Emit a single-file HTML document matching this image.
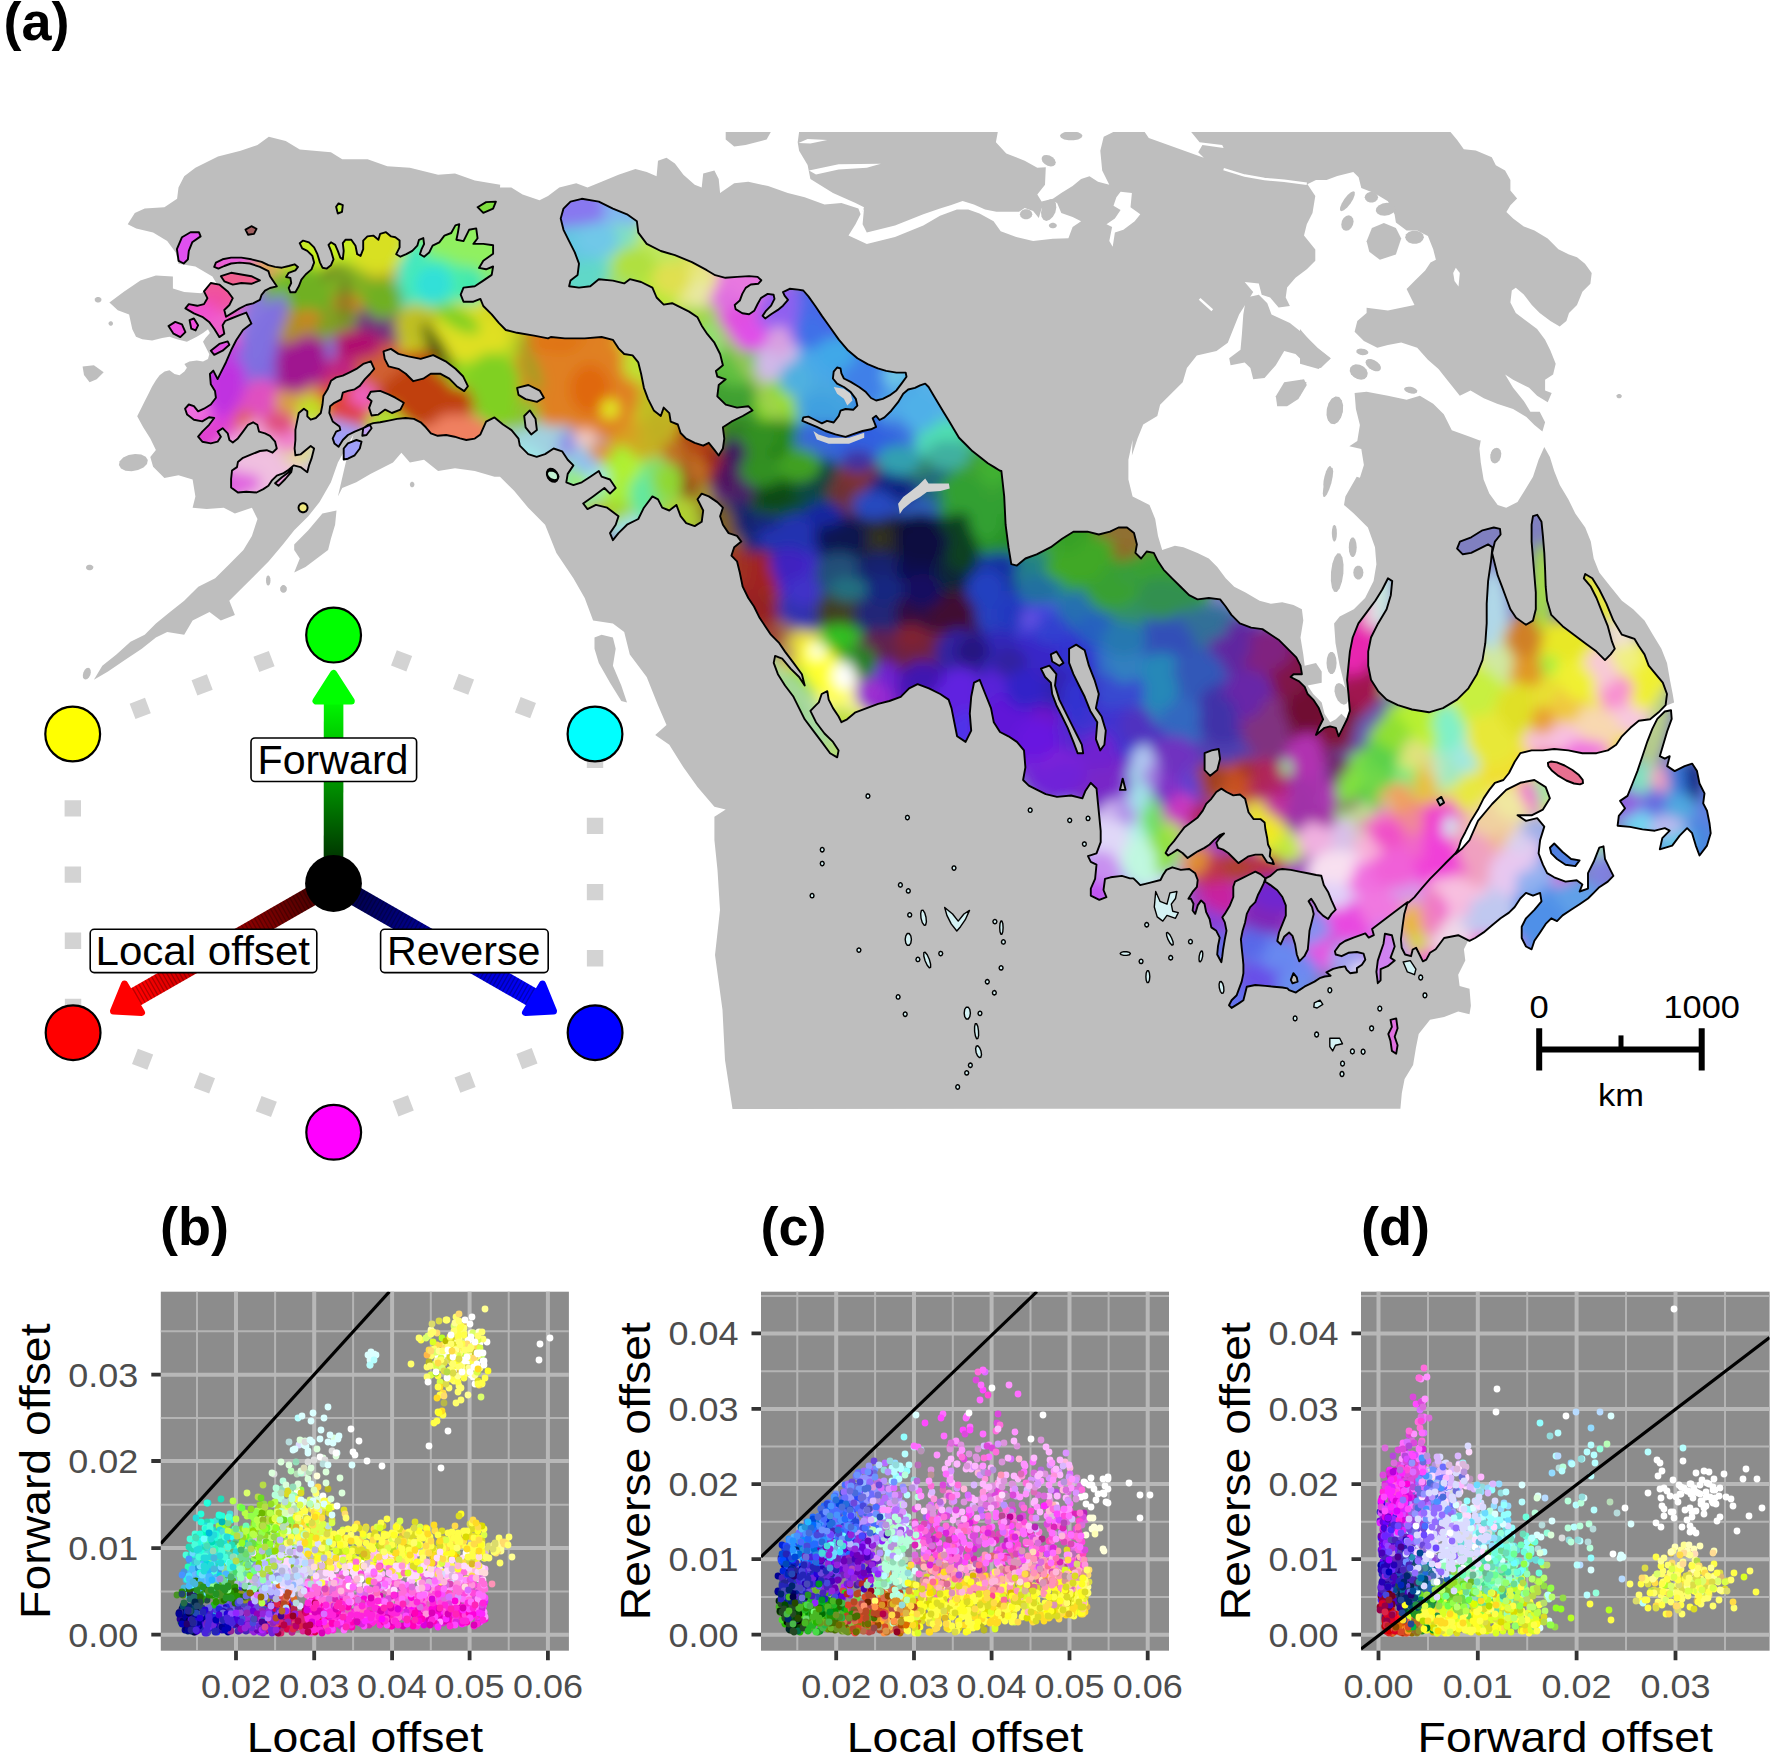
<!DOCTYPE html>
<html><head><meta charset="utf-8"><title>Figure</title>
<style>html,body{margin:0;padding:0;background:#fff}svg{display:block}text{font-family:"Liberation Sans",sans-serif}</style>
</head><body>
<svg width="1772" height="1760" viewBox="0 0 1772 1760">
<defs><clipPath id="mapclip"><rect x="0" y="132" width="1772" height="977"/></clipPath></defs>
<rect width="1772" height="1760" fill="#fff"/>
<g clip-path="url(#mapclip)">
<g id="land">
<polygon fill="#bebebe" points="500.2,184.7 474.8,180.4 455,173.4 438.1,174.8 409.9,167.7 387.3,166.3 367.6,159.3 342.2,159.3 330.9,152.2 299.8,149.4 285.7,140.9 268.8,136.7 257.5,145.1 240.6,150.8 218,156.4 195.4,167.7 184.2,176.2 178.5,187.5 177.1,198.8 164.4,207.2 144.7,208.6 134.8,212.9 127.7,224.2 136.2,228.4 153.1,232.6 167.2,241.1 175.7,252.4 178.5,263.7 195.4,266.5 212.4,276.4 216.6,283.4 201.1,293.3 184.2,291.9 172.9,288.5 172.9,276.4 155.9,275.5 140.4,280.6 123.5,291.9 109.4,302.6 117.8,310.2 129.1,314.4 132.3,329.3 136,336.8 142.2,339.3 152.1,340.5 162.1,338 169.5,336.8 177,339.3 186.9,341.7 196.8,336.8 203,333 208,329.3 209.9,333 205.5,338 203,341.7 205.5,346.7 209.3,354.2 208,359.1 203,361.6 196.8,360.4 189.4,361.6 184.4,364.1 186.9,367.8 184.4,371.5 179.5,375.3 174.5,374 169.5,370.3 164.6,371.5 159.6,375.3 155.9,380.2 152.1,386.4 148.4,393.9 144.7,401.3 141,408.8 137.2,416.2 143.2,427.3 150.3,438.6 155.9,449.9 150.3,456.9 153.1,466.8 164.4,478.1 178.5,475.3 192.6,479.5 195.4,496.4 192.6,507.7 206.7,509.1 223.7,507.7 234.9,513.4 251.9,507.7 257.5,519 251.9,535.9 243.4,550 229.3,564.2 215.2,578.3 198.3,586.7 184.2,600.8 170,612.1 155.9,623.4 144.7,634.7 130.5,641.7 116.4,654.4 102.3,665.7 93.9,679.8 108,671.4 124.9,660.1 141.8,648.8 155.9,637.5 167.2,631.9 184.2,634.7 192.6,620.6 209.5,612.1 220.8,620.6 234.9,614.9 229.3,600.8 240.6,589.5 254.7,575.4 268.8,561.3 282.9,544.4 294.2,530.3 308.3,516.2 319.6,502.1 330.9,482.3 337.9,462.6 353.5,434.4 346.4,459.8 337.9,496.4 342.2,488 356.3,482.3 370.4,473.9 393,462.6 401.4,452.7 409.9,462.6 424,459.8 438.1,471 455,468.2 474.8,471 494.5,476.7 500,476.7 514.1,490.8 528.2,507.7 545.1,524.7 556.4,552.9 573.4,578.3 584.7,598 593.1,620.6 612.9,623.4 624.2,631.9 629.8,654.4 646.7,677 658,705.2 666.5,725 655.2,734.9 669.3,744.7 683.4,767.3 697.5,787.1 714.4,806.8 725.7,809.6 714.4,816.7 714.4,840.1 717.5,870 720,910 715,955 722.5,1010 725,1060 732.5,1109 1400.4,1108.7 1401.8,1093.2 1404.6,1079.1 1413.1,1065 1415.9,1048.1 1418.7,1034 1430,1019.8 1444.1,1017 1458.2,1011.4 1469.5,1014.2 1470.9,1005.7 1469.5,988.8 1459.6,986 1458.2,974.7 1465.3,960.6 1463.9,949.3 1469.5,938 1441.3,892.9 1441.3,806.8 1497.7,736.3 1610.6,736.3 1652.9,710.9 1674.1,702.4 1672.7,694 1669.9,679.8 1667,662.9 1661.4,648.8 1652.9,634.7 1644.5,620.6 1633.2,609.3 1621.9,600.8 1610.6,586.7 1599.3,572.6 1593.7,558.5 1590.8,541.6 1585.2,527.5 1575.3,513.4 1568.3,499.3 1559.8,485.1 1554.2,471 1549.9,456.9 1544.3,447.1 1538.6,459.8 1533,476.7 1524.5,490.8 1517.5,502.1 1506.2,507.7 1497.7,504.9 1489.3,493.6 1483.6,479.5 1480.8,462.6 1479.4,448.5 1480.8,440 1481.1,441 1470.5,437 1451.8,430.3 1443.8,414.3 1433.2,403.7 1419.9,395.7 1406.6,399.7 1387.9,395.7 1366.6,391.7 1354.6,393 1355.9,409 1359.9,425 1357.3,441 1349.3,446.3 1361.3,449 1363.9,464.9 1359.9,477.7 1356.7,476.7 1345.4,496.4 1344,504.9 1353.8,513.4 1367.9,527.5 1375,547.2 1376.4,564.2 1373.6,581.1 1365.1,598 1353.8,609.3 1339.7,616.4 1334.1,623.4 1335.5,643.2 1339.7,665.7 1344,682.7 1348.2,699.6 1351,710.9 1352.7,710.9 1347.1,719.3 1341.4,713.7 1335.8,719.3 1330.1,722.2 1324.5,713.7 1321.7,702.4 1313.2,694 1307.6,685.5 1321.7,682.7 1321.7,671.4 1316,662.9 1304.7,665.7 1303.3,654.4 1300.5,637.5 1303.3,620.6 1301.9,609.3 1293.5,605.1 1282.2,602.2 1270.9,603.7 1259.6,600.8 1245.5,592.4 1234.2,586.7 1225.7,578.3 1217.3,567 1208.8,558.5 1197.5,552.9 1183.4,547.2 1174.9,545.8 1162.2,550 1158,535.9 1155.2,519 1149.5,504.9 1141.1,500.7 1132.6,496.4 1128.4,479.5 1128.4,459.8 1132.6,440 1131.9,455.5 1137.5,438.6 1143.2,424.5 1157.3,416 1160.1,404.7 1171.4,393.5 1182.7,382.2 1186.9,368.1 1196.8,355.4 1216.5,351.1 1227.8,342.7 1233.5,328.6 1239.1,314.4 1246.2,303.2 1253.2,291.9 1244.7,282 1258.8,283.4 1261.7,294.7 1270.1,297.5 1278.6,307.4 1289.9,306 1285.7,297.5 1287.1,287.6 1295.5,277.8 1306.8,269.3 1315.3,260.8 1315.3,249.5 1304,235.4 1306.8,224.2 1312.5,212.9 1315.3,195.9 1306.8,183.2 1305.3,185.2 1316,179.9 1326.6,179.9 1337.3,175.9 1353.3,171.9 1358.6,177.3 1361.3,187.9 1374.6,193.2 1387.9,201.2 1394.6,214.5 1395.9,222.5 1406.6,230.5 1417.2,230.5 1427.9,235.9 1433.2,249.2 1435.9,259.8 1430.5,262.5 1425.2,270.5 1414.5,281.1 1406.6,289.1 1414.5,305.1 1401.2,307.8 1387.9,310.4 1366.6,307.8 1366.6,313.1 1357.3,321.1 1354.6,331.8 1363.9,341.1 1377.3,347.7 1387.9,345.1 1401.2,342.4 1417.2,347.7 1427.9,359.7 1438.5,369 1449.2,382.4 1459.8,395.7 1470.5,390.4 1483.8,398.3 1497.1,403.7 1513.1,409 1526.4,417 1534.4,425 1542.4,431.6 1545.1,422.3 1539.7,411.7 1530.4,411.7 1523.8,401 1513.1,387.7 1505.1,374.4 1513.1,379.7 1529.1,387.7 1537.1,395.7 1547.7,402.3 1551.7,393 1545.1,390.4 1545.1,379.7 1553.1,374.4 1555.7,363.7 1550.4,350.4 1545.1,339.7 1537.1,329.1 1526.4,321.1 1515.8,313.1 1510.4,302.5 1511.8,290.5 1515.8,287.8 1523.8,294.5 1531.8,305.1 1539.7,313.1 1550.4,321.1 1559.7,326.4 1566.4,321.1 1569,313.1 1577,305.1 1582.4,291.8 1590.4,283.8 1591.7,273.1 1585,263.8 1577,257.2 1569,254.5 1558.4,249.2 1547.7,238.5 1534.4,230.5 1523.8,226.5 1513.1,218.5 1506.4,211.9 1510.4,205.2 1517.1,198.6 1510.4,190.6 1510.4,179.9 1505.1,170.6 1495.8,165.3 1491.8,157.3 1475.8,150.6 1463.8,149.3 1457.2,140 1450.5,132 1191.1,131.9 1199.6,142.3 1222.2,145.1 1223.6,148 1202.4,145.1 1198.2,152.2 1203.8,157.8 1148.8,138.1 1144.6,131.9 1113.5,131.9 1103.7,136.7 1100.3,150.8 1102.2,170.5 1109.3,184.7 1098,181.8 1089.5,176.2 1081.1,179 1072.6,186.1 1061.3,193.1 1052.9,198.8 1041.6,201.6 1037.3,194.5 1045,184.7 1045.8,167.2 1037.3,167.7 1024.7,160.7 1006.3,153.6 995.9,142.3 997.8,131.9 799.1,131.9 797.7,142.3 799.1,150.8 807.6,164.9 810.4,179 833,193.1 855.5,203 864,207.2 861.2,215.7 858.4,208.6 841.4,203 824.5,204.4 804.7,197.3 787.8,193.1 768.1,186.1 748.3,181.8 734.2,183.2 720.1,193.1 718.7,179 714.4,170.5 703.2,173.4 701.7,187.5 694.7,184.7 683.4,174.8 674.9,163.5 666.5,157.8 658,160.7 656.6,176.2 646.7,172 635.4,169.1 618.5,174.8 601.6,181.8 587.5,187.5 576.2,183.2 559.3,187.5 548,195.9 539.5,200.2 522.6,194.5 511.3,187.5 500,187.5"/>
<polygon fill="#fff" points="864,208.6 862.6,224.2 866.8,232.6 895,225.6 923.3,214.3 940,208.6 951.3,205 962.6,201 973.9,204.4 985.1,209.5 996.4,211.7 1019,211.7 1024.7,208.1 1033.1,210.9 1038.8,217.9 1041.6,208.6 1050,200.2 1057.1,203 1061.3,212.9 1072.6,217.1 1081.1,221.3 1072.6,227 1068.4,238.3 1052.9,238.8 1033.1,241.1 1016.2,236.9 1000.7,231.2 993.6,221.3 979.5,213.4 968.2,209.5 956.9,209.5 940,215.7 923.3,225.6 895,236.9 866.8,243.9 848.5,235.4 855.5,224.2 859.8,215.7"/>
<polygon fill="#fff" points="809,170.5 838.6,164.3 880.9,163.8 866.8,167.7 838.6,169.4 816,174.5"/>
<polygon fill="#fff" points="798.5,142.9 807.6,138.9 827.3,140.1 810.4,143.5"/>
<polygon fill="#fff" points="1120.6,191.7 1131.9,193.1 1130.5,207.2 1140.3,214.3 1134.7,221.3 1123.4,229.8 1114.9,232.6 1112.7,246.7 1109.3,241.1 1112.1,227 1106.5,224.2 1114.9,218.5 1120.6,210 1113.5,205.8 1116.4,197.3"/>
<polygon fill="#fff" points="1455.8,267.8 1459.8,273.1 1458.5,286.5 1454.5,281.1 1453.2,273.1"/>
<polyline fill="none" stroke="#fff" stroke-width="2.5" points="1223.6,169.1 1244.7,175.6 1264.5,179 1284.2,180.7 1306.8,183.8"/>
<polyline fill="none" stroke="#fff" stroke-width="2.5" points="1199.6,298.9 1212.3,310.2"/>
<polygon fill="#bebebe" points="725.7,131.9 770.9,131.9 766.6,139.5 745.5,145.1 734.2,146.6 725.7,139.5"/>
<polygon fill="#bebebe" points="1055.2,164.5 1053.5,166 1050.8,166.5 1047.6,165.8 1044.7,164.1 1042.5,161.7 1041.6,159.1 1042,156.9 1043.8,155.3 1046.5,154.9 1049.6,155.5 1052.6,157.2 1054.7,159.6 1055.7,162.2"/>
<polygon fill="#bebebe" points="1082.5,135.8 1081.4,137.8 1078.2,139.4 1073.7,140.2 1068.7,140.2 1064.2,139.4 1061,137.8 1059.9,135.8 1061,133.9 1064.2,132.3 1068.7,131.4 1073.7,131.4 1078.2,132.3 1081.4,133.9"/>
<polygon fill="#bebebe" points="1032.3,214.3 1031.7,216.5 1029.9,218.2 1027.4,219.2 1024.7,219.2 1022.2,218.2 1020.5,216.5 1019.9,214.3 1020.5,212.1 1022.2,210.3 1024.7,209.3 1027.4,209.3 1029.9,210.3 1031.7,212.1"/>
<polygon fill="#bebebe" points="1056.8,225.6 1056.4,226.8 1055.3,227.8 1053.7,228.3 1052,228.3 1050.4,227.8 1049.3,226.8 1048.9,225.6 1049.3,224.3 1050.4,223.4 1052,222.8 1053.7,222.8 1055.3,223.4 1056.4,224.3"/>
<polygon fill="#bebebe" points="1055.3,212.5 1052.9,216.8 1049.7,219.8 1046.3,220.9 1043.4,219.8 1041.5,216.8 1041,212.5 1042,207.6 1044.3,203.3 1047.5,200.2 1050.9,199.2 1053.9,200.2 1055.8,203.3 1056.3,207.6"/>
<polygon fill="#bebebe" points="1366.6,241.2 1371.9,227.9 1383.9,223.1 1395.9,227.9 1401.2,238.5 1395.9,254.5 1379.9,259.8 1369.3,251.8"/>
<polygon fill="#bebebe" points="1350.5,203.4 1347.2,207.4 1343.9,210.2 1341.4,211.3 1340,210.3 1340.1,207.6 1341.7,203.6 1344.4,199.1 1347.6,195 1350.9,192.2 1353.4,191.2 1354.8,192.1 1354.7,194.9 1353.2,198.9"/>
<polygon fill="#bebebe" points="1352.9,225.1 1351.2,228.1 1348.7,230.2 1346,230.8 1343.5,229.9 1341.8,227.7 1341.3,224.5 1341.9,221.1 1343.6,218 1346.1,215.9 1348.9,215.3 1351.3,216.2 1353,218.4 1353.6,221.6"/>
<polygon fill="#bebebe" points="1378.1,197.2 1377.4,199.5 1375.5,201.4 1372.9,202.4 1369.9,202.4 1367.2,201.4 1365.4,199.5 1364.7,197.2 1365.4,194.9 1367.2,193.1 1369.9,192 1372.9,192 1375.5,193.1 1377.4,194.9"/>
<polygon fill="#bebebe" points="1395.7,207.5 1395.2,210.4 1392.9,213 1389.1,215 1384.6,215.7 1380.4,215.2 1377.3,213.5 1375.8,211 1376.3,208.1 1378.7,205.4 1382.5,203.5 1386.9,202.7 1391.1,203.2 1394.3,204.9"/>
<polygon fill="#bebebe" points="1423.9,237.2 1422.9,240.1 1420.4,242.4 1416.6,243.7 1412.5,243.7 1408.7,242.4 1406.1,240.1 1405.2,237.2 1406.1,234.3 1408.7,232 1412.5,230.7 1416.6,230.7 1420.4,232 1422.9,234.3"/>
<polygon fill="#bebebe" points="1246.2,297.5 1258.8,294.7 1267.3,303.2 1271.5,314.4 1289.9,322.9 1304,334.2 1318.1,348.3 1330.8,358.2 1320.9,368.1 1306.8,365.2 1295.5,354 1284.2,351.1 1275.8,365.2 1264.5,377.9 1253.2,379.3 1250.4,368.1 1244.7,362.4 1230.6,365.2 1229.2,358.2 1240.5,349.7 1241.9,334.2 1243.3,314.4"/>
<polygon fill="#bebebe" points="1275.8,396.3 1284.2,382.2 1304,379.3 1306.8,385 1298.4,399.1 1287.1,406.2 1277.2,406.2"/>
<polygon fill="#bebebe" points="1342.8,411.8 1341,417.6 1338,422.1 1334.4,424.2 1330.9,423.6 1328.3,420.4 1327,415.2 1327.3,409 1329.1,403.1 1332.1,398.7 1335.7,396.5 1339.2,397.1 1341.8,400.4 1343.1,405.6"/>
<polygon fill="#bebebe" points="1366.8,376.8 1364.6,378.9 1361.2,379.7 1357.5,379 1354,377 1351.5,374.1 1350.5,370.8 1351.2,367.8 1353.4,365.7 1356.8,364.9 1360.6,365.6 1364.1,367.6 1366.5,370.5 1367.5,373.8"/>
<polygon fill="#bebebe" points="1380.1,370.1 1378.3,371.2 1375.4,371.2 1372.1,369.9 1369.1,367.8 1366.8,365.1 1365.8,362.5 1366.2,360.4 1368,359.3 1370.8,359.3 1374.1,360.6 1377.2,362.7 1379.5,365.4 1380.5,368"/>
<polygon fill="#bebebe" points="1367.4,353 1366.6,354.2 1364.9,355 1362.6,355.2 1360.1,354.7 1358,353.8 1356.6,352.4 1356.3,351 1357.1,349.8 1358.8,349 1361.1,348.8 1363.6,349.2 1365.7,350.2 1367.1,351.5"/>
<polygon fill="#bebebe" points="1417.2,391.7 1416.3,392.8 1414.3,393.4 1411.8,393.3 1409.1,392.6 1406.9,391.4 1405.5,389.9 1405.2,388.5 1406.2,387.3 1408.1,386.7 1410.7,386.8 1413.3,387.5 1415.6,388.7 1417,390.2"/>
<polygon fill="#bebebe" points="1331.3,483.2 1329.2,489.6 1326.9,494.6 1324.8,497.1 1323.3,496.8 1322.8,493.5 1323.3,488.1 1324.7,481.5 1326.8,475 1329.1,470.1 1331.2,467.5 1332.6,467.9 1333.2,471.2 1332.7,476.6"/>
<polygon fill="#bebebe" points="1300,329.1 1313.3,345.1 1330.6,358.4 1318.6,369 1300,363.7"/>
<polygon fill="#bebebe" points="1300,379.7 1306.7,382.4 1300,395.7"/>
<polygon fill="#bebebe" points="1368.4,352.7 1367.6,353.9 1365.8,354.6 1363.4,354.8 1360.8,354.3 1358.6,353.4 1357.2,352.1 1356.8,350.7 1357.6,349.6 1359.4,348.8 1361.8,348.7 1364.4,349.1 1366.6,350.1 1368,351.4"/>
<polygon fill="#bebebe" points="1380.6,369.3 1378.9,370.7 1376,371 1372.6,370 1369.3,368.2 1366.8,365.6 1365.6,363 1365.9,360.8 1367.6,359.4 1370.5,359.1 1373.9,360.1 1377.2,362 1379.7,364.5 1380.9,367.1"/>
<polygon fill="#bebebe" points="1367.1,375.7 1364.9,378 1361.6,379.1 1357.6,378.7 1353.9,377 1351,374.2 1349.7,370.9 1350.2,367.8 1352.3,365.4 1355.6,364.3 1359.6,364.7 1363.3,366.5 1366.2,369.3 1367.5,372.5"/>
<polygon fill="#bebebe" points="1417,392.1 1416,393.1 1414,393.6 1411.2,393.5 1408.4,392.7 1405.9,391.5 1404.4,390 1404.1,388.6 1405.1,387.6 1407.1,387.1 1409.9,387.2 1412.7,388 1415.2,389.2 1416.7,390.7"/>
<polygon fill="#bebebe" points="1342.5,411.7 1340.7,417.5 1337.7,421.9 1334,423.9 1330.5,423.3 1327.8,420.1 1326.5,415 1326.8,408.9 1328.6,403.2 1331.6,398.8 1335.2,396.7 1338.7,397.3 1341.4,400.5 1342.8,405.7"/>
<polygon fill="#bebebe" points="1500.9,457 1499.5,460.2 1497.4,462.5 1494.9,463.5 1492.6,462.8 1491,460.8 1490.3,457.7 1490.6,454.2 1492.1,451 1494.2,448.7 1496.7,447.8 1499,448.4 1500.6,450.4 1501.3,453.5"/>
<polygon fill="#bebebe" points="1621.8,396.2 1621.5,397.1 1620.8,397.9 1619.7,398.3 1618.5,398.3 1617.5,397.9 1616.7,397.1 1616.5,396.2 1616.7,395.3 1617.5,394.6 1618.5,394.1 1619.7,394.1 1620.8,394.6 1621.5,395.3"/>
<polygon fill="#bebebe" points="1330,477.4 1328.5,482.1 1326.7,485.7 1325.1,487.5 1323.9,487.1 1323.3,484.7 1323.6,480.8 1324.6,476 1326.1,471.3 1327.9,467.7 1329.6,465.9 1330.8,466.2 1331.3,468.6 1331,472.6"/>
<polygon fill="#bebebe" points="1343.4,573.2 1342,581.6 1339.7,588.3 1336.9,591.9 1334.1,591.7 1332,587.7 1330.9,580.7 1331,572.1 1332.4,563.6 1334.7,556.9 1337.5,553.3 1340.2,553.6 1342.4,557.6 1343.5,564.6"/>
<polygon fill="#bebebe" points="1356.7,547.2 1356.3,551.5 1355.2,554.9 1353.6,556.9 1351.8,556.9 1350.2,554.9 1349.1,551.5 1348.8,547.2 1349.1,542.9 1350.2,539.5 1351.8,537.6 1353.6,537.6 1355.2,539.5 1356.3,542.9"/>
<polygon fill="#bebebe" points="1363.4,572.6 1362.9,575.7 1361.5,578.1 1359.5,579.5 1357.2,579.5 1355.2,578.1 1353.8,575.7 1353.3,572.6 1353.8,569.6 1355.2,567.1 1357.2,565.7 1359.5,565.7 1361.5,567.1 1362.9,569.6"/>
<polygon fill="#bebebe" points="1336.9,533.1 1336.7,536.8 1336,539.7 1334.9,541.4 1333.8,541.4 1332.8,539.7 1332.1,536.8 1331.8,533.1 1332.1,529.4 1332.8,526.5 1333.8,524.9 1334.9,524.9 1336,526.5 1336.7,529.4"/>
<polygon fill="#bebebe" points="1336.6,662.9 1336.1,667.8 1334.7,671.7 1332.7,673.9 1330.4,673.9 1328.4,671.7 1327,667.8 1326.5,662.9 1327,658 1328.4,654.1 1330.4,651.9 1332.7,651.9 1334.7,654.1 1336.1,658"/>
<polygon fill="#bebebe" points="1347.3,691.8 1348.4,696.6 1348.1,700.9 1346.5,703.8 1343.9,704.8 1340.8,703.6 1337.8,700.5 1335.6,696.1 1334.5,691.3 1334.8,687 1336.4,684.1 1339,683.1 1342,684.3 1345,687.4"/>
<polygon fill="#bebebe" points="1499.7,455.5 1499.3,458.6 1498,461 1496.2,462.4 1494.2,462.4 1492.4,461 1491.1,458.6 1490.7,455.5 1491.1,452.5 1492.4,450 1494.2,448.6 1496.2,448.6 1498,450 1499.3,452.5"/>
<polygon fill="#bebebe" points="82.6,366.6 93.9,365.2 103.7,372.3 96.7,379.3 89.6,382.2 84,375.1"/>
<polygon fill="#bebebe" points="147.8,460 147,463.9 143.5,467.5 138,470.1 131.6,471.3 125.5,470.7 121,468.5 118.9,465.1 119.7,461.3 123.2,457.6 128.7,455 135.1,453.9 141.2,454.5 145.7,456.7"/>
<polygon fill="#bebebe" points="294.2,544.4 308.3,530.3 322.4,513.4 336.5,510.5 335.1,524.7 330.9,538.8 328.1,550 316.8,558.5 305.5,567 294.2,572.6 299.8,558.5 294.2,550"/>
<polygon fill="#bebebe" points="93.3,567.5 92.9,568.8 91.9,569.7 90.4,570.3 88.8,570.3 87.3,569.7 86.3,568.8 86,567.5 86.3,566.3 87.3,565.3 88.8,564.8 90.4,564.8 91.9,565.3 92.9,566.3"/>
<polygon fill="#bebebe" points="90.3,674.9 89,677.3 87.3,679 85.5,679.6 84,679 83,677.4 82.8,675 83.4,672.4 84.6,670 86.3,668.3 88.1,667.7 89.6,668.2 90.6,669.9 90.8,672.2"/>
<polygon fill="#bebebe" points="286.9,589 286.5,590.7 285.6,592.1 284.2,592.8 282.7,592.8 281.4,592.1 280.4,590.7 280.1,589 280.4,587.3 281.4,585.9 282.7,585.1 284.2,585.1 285.6,585.9 286.5,587.3"/>
<polygon fill="#bebebe" points="270.5,580.5 270.3,582.7 269.6,584.5 268.7,585.5 267.7,585.5 266.8,584.5 266.2,582.7 266,580.5 266.2,578.3 266.8,576.5 267.7,575.6 268.7,575.6 269.6,576.5 270.3,578.3"/>
<polygon fill="#bebebe" points="414.4,484.6 414.2,485.8 413.6,486.8 412.6,487.3 411.6,487.3 410.7,486.8 410.1,485.8 409.9,484.6 410.1,483.4 410.7,482.4 411.6,481.8 412.6,481.8 413.6,482.4 414.2,483.4"/>
<polygon fill="#bebebe" points="101.5,299.8 101.1,301 100.2,302 98.8,302.5 97.3,302.5 96,302 95,301 94.7,299.8 95,298.5 96,297.6 97.3,297 98.8,297 100.2,297.6 101.1,298.5"/>
<polygon fill="#bebebe" points="113,323.5 112.8,324.5 112.2,325.2 111.3,325.7 110.3,325.7 109.4,325.2 108.8,324.5 108.5,323.5 108.8,322.5 109.4,321.7 110.3,321.3 111.3,321.3 112.2,321.7 112.8,322.5"/>
<polygon fill="#bebebe" points="594.5,637.5 601.6,634.7 612.9,637.5 615.7,648.8 612.9,665.7 621.3,685.5 627,702.4 621.3,701 610,682.7 598.8,662.9 594.5,648.8"/>
<polygon fill="#bebebe" points="1588.4,831.9 1586.6,835.9 1584.5,838.8 1582.6,840.1 1581.2,839.6 1580.6,837.3 1580.9,833.8 1582,829.6 1583.8,825.7 1585.9,822.8 1587.8,821.5 1589.2,822 1589.8,824.3 1589.5,827.8"/>
<polygon fill="#bebebe" points="1614.5,932 1614.5,933.4 1613.5,934.8 1611.8,936 1609.6,936.8 1607.5,936.9 1605.9,936.5 1605,935.5 1605,934.2 1606,932.8 1607.8,931.6 1609.9,930.8 1612,930.6 1613.6,931.1"/>
</g>
<defs><clipPath id="bclip"><path d="M299.7,243.2 303.1,240.6 309,242.3 314.1,247.4 317.4,254.2 320,262.6 322.5,267.7 326.8,268.6 331,265.2 333.5,259.3 331,250.8 328.5,244.9 331,242.3 335.2,244.9 337.8,250.8 340.3,257.6 342.8,259.3 343.7,250.8 342.8,243.2 345.4,239.8 351.3,239.8 355.5,245.7 357.2,254.2 360.6,255.9 363.2,249.1 363.2,240.6 367.4,236.4 373.3,235.6 378.4,239.8 380.1,233.9 386,232.2 391.1,236.4 395.3,237.2 399.6,240.6 399.6,247.4 396.2,254.2 400.4,256.7 406.3,254.2 412.3,250.8 417.3,245.7 419,239.8 423.3,238.1 424.1,244 421.6,249.1 419.9,254.2 424.1,256.7 429.2,252.5 432.6,245.7 439.3,242.3 444.4,235.6 451.2,233 455.4,225.4 459.3,224.2 457.9,232.6 456.4,239.7 463.5,241.1 469.1,229.8 476.2,228.4 477.6,238.3 473.4,243.9 483.3,243.9 493.1,245.3 493.1,253.8 483.3,260.8 479,267.9 486.1,269.3 493.1,266.5 491.7,274.9 483.3,280.6 474.8,286.2 463.5,287.6 460.7,294.7 463.5,301.7 473.4,301.7 480.4,298.9 483.3,306 491.7,314.4 498.8,322.9 505.8,330 517.1,332.8 534,335.6 548.1,338.4 550.8,337 564.9,338.4 584.7,338.4 601.6,337 612.9,339.8 618.5,348.3 624.2,354 632.6,355.4 638.3,362.4 641.1,373.7 643.9,387.8 648.1,399.1 653.8,410.4 660.8,416 663.7,407.6 669.3,413.2 670.7,421.7 677.8,424.5 680.6,433 686.2,438.6 694.7,442.8 703.2,445.7 708.8,442.8 714.4,449.9 718.7,455.5 722.9,448.5 724.3,438.6 722.9,427.3 731.4,421.7 742.7,416 752.5,410.4 748.3,406.2 737,407.6 725.7,404.7 717.3,396.3 718.7,385 725.7,379.3 717.3,376.5 715.9,370.9 722.9,365.2 720.1,354 714.4,342.7 707.4,334.2 701.7,325.7 697.5,317.3 689.1,311.6 680.6,307.4 672.1,303.2 663.7,304.6 656.6,297.5 652.4,287.6 641.1,282 629.8,279.2 624.2,283.4 612.9,280.6 598.8,279.2 590.3,286.2 579,287.6 569.1,286.2 570.5,280.6 577.6,274.9 579,263.7 574.8,252.4 569.1,241.1 563.5,229.8 560.7,218.5 563.5,208.6 570.5,201.6 581.8,198.8 598.8,201.6 612.9,208.6 627,214.3 636.9,221.3 638.3,232.6 646.7,243.9 660.8,251 674.9,255.2 691.9,262.2 706.8,270.2 715.2,275.2 725.4,277.8 737.2,276.9 749.1,276.1 757.6,276.9 761.3,280.3 758.4,283.7 750.8,284.5 745.7,287.9 742.3,293.9 739.8,300.6 734.7,304.9 735.6,309.1 742.3,313.3 749.1,314.2 754.2,310.8 757.6,304 760.9,298.1 767.7,293.9 773.6,294.7 774.5,298.9 771.1,305.7 766,310.8 762.6,315.9 765.2,318.4 771.1,314.2 777.9,309.9 783,305.7 788,299.8 784.6,295.6 783,292.2 789.7,288.8 798.2,289.6 803.3,290.5 808.4,296.4 815.1,305.7 821.9,315.9 830.4,327.7 838.8,339.6 847.3,349.7 857.4,358.2 867.6,364.1 877.8,368.4 886.2,370.9 896.4,372.6 905.7,372.6 906.5,376.8 901.5,383.6 896.4,390.4 889.6,395.4 882.8,398.8 876.1,400.5 871,398 865.9,392.1 859.1,387 850.7,381.9 843.9,378.5 841.4,373.4 840.5,368.4 837.1,367.5 833.7,371.7 832.9,378.5 837.1,383.6 843.9,387 850.7,392.1 855.8,398.8 857.4,405.6 853.2,409.8 845.6,409 840.5,410.7 838.8,415.8 833.7,422.5 827,420.8 821.9,423.4 815.1,420 808.4,416.6 803.3,417.4 802.4,420.8 808.4,423.4 816.8,426.8 825.3,431 835.4,434.4 845.6,436.9 852.4,434.4 862.5,431 871,429.3 876.1,426.8 874.4,422.5 872.7,418.3 876.1,415.8 879.5,420 884.5,417.4 891.3,410.7 898.1,402.2 903.2,393.7 908.2,389.5 915,387.8 920.1,385.3 925.2,383.6 928.6,387 933.6,395.4 938.7,403.9 943.8,412.4 948.9,420.8 953.9,429.3 959,437.8 965.8,444.5 972.6,451.3 979.3,456.4 987.8,463.2 994.6,467.4 1000,470.8 1001.4,471 1004.2,496.4 1005.6,524.7 1008.5,547.2 1011.3,564.2 1016.9,565.6 1025.4,558.5 1036.7,554.3 1050.8,547.2 1062.1,538.8 1073.4,531.7 1087.5,531.7 1098.8,534.5 1110,531.7 1118.5,527.5 1127,527.5 1134,533.1 1136.9,544.4 1135.4,552.9 1141.1,558.5 1146.7,551.5 1153.8,552.9 1158,561.3 1163.7,569.8 1172.1,578.3 1180.6,586.7 1189.1,595.2 1197.5,599.4 1208.8,598 1220.1,599.4 1225.7,606.5 1231.4,614.9 1239.8,623.4 1251.1,627.6 1262.4,629.1 1270.9,634.7 1279.3,640.3 1287.8,648.8 1296.3,657.3 1300.5,665.7 1301.9,674.2 1293.5,674.2 1290.6,677 1299.1,681.3 1304.7,686.9 1307.6,694 1313.2,699.6 1318.8,708.1 1323.1,719.3 1318.8,727.8 1316,734.9 1324.5,727.8 1330.1,726.4 1335.8,727.8 1338.6,736.3 1342.8,727.8 1347.1,719.3 1349.9,710.9 1348.5,694 1347.1,679.8 1348.5,665.7 1349.9,651.6 1352.7,637.5 1358.4,623.4 1366.8,612.1 1375.3,600.8 1382.3,589.5 1388,578.3 1392.2,581.1 1390.8,595.2 1386.6,609.3 1378.1,623.4 1371,637.5 1368.2,651.6 1368.2,665.7 1371,679.8 1378.1,691.1 1386.6,699.6 1397.9,705.2 1412,709.5 1428.9,712.3 1443,708.1 1457.1,699.6 1468.4,688.3 1476.9,674.2 1482.5,660.1 1485.3,643.2 1486.7,623.4 1486.7,603.7 1488.1,581.1 1491,561.3 1492.4,547.2 1488.1,544.4 1479.7,548.6 1471.2,552.9 1462.8,554.3 1457.1,548.6 1459.9,541.6 1471.2,537.3 1482.5,530.3 1493.8,527.5 1500,528.9 1500.6,534.5 1494.9,541.6 1492.1,552.9 1494.9,564.2 1497.7,575.4 1502,586.7 1506.2,598 1510.4,609.3 1516.1,617.8 1526,624.8 1533,620.6 1535.8,609.3 1535.8,592.4 1534.4,575.4 1533,558.5 1531.6,541.6 1531.6,524.7 1533,516.2 1537.2,514.8 1541.5,521.8 1542.9,535.9 1544.3,552.9 1545.1,569.8 1545.7,586.7 1547.1,600.8 1551.3,614.9 1562.6,626.2 1573.9,634.7 1585.2,643.2 1596.5,651.6 1605,660.1 1610.6,654.4 1614.8,648.8 1612,641.7 1607.8,626.2 1602.1,612.1 1596.5,598 1590.8,586.7 1583.8,578.3 1585.2,574 1592.3,578.3 1599.3,589.5 1606.4,603.7 1613.4,620.6 1621.9,634.7 1630.4,637.5 1634.6,638.9 1638.8,646 1644.5,654.4 1648.7,665.7 1655.7,674.2 1662.8,682.7 1667,694 1665.6,705.2 1658.6,712.3 1650.1,719.3 1638.8,720.8 1630.4,727.8 1621.9,736.3 1616.2,744.7 1607.8,750.4 1596.5,753.2 1582.4,753.2 1568.3,750.4 1554.2,749 1542.9,750.4 1531.6,750.4 1520.3,753.2 1514.7,761.7 1509,773 1503.4,780 1494.9,782.8 1489.3,789.9 1483.6,798.4 1478,809.6 1470.9,820.9 1465.3,832.2 1461.1,840.1 1458.8,847.7 1455.4,853.9 1461.6,849.1 1469.5,840.1 1478,820.9 1492.1,804 1506.2,789.9 1520.3,782.8 1534.4,780 1545.7,787.1 1549.9,798.3 1542.9,809.6 1531.6,815.3 1517.5,815.3 1526,820.9 1537.2,818.1 1544.3,826.6 1540.1,840.1 1538.6,853.4 1542.9,864.7 1547.1,873.1 1554.2,877.3 1565.5,881.6 1576.7,880.2 1582.4,884.4 1579.6,891.5 1588,888.6 1588,873.1 1593.7,861.8 1599.3,847.7 1603.5,846.3 1605,859 1610.6,870.3 1613.4,875.9 1607.8,881.6 1599.3,887.2 1593.7,892.9 1588,898.5 1579.6,904.2 1571.1,909.8 1562.6,915.4 1557,921.1 1551.3,918.3 1545.7,923.9 1540.1,932.4 1534.4,940.8 1531.6,949.3 1526,946.5 1521.7,938 1521.7,926.7 1526,918.3 1534.4,909.8 1541.5,901.3 1540.1,892.9 1533,895.7 1526,892.9 1520.3,898.5 1514.7,907 1509,912.6 1500.6,918.3 1492.1,925.3 1483.6,932.4 1475.2,938 1469.5,940.8 1458.2,935.2 1444.1,938 1435.7,949.3 1430,952.8 1426.3,959.6 1422.9,961.3 1419.5,954.5 1416.1,947.8 1412.7,949.5 1411,956.2 1405.1,954.5 1401.7,947.8 1400.9,939.3 1402.6,925.8 1404.3,913.9 1407.7,902.1 1394.1,912.2 1380.6,922.4 1372.1,929.1 1373.8,935.1 1368.7,937.6 1365.3,933.4 1353.5,937.6 1345,941 1339.9,944.4 1334.9,951.2 1335.7,954.5 1341.6,956.2 1348.4,952.8 1356.9,952 1363.6,953.7 1365.3,959.6 1361.9,964.7 1356.9,968.1 1356.9,972.3 1350.1,973.2 1346.7,969.8 1345,966.4 1339.9,967.2 1333.2,968.9 1326.4,972.3 1330.6,975.7 1324.7,976.5 1319.6,978.2 1314.5,981.6 1309.5,984.2 1304.4,986.7 1299.3,990.1 1295.9,992.6 1289.1,990.1 1287.4,988.4 1282.4,987.5 1273.9,986.7 1265.4,985.9 1255.3,985 1246.8,986.7 1245.1,993.5 1243.4,1000.2 1238.4,1003.6 1231.6,1007.9 1229,1005.3 1231.6,1000.2 1236.7,995.2 1239.2,988.4 1241.7,981.6 1243.4,973.2 1243.4,964.7 1242.6,956.2 1241.7,947.8 1240.9,939.3 1242.6,930.8 1245.1,922.4 1246.8,913.9 1250.2,907.1 1255.3,902.1 1257.8,895.3 1260.4,890.2 1263.7,883.4 1265.4,878.4 1260.4,874.1 1255.3,871.6 1248.5,875 1241.7,878.4 1235,881.7 1233.3,886.8 1233.3,897 1229.9,905.4 1224.8,913.9 1222.3,917.3 1224.8,922.4 1226.5,930.8 1224.8,939.3 1223.1,949.5 1222.3,956.2 1221.4,962.2 1217.2,954.5 1218,946.1 1219.7,937.6 1216.3,930.8 1211.3,927.4 1209.6,919 1206.2,912.2 1204.5,903.7 1201.1,900.4 1197.7,905.4 1195.2,913.9 1192.6,910.5 1193.5,903.7 1190.9,898.7 1188.4,898.7 1192.6,891.9 1196.9,886.8 1197.7,880 1195.2,873.3 1189.3,869 1180.8,869.9 1172.3,867.3 1166.4,869.9 1163,875 1160.5,880 1150.3,882.6 1140.2,885.1 1136.8,881.7 1133.4,878.4 1130,878.4 1121.9,875.9 1110.6,877.3 1105,878.8 1103.5,890 1106.4,897.1 1099.3,899.9 1090.8,895.7 1090.8,888.6 1095.1,878.8 1096.5,864.7 1090.8,861.8 1088,856.2 1096.5,853.4 1100.7,842.1 1100.7,830.8 1099.3,816.7 1097.9,802.6 1096.5,788.5 1090.8,782.8 1085.2,791.3 1082.4,798.3 1071.1,795.5 1057,796.9 1045.7,794.1 1037.2,789.9 1028.8,785.6 1023.1,780 1025.4,767.3 1024,750.4 1016.9,741.9 1008.5,736.3 1000,732 993.8,722.2 991,708.1 985.3,694 979.7,679.8 974,682.7 971.2,696.8 969.8,713.7 971.2,730.6 965.6,741.9 957.1,736.3 954.3,722.2 951.5,708.1 948.6,699.6 940.2,694 928.9,688.3 917.6,684.1 909.1,688.3 900.7,696.8 889.4,701 878.1,703.8 866.8,708.1 855.5,712.3 847.1,719.3 841.4,722.2 838.6,716.5 833,708.1 828.7,699.6 827.3,691.1 821.7,694 818.8,702.4 816,705.2 810.4,710.9 816,722.2 824.5,733.5 833,741.9 838.6,750.4 837.2,757.4 830.1,753.2 821.7,741.9 813.2,730.6 804.7,719.3 799.1,708.1 793.5,696.8 785,685.5 777.9,674.2 773.7,662.9 775.1,655.9 782.2,658.7 790.6,668.6 799.1,677 804.7,685.5 801.9,674.2 793.5,662.9 785,651.6 779.3,643.2 770.9,634.7 765.2,626.2 759.6,617.8 754,606.5 748.3,598 742.7,586.7 739.8,572.6 737,561.3 731.4,555.7 734.2,547.2 741.3,541.6 737,535.9 728.6,533.1 722.9,524.7 720.1,516.2 722.9,507.7 717.3,502.1 708.8,496.4 701.7,493.6 697.5,499.3 703.2,510.5 701.7,521.8 694.7,526.1 686.2,523.2 680.6,516.2 676.4,504.9 669.3,510.5 662.2,507.7 658,499.3 652.4,496.4 643.9,507.7 638.3,519 627,524.7 618.5,533.1 612.9,540.2 610,533.1 615.7,524.7 618.5,516.2 607.2,507.7 595.9,504.9 587.5,509.1 583.2,503.5 593.1,496.4 604.4,488 610,493.6 615.7,488 610,479.5 601.6,476.7 598.8,471 590.3,476.7 581.8,482.3 573.4,485.1 566.3,482.3 567.7,473.9 573.4,465.4 567.7,459.8 562.1,451.3 553.6,448.5 545.1,454.1 536.7,456.9 528.2,454.1 519.8,445.6 518.5,438.6 511.5,430.1 503,424.5 494.5,417.4 486.1,421.7 480.4,434.4 474.8,438.6 466.3,440 460,438.4 454.6,436.7 446.1,435 437.7,435.8 430.9,433.3 425.8,427.3 420.7,422.3 413.9,418.9 405.5,418 397,418.9 388.6,420.6 380.1,422.3 373.3,423.1 368.2,424.8 363.2,428.2 354.7,431.6 347.9,435 342.8,440 338.6,446.8 334.4,443.4 332.7,438.4 336.1,431.6 340.3,429.9 339.5,426.5 332.7,421.4 329.3,413 330.1,406.2 334.4,402.8 341.2,399.4 342.8,392.6 347.9,390.9 354.7,389.3 359.8,385.9 364.9,379.1 369.9,374 374.2,368.9 370.8,361.3 363.2,363.9 356.4,368.9 349.6,372.3 342.8,375.7 336.1,377.4 331,380.8 327.6,389.3 323.4,396 322.5,404.5 320.8,413 315.8,418 310.7,419.7 307.3,416.3 307.3,411.3 303.9,408.7 298.8,413 297.1,421.4 295.4,429.9 295.4,440 294.6,448.5 295.4,455.3 300.5,454.4 305.6,450.2 310.7,446 314.1,448.5 311.5,458.7 309,465.4 307.3,472.2 300.5,467.1 293.7,465.4 288.7,469.7 283.6,473.1 276.8,475.6 271.7,480.7 268.4,485.8 263.3,489.1 256.5,492.5 246.3,491.7 237.9,492.5 231.1,487.4 231.1,479 232,470.5 237,467.1 237.9,462.1 243,457.8 251.4,454.4 259.9,451 266.7,450.2 272.6,452.7 276.8,448.5 275.1,441.7 270,435.8 265,433.3 259,431.6 257.3,424.8 253.1,422.3 248,424.8 243,431.6 237.9,438.4 232.8,442.6 229.4,440 227.7,433.3 222.6,428.2 217.6,431.6 220.9,436.7 217.6,441.7 210.8,443.4 202.3,441.7 198.1,436.7 202.3,431.6 209.1,424.8 214.2,418 209.1,417.2 202.3,421.4 193.9,419.7 187.1,414.6 185.1,408.7 188.8,404.5 193.9,406.2 198.1,411.3 204,408.7 210.8,404.5 215.9,397.7 215,390.9 210.8,384.2 209.9,374 213.3,370.6 217.6,379.1 220.9,372.3 226,362.2 231.1,350.3 236.2,340.2 243,330 251.4,323.6 246.3,312.6 239.6,315.1 231.1,318.5 225.2,321 222.6,325.3 224.3,333.7 219.3,337.1 214.2,328.7 209.1,321.9 202.3,316.8 193.9,313.4 185.4,308.4 188.8,304.1 197.2,305.8 204,304.1 207.4,298.2 204,291.4 210.8,283 219.3,284.6 227.7,291.4 232.8,298.2 229.4,305 224.3,310 226,316.8 232.8,312.6 239.6,308.4 246.3,305 253.1,303.3 259.9,299.9 261.6,294.8 265,290.6 270,288 276.8,286.3 273.4,281.3 270,276.2 268.4,271.1 259.9,266.9 249.7,263.5 239.6,262.6 231.1,263.5 224.3,266 218.4,268.6 214.2,266.9 215.9,262.6 222.6,259.3 231.1,257.6 241.3,257.6 251.4,259.3 261.6,261.8 268.4,265.2 275.1,266.9 281.9,267.7 288.7,266 294.6,264.3 298,266.9 295.4,270.3 288.7,272.8 286.1,277 290.4,277.9 291.2,283 288.7,288 290.4,292.3 295.4,292.3 298.8,286.3 301.4,279.6 305.6,274.5 311.5,269.4 314.1,262.6 312.4,255.9 307.3,250.8 302.2,248.3ZM220.9,276.2 231.1,272.8 241.3,274.5 251.4,276.2 259.9,280.4 251.4,283.8 241.3,283 232.8,284.6 224.3,281.3ZM168.5,326.1 175.2,321.9 182,324.4 185.4,332.1 180.3,337.1 173.5,333.7ZM189.6,320.2 193.9,318.5 198.1,325.3 195.6,330.4 191.3,328.7ZM210.8,350.7 219.3,343.9 227.7,341.4 229.4,344.8 222.6,350.7 214.2,354.9ZM176.9,249.1 182,237.2 190.5,232.2 198.9,232.2 200.6,236.4 192.2,242.3 188.8,250.8 187.9,259.3 183.7,263.5 178.6,260.9ZM245.5,229.6 251.4,226.2 256.5,228.8 254,233.9 248,234.7ZM336.1,206.8 338.6,203.4 342.8,205.1 342,211.9 337.8,213.5ZM477.6,207.2 486.1,202.1 495.9,201.6 493.1,208.6 483.3,212.9ZM343.7,448.5 347.9,443.4 356.4,440 361.5,441.7 359.8,448.5 354.7,455.3 347.9,458.7 343.7,459.5ZM363.2,428.2 369.9,424.8 371.6,428.2 366.5,435 362.3,435.8ZM275.1,483.2 281.9,477.3 288.7,472.2 292.1,468 291.2,472.2 285.3,479 278.5,485.8ZM307.6,507.8 307.2,509.7 305.9,511.3 304.1,512.2 302,512.2 300.2,511.3 298.9,509.7 298.5,507.8 298.9,505.8 300.2,504.2 302,503.3 304.1,503.3 305.9,504.2 307.2,505.8ZM558.1,478.4 556.7,479.7 554.5,480.1 551.9,479.5 549.5,478.2 547.8,476.2 547,474.1 547.4,472.2 548.8,470.9 551.1,470.5 553.6,471 556,472.4 557.8,474.3 558.5,476.5ZM556.8,472.7 557.9,475.6 557.9,478.5 556.8,480.7 554.8,481.8 552.4,481.6 549.9,480.2 548,477.8 546.9,474.9 546.9,472.1 548,469.9 549.9,468.8 552.4,468.9 554.8,470.3ZM1664.8,711.5 1671,710.2 1671.7,718.9 1667.2,731.3 1663.5,743.8 1659.8,756.2 1664.8,758.7 1669.7,756.2 1667.2,766.1 1674.7,771.1 1684.6,766.1 1692.1,763.6 1697,771.1 1699.5,783.5 1704.5,793.4 1703.2,803.4 1707,810.8 1709.5,823.2 1710.7,833.2 1707,845.6 1699.5,855.5 1695.8,845.6 1692.1,833.2 1687.1,828.2 1679.7,835.6 1672.2,845.6 1659.8,849.3 1662.3,838.1 1669.7,830.7 1664.8,828.2 1654.8,830.7 1642.4,829.4 1630,826.9 1617.6,825.7 1618.8,815.8 1625,808.3 1620.1,800.9 1627.5,795.9 1632.5,783.5 1637.4,771.1 1642.4,756.2 1647.4,741.3 1652.3,728.9 1657.3,718.9ZM1583,783.1 1580,784.4 1574,783.5 1566.3,780.5 1558.5,775.9 1552.1,770.8 1548.3,766.1 1547.9,762.8 1550.9,761.5 1556.9,762.4 1564.6,765.5 1572.4,770 1578.9,775.1 1582.7,779.8ZM1549.9,847.7 1554.2,843.5 1562.6,852 1571.1,859 1579.6,860.4 1575.3,866.1 1565.5,864.7 1557,859 1551.3,853.4ZM1384.9,933.8 1391.9,935.2 1394.7,946.5 1390.5,957.8 1394.7,960.6 1387.7,966.2 1380.6,969.1 1380.6,980.3 1377.8,983.2 1376.4,971.9 1377.8,960.6 1380.6,952.1 1383.5,943.7ZM1390.5,1019.8 1396.2,1018.4 1397.6,1028.3 1394.7,1036.8 1397.6,1045.2 1396.2,1053.7 1391.9,1050.9 1390.5,1041 1388.3,1034 1391.9,1026.9Z"/></clipPath>
<filter id="blur" x="-5%" y="-5%" width="110%" height="110%"><feGaussianBlur stdDeviation="6.5"/></filter>
<filter id="blur2" x="-5%" y="-5%" width="110%" height="110%"><feGaussianBlur stdDeviation="4"/></filter></defs>
<polygon fill="#fff" points="1440,893 1460,840 1500,780 1560,745 1660,745 1700,720 1772,720 1772,1000 1600,1000 1560,950 1540,900 1500,860 1470,850 1455,860"/>
<g clip-path="url(#bclip)">
<rect x="60" y="130" width="1712" height="980" fill="#8080c0"/>
<g filter="url(#blur)">
<ellipse cx="260" cy="330" rx="90" ry="110" fill="#d040d0"/>
<ellipse cx="400" cy="330" rx="120" ry="120" fill="#b0c020"/>
<ellipse cx="540" cy="390" rx="90" ry="80" fill="#e08020"/>
<ellipse cx="620" cy="270" rx="70" ry="80" fill="#70d0d0"/>
<ellipse cx="740" cy="360" rx="70" ry="110" fill="#70c050" transform="rotate(-40 740 360)"/>
<ellipse cx="860" cy="400" rx="110" ry="80" fill="#40a0e0" transform="rotate(35 860 400)"/>
<ellipse cx="820" cy="560" rx="130" ry="120" fill="#202890"/>
<ellipse cx="960" cy="480" rx="80" ry="70" fill="#30a030"/>
<ellipse cx="1000" cy="650" rx="120" ry="110" fill="#4030c0"/>
<ellipse cx="1120" cy="590" rx="90" ry="50" fill="#38a030"/>
<ellipse cx="1200" cy="700" rx="110" ry="90" fill="#5040b0"/>
<ellipse cx="1120" cy="850" rx="80" ry="70" fill="#b0b0f0"/>
<ellipse cx="1330" cy="720" rx="50" ry="90" fill="#901848"/>
<ellipse cx="1430" cy="760" rx="80" ry="90" fill="#90e050"/>
<ellipse cx="1540" cy="720" rx="100" ry="100" fill="#f0e030"/>
<ellipse cx="1450" cy="900" rx="130" ry="80" fill="#f060d0"/>
<ellipse cx="1270" cy="880" rx="90" ry="90" fill="#a040c0"/>
<ellipse cx="1600" cy="950" rx="80" ry="60" fill="#6090e8"/>
<ellipse cx="1680" cy="840" rx="50" ry="70" fill="#6080e0"/>
<ellipse cx="720" cy="459" rx="45" ry="43" fill="#802040"/>
<ellipse cx="760" cy="459" rx="45" ry="43" fill="#309020"/>
<ellipse cx="800" cy="459" rx="45" ry="43" fill="#40a020"/>
<ellipse cx="840" cy="459" rx="45" ry="43" fill="#3070c0"/>
<ellipse cx="880" cy="459" rx="45" ry="43" fill="#2878b0"/>
<ellipse cx="920" cy="459" rx="45" ry="43" fill="#30a0a8"/>
<ellipse cx="960" cy="459" rx="45" ry="43" fill="#40b090"/>
<ellipse cx="720" cy="498" rx="45" ry="43" fill="#706020"/>
<ellipse cx="760" cy="498" rx="45" ry="43" fill="#185020"/>
<ellipse cx="800" cy="498" rx="45" ry="43" fill="#104838"/>
<ellipse cx="840" cy="498" rx="45" ry="43" fill="#703030"/>
<ellipse cx="880" cy="498" rx="45" ry="43" fill="#2848b8"/>
<ellipse cx="920" cy="498" rx="45" ry="43" fill="#3060c0"/>
<ellipse cx="960" cy="498" rx="45" ry="43" fill="#30a030"/>
<ellipse cx="1000" cy="498" rx="45" ry="43" fill="#30a030"/>
<ellipse cx="760" cy="537" rx="45" ry="43" fill="#182878"/>
<ellipse cx="800" cy="537" rx="45" ry="43" fill="#2030b0"/>
<ellipse cx="840" cy="537" rx="45" ry="43" fill="#101858"/>
<ellipse cx="880" cy="537" rx="45" ry="43" fill="#282820"/>
<ellipse cx="920" cy="537" rx="45" ry="43" fill="#081038"/>
<ellipse cx="960" cy="537" rx="45" ry="43" fill="#104020"/>
<ellipse cx="1000" cy="537" rx="45" ry="43" fill="#289028"/>
<ellipse cx="1080" cy="537" rx="45" ry="43" fill="#38a028"/>
<ellipse cx="1120" cy="537" rx="45" ry="43" fill="#907030"/>
<ellipse cx="760" cy="576" rx="45" ry="43" fill="#a02020"/>
<ellipse cx="800" cy="576" rx="45" ry="43" fill="#4028c8"/>
<ellipse cx="840" cy="576" rx="45" ry="43" fill="#205078"/>
<ellipse cx="880" cy="576" rx="45" ry="43" fill="#182070"/>
<ellipse cx="920" cy="576" rx="45" ry="43" fill="#101050"/>
<ellipse cx="960" cy="576" rx="45" ry="43" fill="#102838"/>
<ellipse cx="1000" cy="576" rx="45" ry="43" fill="#1830a0"/>
<ellipse cx="1040" cy="576" rx="45" ry="43" fill="#208088"/>
<ellipse cx="1080" cy="576" rx="45" ry="43" fill="#30a030"/>
<ellipse cx="1120" cy="576" rx="45" ry="43" fill="#38a030"/>
<ellipse cx="760" cy="614" rx="45" ry="43" fill="#983020"/>
<ellipse cx="800" cy="614" rx="45" ry="43" fill="#3030b0"/>
<ellipse cx="840" cy="614" rx="45" ry="43" fill="#404020"/>
<ellipse cx="880" cy="614" rx="45" ry="43" fill="#202878"/>
<ellipse cx="920" cy="614" rx="45" ry="43" fill="#301040"/>
<ellipse cx="960" cy="614" rx="45" ry="43" fill="#401030"/>
<ellipse cx="1000" cy="614" rx="45" ry="43" fill="#2840c0"/>
<ellipse cx="1040" cy="614" rx="45" ry="43" fill="#4848e0"/>
<ellipse cx="1080" cy="614" rx="45" ry="43" fill="#2870b0"/>
<ellipse cx="1120" cy="614" rx="45" ry="43" fill="#309068"/>
<ellipse cx="800" cy="653" rx="45" ry="43" fill="#e0d040"/>
<ellipse cx="840" cy="653" rx="45" ry="43" fill="#30a020"/>
<ellipse cx="880" cy="653" rx="45" ry="43" fill="#602050"/>
<ellipse cx="920" cy="653" rx="45" ry="43" fill="#702040"/>
<ellipse cx="960" cy="653" rx="45" ry="43" fill="#3020a0"/>
<ellipse cx="1000" cy="653" rx="45" ry="43" fill="#3028b8"/>
<ellipse cx="1040" cy="653" rx="45" ry="43" fill="#3828c8"/>
<ellipse cx="1080" cy="653" rx="45" ry="43" fill="#3030d0"/>
<ellipse cx="1120" cy="653" rx="45" ry="43" fill="#3070c8"/>
<ellipse cx="800" cy="692" rx="45" ry="43" fill="#80d840"/>
<ellipse cx="840" cy="692" rx="45" ry="43" fill="#f8f8a0"/>
<ellipse cx="880" cy="692" rx="45" ry="43" fill="#9028d0"/>
<ellipse cx="920" cy="692" rx="45" ry="43" fill="#4818b8"/>
<ellipse cx="960" cy="692" rx="45" ry="43" fill="#6020e0"/>
<ellipse cx="1000" cy="692" rx="45" ry="43" fill="#5820d8"/>
<ellipse cx="1040" cy="692" rx="45" ry="43" fill="#4020c0"/>
<ellipse cx="1080" cy="692" rx="45" ry="43" fill="#3828c8"/>
<ellipse cx="1120" cy="692" rx="45" ry="43" fill="#3848d0"/>
<ellipse cx="840" cy="731" rx="45" ry="43" fill="#c0e040"/>
<ellipse cx="960" cy="731" rx="45" ry="43" fill="#5030e8"/>
<ellipse cx="1000" cy="731" rx="45" ry="43" fill="#6018d8"/>
<ellipse cx="1040" cy="731" rx="45" ry="43" fill="#7010c8"/>
<ellipse cx="1080" cy="731" rx="45" ry="43" fill="#5828d0"/>
<ellipse cx="1120" cy="731" rx="45" ry="43" fill="#4030d0"/>
<ellipse cx="580" cy="209" rx="45" ry="43" fill="#8070f0"/>
<ellipse cx="620" cy="209" rx="45" ry="43" fill="#80b8f0"/>
<ellipse cx="580" cy="248" rx="45" ry="43" fill="#70d0e0"/>
<ellipse cx="620" cy="248" rx="45" ry="43" fill="#80e0c0"/>
<ellipse cx="660" cy="248" rx="45" ry="43" fill="#c0e860"/>
<ellipse cx="580" cy="287" rx="45" ry="43" fill="#80d8a0"/>
<ellipse cx="620" cy="287" rx="45" ry="43" fill="#a0e070"/>
<ellipse cx="660" cy="287" rx="45" ry="43" fill="#b8e838"/>
<ellipse cx="700" cy="287" rx="45" ry="43" fill="#e8e880"/>
<ellipse cx="740" cy="287" rx="45" ry="43" fill="#e878e0"/>
<ellipse cx="700" cy="326" rx="45" ry="43" fill="#a0d840"/>
<ellipse cx="740" cy="326" rx="45" ry="43" fill="#e050e0"/>
<ellipse cx="780" cy="326" rx="45" ry="43" fill="#a060f0"/>
<ellipse cx="820" cy="326" rx="45" ry="43" fill="#4868e8"/>
<ellipse cx="580" cy="364" rx="45" ry="43" fill="#e08820"/>
<ellipse cx="620" cy="364" rx="45" ry="43" fill="#c0e030"/>
<ellipse cx="740" cy="364" rx="45" ry="43" fill="#68c848"/>
<ellipse cx="780" cy="364" rx="45" ry="43" fill="#d0b8e8"/>
<ellipse cx="820" cy="364" rx="45" ry="43" fill="#48a8e8"/>
<ellipse cx="860" cy="364" rx="45" ry="43" fill="#4080e8"/>
<ellipse cx="580" cy="403" rx="45" ry="43" fill="#e07818"/>
<ellipse cx="620" cy="403" rx="45" ry="43" fill="#d8c820"/>
<ellipse cx="660" cy="403" rx="45" ry="43" fill="#c0c020"/>
<ellipse cx="740" cy="403" rx="45" ry="43" fill="#40a030"/>
<ellipse cx="780" cy="403" rx="45" ry="43" fill="#90d830"/>
<ellipse cx="820" cy="403" rx="45" ry="43" fill="#48a8e0"/>
<ellipse cx="900" cy="403" rx="45" ry="43" fill="#50a8e8"/>
<ellipse cx="940" cy="403" rx="45" ry="43" fill="#58b0e8"/>
<ellipse cx="580" cy="442" rx="45" ry="43" fill="#f0c0b8"/>
<ellipse cx="620" cy="442" rx="45" ry="43" fill="#d8a020"/>
<ellipse cx="660" cy="442" rx="45" ry="43" fill="#c8b020"/>
<ellipse cx="700" cy="442" rx="45" ry="43" fill="#b04818"/>
<ellipse cx="740" cy="442" rx="45" ry="43" fill="#308020"/>
<ellipse cx="780" cy="442" rx="45" ry="43" fill="#288818"/>
<ellipse cx="820" cy="442" rx="45" ry="43" fill="#3868d8"/>
<ellipse cx="860" cy="442" rx="45" ry="43" fill="#3060e0"/>
<ellipse cx="900" cy="442" rx="45" ry="43" fill="#4078e0"/>
<ellipse cx="940" cy="442" rx="45" ry="43" fill="#50d8b8"/>
<ellipse cx="980" cy="442" rx="45" ry="43" fill="#48c080"/>
<ellipse cx="580" cy="481" rx="45" ry="43" fill="#a0e8a0"/>
<ellipse cx="620" cy="481" rx="45" ry="43" fill="#a8f038"/>
<ellipse cx="660" cy="481" rx="45" ry="43" fill="#80e070"/>
<ellipse cx="700" cy="481" rx="45" ry="43" fill="#902818"/>
<ellipse cx="740" cy="481" rx="45" ry="43" fill="#482068"/>
<ellipse cx="780" cy="481" rx="45" ry="43" fill="#105818"/>
<ellipse cx="820" cy="481" rx="45" ry="43" fill="#104848"/>
<ellipse cx="860" cy="481" rx="45" ry="43" fill="#803030"/>
<ellipse cx="900" cy="481" rx="45" ry="43" fill="#182888"/>
<ellipse cx="940" cy="481" rx="45" ry="43" fill="#206880"/>
<ellipse cx="980" cy="481" rx="45" ry="43" fill="#38a030"/>
<ellipse cx="580" cy="209" rx="45" ry="43" fill="#8878f0"/>
<ellipse cx="180" cy="248" rx="45" ry="43" fill="#e050f0"/>
<ellipse cx="300" cy="248" rx="45" ry="43" fill="#c8e828"/>
<ellipse cx="340" cy="248" rx="45" ry="43" fill="#c8f020"/>
<ellipse cx="380" cy="248" rx="45" ry="43" fill="#d8e020"/>
<ellipse cx="460" cy="248" rx="45" ry="43" fill="#90f060"/>
<ellipse cx="580" cy="248" rx="45" ry="43" fill="#60c8e0"/>
<ellipse cx="220" cy="287" rx="45" ry="43" fill="#f06090"/>
<ellipse cx="300" cy="287" rx="45" ry="43" fill="#70c020"/>
<ellipse cx="340" cy="287" rx="45" ry="43" fill="#607020"/>
<ellipse cx="380" cy="287" rx="45" ry="43" fill="#c0b020"/>
<ellipse cx="420" cy="287" rx="45" ry="43" fill="#30e0d8"/>
<ellipse cx="460" cy="287" rx="45" ry="43" fill="#40e8b0"/>
<ellipse cx="580" cy="287" rx="45" ry="43" fill="#60d8c8"/>
<ellipse cx="180" cy="326" rx="45" ry="43" fill="#f050d0"/>
<ellipse cx="220" cy="326" rx="45" ry="43" fill="#f060c0"/>
<ellipse cx="260" cy="326" rx="45" ry="43" fill="#8878e0"/>
<ellipse cx="300" cy="326" rx="45" ry="43" fill="#b09020"/>
<ellipse cx="340" cy="326" rx="45" ry="43" fill="#80a020"/>
<ellipse cx="380" cy="326" rx="45" ry="43" fill="#703080"/>
<ellipse cx="420" cy="326" rx="45" ry="43" fill="#c0c020"/>
<ellipse cx="460" cy="326" rx="45" ry="43" fill="#e0e020"/>
<ellipse cx="500" cy="326" rx="45" ry="43" fill="#c8d020"/>
<ellipse cx="220" cy="364" rx="45" ry="43" fill="#c040e0"/>
<ellipse cx="260" cy="364" rx="45" ry="43" fill="#8068e0"/>
<ellipse cx="300" cy="364" rx="45" ry="43" fill="#a01890"/>
<ellipse cx="340" cy="364" rx="45" ry="43" fill="#c02080"/>
<ellipse cx="380" cy="364" rx="45" ry="43" fill="#d06030"/>
<ellipse cx="460" cy="364" rx="45" ry="43" fill="#90d820"/>
<ellipse cx="500" cy="364" rx="45" ry="43" fill="#b0d820"/>
<ellipse cx="540" cy="364" rx="45" ry="43" fill="#e08020"/>
<ellipse cx="580" cy="364" rx="45" ry="43" fill="#e07818"/>
<ellipse cx="220" cy="403" rx="45" ry="43" fill="#e040e0"/>
<ellipse cx="260" cy="403" rx="45" ry="43" fill="#e050c0"/>
<ellipse cx="300" cy="403" rx="45" ry="43" fill="#d8a040"/>
<ellipse cx="340" cy="403" rx="45" ry="43" fill="#e05030"/>
<ellipse cx="420" cy="403" rx="45" ry="43" fill="#c04010"/>
<ellipse cx="500" cy="403" rx="45" ry="43" fill="#80d020"/>
<ellipse cx="540" cy="403" rx="45" ry="43" fill="#d88020"/>
<ellipse cx="580" cy="403" rx="45" ry="43" fill="#e08020"/>
<ellipse cx="260" cy="442" rx="45" ry="43" fill="#f0a0d8"/>
<ellipse cx="300" cy="442" rx="45" ry="43" fill="#e0e090"/>
<ellipse cx="340" cy="442" rx="45" ry="43" fill="#a0a0f8"/>
<ellipse cx="460" cy="442" rx="45" ry="43" fill="#f08060"/>
<ellipse cx="540" cy="442" rx="45" ry="43" fill="#a0d8e0"/>
<ellipse cx="580" cy="442" rx="45" ry="43" fill="#8898e8"/>
<ellipse cx="260" cy="481" rx="45" ry="43" fill="#f0c0e0"/>
<ellipse cx="580" cy="481" rx="45" ry="43" fill="#90e8a0"/>
<ellipse cx="192" cy="247" rx="22" ry="31" fill="#e050f0"/>
<ellipse cx="230" cy="262" rx="40" ry="16" fill="#e860e0"/>
<ellipse cx="234" cy="279" rx="31" ry="16" fill="#f06090"/>
<ellipse cx="215" cy="299" rx="31" ry="27" fill="#f050a0"/>
<ellipse cx="202" cy="312" rx="27" ry="18" fill="#f050d0"/>
<ellipse cx="225" cy="324" rx="31" ry="18" fill="#f060d0"/>
<ellipse cx="177" cy="327" rx="18" ry="16" fill="#f050e0"/>
<ellipse cx="269" cy="269" rx="27" ry="13" fill="#e0a060"/>
<ellipse cx="289" cy="264" rx="18" ry="13" fill="#d0e030"/>
<ellipse cx="259" cy="344" rx="25" ry="103" fill="#8070e0" transform="rotate(28 259 344)"/>
<ellipse cx="227" cy="389" rx="31" ry="54" fill="#c030e0" transform="rotate(20 227 389)"/>
<ellipse cx="197" cy="413" rx="27" ry="22" fill="#f070e0"/>
<ellipse cx="212" cy="431" rx="27" ry="22" fill="#e040d0"/>
<ellipse cx="302" cy="364" rx="40" ry="58" fill="#a01890" transform="rotate(35 302 364)"/>
<ellipse cx="356" cy="344" rx="49" ry="27" fill="#b01070"/>
<ellipse cx="331" cy="349" rx="8" ry="22" fill="#7080f0"/>
<ellipse cx="259" cy="463" rx="49" ry="31" fill="#f0c0e0"/>
<ellipse cx="244" cy="483" rx="31" ry="18" fill="#e060e0"/>
<ellipse cx="289" cy="438" rx="27" ry="27" fill="#f080d0"/>
<ellipse cx="279" cy="423" rx="31" ry="22" fill="#e05080"/>
<ellipse cx="244" cy="418" rx="18" ry="13" fill="#e06040"/>
<ellipse cx="311" cy="409" rx="27" ry="22" fill="#c0e020"/>
<ellipse cx="309" cy="294" rx="45" ry="36" fill="#70b020"/>
<ellipse cx="349" cy="284" rx="40" ry="31" fill="#80b020"/>
<ellipse cx="383" cy="299" rx="36" ry="36" fill="#70b020"/>
<ellipse cx="346" cy="302" rx="22" ry="18" fill="#d08020"/>
<ellipse cx="309" cy="317" rx="22" ry="13" fill="#d08020"/>
<ellipse cx="345" cy="299" rx="8" ry="49" fill="#607020"/>
<ellipse cx="376" cy="257" rx="45" ry="31" fill="#d8e020"/>
<ellipse cx="329" cy="252" rx="49" ry="22" fill="#c8f020"/>
<ellipse cx="433" cy="282" rx="51" ry="47" fill="#50f0a0"/>
<ellipse cx="433" cy="284" rx="38" ry="36" fill="#30e0d8"/>
<ellipse cx="470" cy="247" rx="45" ry="36" fill="#90f060"/>
<ellipse cx="470" cy="337" rx="72" ry="45" fill="#e0e020"/>
<ellipse cx="458" cy="319" rx="45" ry="18" fill="#80d020" transform="rotate(30 458 319)"/>
<ellipse cx="438" cy="349" rx="13" ry="54" fill="#405010" transform="rotate(-30 438 349)"/>
<ellipse cx="495" cy="384" rx="49" ry="58" fill="#80d020" transform="rotate(-20 495 384)"/>
<ellipse cx="418" cy="391" rx="63" ry="40" fill="#c04010"/>
<ellipse cx="349" cy="409" rx="27" ry="27" fill="#e04040"/>
<ellipse cx="359" cy="396" rx="18" ry="18" fill="#f060c0"/>
<ellipse cx="393" cy="426" rx="27" ry="22" fill="#b0e030"/>
<ellipse cx="456" cy="430" rx="40" ry="16" fill="#f08060"/>
<ellipse cx="349" cy="448" rx="18" ry="18" fill="#a0a0f8"/>
<ellipse cx="562" cy="384" rx="76" ry="80" fill="#e08020"/>
<ellipse cx="567" cy="344" rx="63" ry="13" fill="#e07010"/>
<ellipse cx="532" cy="369" rx="13" ry="45" fill="#a0a020" transform="rotate(-20 532 369)"/>
<ellipse cx="562" cy="443" rx="63" ry="31" fill="#a0d0e0"/>
<ellipse cx="570" cy="441" rx="18" ry="22" fill="#8090e0"/>
<ellipse cx="587" cy="476" rx="27" ry="27" fill="#a0f040"/>
<ellipse cx="528" cy="413" rx="22" ry="27" fill="#90c030"/>
<ellipse cx="575" cy="212" rx="31" ry="27" fill="#8878f0"/>
<ellipse cx="597" cy="240" rx="40" ry="31" fill="#70c8e8"/>
<ellipse cx="590" cy="272" rx="36" ry="22" fill="#60d8c8"/>
<ellipse cx="634" cy="264" rx="40" ry="31" fill="#b0e040"/>
<ellipse cx="672" cy="279" rx="36" ry="31" fill="#e0e050"/>
<ellipse cx="699" cy="294" rx="22" ry="27" fill="#e8e8a0"/>
<ellipse cx="724" cy="299" rx="27" ry="22" fill="#e070e0"/>
<ellipse cx="751" cy="337" rx="31" ry="27" fill="#e050e8"/>
<ellipse cx="779" cy="341" rx="22" ry="27" fill="#d8a0e0"/>
<ellipse cx="711" cy="339" rx="22" ry="36" fill="#90e070"/>
<ellipse cx="734" cy="369" rx="27" ry="40" fill="#60c040"/>
<ellipse cx="731" cy="401" rx="27" ry="31" fill="#40a030"/>
<ellipse cx="744" cy="364" rx="8" ry="134" fill="#a8c860" transform="rotate(-33 744 364)"/>
<ellipse cx="783" cy="314" rx="27" ry="22" fill="#9060f0"/>
<ellipse cx="811" cy="332" rx="31" ry="31" fill="#4070e8"/>
<ellipse cx="836" cy="354" rx="36" ry="31" fill="#40a8e8"/>
<ellipse cx="873" cy="386" rx="31" ry="22" fill="#4080e8"/>
<ellipse cx="893" cy="379" rx="18" ry="16" fill="#70c8e8"/>
<ellipse cx="796" cy="379" rx="31" ry="31" fill="#50b0e0"/>
<ellipse cx="821" cy="409" rx="36" ry="27" fill="#40a0e0"/>
<ellipse cx="783" cy="401" rx="16" ry="11" fill="#a0e030"/>
<ellipse cx="920" cy="411" rx="36" ry="36" fill="#50b0e8"/>
<ellipse cx="947" cy="441" rx="31" ry="27" fill="#50e0b0"/>
<ellipse cx="972" cy="466" rx="36" ry="31" fill="#40a030"/>
<ellipse cx="883" cy="441" rx="40" ry="22" fill="#3060e0"/>
<ellipse cx="858" cy="461" rx="31" ry="20" fill="#4030a0"/>
<ellipse cx="913" cy="466" rx="36" ry="22" fill="#308060"/>
<ellipse cx="759" cy="438" rx="36" ry="27" fill="#309020"/>
<ellipse cx="783" cy="466" rx="40" ry="27" fill="#106010"/>
<ellipse cx="813" cy="478" rx="36" ry="22" fill="#104040"/>
<ellipse cx="734" cy="453" rx="22" ry="27" fill="#401060"/>
<ellipse cx="714" cy="466" rx="18" ry="27" fill="#a02010"/>
<ellipse cx="699" cy="466" rx="18" ry="31" fill="#c06010"/>
<ellipse cx="721" cy="490" rx="22" ry="18" fill="#6020a0"/>
<ellipse cx="846" cy="490" rx="27" ry="18" fill="#803030"/>
<ellipse cx="888" cy="490" rx="40" ry="22" fill="#102080"/>
<ellipse cx="597" cy="389" rx="76" ry="89" fill="#e08020"/>
<ellipse cx="590" cy="389" rx="36" ry="45" fill="#e06810"/>
<ellipse cx="610" cy="409" rx="16" ry="18" fill="#e0f020"/>
<ellipse cx="634" cy="364" rx="22" ry="31" fill="#c0e030"/>
<ellipse cx="659" cy="428" rx="22" ry="36" fill="#c0b020"/>
<ellipse cx="674" cy="453" rx="22" ry="22" fill="#c07020"/>
<ellipse cx="585" cy="438" rx="22" ry="16" fill="#f0c8c0"/>
<ellipse cx="567" cy="446" rx="18" ry="18" fill="#9090e8"/>
<ellipse cx="622" cy="461" rx="22" ry="27" fill="#a0f030"/>
<ellipse cx="597" cy="478" rx="22" ry="22" fill="#a0e8e0"/>
<ellipse cx="639" cy="478" rx="18" ry="22" fill="#60e8a0"/>
<ellipse cx="664" cy="478" rx="18" ry="22" fill="#a0d030"/>
<ellipse cx="707" cy="460" rx="22" ry="27" fill="#c02010"/>
<ellipse cx="725" cy="480" rx="22" ry="31" fill="#501860"/>
<ellipse cx="762" cy="470" rx="40" ry="31" fill="#309020"/>
<ellipse cx="799" cy="465" rx="40" ry="31" fill="#40a020"/>
<ellipse cx="774" cy="497" rx="40" ry="22" fill="#104818"/>
<ellipse cx="737" cy="517" rx="31" ry="27" fill="#182070"/>
<ellipse cx="842" cy="492" rx="27" ry="20" fill="#703030"/>
<ellipse cx="824" cy="514" rx="36" ry="22" fill="#1828a0"/>
<ellipse cx="874" cy="505" rx="40" ry="27" fill="#2848c0"/>
<ellipse cx="899" cy="460" rx="40" ry="27" fill="#30a0b0"/>
<ellipse cx="948" cy="455" rx="40" ry="27" fill="#40b0a0"/>
<ellipse cx="961" cy="490" rx="40" ry="31" fill="#30a030"/>
<ellipse cx="986" cy="519" rx="31" ry="40" fill="#30a030"/>
<ellipse cx="993" cy="470" rx="27" ry="31" fill="#40b030"/>
<ellipse cx="849" cy="539" rx="36" ry="27" fill="#101850"/>
<ellipse cx="879" cy="539" rx="22" ry="22" fill="#303020"/>
<ellipse cx="923" cy="544" rx="49" ry="36" fill="#081040"/>
<ellipse cx="963" cy="554" rx="31" ry="31" fill="#104020"/>
<ellipse cx="787" cy="564" rx="31" ry="31" fill="#4020c0"/>
<ellipse cx="804" cy="591" rx="31" ry="27" fill="#4030c8"/>
<ellipse cx="774" cy="539" rx="31" ry="22" fill="#2030b0"/>
<ellipse cx="745" cy="579" rx="20" ry="40" fill="#a02020" transform="rotate(-20 745 579)"/>
<ellipse cx="765" cy="611" rx="20" ry="36" fill="#902020" transform="rotate(-35 765 611)"/>
<ellipse cx="782" cy="631" rx="22" ry="18" fill="#a07050"/>
<ellipse cx="737" cy="549" rx="11" ry="27" fill="#807020"/>
<ellipse cx="849" cy="589" rx="36" ry="22" fill="#207080"/>
<ellipse cx="886" cy="589" rx="36" ry="27" fill="#182880"/>
<ellipse cx="923" cy="591" rx="36" ry="31" fill="#181060"/>
<ellipse cx="948" cy="616" rx="36" ry="27" fill="#401030"/>
<ellipse cx="911" cy="636" rx="31" ry="22" fill="#802030"/>
<ellipse cx="986" cy="589" rx="36" ry="36" fill="#2040c0"/>
<ellipse cx="1023" cy="614" rx="36" ry="31" fill="#4040e0"/>
<ellipse cx="1048" cy="589" rx="31" ry="27" fill="#2080a0"/>
<ellipse cx="1072" cy="564" rx="40" ry="31" fill="#30a030"/>
<ellipse cx="1097" cy="552" rx="36" ry="27" fill="#40a828"/>
<ellipse cx="1125" cy="539" rx="22" ry="18" fill="#907030"/>
<ellipse cx="1122" cy="589" rx="31" ry="27" fill="#309060"/>
<ellipse cx="1097" cy="629" rx="36" ry="31" fill="#2860c0"/>
<ellipse cx="1125" cy="663" rx="31" ry="36" fill="#3080c0"/>
<ellipse cx="1072" cy="654" rx="31" ry="31" fill="#3030d0"/>
<ellipse cx="839" cy="636" rx="36" ry="22" fill="#30c020"/>
<ellipse cx="864" cy="663" rx="22" ry="31" fill="#208020"/>
<ellipse cx="824" cy="671" rx="34" ry="67" fill="#ffff30" transform="rotate(-35 824 671)"/>
<ellipse cx="817" cy="651" rx="13" ry="13" fill="#ffffff"/>
<ellipse cx="844" cy="676" rx="20" ry="25" fill="#ffffff"/>
<ellipse cx="787" cy="688" rx="22" ry="27" fill="#90e040"/>
<ellipse cx="804" cy="711" rx="22" ry="22" fill="#60b830"/>
<ellipse cx="812" cy="728" rx="36" ry="18" fill="#a0d8a0" transform="rotate(50 812 728)"/>
<ellipse cx="886" cy="676" rx="22" ry="27" fill="#7020d0"/>
<ellipse cx="874" cy="691" rx="18" ry="18" fill="#a030d0"/>
<ellipse cx="923" cy="676" rx="36" ry="27" fill="#4018b0"/>
<ellipse cx="948" cy="703" rx="31" ry="31" fill="#6020e0"/>
<ellipse cx="963" cy="728" rx="22" ry="27" fill="#5030e8"/>
<ellipse cx="1010" cy="713" rx="40" ry="36" fill="#6018d8"/>
<ellipse cx="1038" cy="738" rx="36" ry="22" fill="#7010c0"/>
<ellipse cx="1097" cy="726" rx="40" ry="36" fill="#4030d0"/>
<ellipse cx="1060" cy="688" rx="31" ry="36" fill="#3020b0"/>
<ellipse cx="973" cy="651" rx="31" ry="27" fill="#281880"/>
<ellipse cx="1010" cy="663" rx="31" ry="27" fill="#3020a0"/>
<ellipse cx="1074" cy="567" rx="54" ry="31" fill="#40a828"/>
<ellipse cx="1122" cy="552" rx="18" ry="16" fill="#906828"/>
<ellipse cx="1112" cy="592" rx="49" ry="31" fill="#38a030"/>
<ellipse cx="1161" cy="605" rx="40" ry="27" fill="#309050"/>
<ellipse cx="1037" cy="590" rx="36" ry="27" fill="#2070a0"/>
<ellipse cx="1012" cy="614" rx="27" ry="31" fill="#2038c0"/>
<ellipse cx="1050" cy="629" rx="36" ry="27" fill="#3040d0"/>
<ellipse cx="1030" cy="619" rx="18" ry="18" fill="#6050e0"/>
<ellipse cx="1124" cy="639" rx="40" ry="31" fill="#2878b0"/>
<ellipse cx="1174" cy="639" rx="36" ry="27" fill="#3050b8"/>
<ellipse cx="1211" cy="627" rx="31" ry="22" fill="#307098"/>
<ellipse cx="1236" cy="647" rx="27" ry="27" fill="#6028a0"/>
<ellipse cx="1273" cy="654" rx="31" ry="27" fill="#802080"/>
<ellipse cx="1293" cy="679" rx="22" ry="31" fill="#801848"/>
<ellipse cx="1025" cy="689" rx="36" ry="36" fill="#3020c8"/>
<ellipse cx="1074" cy="701" rx="22" ry="49" fill="#3030d0"/>
<ellipse cx="1037" cy="739" rx="40" ry="36" fill="#6818e0"/>
<ellipse cx="1062" cy="766" rx="40" ry="27" fill="#8020d8"/>
<ellipse cx="1099" cy="751" rx="31" ry="36" fill="#7020d0"/>
<ellipse cx="1137" cy="726" rx="31" ry="36" fill="#5030c0"/>
<ellipse cx="1161" cy="689" rx="31" ry="36" fill="#2888b8"/>
<ellipse cx="1186" cy="714" rx="27" ry="31" fill="#3068c0"/>
<ellipse cx="1199" cy="677" rx="27" ry="27" fill="#3058b8"/>
<ellipse cx="1223" cy="714" rx="27" ry="31" fill="#4030a8"/>
<ellipse cx="1248" cy="701" rx="27" ry="31" fill="#6828a8"/>
<ellipse cx="1273" cy="729" rx="31" ry="31" fill="#803080"/>
<ellipse cx="1310" cy="714" rx="27" ry="36" fill="#701030"/>
<ellipse cx="1330" cy="736" rx="22" ry="22" fill="#801838"/>
<ellipse cx="1358" cy="639" rx="20" ry="49" fill="#e828a8"/>
<ellipse cx="1360" cy="682" rx="18" ry="36" fill="#a01850"/>
<ellipse cx="1370" cy="612" rx="13" ry="31" fill="#e8d0e0"/>
<ellipse cx="1384" cy="592" rx="9" ry="27" fill="#c0e8e0"/>
<ellipse cx="1348" cy="751" rx="11" ry="63" fill="#6050b8" transform="rotate(45 1348 751)"/>
<ellipse cx="1397" cy="729" rx="36" ry="22" fill="#90e030"/>
<ellipse cx="1425" cy="739" rx="22" ry="27" fill="#c0f030"/>
<ellipse cx="1410" cy="763" rx="22" ry="22" fill="#d8e870"/>
<ellipse cx="1372" cy="776" rx="27" ry="27" fill="#60d850"/>
<ellipse cx="1360" cy="801" rx="22" ry="27" fill="#50c840"/>
<ellipse cx="1397" cy="801" rx="22" ry="22" fill="#a0e8b0"/>
<ellipse cx="1422" cy="788" rx="18" ry="27" fill="#e8c040"/>
<ellipse cx="1435" cy="816" rx="18" ry="27" fill="#f040c0"/>
<ellipse cx="1410" cy="828" rx="27" ry="22" fill="#f070b0"/>
<ellipse cx="1385" cy="840" rx="27" ry="18" fill="#f08080"/>
<ellipse cx="1360" cy="838" rx="18" ry="18" fill="#d0d0a0"/>
<ellipse cx="1310" cy="763" rx="27" ry="31" fill="#b030b0"/>
<ellipse cx="1323" cy="801" rx="27" ry="40" fill="#a028a0"/>
<ellipse cx="1298" cy="816" rx="27" ry="31" fill="#8030a8"/>
<ellipse cx="1273" cy="788" rx="27" ry="27" fill="#b02070"/>
<ellipse cx="1248" cy="776" rx="22" ry="18" fill="#a03020"/>
<ellipse cx="1223" cy="780" rx="20" ry="13" fill="#c05818"/>
<ellipse cx="1236" cy="791" rx="18" ry="13" fill="#d07020"/>
<ellipse cx="1263" cy="816" rx="20" ry="22" fill="#e8e020"/>
<ellipse cx="1276" cy="836" rx="22" ry="22" fill="#f0f020"/>
<ellipse cx="1286" cy="768" rx="6" ry="8" fill="#90f0a0"/>
<ellipse cx="1174" cy="763" rx="27" ry="27" fill="#7030c0"/>
<ellipse cx="1149" cy="776" rx="18" ry="22" fill="#a080e0"/>
<ellipse cx="1142" cy="763" rx="11" ry="22" fill="#b0c8f0"/>
<ellipse cx="1124" cy="791" rx="22" ry="27" fill="#8040d0"/>
<ellipse cx="1112" cy="816" rx="22" ry="27" fill="#d0b8f0"/>
<ellipse cx="1137" cy="828" rx="18" ry="22" fill="#b0f0e8"/>
<ellipse cx="1154" cy="816" rx="16" ry="22" fill="#70e070"/>
<ellipse cx="1174" cy="828" rx="18" ry="22" fill="#b0e840"/>
<ellipse cx="1186" cy="803" rx="16" ry="22" fill="#d040c0"/>
<ellipse cx="1199" cy="816" rx="18" ry="22" fill="#b02858"/>
<ellipse cx="1174" cy="788" rx="18" ry="18" fill="#8030c8"/>
<ellipse cx="1357" cy="647" rx="22" ry="54" fill="#e828b0"/>
<ellipse cx="1382" cy="597" rx="11" ry="31" fill="#c8e8e0"/>
<ellipse cx="1362" cy="694" rx="20" ry="36" fill="#a01850"/>
<ellipse cx="1344" cy="734" rx="22" ry="31" fill="#801838"/>
<ellipse cx="1339" cy="774" rx="22" ry="36" fill="#702868"/>
<ellipse cx="1369" cy="724" rx="11" ry="49" fill="#6858b0" transform="rotate(45 1369 724)"/>
<ellipse cx="1347" cy="798" rx="22" ry="22" fill="#803070"/>
<ellipse cx="1394" cy="734" rx="27" ry="31" fill="#90e030"/>
<ellipse cx="1419" cy="721" rx="27" ry="22" fill="#b8f030"/>
<ellipse cx="1382" cy="771" rx="27" ry="31" fill="#58d048"/>
<ellipse cx="1406" cy="783" rx="27" ry="27" fill="#80e880"/>
<ellipse cx="1369" cy="808" rx="22" ry="22" fill="#68d050"/>
<ellipse cx="1419" cy="754" rx="18" ry="22" fill="#e0e080"/>
<ellipse cx="1451" cy="734" rx="20" ry="31" fill="#80f0c8"/>
<ellipse cx="1461" cy="761" rx="18" ry="27" fill="#a0e8e0"/>
<ellipse cx="1436" cy="774" rx="16" ry="22" fill="#c8e8c0"/>
<ellipse cx="1493" cy="622" rx="16" ry="54" fill="#b0d8e8"/>
<ellipse cx="1501" cy="662" rx="22" ry="31" fill="#d0e8a0"/>
<ellipse cx="1481" cy="699" rx="27" ry="31" fill="#c8f040"/>
<ellipse cx="1493" cy="734" rx="27" ry="31" fill="#e8e838"/>
<ellipse cx="1526" cy="642" rx="22" ry="27" fill="#d08028"/>
<ellipse cx="1531" cy="672" rx="22" ry="27" fill="#e09828"/>
<ellipse cx="1551" cy="664" rx="13" ry="16" fill="#a0f040"/>
<ellipse cx="1568" cy="647" rx="27" ry="27" fill="#e8e828"/>
<ellipse cx="1580" cy="684" rx="31" ry="31" fill="#f0f030"/>
<ellipse cx="1543" cy="697" rx="22" ry="22" fill="#e8e030"/>
<ellipse cx="1543" cy="721" rx="22" ry="27" fill="#e8a030"/>
<ellipse cx="1568" cy="711" rx="22" ry="22" fill="#f0c840"/>
<ellipse cx="1518" cy="709" rx="22" ry="27" fill="#e0e028"/>
<ellipse cx="1605" cy="672" rx="22" ry="27" fill="#f8c8d8"/>
<ellipse cx="1630" cy="659" rx="22" ry="22" fill="#f0f080"/>
<ellipse cx="1650" cy="674" rx="22" ry="31" fill="#f0f030"/>
<ellipse cx="1642" cy="699" rx="22" ry="22" fill="#f0f030"/>
<ellipse cx="1618" cy="697" rx="18" ry="22" fill="#f890d0"/>
<ellipse cx="1630" cy="716" rx="22" ry="18" fill="#f8c8e0"/>
<ellipse cx="1593" cy="729" rx="27" ry="22" fill="#f8d8b0"/>
<ellipse cx="1555" cy="741" rx="31" ry="18" fill="#f8c0e0"/>
<ellipse cx="1580" cy="751" rx="31" ry="11" fill="#f070e0"/>
<ellipse cx="1603" cy="602" rx="13" ry="45" fill="#e8e840" transform="rotate(-28 1603 602)"/>
<ellipse cx="1620" cy="632" rx="16" ry="16" fill="#f0e0d0"/>
<ellipse cx="1542" cy="587" rx="9" ry="45" fill="#a8e838"/>
<ellipse cx="1406" cy="808" rx="27" ry="22" fill="#f09070"/>
<ellipse cx="1382" cy="821" rx="22" ry="22" fill="#f080c0"/>
<ellipse cx="1431" cy="821" rx="27" ry="22" fill="#f040d0"/>
<ellipse cx="1456" cy="808" rx="22" ry="22" fill="#f030d0"/>
<ellipse cx="1451" cy="828" rx="10" ry="13" fill="#c0f0f0"/>
<ellipse cx="1456" cy="856" rx="27" ry="22" fill="#f030d0"/>
<ellipse cx="1419" cy="846" rx="27" ry="22" fill="#f068c8"/>
<ellipse cx="1369" cy="846" rx="27" ry="22" fill="#f8b0d8"/>
<ellipse cx="1344" cy="833" rx="22" ry="27" fill="#d8c0e8"/>
<ellipse cx="1531" cy="796" rx="18" ry="18" fill="#f070d0"/>
<ellipse cx="1543" cy="791" rx="13" ry="18" fill="#a0e8a0"/>
<ellipse cx="1506" cy="808" rx="22" ry="22" fill="#f0e8a0"/>
<ellipse cx="1493" cy="833" rx="22" ry="22" fill="#f0a080"/>
<ellipse cx="1518" cy="846" rx="22" ry="22" fill="#d8d0f0"/>
<ellipse cx="1538" cy="833" rx="16" ry="18" fill="#a0b0e8"/>
<ellipse cx="1565" cy="771" rx="36" ry="13" fill="#e87090" transform="rotate(30 1565 771)"/>
<ellipse cx="1655" cy="734" rx="11" ry="49" fill="#b8d088" transform="rotate(15 1655 734)"/>
<ellipse cx="1642" cy="783" rx="16" ry="22" fill="#80e0c0"/>
<ellipse cx="1662" cy="783" rx="13" ry="18" fill="#f0a0c0"/>
<ellipse cx="1630" cy="808" rx="18" ry="18" fill="#9060e0"/>
<ellipse cx="1642" cy="821" rx="20" ry="16" fill="#70d8f0"/>
<ellipse cx="1660" cy="803" rx="18" ry="18" fill="#6868e0"/>
<ellipse cx="1680" cy="783" rx="18" ry="22" fill="#3878d8"/>
<ellipse cx="1692" cy="783" rx="11" ry="22" fill="#102080"/>
<ellipse cx="1675" cy="808" rx="20" ry="18" fill="#50a8e0"/>
<ellipse cx="1667" cy="828" rx="18" ry="13" fill="#c0b8f0"/>
<ellipse cx="1700" cy="846" rx="13" ry="27" fill="#4888e0"/>
<ellipse cx="1675" cy="841" rx="18" ry="13" fill="#60c8e8"/>
<ellipse cx="1555" cy="858" rx="22" ry="18" fill="#4080e0"/>
<ellipse cx="1600" cy="858" rx="13" ry="22" fill="#a0d0c0"/>
<ellipse cx="1065" cy="775" rx="40" ry="27" fill="#7020d8"/>
<ellipse cx="1102" cy="785" rx="31" ry="31" fill="#7828c8"/>
<ellipse cx="1127" cy="810" rx="22" ry="31" fill="#b090e8"/>
<ellipse cx="1114" cy="837" rx="27" ry="31" fill="#e0d8f8"/>
<ellipse cx="1102" cy="872" rx="18" ry="22" fill="#c890f0"/>
<ellipse cx="1097" cy="892" rx="16" ry="18" fill="#c050f0"/>
<ellipse cx="1139" cy="797" rx="18" ry="31" fill="#a0e0e8"/>
<ellipse cx="1152" cy="822" rx="18" ry="27" fill="#70e060"/>
<ellipse cx="1144" cy="859" rx="22" ry="27" fill="#c0f8e0"/>
<ellipse cx="1164" cy="847" rx="16" ry="27" fill="#90e040"/>
<ellipse cx="1179" cy="810" rx="18" ry="31" fill="#c838c0"/>
<ellipse cx="1169" cy="785" rx="18" ry="22" fill="#8030c8"/>
<ellipse cx="1191" cy="785" rx="18" ry="22" fill="#6040d0"/>
<ellipse cx="1214" cy="780" rx="22" ry="18" fill="#a04020"/>
<ellipse cx="1239" cy="785" rx="22" ry="20" fill="#c85020"/>
<ellipse cx="1263" cy="780" rx="22" ry="22" fill="#b02858"/>
<ellipse cx="1301" cy="810" rx="27" ry="36" fill="#a030a8"/>
<ellipse cx="1276" cy="810" rx="20" ry="27" fill="#c030a0"/>
<ellipse cx="1271" cy="827" rx="18" ry="27" fill="#f0e820" transform="rotate(-30 1271 827)"/>
<ellipse cx="1288" cy="844" rx="22" ry="18" fill="#c0e840"/>
<ellipse cx="1313" cy="834" rx="22" ry="22" fill="#f0b0e0"/>
<ellipse cx="1326" cy="797" rx="22" ry="31" fill="#a838b0"/>
<ellipse cx="1350" cy="785" rx="22" ry="36" fill="#80e040" transform="rotate(25 1350 785)"/>
<ellipse cx="1375" cy="780" rx="22" ry="27" fill="#70d848"/>
<ellipse cx="1363" cy="812" rx="18" ry="18" fill="#c0d890"/>
<ellipse cx="1400" cy="797" rx="22" ry="27" fill="#f0a060"/>
<ellipse cx="1425" cy="785" rx="22" ry="27" fill="#e8c040"/>
<ellipse cx="1450" cy="775" rx="18" ry="22" fill="#a0e8c0"/>
<ellipse cx="1465" cy="797" rx="22" ry="27" fill="#e8e840"/>
<ellipse cx="1388" cy="834" rx="31" ry="27" fill="#f050c8"/>
<ellipse cx="1412" cy="822" rx="22" ry="22" fill="#f08898"/>
<ellipse cx="1437" cy="847" rx="27" ry="27" fill="#f040d8"/>
<ellipse cx="1451" cy="825" rx="9" ry="16" fill="#c8f0f8"/>
<ellipse cx="1462" cy="859" rx="22" ry="27" fill="#f038d0"/>
<ellipse cx="1338" cy="872" rx="31" ry="22" fill="#f8e0f0"/>
<ellipse cx="1363" cy="884" rx="27" ry="22" fill="#f070e0"/>
<ellipse cx="1400" cy="872" rx="31" ry="27" fill="#f060d8"/>
<ellipse cx="1338" cy="897" rx="22" ry="22" fill="#e0d0f8"/>
<ellipse cx="1350" cy="921" rx="27" ry="22" fill="#e848e0"/>
<ellipse cx="1388" cy="909" rx="31" ry="22" fill="#f078e0"/>
<ellipse cx="1412" cy="897" rx="22" ry="22" fill="#d898e8"/>
<ellipse cx="1313" cy="934" rx="18" ry="22" fill="#8890f0"/>
<ellipse cx="1321" cy="954" rx="18" ry="18" fill="#e850e0"/>
<ellipse cx="1301" cy="971" rx="18" ry="18" fill="#7088f0"/>
<ellipse cx="1350" cy="959" rx="22" ry="18" fill="#a0a0f0"/>
<ellipse cx="1359" cy="971" rx="11" ry="9" fill="#f8f0f8"/>
<ellipse cx="1199" cy="864" rx="18" ry="18" fill="#e09030"/>
<ellipse cx="1214" cy="874" rx="20" ry="20" fill="#c03050"/>
<ellipse cx="1219" cy="899" rx="18" ry="27" fill="#c820a0"/>
<ellipse cx="1214" cy="924" rx="16" ry="22" fill="#8840d8"/>
<ellipse cx="1221" cy="949" rx="11" ry="22" fill="#6070e8"/>
<ellipse cx="1239" cy="867" rx="22" ry="16" fill="#b04030"/>
<ellipse cx="1263" cy="869" rx="22" ry="16" fill="#b83048"/>
<ellipse cx="1271" cy="899" rx="25" ry="22" fill="#7028d0"/>
<ellipse cx="1263" cy="921" rx="22" ry="22" fill="#8028b8"/>
<ellipse cx="1256" cy="946" rx="22" ry="22" fill="#5868e8"/>
<ellipse cx="1276" cy="959" rx="27" ry="22" fill="#6888f0"/>
<ellipse cx="1263" cy="979" rx="27" ry="18" fill="#6850e8"/>
<ellipse cx="1239" cy="1001" rx="18" ry="13" fill="#6070f0"/>
<ellipse cx="1293" cy="983" rx="18" ry="13" fill="#6890f0"/>
<ellipse cx="1412" cy="914" rx="16" ry="22" fill="#e8c030"/>
<ellipse cx="1417" cy="936" rx="13" ry="18" fill="#c8e840"/>
<ellipse cx="1437" cy="909" rx="22" ry="22" fill="#f060d0"/>
<ellipse cx="1450" cy="934" rx="22" ry="22" fill="#f0d8e8"/>
<ellipse cx="1462" cy="897" rx="18" ry="22" fill="#f080d0"/>
<ellipse cx="1400" cy="946" rx="13" ry="22" fill="#c0a0f0"/>
<ellipse cx="1388" cy="939" rx="11" ry="18" fill="#d850e0"/>
<ellipse cx="1162" cy="907" rx="22" ry="27" fill="#d0d0f8"/>
<ellipse cx="1512" cy="873" rx="41" ry="41" fill="#e8c8f0"/>
<ellipse cx="1529" cy="884" rx="25" ry="25" fill="#90b0f0"/>
<ellipse cx="1543" cy="915" rx="41" ry="30" fill="#5090e8"/>
<ellipse cx="1577" cy="899" rx="25" ry="20" fill="#60a0e8"/>
<ellipse cx="1602" cy="865" rx="13" ry="25" fill="#8080e0"/>
<ellipse cx="1601" cy="849" rx="9" ry="13" fill="#a0e0a0"/>
<ellipse cx="1565" cy="855" rx="25" ry="13" fill="#5080e0"/>
<ellipse cx="1486" cy="910" rx="30" ry="25" fill="#c0c8f0"/>
<ellipse cx="1441" cy="865" rx="30" ry="25" fill="#f040d8"/>
<ellipse cx="1458" cy="893" rx="30" ry="25" fill="#f8c0e0"/>
<ellipse cx="1413" cy="921" rx="18" ry="30" fill="#e8b838"/>
<ellipse cx="1430" cy="913" rx="18" ry="25" fill="#f080c0"/>
<ellipse cx="1475" cy="851" rx="30" ry="36" fill="#f0a0c0"/>
<ellipse cx="1492" cy="825" rx="25" ry="25" fill="#f0d0a0"/>
<ellipse cx="1385" cy="955" rx="18" ry="36" fill="#d080f0"/>
<ellipse cx="1393" cy="1034" rx="10" ry="30" fill="#e070e0"/>
<ellipse cx="528" cy="457" rx="25" ry="20" fill="#a0e8e8"/>
<ellipse cx="585" cy="463" rx="25" ry="20" fill="#90c0f0"/>
<ellipse cx="599" cy="451" rx="20" ry="15" fill="#e09030"/>
<ellipse cx="627" cy="468" rx="25" ry="25" fill="#b0f030"/>
<ellipse cx="641" cy="496" rx="20" ry="30" fill="#60e8a0"/>
<ellipse cx="619" cy="511" rx="20" ry="20" fill="#a0d830"/>
<ellipse cx="599" cy="519" rx="20" ry="15" fill="#c0b828"/>
<ellipse cx="627" cy="527" rx="18" ry="15" fill="#a0e0e8"/>
<ellipse cx="669" cy="482" rx="25" ry="30" fill="#90d830"/>
<ellipse cx="683" cy="511" rx="25" ry="25" fill="#b0d030"/>
<ellipse cx="698" cy="468" rx="20" ry="25" fill="#c07020"/>
<ellipse cx="712" cy="457" rx="18" ry="20" fill="#a02818"/>
<ellipse cx="703" cy="496" rx="18" ry="25" fill="#a09028"/>
<ellipse cx="726" cy="525" rx="15" ry="30" fill="#806020"/>
<ellipse cx="740" cy="567" rx="18" ry="41" fill="#a03020"/>
<ellipse cx="754" cy="609" rx="20" ry="41" fill="#982020" transform="rotate(-25 754 609)"/>
<ellipse cx="771" cy="638" rx="20" ry="30" fill="#a04030" transform="rotate(-35 771 638)"/>
<ellipse cx="785" cy="654" rx="20" ry="15" fill="#b08860"/>
<ellipse cx="808" cy="708" rx="18" ry="91" fill="#a8d8a0" transform="rotate(-38 808 708)"/>
<ellipse cx="720" cy="459" rx="25" ry="24" fill="#802040"/>
<ellipse cx="760" cy="459" rx="25" ry="24" fill="#309020"/>
<ellipse cx="800" cy="459" rx="25" ry="24" fill="#40a020"/>
<ellipse cx="840" cy="459" rx="25" ry="24" fill="#3070c0"/>
<ellipse cx="880" cy="459" rx="25" ry="24" fill="#2878b0"/>
<ellipse cx="920" cy="459" rx="25" ry="24" fill="#30a0a8"/>
<ellipse cx="960" cy="459" rx="25" ry="24" fill="#40b090"/>
<ellipse cx="720" cy="498" rx="25" ry="24" fill="#706020"/>
<ellipse cx="760" cy="498" rx="25" ry="24" fill="#185020"/>
<ellipse cx="800" cy="498" rx="25" ry="24" fill="#104838"/>
<ellipse cx="840" cy="498" rx="25" ry="24" fill="#703030"/>
<ellipse cx="880" cy="498" rx="25" ry="24" fill="#2848b8"/>
<ellipse cx="920" cy="498" rx="25" ry="24" fill="#3060c0"/>
<ellipse cx="960" cy="498" rx="25" ry="24" fill="#30a030"/>
<ellipse cx="1000" cy="498" rx="25" ry="24" fill="#30a030"/>
<ellipse cx="760" cy="537" rx="25" ry="24" fill="#182878"/>
<ellipse cx="800" cy="537" rx="25" ry="24" fill="#2030b0"/>
<ellipse cx="840" cy="537" rx="25" ry="24" fill="#101858"/>
<ellipse cx="880" cy="537" rx="25" ry="24" fill="#282820"/>
<ellipse cx="920" cy="537" rx="25" ry="24" fill="#081038"/>
<ellipse cx="960" cy="537" rx="25" ry="24" fill="#104020"/>
<ellipse cx="1000" cy="537" rx="25" ry="24" fill="#289028"/>
<ellipse cx="1080" cy="537" rx="25" ry="24" fill="#38a028"/>
<ellipse cx="1120" cy="537" rx="25" ry="24" fill="#907030"/>
<ellipse cx="760" cy="576" rx="25" ry="24" fill="#a02020"/>
<ellipse cx="800" cy="576" rx="25" ry="24" fill="#4028c8"/>
<ellipse cx="840" cy="576" rx="25" ry="24" fill="#205078"/>
<ellipse cx="880" cy="576" rx="25" ry="24" fill="#182070"/>
<ellipse cx="920" cy="576" rx="25" ry="24" fill="#101050"/>
<ellipse cx="960" cy="576" rx="25" ry="24" fill="#102838"/>
<ellipse cx="1000" cy="576" rx="25" ry="24" fill="#1830a0"/>
<ellipse cx="1040" cy="576" rx="25" ry="24" fill="#208088"/>
<ellipse cx="1080" cy="576" rx="25" ry="24" fill="#30a030"/>
<ellipse cx="1120" cy="576" rx="25" ry="24" fill="#38a030"/>
<ellipse cx="760" cy="614" rx="25" ry="24" fill="#983020"/>
<ellipse cx="800" cy="614" rx="25" ry="24" fill="#3030b0"/>
<ellipse cx="840" cy="614" rx="25" ry="24" fill="#404020"/>
<ellipse cx="880" cy="614" rx="25" ry="24" fill="#202878"/>
<ellipse cx="920" cy="614" rx="25" ry="24" fill="#301040"/>
<ellipse cx="960" cy="614" rx="25" ry="24" fill="#401030"/>
<ellipse cx="1000" cy="614" rx="25" ry="24" fill="#2840c0"/>
<ellipse cx="1040" cy="614" rx="25" ry="24" fill="#4848e0"/>
<ellipse cx="1080" cy="614" rx="25" ry="24" fill="#2870b0"/>
<ellipse cx="1120" cy="614" rx="25" ry="24" fill="#309068"/>
<ellipse cx="800" cy="653" rx="25" ry="24" fill="#e0d040"/>
<ellipse cx="840" cy="653" rx="25" ry="24" fill="#30a020"/>
<ellipse cx="880" cy="653" rx="25" ry="24" fill="#602050"/>
<ellipse cx="920" cy="653" rx="25" ry="24" fill="#702040"/>
<ellipse cx="960" cy="653" rx="25" ry="24" fill="#3020a0"/>
<ellipse cx="1000" cy="653" rx="25" ry="24" fill="#3028b8"/>
<ellipse cx="1040" cy="653" rx="25" ry="24" fill="#3828c8"/>
<ellipse cx="1080" cy="653" rx="25" ry="24" fill="#3030d0"/>
<ellipse cx="1120" cy="653" rx="25" ry="24" fill="#3070c8"/>
<ellipse cx="800" cy="692" rx="25" ry="24" fill="#80d840"/>
<ellipse cx="840" cy="692" rx="25" ry="24" fill="#f8f8a0"/>
<ellipse cx="880" cy="692" rx="25" ry="24" fill="#9028d0"/>
<ellipse cx="920" cy="692" rx="25" ry="24" fill="#4818b8"/>
<ellipse cx="960" cy="692" rx="25" ry="24" fill="#6020e0"/>
<ellipse cx="1000" cy="692" rx="25" ry="24" fill="#5820d8"/>
<ellipse cx="1040" cy="692" rx="25" ry="24" fill="#4020c0"/>
<ellipse cx="1080" cy="692" rx="25" ry="24" fill="#3828c8"/>
<ellipse cx="1120" cy="692" rx="25" ry="24" fill="#3848d0"/>
<ellipse cx="840" cy="731" rx="25" ry="24" fill="#c0e040"/>
<ellipse cx="960" cy="731" rx="25" ry="24" fill="#5030e8"/>
<ellipse cx="1000" cy="731" rx="25" ry="24" fill="#6018d8"/>
<ellipse cx="1040" cy="731" rx="25" ry="24" fill="#7010c8"/>
<ellipse cx="1080" cy="731" rx="25" ry="24" fill="#5828d0"/>
<ellipse cx="1120" cy="731" rx="25" ry="24" fill="#4030d0"/>
<ellipse cx="580" cy="209" rx="25" ry="24" fill="#8070f0"/>
<ellipse cx="620" cy="209" rx="25" ry="24" fill="#80b8f0"/>
<ellipse cx="580" cy="248" rx="25" ry="24" fill="#70d0e0"/>
<ellipse cx="620" cy="248" rx="25" ry="24" fill="#80e0c0"/>
<ellipse cx="660" cy="248" rx="25" ry="24" fill="#c0e860"/>
<ellipse cx="580" cy="287" rx="25" ry="24" fill="#80d8a0"/>
<ellipse cx="620" cy="287" rx="25" ry="24" fill="#a0e070"/>
<ellipse cx="660" cy="287" rx="25" ry="24" fill="#b8e838"/>
<ellipse cx="700" cy="287" rx="25" ry="24" fill="#e8e880"/>
<ellipse cx="740" cy="287" rx="25" ry="24" fill="#e878e0"/>
<ellipse cx="700" cy="326" rx="25" ry="24" fill="#a0d840"/>
<ellipse cx="740" cy="326" rx="25" ry="24" fill="#e050e0"/>
<ellipse cx="780" cy="326" rx="25" ry="24" fill="#a060f0"/>
<ellipse cx="820" cy="326" rx="25" ry="24" fill="#4868e8"/>
<ellipse cx="580" cy="364" rx="25" ry="24" fill="#e08820"/>
<ellipse cx="620" cy="364" rx="25" ry="24" fill="#c0e030"/>
<ellipse cx="740" cy="364" rx="25" ry="24" fill="#68c848"/>
<ellipse cx="780" cy="364" rx="25" ry="24" fill="#d0b8e8"/>
<ellipse cx="820" cy="364" rx="25" ry="24" fill="#48a8e8"/>
<ellipse cx="860" cy="364" rx="25" ry="24" fill="#4080e8"/>
<ellipse cx="580" cy="403" rx="25" ry="24" fill="#e07818"/>
<ellipse cx="620" cy="403" rx="25" ry="24" fill="#d8c820"/>
<ellipse cx="660" cy="403" rx="25" ry="24" fill="#c0c020"/>
<ellipse cx="740" cy="403" rx="25" ry="24" fill="#40a030"/>
<ellipse cx="780" cy="403" rx="25" ry="24" fill="#90d830"/>
<ellipse cx="820" cy="403" rx="25" ry="24" fill="#48a8e0"/>
<ellipse cx="900" cy="403" rx="25" ry="24" fill="#50a8e8"/>
<ellipse cx="940" cy="403" rx="25" ry="24" fill="#58b0e8"/>
<ellipse cx="580" cy="442" rx="25" ry="24" fill="#f0c0b8"/>
<ellipse cx="620" cy="442" rx="25" ry="24" fill="#d8a020"/>
<ellipse cx="660" cy="442" rx="25" ry="24" fill="#c8b020"/>
<ellipse cx="700" cy="442" rx="25" ry="24" fill="#b04818"/>
<ellipse cx="740" cy="442" rx="25" ry="24" fill="#308020"/>
<ellipse cx="780" cy="442" rx="25" ry="24" fill="#288818"/>
<ellipse cx="820" cy="442" rx="25" ry="24" fill="#3868d8"/>
<ellipse cx="860" cy="442" rx="25" ry="24" fill="#3060e0"/>
<ellipse cx="900" cy="442" rx="25" ry="24" fill="#4078e0"/>
<ellipse cx="940" cy="442" rx="25" ry="24" fill="#50d8b8"/>
<ellipse cx="980" cy="442" rx="25" ry="24" fill="#48c080"/>
<ellipse cx="580" cy="481" rx="25" ry="24" fill="#a0e8a0"/>
<ellipse cx="620" cy="481" rx="25" ry="24" fill="#a8f038"/>
<ellipse cx="660" cy="481" rx="25" ry="24" fill="#80e070"/>
<ellipse cx="700" cy="481" rx="25" ry="24" fill="#902818"/>
<ellipse cx="740" cy="481" rx="25" ry="24" fill="#482068"/>
<ellipse cx="780" cy="481" rx="25" ry="24" fill="#105818"/>
<ellipse cx="820" cy="481" rx="25" ry="24" fill="#104848"/>
<ellipse cx="860" cy="481" rx="25" ry="24" fill="#803030"/>
<ellipse cx="900" cy="481" rx="25" ry="24" fill="#182888"/>
<ellipse cx="940" cy="481" rx="25" ry="24" fill="#206880"/>
<ellipse cx="980" cy="481" rx="25" ry="24" fill="#38a030"/>
<ellipse cx="580" cy="209" rx="25" ry="24" fill="#8878f0"/>
<ellipse cx="180" cy="248" rx="25" ry="24" fill="#e050f0"/>
<ellipse cx="300" cy="248" rx="25" ry="24" fill="#c8e828"/>
<ellipse cx="340" cy="248" rx="25" ry="24" fill="#c8f020"/>
<ellipse cx="380" cy="248" rx="25" ry="24" fill="#d8e020"/>
<ellipse cx="460" cy="248" rx="25" ry="24" fill="#90f060"/>
<ellipse cx="580" cy="248" rx="25" ry="24" fill="#60c8e0"/>
<ellipse cx="220" cy="287" rx="25" ry="24" fill="#f06090"/>
<ellipse cx="300" cy="287" rx="25" ry="24" fill="#70c020"/>
<ellipse cx="340" cy="287" rx="25" ry="24" fill="#607020"/>
<ellipse cx="380" cy="287" rx="25" ry="24" fill="#c0b020"/>
<ellipse cx="420" cy="287" rx="25" ry="24" fill="#30e0d8"/>
<ellipse cx="460" cy="287" rx="25" ry="24" fill="#40e8b0"/>
<ellipse cx="580" cy="287" rx="25" ry="24" fill="#60d8c8"/>
<ellipse cx="180" cy="326" rx="25" ry="24" fill="#f050d0"/>
<ellipse cx="220" cy="326" rx="25" ry="24" fill="#f060c0"/>
<ellipse cx="260" cy="326" rx="25" ry="24" fill="#8878e0"/>
<ellipse cx="300" cy="326" rx="25" ry="24" fill="#b09020"/>
<ellipse cx="340" cy="326" rx="25" ry="24" fill="#80a020"/>
<ellipse cx="380" cy="326" rx="25" ry="24" fill="#703080"/>
<ellipse cx="420" cy="326" rx="25" ry="24" fill="#c0c020"/>
<ellipse cx="460" cy="326" rx="25" ry="24" fill="#e0e020"/>
<ellipse cx="500" cy="326" rx="25" ry="24" fill="#c8d020"/>
<ellipse cx="220" cy="364" rx="25" ry="24" fill="#c040e0"/>
<ellipse cx="260" cy="364" rx="25" ry="24" fill="#8068e0"/>
<ellipse cx="300" cy="364" rx="25" ry="24" fill="#a01890"/>
<ellipse cx="340" cy="364" rx="25" ry="24" fill="#c02080"/>
<ellipse cx="380" cy="364" rx="25" ry="24" fill="#d06030"/>
<ellipse cx="460" cy="364" rx="25" ry="24" fill="#90d820"/>
<ellipse cx="500" cy="364" rx="25" ry="24" fill="#b0d820"/>
<ellipse cx="540" cy="364" rx="25" ry="24" fill="#e08020"/>
<ellipse cx="580" cy="364" rx="25" ry="24" fill="#e07818"/>
<ellipse cx="220" cy="403" rx="25" ry="24" fill="#e040e0"/>
<ellipse cx="260" cy="403" rx="25" ry="24" fill="#e050c0"/>
<ellipse cx="300" cy="403" rx="25" ry="24" fill="#d8a040"/>
<ellipse cx="340" cy="403" rx="25" ry="24" fill="#e05030"/>
<ellipse cx="420" cy="403" rx="25" ry="24" fill="#c04010"/>
<ellipse cx="500" cy="403" rx="25" ry="24" fill="#80d020"/>
<ellipse cx="540" cy="403" rx="25" ry="24" fill="#d88020"/>
<ellipse cx="580" cy="403" rx="25" ry="24" fill="#e08020"/>
<ellipse cx="260" cy="442" rx="25" ry="24" fill="#f0a0d8"/>
<ellipse cx="300" cy="442" rx="25" ry="24" fill="#e0e090"/>
<ellipse cx="340" cy="442" rx="25" ry="24" fill="#a0a0f8"/>
<ellipse cx="460" cy="442" rx="25" ry="24" fill="#f08060"/>
<ellipse cx="540" cy="442" rx="25" ry="24" fill="#a0d8e0"/>
<ellipse cx="580" cy="442" rx="25" ry="24" fill="#8898e8"/>
<ellipse cx="260" cy="481" rx="25" ry="24" fill="#f0c0e0"/>
<ellipse cx="580" cy="481" rx="25" ry="24" fill="#90e8a0"/>
<ellipse cx="192" cy="247" rx="12" ry="17" fill="#e050f0"/>
<ellipse cx="230" cy="262" rx="22" ry="9" fill="#e860e0"/>
<ellipse cx="234" cy="279" rx="17" ry="9" fill="#f06090"/>
<ellipse cx="215" cy="299" rx="17" ry="15" fill="#f050a0"/>
<ellipse cx="202" cy="312" rx="15" ry="10" fill="#f050d0"/>
<ellipse cx="225" cy="324" rx="17" ry="10" fill="#f060d0"/>
<ellipse cx="177" cy="327" rx="10" ry="9" fill="#f050e0"/>
<ellipse cx="269" cy="269" rx="15" ry="7" fill="#e0a060"/>
<ellipse cx="289" cy="264" rx="10" ry="7" fill="#d0e030"/>
<ellipse cx="259" cy="344" rx="14" ry="57" fill="#8070e0" transform="rotate(28 259 344)"/>
<ellipse cx="227" cy="389" rx="17" ry="30" fill="#c030e0" transform="rotate(20 227 389)"/>
<ellipse cx="197" cy="413" rx="15" ry="12" fill="#f070e0"/>
<ellipse cx="212" cy="431" rx="15" ry="12" fill="#e040d0"/>
<ellipse cx="302" cy="364" rx="22" ry="32" fill="#a01890" transform="rotate(35 302 364)"/>
<ellipse cx="356" cy="344" rx="27" ry="15" fill="#b01070"/>
<ellipse cx="331" cy="349" rx="4" ry="12" fill="#7080f0"/>
<ellipse cx="259" cy="463" rx="27" ry="17" fill="#f0c0e0"/>
<ellipse cx="244" cy="483" rx="17" ry="10" fill="#e060e0"/>
<ellipse cx="289" cy="438" rx="15" ry="15" fill="#f080d0"/>
<ellipse cx="279" cy="423" rx="17" ry="12" fill="#e05080"/>
<ellipse cx="244" cy="418" rx="10" ry="7" fill="#e06040"/>
<ellipse cx="311" cy="409" rx="15" ry="12" fill="#c0e020"/>
<ellipse cx="309" cy="294" rx="25" ry="20" fill="#70b020"/>
<ellipse cx="349" cy="284" rx="22" ry="17" fill="#80b020"/>
<ellipse cx="383" cy="299" rx="20" ry="20" fill="#70b020"/>
<ellipse cx="346" cy="302" rx="12" ry="10" fill="#d08020"/>
<ellipse cx="309" cy="317" rx="12" ry="7" fill="#d08020"/>
<ellipse cx="345" cy="299" rx="4" ry="27" fill="#607020"/>
<ellipse cx="376" cy="257" rx="25" ry="17" fill="#d8e020"/>
<ellipse cx="329" cy="252" rx="27" ry="12" fill="#c8f020"/>
<ellipse cx="433" cy="282" rx="29" ry="26" fill="#50f0a0"/>
<ellipse cx="433" cy="284" rx="21" ry="20" fill="#30e0d8"/>
<ellipse cx="470" cy="247" rx="25" ry="20" fill="#90f060"/>
<ellipse cx="470" cy="337" rx="40" ry="25" fill="#e0e020"/>
<ellipse cx="458" cy="319" rx="25" ry="10" fill="#80d020" transform="rotate(30 458 319)"/>
<ellipse cx="438" cy="349" rx="7" ry="30" fill="#405010" transform="rotate(-30 438 349)"/>
<ellipse cx="495" cy="384" rx="27" ry="32" fill="#80d020" transform="rotate(-20 495 384)"/>
<ellipse cx="418" cy="391" rx="35" ry="22" fill="#c04010"/>
<ellipse cx="349" cy="409" rx="15" ry="15" fill="#e04040"/>
<ellipse cx="359" cy="396" rx="10" ry="10" fill="#f060c0"/>
<ellipse cx="393" cy="426" rx="15" ry="12" fill="#b0e030"/>
<ellipse cx="456" cy="430" rx="22" ry="9" fill="#f08060"/>
<ellipse cx="349" cy="448" rx="10" ry="10" fill="#a0a0f8"/>
<ellipse cx="562" cy="384" rx="42" ry="45" fill="#e08020"/>
<ellipse cx="567" cy="344" rx="35" ry="7" fill="#e07010"/>
<ellipse cx="532" cy="369" rx="7" ry="25" fill="#a0a020" transform="rotate(-20 532 369)"/>
<ellipse cx="562" cy="443" rx="35" ry="17" fill="#a0d0e0"/>
<ellipse cx="570" cy="441" rx="10" ry="12" fill="#8090e0"/>
<ellipse cx="587" cy="476" rx="15" ry="15" fill="#a0f040"/>
<ellipse cx="528" cy="413" rx="12" ry="15" fill="#90c030"/>
<ellipse cx="575" cy="212" rx="17" ry="15" fill="#8878f0"/>
<ellipse cx="597" cy="240" rx="22" ry="17" fill="#70c8e8"/>
<ellipse cx="590" cy="272" rx="20" ry="12" fill="#60d8c8"/>
<ellipse cx="634" cy="264" rx="22" ry="17" fill="#b0e040"/>
<ellipse cx="672" cy="279" rx="20" ry="17" fill="#e0e050"/>
<ellipse cx="699" cy="294" rx="12" ry="15" fill="#e8e8a0"/>
<ellipse cx="724" cy="299" rx="15" ry="12" fill="#e070e0"/>
<ellipse cx="751" cy="337" rx="17" ry="15" fill="#e050e8"/>
<ellipse cx="779" cy="341" rx="12" ry="15" fill="#d8a0e0"/>
<ellipse cx="711" cy="339" rx="12" ry="20" fill="#90e070"/>
<ellipse cx="734" cy="369" rx="15" ry="22" fill="#60c040"/>
<ellipse cx="731" cy="401" rx="15" ry="17" fill="#40a030"/>
<ellipse cx="744" cy="364" rx="4" ry="74" fill="#a8c860" transform="rotate(-33 744 364)"/>
<ellipse cx="783" cy="314" rx="15" ry="12" fill="#9060f0"/>
<ellipse cx="811" cy="332" rx="17" ry="17" fill="#4070e8"/>
<ellipse cx="836" cy="354" rx="20" ry="17" fill="#40a8e8"/>
<ellipse cx="873" cy="386" rx="17" ry="12" fill="#4080e8"/>
<ellipse cx="893" cy="379" rx="10" ry="9" fill="#70c8e8"/>
<ellipse cx="796" cy="379" rx="17" ry="17" fill="#50b0e0"/>
<ellipse cx="821" cy="409" rx="20" ry="15" fill="#40a0e0"/>
<ellipse cx="783" cy="401" rx="9" ry="6" fill="#a0e030"/>
<ellipse cx="920" cy="411" rx="20" ry="20" fill="#50b0e8"/>
<ellipse cx="947" cy="441" rx="17" ry="15" fill="#50e0b0"/>
<ellipse cx="972" cy="466" rx="20" ry="17" fill="#40a030"/>
<ellipse cx="883" cy="441" rx="22" ry="12" fill="#3060e0"/>
<ellipse cx="858" cy="461" rx="17" ry="11" fill="#4030a0"/>
<ellipse cx="913" cy="466" rx="20" ry="12" fill="#308060"/>
<ellipse cx="759" cy="438" rx="20" ry="15" fill="#309020"/>
<ellipse cx="783" cy="466" rx="22" ry="15" fill="#106010"/>
<ellipse cx="813" cy="478" rx="20" ry="12" fill="#104040"/>
<ellipse cx="734" cy="453" rx="12" ry="15" fill="#401060"/>
<ellipse cx="714" cy="466" rx="10" ry="15" fill="#a02010"/>
<ellipse cx="699" cy="466" rx="10" ry="17" fill="#c06010"/>
<ellipse cx="721" cy="490" rx="12" ry="10" fill="#6020a0"/>
<ellipse cx="846" cy="490" rx="15" ry="10" fill="#803030"/>
<ellipse cx="888" cy="490" rx="22" ry="12" fill="#102080"/>
<ellipse cx="597" cy="389" rx="42" ry="50" fill="#e08020"/>
<ellipse cx="590" cy="389" rx="20" ry="25" fill="#e06810"/>
<ellipse cx="610" cy="409" rx="9" ry="10" fill="#e0f020"/>
<ellipse cx="634" cy="364" rx="12" ry="17" fill="#c0e030"/>
<ellipse cx="659" cy="428" rx="12" ry="20" fill="#c0b020"/>
<ellipse cx="674" cy="453" rx="12" ry="12" fill="#c07020"/>
<ellipse cx="585" cy="438" rx="12" ry="9" fill="#f0c8c0"/>
<ellipse cx="567" cy="446" rx="10" ry="10" fill="#9090e8"/>
<ellipse cx="622" cy="461" rx="12" ry="15" fill="#a0f030"/>
<ellipse cx="597" cy="478" rx="12" ry="12" fill="#a0e8e0"/>
<ellipse cx="639" cy="478" rx="10" ry="12" fill="#60e8a0"/>
<ellipse cx="664" cy="478" rx="10" ry="12" fill="#a0d030"/>
<ellipse cx="707" cy="460" rx="12" ry="15" fill="#c02010"/>
<ellipse cx="725" cy="480" rx="12" ry="17" fill="#501860"/>
<ellipse cx="762" cy="470" rx="22" ry="17" fill="#309020"/>
<ellipse cx="799" cy="465" rx="22" ry="17" fill="#40a020"/>
<ellipse cx="774" cy="497" rx="22" ry="12" fill="#104818"/>
<ellipse cx="737" cy="517" rx="17" ry="15" fill="#182070"/>
<ellipse cx="842" cy="492" rx="15" ry="11" fill="#703030"/>
<ellipse cx="824" cy="514" rx="20" ry="12" fill="#1828a0"/>
<ellipse cx="874" cy="505" rx="22" ry="15" fill="#2848c0"/>
<ellipse cx="899" cy="460" rx="22" ry="15" fill="#30a0b0"/>
<ellipse cx="948" cy="455" rx="22" ry="15" fill="#40b0a0"/>
<ellipse cx="961" cy="490" rx="22" ry="17" fill="#30a030"/>
<ellipse cx="986" cy="519" rx="17" ry="22" fill="#30a030"/>
<ellipse cx="993" cy="470" rx="15" ry="17" fill="#40b030"/>
<ellipse cx="849" cy="539" rx="20" ry="15" fill="#101850"/>
<ellipse cx="879" cy="539" rx="12" ry="12" fill="#303020"/>
<ellipse cx="923" cy="544" rx="27" ry="20" fill="#081040"/>
<ellipse cx="963" cy="554" rx="17" ry="17" fill="#104020"/>
<ellipse cx="787" cy="564" rx="17" ry="17" fill="#4020c0"/>
<ellipse cx="804" cy="591" rx="17" ry="15" fill="#4030c8"/>
<ellipse cx="774" cy="539" rx="17" ry="12" fill="#2030b0"/>
<ellipse cx="745" cy="579" rx="11" ry="22" fill="#a02020" transform="rotate(-20 745 579)"/>
<ellipse cx="765" cy="611" rx="11" ry="20" fill="#902020" transform="rotate(-35 765 611)"/>
<ellipse cx="782" cy="631" rx="12" ry="10" fill="#a07050"/>
<ellipse cx="737" cy="549" rx="6" ry="15" fill="#807020"/>
<ellipse cx="849" cy="589" rx="20" ry="12" fill="#207080"/>
<ellipse cx="886" cy="589" rx="20" ry="15" fill="#182880"/>
<ellipse cx="923" cy="591" rx="20" ry="17" fill="#181060"/>
<ellipse cx="948" cy="616" rx="20" ry="15" fill="#401030"/>
<ellipse cx="911" cy="636" rx="17" ry="12" fill="#802030"/>
<ellipse cx="986" cy="589" rx="20" ry="20" fill="#2040c0"/>
<ellipse cx="1023" cy="614" rx="20" ry="17" fill="#4040e0"/>
<ellipse cx="1048" cy="589" rx="17" ry="15" fill="#2080a0"/>
<ellipse cx="1072" cy="564" rx="22" ry="17" fill="#30a030"/>
<ellipse cx="1097" cy="552" rx="20" ry="15" fill="#40a828"/>
<ellipse cx="1125" cy="539" rx="12" ry="10" fill="#907030"/>
<ellipse cx="1122" cy="589" rx="17" ry="15" fill="#309060"/>
<ellipse cx="1097" cy="629" rx="20" ry="17" fill="#2860c0"/>
<ellipse cx="1125" cy="663" rx="17" ry="20" fill="#3080c0"/>
<ellipse cx="1072" cy="654" rx="17" ry="17" fill="#3030d0"/>
<ellipse cx="839" cy="636" rx="20" ry="12" fill="#30c020"/>
<ellipse cx="864" cy="663" rx="12" ry="17" fill="#208020"/>
<ellipse cx="824" cy="671" rx="19" ry="37" fill="#ffff30" transform="rotate(-35 824 671)"/>
<ellipse cx="817" cy="651" rx="7" ry="7" fill="#ffffff"/>
<ellipse cx="844" cy="676" rx="11" ry="14" fill="#ffffff"/>
<ellipse cx="787" cy="688" rx="12" ry="15" fill="#90e040"/>
<ellipse cx="804" cy="711" rx="12" ry="12" fill="#60b830"/>
<ellipse cx="812" cy="728" rx="20" ry="10" fill="#a0d8a0" transform="rotate(50 812 728)"/>
<ellipse cx="886" cy="676" rx="12" ry="15" fill="#7020d0"/>
<ellipse cx="874" cy="691" rx="10" ry="10" fill="#a030d0"/>
<ellipse cx="923" cy="676" rx="20" ry="15" fill="#4018b0"/>
<ellipse cx="948" cy="703" rx="17" ry="17" fill="#6020e0"/>
<ellipse cx="963" cy="728" rx="12" ry="15" fill="#5030e8"/>
<ellipse cx="1010" cy="713" rx="22" ry="20" fill="#6018d8"/>
<ellipse cx="1038" cy="738" rx="20" ry="12" fill="#7010c0"/>
<ellipse cx="1097" cy="726" rx="22" ry="20" fill="#4030d0"/>
<ellipse cx="1060" cy="688" rx="17" ry="20" fill="#3020b0"/>
<ellipse cx="973" cy="651" rx="17" ry="15" fill="#281880"/>
<ellipse cx="1010" cy="663" rx="17" ry="15" fill="#3020a0"/>
<ellipse cx="1074" cy="567" rx="30" ry="17" fill="#40a828"/>
<ellipse cx="1122" cy="552" rx="10" ry="9" fill="#906828"/>
<ellipse cx="1112" cy="592" rx="27" ry="17" fill="#38a030"/>
<ellipse cx="1161" cy="605" rx="22" ry="15" fill="#309050"/>
<ellipse cx="1037" cy="590" rx="20" ry="15" fill="#2070a0"/>
<ellipse cx="1012" cy="614" rx="15" ry="17" fill="#2038c0"/>
<ellipse cx="1050" cy="629" rx="20" ry="15" fill="#3040d0"/>
<ellipse cx="1030" cy="619" rx="10" ry="10" fill="#6050e0"/>
<ellipse cx="1124" cy="639" rx="22" ry="17" fill="#2878b0"/>
<ellipse cx="1174" cy="639" rx="20" ry="15" fill="#3050b8"/>
<ellipse cx="1211" cy="627" rx="17" ry="12" fill="#307098"/>
<ellipse cx="1236" cy="647" rx="15" ry="15" fill="#6028a0"/>
<ellipse cx="1273" cy="654" rx="17" ry="15" fill="#802080"/>
<ellipse cx="1293" cy="679" rx="12" ry="17" fill="#801848"/>
<ellipse cx="1025" cy="689" rx="20" ry="20" fill="#3020c8"/>
<ellipse cx="1074" cy="701" rx="12" ry="27" fill="#3030d0"/>
<ellipse cx="1037" cy="739" rx="22" ry="20" fill="#6818e0"/>
<ellipse cx="1062" cy="766" rx="22" ry="15" fill="#8020d8"/>
<ellipse cx="1099" cy="751" rx="17" ry="20" fill="#7020d0"/>
<ellipse cx="1137" cy="726" rx="17" ry="20" fill="#5030c0"/>
<ellipse cx="1161" cy="689" rx="17" ry="20" fill="#2888b8"/>
<ellipse cx="1186" cy="714" rx="15" ry="17" fill="#3068c0"/>
<ellipse cx="1199" cy="677" rx="15" ry="15" fill="#3058b8"/>
<ellipse cx="1223" cy="714" rx="15" ry="17" fill="#4030a8"/>
<ellipse cx="1248" cy="701" rx="15" ry="17" fill="#6828a8"/>
<ellipse cx="1273" cy="729" rx="17" ry="17" fill="#803080"/>
<ellipse cx="1310" cy="714" rx="15" ry="20" fill="#701030"/>
<ellipse cx="1330" cy="736" rx="12" ry="12" fill="#801838"/>
<ellipse cx="1358" cy="639" rx="11" ry="27" fill="#e828a8"/>
<ellipse cx="1360" cy="682" rx="10" ry="20" fill="#a01850"/>
<ellipse cx="1370" cy="612" rx="7" ry="17" fill="#e8d0e0"/>
<ellipse cx="1384" cy="592" rx="5" ry="15" fill="#c0e8e0"/>
<ellipse cx="1348" cy="751" rx="6" ry="35" fill="#6050b8" transform="rotate(45 1348 751)"/>
<ellipse cx="1397" cy="729" rx="20" ry="12" fill="#90e030"/>
<ellipse cx="1425" cy="739" rx="12" ry="15" fill="#c0f030"/>
<ellipse cx="1410" cy="763" rx="12" ry="12" fill="#d8e870"/>
<ellipse cx="1372" cy="776" rx="15" ry="15" fill="#60d850"/>
<ellipse cx="1360" cy="801" rx="12" ry="15" fill="#50c840"/>
<ellipse cx="1397" cy="801" rx="12" ry="12" fill="#a0e8b0"/>
<ellipse cx="1422" cy="788" rx="10" ry="15" fill="#e8c040"/>
<ellipse cx="1435" cy="816" rx="10" ry="15" fill="#f040c0"/>
<ellipse cx="1410" cy="828" rx="15" ry="12" fill="#f070b0"/>
<ellipse cx="1385" cy="840" rx="15" ry="10" fill="#f08080"/>
<ellipse cx="1360" cy="838" rx="10" ry="10" fill="#d0d0a0"/>
<ellipse cx="1310" cy="763" rx="15" ry="17" fill="#b030b0"/>
<ellipse cx="1323" cy="801" rx="15" ry="22" fill="#a028a0"/>
<ellipse cx="1298" cy="816" rx="15" ry="17" fill="#8030a8"/>
<ellipse cx="1273" cy="788" rx="15" ry="15" fill="#b02070"/>
<ellipse cx="1248" cy="776" rx="12" ry="10" fill="#a03020"/>
<ellipse cx="1223" cy="780" rx="11" ry="7" fill="#c05818"/>
<ellipse cx="1236" cy="791" rx="10" ry="7" fill="#d07020"/>
<ellipse cx="1263" cy="816" rx="11" ry="12" fill="#e8e020"/>
<ellipse cx="1276" cy="836" rx="12" ry="12" fill="#f0f020"/>
<ellipse cx="1286" cy="768" rx="3" ry="4" fill="#90f0a0"/>
<ellipse cx="1174" cy="763" rx="15" ry="15" fill="#7030c0"/>
<ellipse cx="1149" cy="776" rx="10" ry="12" fill="#a080e0"/>
<ellipse cx="1142" cy="763" rx="6" ry="12" fill="#b0c8f0"/>
<ellipse cx="1124" cy="791" rx="12" ry="15" fill="#8040d0"/>
<ellipse cx="1112" cy="816" rx="12" ry="15" fill="#d0b8f0"/>
<ellipse cx="1137" cy="828" rx="10" ry="12" fill="#b0f0e8"/>
<ellipse cx="1154" cy="816" rx="9" ry="12" fill="#70e070"/>
<ellipse cx="1174" cy="828" rx="10" ry="12" fill="#b0e840"/>
<ellipse cx="1186" cy="803" rx="9" ry="12" fill="#d040c0"/>
<ellipse cx="1199" cy="816" rx="10" ry="12" fill="#b02858"/>
<ellipse cx="1174" cy="788" rx="10" ry="10" fill="#8030c8"/>
<ellipse cx="1357" cy="647" rx="12" ry="30" fill="#e828b0"/>
<ellipse cx="1382" cy="597" rx="6" ry="17" fill="#c8e8e0"/>
<ellipse cx="1362" cy="694" rx="11" ry="20" fill="#a01850"/>
<ellipse cx="1344" cy="734" rx="12" ry="17" fill="#801838"/>
<ellipse cx="1339" cy="774" rx="12" ry="20" fill="#702868"/>
<ellipse cx="1369" cy="724" rx="6" ry="27" fill="#6858b0" transform="rotate(45 1369 724)"/>
<ellipse cx="1347" cy="798" rx="12" ry="12" fill="#803070"/>
<ellipse cx="1394" cy="734" rx="15" ry="17" fill="#90e030"/>
<ellipse cx="1419" cy="721" rx="15" ry="12" fill="#b8f030"/>
<ellipse cx="1382" cy="771" rx="15" ry="17" fill="#58d048"/>
<ellipse cx="1406" cy="783" rx="15" ry="15" fill="#80e880"/>
<ellipse cx="1369" cy="808" rx="12" ry="12" fill="#68d050"/>
<ellipse cx="1419" cy="754" rx="10" ry="12" fill="#e0e080"/>
<ellipse cx="1451" cy="734" rx="11" ry="17" fill="#80f0c8"/>
<ellipse cx="1461" cy="761" rx="10" ry="15" fill="#a0e8e0"/>
<ellipse cx="1436" cy="774" rx="9" ry="12" fill="#c8e8c0"/>
<ellipse cx="1493" cy="622" rx="9" ry="30" fill="#b0d8e8"/>
<ellipse cx="1501" cy="662" rx="12" ry="17" fill="#d0e8a0"/>
<ellipse cx="1481" cy="699" rx="15" ry="17" fill="#c8f040"/>
<ellipse cx="1493" cy="734" rx="15" ry="17" fill="#e8e838"/>
<ellipse cx="1526" cy="642" rx="12" ry="15" fill="#d08028"/>
<ellipse cx="1531" cy="672" rx="12" ry="15" fill="#e09828"/>
<ellipse cx="1551" cy="664" rx="7" ry="9" fill="#a0f040"/>
<ellipse cx="1568" cy="647" rx="15" ry="15" fill="#e8e828"/>
<ellipse cx="1580" cy="684" rx="17" ry="17" fill="#f0f030"/>
<ellipse cx="1543" cy="697" rx="12" ry="12" fill="#e8e030"/>
<ellipse cx="1543" cy="721" rx="12" ry="15" fill="#e8a030"/>
<ellipse cx="1568" cy="711" rx="12" ry="12" fill="#f0c840"/>
<ellipse cx="1518" cy="709" rx="12" ry="15" fill="#e0e028"/>
<ellipse cx="1605" cy="672" rx="12" ry="15" fill="#f8c8d8"/>
<ellipse cx="1630" cy="659" rx="12" ry="12" fill="#f0f080"/>
<ellipse cx="1650" cy="674" rx="12" ry="17" fill="#f0f030"/>
<ellipse cx="1642" cy="699" rx="12" ry="12" fill="#f0f030"/>
<ellipse cx="1618" cy="697" rx="10" ry="12" fill="#f890d0"/>
<ellipse cx="1630" cy="716" rx="12" ry="10" fill="#f8c8e0"/>
<ellipse cx="1593" cy="729" rx="15" ry="12" fill="#f8d8b0"/>
<ellipse cx="1555" cy="741" rx="17" ry="10" fill="#f8c0e0"/>
<ellipse cx="1580" cy="751" rx="17" ry="6" fill="#f070e0"/>
<ellipse cx="1603" cy="602" rx="7" ry="25" fill="#e8e840" transform="rotate(-28 1603 602)"/>
<ellipse cx="1620" cy="632" rx="9" ry="9" fill="#f0e0d0"/>
<ellipse cx="1542" cy="587" rx="5" ry="25" fill="#a8e838"/>
<ellipse cx="1406" cy="808" rx="15" ry="12" fill="#f09070"/>
<ellipse cx="1382" cy="821" rx="12" ry="12" fill="#f080c0"/>
<ellipse cx="1431" cy="821" rx="15" ry="12" fill="#f040d0"/>
<ellipse cx="1456" cy="808" rx="12" ry="12" fill="#f030d0"/>
<ellipse cx="1451" cy="828" rx="5" ry="7" fill="#c0f0f0"/>
<ellipse cx="1456" cy="856" rx="15" ry="12" fill="#f030d0"/>
<ellipse cx="1419" cy="846" rx="15" ry="12" fill="#f068c8"/>
<ellipse cx="1369" cy="846" rx="15" ry="12" fill="#f8b0d8"/>
<ellipse cx="1344" cy="833" rx="12" ry="15" fill="#d8c0e8"/>
<ellipse cx="1531" cy="796" rx="10" ry="10" fill="#f070d0"/>
<ellipse cx="1543" cy="791" rx="7" ry="10" fill="#a0e8a0"/>
<ellipse cx="1506" cy="808" rx="12" ry="12" fill="#f0e8a0"/>
<ellipse cx="1493" cy="833" rx="12" ry="12" fill="#f0a080"/>
<ellipse cx="1518" cy="846" rx="12" ry="12" fill="#d8d0f0"/>
<ellipse cx="1538" cy="833" rx="9" ry="10" fill="#a0b0e8"/>
<ellipse cx="1565" cy="771" rx="20" ry="7" fill="#e87090" transform="rotate(30 1565 771)"/>
<ellipse cx="1655" cy="734" rx="6" ry="27" fill="#b8d088" transform="rotate(15 1655 734)"/>
<ellipse cx="1642" cy="783" rx="9" ry="12" fill="#80e0c0"/>
<ellipse cx="1662" cy="783" rx="7" ry="10" fill="#f0a0c0"/>
<ellipse cx="1630" cy="808" rx="10" ry="10" fill="#9060e0"/>
<ellipse cx="1642" cy="821" rx="11" ry="9" fill="#70d8f0"/>
<ellipse cx="1660" cy="803" rx="10" ry="10" fill="#6868e0"/>
<ellipse cx="1680" cy="783" rx="10" ry="12" fill="#3878d8"/>
<ellipse cx="1692" cy="783" rx="6" ry="12" fill="#102080"/>
<ellipse cx="1675" cy="808" rx="11" ry="10" fill="#50a8e0"/>
<ellipse cx="1667" cy="828" rx="10" ry="7" fill="#c0b8f0"/>
<ellipse cx="1700" cy="846" rx="7" ry="15" fill="#4888e0"/>
<ellipse cx="1675" cy="841" rx="10" ry="7" fill="#60c8e8"/>
<ellipse cx="1555" cy="858" rx="12" ry="10" fill="#4080e0"/>
<ellipse cx="1600" cy="858" rx="7" ry="12" fill="#a0d0c0"/>
<ellipse cx="1065" cy="775" rx="22" ry="15" fill="#7020d8"/>
<ellipse cx="1102" cy="785" rx="17" ry="17" fill="#7828c8"/>
<ellipse cx="1127" cy="810" rx="12" ry="17" fill="#b090e8"/>
<ellipse cx="1114" cy="837" rx="15" ry="17" fill="#e0d8f8"/>
<ellipse cx="1102" cy="872" rx="10" ry="12" fill="#c890f0"/>
<ellipse cx="1097" cy="892" rx="9" ry="10" fill="#c050f0"/>
<ellipse cx="1139" cy="797" rx="10" ry="17" fill="#a0e0e8"/>
<ellipse cx="1152" cy="822" rx="10" ry="15" fill="#70e060"/>
<ellipse cx="1144" cy="859" rx="12" ry="15" fill="#c0f8e0"/>
<ellipse cx="1164" cy="847" rx="9" ry="15" fill="#90e040"/>
<ellipse cx="1179" cy="810" rx="10" ry="17" fill="#c838c0"/>
<ellipse cx="1169" cy="785" rx="10" ry="12" fill="#8030c8"/>
<ellipse cx="1191" cy="785" rx="10" ry="12" fill="#6040d0"/>
<ellipse cx="1214" cy="780" rx="12" ry="10" fill="#a04020"/>
<ellipse cx="1239" cy="785" rx="12" ry="11" fill="#c85020"/>
<ellipse cx="1263" cy="780" rx="12" ry="12" fill="#b02858"/>
<ellipse cx="1301" cy="810" rx="15" ry="20" fill="#a030a8"/>
<ellipse cx="1276" cy="810" rx="11" ry="15" fill="#c030a0"/>
<ellipse cx="1271" cy="827" rx="10" ry="15" fill="#f0e820" transform="rotate(-30 1271 827)"/>
<ellipse cx="1288" cy="844" rx="12" ry="10" fill="#c0e840"/>
<ellipse cx="1313" cy="834" rx="12" ry="12" fill="#f0b0e0"/>
<ellipse cx="1326" cy="797" rx="12" ry="17" fill="#a838b0"/>
<ellipse cx="1350" cy="785" rx="12" ry="20" fill="#80e040" transform="rotate(25 1350 785)"/>
<ellipse cx="1375" cy="780" rx="12" ry="15" fill="#70d848"/>
<ellipse cx="1363" cy="812" rx="10" ry="10" fill="#c0d890"/>
<ellipse cx="1400" cy="797" rx="12" ry="15" fill="#f0a060"/>
<ellipse cx="1425" cy="785" rx="12" ry="15" fill="#e8c040"/>
<ellipse cx="1450" cy="775" rx="10" ry="12" fill="#a0e8c0"/>
<ellipse cx="1465" cy="797" rx="12" ry="15" fill="#e8e840"/>
<ellipse cx="1388" cy="834" rx="17" ry="15" fill="#f050c8"/>
<ellipse cx="1412" cy="822" rx="12" ry="12" fill="#f08898"/>
<ellipse cx="1437" cy="847" rx="15" ry="15" fill="#f040d8"/>
<ellipse cx="1451" cy="825" rx="5" ry="9" fill="#c8f0f8"/>
<ellipse cx="1462" cy="859" rx="12" ry="15" fill="#f038d0"/>
<ellipse cx="1338" cy="872" rx="17" ry="12" fill="#f8e0f0"/>
<ellipse cx="1363" cy="884" rx="15" ry="12" fill="#f070e0"/>
<ellipse cx="1400" cy="872" rx="17" ry="15" fill="#f060d8"/>
<ellipse cx="1338" cy="897" rx="12" ry="12" fill="#e0d0f8"/>
<ellipse cx="1350" cy="921" rx="15" ry="12" fill="#e848e0"/>
<ellipse cx="1388" cy="909" rx="17" ry="12" fill="#f078e0"/>
<ellipse cx="1412" cy="897" rx="12" ry="12" fill="#d898e8"/>
<ellipse cx="1313" cy="934" rx="10" ry="12" fill="#8890f0"/>
<ellipse cx="1321" cy="954" rx="10" ry="10" fill="#e850e0"/>
<ellipse cx="1301" cy="971" rx="10" ry="10" fill="#7088f0"/>
<ellipse cx="1350" cy="959" rx="12" ry="10" fill="#a0a0f0"/>
<ellipse cx="1359" cy="971" rx="6" ry="5" fill="#f8f0f8"/>
<ellipse cx="1199" cy="864" rx="10" ry="10" fill="#e09030"/>
<ellipse cx="1214" cy="874" rx="11" ry="11" fill="#c03050"/>
<ellipse cx="1219" cy="899" rx="10" ry="15" fill="#c820a0"/>
<ellipse cx="1214" cy="924" rx="9" ry="12" fill="#8840d8"/>
<ellipse cx="1221" cy="949" rx="6" ry="12" fill="#6070e8"/>
<ellipse cx="1239" cy="867" rx="12" ry="9" fill="#b04030"/>
<ellipse cx="1263" cy="869" rx="12" ry="9" fill="#b83048"/>
<ellipse cx="1271" cy="899" rx="14" ry="12" fill="#7028d0"/>
<ellipse cx="1263" cy="921" rx="12" ry="12" fill="#8028b8"/>
<ellipse cx="1256" cy="946" rx="12" ry="12" fill="#5868e8"/>
<ellipse cx="1276" cy="959" rx="15" ry="12" fill="#6888f0"/>
<ellipse cx="1263" cy="979" rx="15" ry="10" fill="#6850e8"/>
<ellipse cx="1239" cy="1001" rx="10" ry="7" fill="#6070f0"/>
<ellipse cx="1293" cy="983" rx="10" ry="7" fill="#6890f0"/>
<ellipse cx="1412" cy="914" rx="9" ry="12" fill="#e8c030"/>
<ellipse cx="1417" cy="936" rx="7" ry="10" fill="#c8e840"/>
<ellipse cx="1437" cy="909" rx="12" ry="12" fill="#f060d0"/>
<ellipse cx="1450" cy="934" rx="12" ry="12" fill="#f0d8e8"/>
<ellipse cx="1462" cy="897" rx="10" ry="12" fill="#f080d0"/>
<ellipse cx="1400" cy="946" rx="7" ry="12" fill="#c0a0f0"/>
<ellipse cx="1388" cy="939" rx="6" ry="10" fill="#d850e0"/>
<ellipse cx="1162" cy="907" rx="12" ry="15" fill="#d0d0f8"/>
<ellipse cx="1512" cy="873" rx="23" ry="23" fill="#e8c8f0"/>
<ellipse cx="1529" cy="884" rx="14" ry="14" fill="#90b0f0"/>
<ellipse cx="1543" cy="915" rx="23" ry="17" fill="#5090e8"/>
<ellipse cx="1577" cy="899" rx="14" ry="11" fill="#60a0e8"/>
<ellipse cx="1602" cy="865" rx="7" ry="14" fill="#8080e0"/>
<ellipse cx="1601" cy="849" rx="5" ry="7" fill="#a0e0a0"/>
<ellipse cx="1565" cy="855" rx="14" ry="7" fill="#5080e0"/>
<ellipse cx="1486" cy="910" rx="17" ry="14" fill="#c0c8f0"/>
<ellipse cx="1441" cy="865" rx="17" ry="14" fill="#f040d8"/>
<ellipse cx="1458" cy="893" rx="17" ry="14" fill="#f8c0e0"/>
<ellipse cx="1413" cy="921" rx="10" ry="17" fill="#e8b838"/>
<ellipse cx="1430" cy="913" rx="10" ry="14" fill="#f080c0"/>
<ellipse cx="1475" cy="851" rx="17" ry="20" fill="#f0a0c0"/>
<ellipse cx="1492" cy="825" rx="14" ry="14" fill="#f0d0a0"/>
<ellipse cx="1385" cy="955" rx="10" ry="20" fill="#d080f0"/>
<ellipse cx="1393" cy="1034" rx="6" ry="17" fill="#e070e0"/>
<ellipse cx="528" cy="457" rx="14" ry="11" fill="#a0e8e8"/>
<ellipse cx="585" cy="463" rx="14" ry="11" fill="#90c0f0"/>
<ellipse cx="599" cy="451" rx="11" ry="8" fill="#e09030"/>
<ellipse cx="627" cy="468" rx="14" ry="14" fill="#b0f030"/>
<ellipse cx="641" cy="496" rx="11" ry="17" fill="#60e8a0"/>
<ellipse cx="619" cy="511" rx="11" ry="11" fill="#a0d830"/>
<ellipse cx="599" cy="519" rx="11" ry="8" fill="#c0b828"/>
<ellipse cx="627" cy="527" rx="10" ry="8" fill="#a0e0e8"/>
<ellipse cx="669" cy="482" rx="14" ry="17" fill="#90d830"/>
<ellipse cx="683" cy="511" rx="14" ry="14" fill="#b0d030"/>
<ellipse cx="698" cy="468" rx="11" ry="14" fill="#c07020"/>
<ellipse cx="712" cy="457" rx="10" ry="11" fill="#a02818"/>
<ellipse cx="703" cy="496" rx="10" ry="14" fill="#a09028"/>
<ellipse cx="726" cy="525" rx="8" ry="17" fill="#806020"/>
<ellipse cx="740" cy="567" rx="10" ry="23" fill="#a03020"/>
<ellipse cx="754" cy="609" rx="11" ry="23" fill="#982020" transform="rotate(-25 754 609)"/>
<ellipse cx="771" cy="638" rx="11" ry="17" fill="#a04030" transform="rotate(-35 771 638)"/>
<ellipse cx="785" cy="654" rx="11" ry="8" fill="#b08860"/>
<ellipse cx="808" cy="708" rx="10" ry="51" fill="#a8d8a0" transform="rotate(-38 808 708)"/>
</g>
<polygon fill="#f06090" points="220.9,276.2 231.1,272.8 241.3,274.5 251.4,276.2 259.9,280.4 251.4,283.8 241.3,283 232.8,284.6 224.3,281.3"/>
<polygon fill="#f050e0" points="168.5,326.1 175.2,321.9 182,324.4 185.4,332.1 180.3,337.1 173.5,333.7"/>
<polygon fill="#f050e0" points="189.6,320.2 193.9,318.5 198.1,325.3 195.6,330.4 191.3,328.7"/>
<polygon fill="#e050e0" points="210.8,350.7 219.3,343.9 227.7,341.4 229.4,344.8 222.6,350.7 214.2,354.9"/>
<polygon fill="#e050f0" points="176.9,249.1 182,237.2 190.5,232.2 198.9,232.2 200.6,236.4 192.2,242.3 188.8,250.8 187.9,259.3 183.7,263.5 178.6,260.9"/>
<polygon fill="#a06060" points="245.5,229.6 251.4,226.2 256.5,228.8 254,233.9 248,234.7"/>
<polygon fill="#c0f040" points="336.1,206.8 338.6,203.4 342.8,205.1 342,211.9 337.8,213.5"/>
<polygon fill="#80e040" points="477.6,207.2 486.1,202.1 495.9,201.6 493.1,208.6 483.3,212.9"/>
<polygon fill="#a0a0f8" points="343.7,448.5 347.9,443.4 356.4,440 361.5,441.7 359.8,448.5 354.7,455.3 347.9,458.7 343.7,459.5"/>
<polygon fill="#c0a0f0" points="363.2,428.2 369.9,424.8 371.6,428.2 366.5,435 362.3,435.8"/>
<polygon fill="#e8a0d8" points="275.1,483.2 281.9,477.3 288.7,472.2 292.1,468 291.2,472.2 285.3,479 278.5,485.8"/>
<polygon fill="#f0e880" points="307.6,507.8 307.2,509.7 305.9,511.3 304.1,512.2 302,512.2 300.2,511.3 298.9,509.7 298.5,507.8 298.9,505.8 300.2,504.2 302,503.3 304.1,503.3 305.9,504.2 307.2,505.8"/>
<polygon fill="#c0f0e0" points="558.1,478.4 556.7,479.7 554.5,480.1 551.9,479.5 549.5,478.2 547.8,476.2 547,474.1 547.4,472.2 548.8,470.9 551.1,470.5 553.6,471 556,472.4 557.8,474.3 558.5,476.5"/>
<polygon fill="#c0f0d0" points="556.8,472.7 557.9,475.6 557.9,478.5 556.8,480.7 554.8,481.8 552.4,481.6 549.9,480.2 548,477.8 546.9,474.9 546.9,472.1 548,469.9 549.9,468.8 552.4,468.9 554.8,470.3"/>
<polygon fill="#e87090" points="1583,783.1 1580,784.4 1574,783.5 1566.3,780.5 1558.5,775.9 1552.1,770.8 1548.3,766.1 1547.9,762.8 1550.9,761.5 1556.9,762.4 1564.6,765.5 1572.4,770 1578.9,775.1 1582.7,779.8"/>
<polygon fill="#5080e0" points="1549.9,847.7 1554.2,843.5 1562.6,852 1571.1,859 1579.6,860.4 1575.3,866.1 1565.5,864.7 1557,859 1551.3,853.4"/>
<polygon fill="#e070e0" points="1390.5,1019.8 1396.2,1018.4 1397.6,1028.3 1394.7,1036.8 1397.6,1045.2 1396.2,1053.7 1391.9,1050.9 1390.5,1041 1388.3,1034 1391.9,1026.9"/>
</g>
<polygon fill="#d2d2d2" points="898.1,503.8 903.2,497 909.9,491.9 918.4,485.2 925.2,478.4 928.6,483.5 937,483.5 948.9,483.5 949.7,488.6 940.4,491.1 926.9,491.9 920.1,497 911.6,502.1 903.2,508.9 899.8,513.9"/>
<polygon fill="#d2d2d2" points="813.4,431 818.5,434.4 828.7,437.8 849,437.8 864.2,432.7 864.2,437.8 849,443.7 828.7,443.7 816.8,439.5"/>
<polygon fill="#d2d2d2" points="833.7,387 843.9,388.7 850.7,393.7 852.4,400.5 847.3,405.6 843.9,398.8 837.1,393.7"/>
<polygon fill="#bebebe" stroke="#000" stroke-width="1.9" stroke-linejoin="round" points="383.5,351.4 390.9,348.9 398.4,353.9 408.3,356.4 420.7,358.9 433.2,355.1 445.6,361.3 455.5,368.8 463,376.2 467.9,386.2 464.2,391.1 456.7,386.2 449.3,378.7 440.6,373.8 430.7,373.8 423.2,378.7 413.3,381.2 405.8,373.8 398.4,368.8 388.5,366.3 384.7,358.9"/>
<polygon fill="#bebebe" stroke="#000" stroke-width="1.9" stroke-linejoin="round" points="370.8,391.8 380.1,390.9 388.6,394.3 395.3,397.7 403.8,402.8 400.4,409.6 391.9,413 385.2,409.6 378.4,414.6 371.6,415.5 369.1,407.9 371.6,401.1 367.4,397.7"/>
<polygon fill="#bebebe" stroke="#000" stroke-width="1.9" stroke-linejoin="round" points="517.1,387.8 528.4,385 539.7,390.6 543.9,397.7 536.9,401.9 525.6,399.1 518.5,394.9"/>
<polygon fill="#bebebe" stroke="#000" stroke-width="1.9" stroke-linejoin="round" points="524.2,416 529.8,410.4 535.5,418.8 536.9,430.1 531.2,434.4 525.6,427.3"/>
<polygon fill="#bebebe" stroke="#000" stroke-width="1.9" stroke-linejoin="round" points="1165.6,853 1168.9,847 1174,841.1 1179.1,834.3 1184.2,827.6 1190.9,822.5 1197.7,817.4 1202.8,810.6 1206.2,803.9 1211.3,798.8 1216.3,792 1221.4,788.6 1226.5,792 1233.3,795.4 1240,794.5 1245.1,798.8 1246.8,805.6 1248.5,812.3 1253.6,819.1 1260.4,819.1 1264.6,822.5 1265.4,829.3 1267.1,837.7 1268,844.5 1270.5,849.6 1269.7,856.3 1272.2,859.7 1273.9,864 1267.1,862.3 1262.1,854.6 1255.3,854.6 1248.5,856.3 1243.4,859.7 1238.4,863.1 1233.3,858 1228.2,853 1223.1,849.6 1218,847.9 1216.3,842.8 1219.7,837.7 1224,833.5 1219.7,835.2 1214.6,839.4 1209.6,844.5 1204.5,847.9 1197.7,851.3 1192.6,854.6 1187.6,858 1182.5,853 1177.4,849.6 1172.3,853 1168.1,855.5"/>
<polygon fill="#bebebe" stroke="#000" stroke-width="1.9" stroke-linejoin="round" points="1265.4,878.4 1270.5,875.8 1277.3,869.9 1282.4,869 1290.8,869.9 1299.3,871.6 1307.8,873.3 1316.2,875 1321.3,875.8 1323.8,885.1 1328.1,891.9 1331.5,900.4 1335.7,909.7 1331.5,913.9 1328.1,919 1323,915.6 1317.9,910.5 1314.5,903.7 1311.2,898.7 1308.6,901.2 1312,907.1 1313.7,913.9 1312,920.7 1309.5,930.8 1308.6,941 1307.8,949.5 1304.4,956.2 1299.3,961.3 1296.8,954.5 1295.1,944.4 1292.5,935.9 1289.1,932.5 1284.1,936.8 1280.7,944.4 1277.3,941 1279,932.5 1282.4,924.1 1285.8,915.6 1285.8,905.4 1282.4,897 1277.3,890.2 1270.5,885.1 1265.4,881.7"/>
<polygon fill="#bebebe" stroke="#000" stroke-width="1.9" stroke-linejoin="round" points="1290.8,979.9 1293.4,973.2 1296.8,977.4 1297.6,981.6 1292.5,983.3"/>
<polygon fill="#bebebe" stroke="#000" stroke-width="1.9" stroke-linejoin="round" points="1069.1,648.8 1076.2,644.6 1084.7,650.2 1088.9,665.7 1094.5,679.8 1098.8,694 1095.9,708.1 1101.6,716.5 1105.8,730.6 1104.4,744.7 1100.2,750.4 1095.9,739.1 1097.3,722.2 1090.3,710.9 1084.7,696.8 1079,685.5 1073.4,674.2 1069.1,662.9"/>
<polygon fill="#bebebe" stroke="#000" stroke-width="1.9" stroke-linejoin="round" points="1040.9,668.6 1049.4,665.7 1056.4,674.2 1055,685.5 1059.3,699.6 1064.9,710.9 1070.5,722.2 1076.2,733.5 1081.8,744.7 1083.2,753.2 1077.6,753.2 1073.4,741.9 1067.7,727.8 1062.1,716.5 1056.4,705.2 1052.2,694 1050.8,682.7 1045.1,677"/>
<polygon fill="#bebebe" stroke="#000" stroke-width="1.9" stroke-linejoin="round" points="1050.8,654.4 1056.4,651.6 1063.5,662.9 1059.3,665.7 1052.2,661.5"/>
<polygon fill="#bebebe" stroke="#000" stroke-width="1.9" stroke-linejoin="round" points="1204.6,753.2 1211.6,750.4 1218.7,749 1220.1,758.8 1217.3,770.1 1210.2,775.8 1204.6,770.1"/>
<polygon fill="#bebebe" stroke="#000" stroke-width="1.9" stroke-linejoin="round" points="1119.9,789.9 1122.7,778.6 1125.6,789.9"/>
<polygon fill="#bebebe" stroke="#000" stroke-width="1.9" stroke-linejoin="round" points="1437.1,799.8 1441.3,796.9 1444.1,802.6 1439.9,805.4"/>
<path fill="none" stroke="#000" stroke-width="1.9" stroke-linejoin="round" d="M299.7,243.2 303.1,240.6 309,242.3 314.1,247.4 317.4,254.2 320,262.6 322.5,267.7 326.8,268.6 331,265.2 333.5,259.3 331,250.8 328.5,244.9 331,242.3 335.2,244.9 337.8,250.8 340.3,257.6 342.8,259.3 343.7,250.8 342.8,243.2 345.4,239.8 351.3,239.8 355.5,245.7 357.2,254.2 360.6,255.9 363.2,249.1 363.2,240.6 367.4,236.4 373.3,235.6 378.4,239.8 380.1,233.9 386,232.2 391.1,236.4 395.3,237.2 399.6,240.6 399.6,247.4 396.2,254.2 400.4,256.7 406.3,254.2 412.3,250.8 417.3,245.7 419,239.8 423.3,238.1 424.1,244 421.6,249.1 419.9,254.2 424.1,256.7 429.2,252.5 432.6,245.7 439.3,242.3 444.4,235.6 451.2,233 455.4,225.4 459.3,224.2 457.9,232.6 456.4,239.7 463.5,241.1 469.1,229.8 476.2,228.4 477.6,238.3 473.4,243.9 483.3,243.9 493.1,245.3 493.1,253.8 483.3,260.8 479,267.9 486.1,269.3 493.1,266.5 491.7,274.9 483.3,280.6 474.8,286.2 463.5,287.6 460.7,294.7 463.5,301.7 473.4,301.7 480.4,298.9 483.3,306 491.7,314.4 498.8,322.9 505.8,330 517.1,332.8 534,335.6 548.1,338.4 550.8,337 564.9,338.4 584.7,338.4 601.6,337 612.9,339.8 618.5,348.3 624.2,354 632.6,355.4 638.3,362.4 641.1,373.7 643.9,387.8 648.1,399.1 653.8,410.4 660.8,416 663.7,407.6 669.3,413.2 670.7,421.7 677.8,424.5 680.6,433 686.2,438.6 694.7,442.8 703.2,445.7 708.8,442.8 714.4,449.9 718.7,455.5 722.9,448.5 724.3,438.6 722.9,427.3 731.4,421.7 742.7,416 752.5,410.4 748.3,406.2 737,407.6 725.7,404.7 717.3,396.3 718.7,385 725.7,379.3 717.3,376.5 715.9,370.9 722.9,365.2 720.1,354 714.4,342.7 707.4,334.2 701.7,325.7 697.5,317.3 689.1,311.6 680.6,307.4 672.1,303.2 663.7,304.6 656.6,297.5 652.4,287.6 641.1,282 629.8,279.2 624.2,283.4 612.9,280.6 598.8,279.2 590.3,286.2 579,287.6 569.1,286.2 570.5,280.6 577.6,274.9 579,263.7 574.8,252.4 569.1,241.1 563.5,229.8 560.7,218.5 563.5,208.6 570.5,201.6 581.8,198.8 598.8,201.6 612.9,208.6 627,214.3 636.9,221.3 638.3,232.6 646.7,243.9 660.8,251 674.9,255.2 691.9,262.2 706.8,270.2 715.2,275.2 725.4,277.8 737.2,276.9 749.1,276.1 757.6,276.9 761.3,280.3 758.4,283.7 750.8,284.5 745.7,287.9 742.3,293.9 739.8,300.6 734.7,304.9 735.6,309.1 742.3,313.3 749.1,314.2 754.2,310.8 757.6,304 760.9,298.1 767.7,293.9 773.6,294.7 774.5,298.9 771.1,305.7 766,310.8 762.6,315.9 765.2,318.4 771.1,314.2 777.9,309.9 783,305.7 788,299.8 784.6,295.6 783,292.2 789.7,288.8 798.2,289.6 803.3,290.5 808.4,296.4 815.1,305.7 821.9,315.9 830.4,327.7 838.8,339.6 847.3,349.7 857.4,358.2 867.6,364.1 877.8,368.4 886.2,370.9 896.4,372.6 905.7,372.6 906.5,376.8 901.5,383.6 896.4,390.4 889.6,395.4 882.8,398.8 876.1,400.5 871,398 865.9,392.1 859.1,387 850.7,381.9 843.9,378.5 841.4,373.4 840.5,368.4 837.1,367.5 833.7,371.7 832.9,378.5 837.1,383.6 843.9,387 850.7,392.1 855.8,398.8 857.4,405.6 853.2,409.8 845.6,409 840.5,410.7 838.8,415.8 833.7,422.5 827,420.8 821.9,423.4 815.1,420 808.4,416.6 803.3,417.4 802.4,420.8 808.4,423.4 816.8,426.8 825.3,431 835.4,434.4 845.6,436.9 852.4,434.4 862.5,431 871,429.3 876.1,426.8 874.4,422.5 872.7,418.3 876.1,415.8 879.5,420 884.5,417.4 891.3,410.7 898.1,402.2 903.2,393.7 908.2,389.5 915,387.8 920.1,385.3 925.2,383.6 928.6,387 933.6,395.4 938.7,403.9 943.8,412.4 948.9,420.8 953.9,429.3 959,437.8 965.8,444.5 972.6,451.3 979.3,456.4 987.8,463.2 994.6,467.4 1000,470.8 1001.4,471 1004.2,496.4 1005.6,524.7 1008.5,547.2 1011.3,564.2 1016.9,565.6 1025.4,558.5 1036.7,554.3 1050.8,547.2 1062.1,538.8 1073.4,531.7 1087.5,531.7 1098.8,534.5 1110,531.7 1118.5,527.5 1127,527.5 1134,533.1 1136.9,544.4 1135.4,552.9 1141.1,558.5 1146.7,551.5 1153.8,552.9 1158,561.3 1163.7,569.8 1172.1,578.3 1180.6,586.7 1189.1,595.2 1197.5,599.4 1208.8,598 1220.1,599.4 1225.7,606.5 1231.4,614.9 1239.8,623.4 1251.1,627.6 1262.4,629.1 1270.9,634.7 1279.3,640.3 1287.8,648.8 1296.3,657.3 1300.5,665.7 1301.9,674.2 1293.5,674.2 1290.6,677 1299.1,681.3 1304.7,686.9 1307.6,694 1313.2,699.6 1318.8,708.1 1323.1,719.3 1318.8,727.8 1316,734.9 1324.5,727.8 1330.1,726.4 1335.8,727.8 1338.6,736.3 1342.8,727.8 1347.1,719.3 1349.9,710.9 1348.5,694 1347.1,679.8 1348.5,665.7 1349.9,651.6 1352.7,637.5 1358.4,623.4 1366.8,612.1 1375.3,600.8 1382.3,589.5 1388,578.3 1392.2,581.1 1390.8,595.2 1386.6,609.3 1378.1,623.4 1371,637.5 1368.2,651.6 1368.2,665.7 1371,679.8 1378.1,691.1 1386.6,699.6 1397.9,705.2 1412,709.5 1428.9,712.3 1443,708.1 1457.1,699.6 1468.4,688.3 1476.9,674.2 1482.5,660.1 1485.3,643.2 1486.7,623.4 1486.7,603.7 1488.1,581.1 1491,561.3 1492.4,547.2 1488.1,544.4 1479.7,548.6 1471.2,552.9 1462.8,554.3 1457.1,548.6 1459.9,541.6 1471.2,537.3 1482.5,530.3 1493.8,527.5 1500,528.9 1500.6,534.5 1494.9,541.6 1492.1,552.9 1494.9,564.2 1497.7,575.4 1502,586.7 1506.2,598 1510.4,609.3 1516.1,617.8 1526,624.8 1533,620.6 1535.8,609.3 1535.8,592.4 1534.4,575.4 1533,558.5 1531.6,541.6 1531.6,524.7 1533,516.2 1537.2,514.8 1541.5,521.8 1542.9,535.9 1544.3,552.9 1545.1,569.8 1545.7,586.7 1547.1,600.8 1551.3,614.9 1562.6,626.2 1573.9,634.7 1585.2,643.2 1596.5,651.6 1605,660.1 1610.6,654.4 1614.8,648.8 1612,641.7 1607.8,626.2 1602.1,612.1 1596.5,598 1590.8,586.7 1583.8,578.3 1585.2,574 1592.3,578.3 1599.3,589.5 1606.4,603.7 1613.4,620.6 1621.9,634.7 1630.4,637.5 1634.6,638.9 1638.8,646 1644.5,654.4 1648.7,665.7 1655.7,674.2 1662.8,682.7 1667,694 1665.6,705.2 1658.6,712.3 1650.1,719.3 1638.8,720.8 1630.4,727.8 1621.9,736.3 1616.2,744.7 1607.8,750.4 1596.5,753.2 1582.4,753.2 1568.3,750.4 1554.2,749 1542.9,750.4 1531.6,750.4 1520.3,753.2 1514.7,761.7 1509,773 1503.4,780 1494.9,782.8 1489.3,789.9 1483.6,798.4 1478,809.6 1470.9,820.9 1465.3,832.2 1461.1,840.1 1458.8,847.7 1455.4,853.9 1461.6,849.1 1469.5,840.1 1478,820.9 1492.1,804 1506.2,789.9 1520.3,782.8 1534.4,780 1545.7,787.1 1549.9,798.3 1542.9,809.6 1531.6,815.3 1517.5,815.3 1526,820.9 1537.2,818.1 1544.3,826.6 1540.1,840.1 1538.6,853.4 1542.9,864.7 1547.1,873.1 1554.2,877.3 1565.5,881.6 1576.7,880.2 1582.4,884.4 1579.6,891.5 1588,888.6 1588,873.1 1593.7,861.8 1599.3,847.7 1603.5,846.3 1605,859 1610.6,870.3 1613.4,875.9 1607.8,881.6 1599.3,887.2 1593.7,892.9 1588,898.5 1579.6,904.2 1571.1,909.8 1562.6,915.4 1557,921.1 1551.3,918.3 1545.7,923.9 1540.1,932.4 1534.4,940.8 1531.6,949.3 1526,946.5 1521.7,938 1521.7,926.7 1526,918.3 1534.4,909.8 1541.5,901.3 1540.1,892.9 1533,895.7 1526,892.9 1520.3,898.5 1514.7,907 1509,912.6 1500.6,918.3 1492.1,925.3 1483.6,932.4 1475.2,938 1469.5,940.8 1458.2,935.2 1444.1,938 1435.7,949.3 1430,952.8 1426.3,959.6 1422.9,961.3 1419.5,954.5 1416.1,947.8 1412.7,949.5 1411,956.2 1405.1,954.5 1401.7,947.8 1400.9,939.3 1402.6,925.8 1404.3,913.9 1407.7,902.1 1394.1,912.2 1380.6,922.4 1372.1,929.1 1373.8,935.1 1368.7,937.6 1365.3,933.4 1353.5,937.6 1345,941 1339.9,944.4 1334.9,951.2 1335.7,954.5 1341.6,956.2 1348.4,952.8 1356.9,952 1363.6,953.7 1365.3,959.6 1361.9,964.7 1356.9,968.1 1356.9,972.3 1350.1,973.2 1346.7,969.8 1345,966.4 1339.9,967.2 1333.2,968.9 1326.4,972.3 1330.6,975.7 1324.7,976.5 1319.6,978.2 1314.5,981.6 1309.5,984.2 1304.4,986.7 1299.3,990.1 1295.9,992.6 1289.1,990.1 1287.4,988.4 1282.4,987.5 1273.9,986.7 1265.4,985.9 1255.3,985 1246.8,986.7 1245.1,993.5 1243.4,1000.2 1238.4,1003.6 1231.6,1007.9 1229,1005.3 1231.6,1000.2 1236.7,995.2 1239.2,988.4 1241.7,981.6 1243.4,973.2 1243.4,964.7 1242.6,956.2 1241.7,947.8 1240.9,939.3 1242.6,930.8 1245.1,922.4 1246.8,913.9 1250.2,907.1 1255.3,902.1 1257.8,895.3 1260.4,890.2 1263.7,883.4 1265.4,878.4 1260.4,874.1 1255.3,871.6 1248.5,875 1241.7,878.4 1235,881.7 1233.3,886.8 1233.3,897 1229.9,905.4 1224.8,913.9 1222.3,917.3 1224.8,922.4 1226.5,930.8 1224.8,939.3 1223.1,949.5 1222.3,956.2 1221.4,962.2 1217.2,954.5 1218,946.1 1219.7,937.6 1216.3,930.8 1211.3,927.4 1209.6,919 1206.2,912.2 1204.5,903.7 1201.1,900.4 1197.7,905.4 1195.2,913.9 1192.6,910.5 1193.5,903.7 1190.9,898.7 1188.4,898.7 1192.6,891.9 1196.9,886.8 1197.7,880 1195.2,873.3 1189.3,869 1180.8,869.9 1172.3,867.3 1166.4,869.9 1163,875 1160.5,880 1150.3,882.6 1140.2,885.1 1136.8,881.7 1133.4,878.4 1130,878.4 1121.9,875.9 1110.6,877.3 1105,878.8 1103.5,890 1106.4,897.1 1099.3,899.9 1090.8,895.7 1090.8,888.6 1095.1,878.8 1096.5,864.7 1090.8,861.8 1088,856.2 1096.5,853.4 1100.7,842.1 1100.7,830.8 1099.3,816.7 1097.9,802.6 1096.5,788.5 1090.8,782.8 1085.2,791.3 1082.4,798.3 1071.1,795.5 1057,796.9 1045.7,794.1 1037.2,789.9 1028.8,785.6 1023.1,780 1025.4,767.3 1024,750.4 1016.9,741.9 1008.5,736.3 1000,732 993.8,722.2 991,708.1 985.3,694 979.7,679.8 974,682.7 971.2,696.8 969.8,713.7 971.2,730.6 965.6,741.9 957.1,736.3 954.3,722.2 951.5,708.1 948.6,699.6 940.2,694 928.9,688.3 917.6,684.1 909.1,688.3 900.7,696.8 889.4,701 878.1,703.8 866.8,708.1 855.5,712.3 847.1,719.3 841.4,722.2 838.6,716.5 833,708.1 828.7,699.6 827.3,691.1 821.7,694 818.8,702.4 816,705.2 810.4,710.9 816,722.2 824.5,733.5 833,741.9 838.6,750.4 837.2,757.4 830.1,753.2 821.7,741.9 813.2,730.6 804.7,719.3 799.1,708.1 793.5,696.8 785,685.5 777.9,674.2 773.7,662.9 775.1,655.9 782.2,658.7 790.6,668.6 799.1,677 804.7,685.5 801.9,674.2 793.5,662.9 785,651.6 779.3,643.2 770.9,634.7 765.2,626.2 759.6,617.8 754,606.5 748.3,598 742.7,586.7 739.8,572.6 737,561.3 731.4,555.7 734.2,547.2 741.3,541.6 737,535.9 728.6,533.1 722.9,524.7 720.1,516.2 722.9,507.7 717.3,502.1 708.8,496.4 701.7,493.6 697.5,499.3 703.2,510.5 701.7,521.8 694.7,526.1 686.2,523.2 680.6,516.2 676.4,504.9 669.3,510.5 662.2,507.7 658,499.3 652.4,496.4 643.9,507.7 638.3,519 627,524.7 618.5,533.1 612.9,540.2 610,533.1 615.7,524.7 618.5,516.2 607.2,507.7 595.9,504.9 587.5,509.1 583.2,503.5 593.1,496.4 604.4,488 610,493.6 615.7,488 610,479.5 601.6,476.7 598.8,471 590.3,476.7 581.8,482.3 573.4,485.1 566.3,482.3 567.7,473.9 573.4,465.4 567.7,459.8 562.1,451.3 553.6,448.5 545.1,454.1 536.7,456.9 528.2,454.1 519.8,445.6 518.5,438.6 511.5,430.1 503,424.5 494.5,417.4 486.1,421.7 480.4,434.4 474.8,438.6 466.3,440 460,438.4 454.6,436.7 446.1,435 437.7,435.8 430.9,433.3 425.8,427.3 420.7,422.3 413.9,418.9 405.5,418 397,418.9 388.6,420.6 380.1,422.3 373.3,423.1 368.2,424.8 363.2,428.2 354.7,431.6 347.9,435 342.8,440 338.6,446.8 334.4,443.4 332.7,438.4 336.1,431.6 340.3,429.9 339.5,426.5 332.7,421.4 329.3,413 330.1,406.2 334.4,402.8 341.2,399.4 342.8,392.6 347.9,390.9 354.7,389.3 359.8,385.9 364.9,379.1 369.9,374 374.2,368.9 370.8,361.3 363.2,363.9 356.4,368.9 349.6,372.3 342.8,375.7 336.1,377.4 331,380.8 327.6,389.3 323.4,396 322.5,404.5 320.8,413 315.8,418 310.7,419.7 307.3,416.3 307.3,411.3 303.9,408.7 298.8,413 297.1,421.4 295.4,429.9 295.4,440 294.6,448.5 295.4,455.3 300.5,454.4 305.6,450.2 310.7,446 314.1,448.5 311.5,458.7 309,465.4 307.3,472.2 300.5,467.1 293.7,465.4 288.7,469.7 283.6,473.1 276.8,475.6 271.7,480.7 268.4,485.8 263.3,489.1 256.5,492.5 246.3,491.7 237.9,492.5 231.1,487.4 231.1,479 232,470.5 237,467.1 237.9,462.1 243,457.8 251.4,454.4 259.9,451 266.7,450.2 272.6,452.7 276.8,448.5 275.1,441.7 270,435.8 265,433.3 259,431.6 257.3,424.8 253.1,422.3 248,424.8 243,431.6 237.9,438.4 232.8,442.6 229.4,440 227.7,433.3 222.6,428.2 217.6,431.6 220.9,436.7 217.6,441.7 210.8,443.4 202.3,441.7 198.1,436.7 202.3,431.6 209.1,424.8 214.2,418 209.1,417.2 202.3,421.4 193.9,419.7 187.1,414.6 185.1,408.7 188.8,404.5 193.9,406.2 198.1,411.3 204,408.7 210.8,404.5 215.9,397.7 215,390.9 210.8,384.2 209.9,374 213.3,370.6 217.6,379.1 220.9,372.3 226,362.2 231.1,350.3 236.2,340.2 243,330 251.4,323.6 246.3,312.6 239.6,315.1 231.1,318.5 225.2,321 222.6,325.3 224.3,333.7 219.3,337.1 214.2,328.7 209.1,321.9 202.3,316.8 193.9,313.4 185.4,308.4 188.8,304.1 197.2,305.8 204,304.1 207.4,298.2 204,291.4 210.8,283 219.3,284.6 227.7,291.4 232.8,298.2 229.4,305 224.3,310 226,316.8 232.8,312.6 239.6,308.4 246.3,305 253.1,303.3 259.9,299.9 261.6,294.8 265,290.6 270,288 276.8,286.3 273.4,281.3 270,276.2 268.4,271.1 259.9,266.9 249.7,263.5 239.6,262.6 231.1,263.5 224.3,266 218.4,268.6 214.2,266.9 215.9,262.6 222.6,259.3 231.1,257.6 241.3,257.6 251.4,259.3 261.6,261.8 268.4,265.2 275.1,266.9 281.9,267.7 288.7,266 294.6,264.3 298,266.9 295.4,270.3 288.7,272.8 286.1,277 290.4,277.9 291.2,283 288.7,288 290.4,292.3 295.4,292.3 298.8,286.3 301.4,279.6 305.6,274.5 311.5,269.4 314.1,262.6 312.4,255.9 307.3,250.8 302.2,248.3ZM220.9,276.2 231.1,272.8 241.3,274.5 251.4,276.2 259.9,280.4 251.4,283.8 241.3,283 232.8,284.6 224.3,281.3ZM168.5,326.1 175.2,321.9 182,324.4 185.4,332.1 180.3,337.1 173.5,333.7ZM189.6,320.2 193.9,318.5 198.1,325.3 195.6,330.4 191.3,328.7ZM210.8,350.7 219.3,343.9 227.7,341.4 229.4,344.8 222.6,350.7 214.2,354.9ZM176.9,249.1 182,237.2 190.5,232.2 198.9,232.2 200.6,236.4 192.2,242.3 188.8,250.8 187.9,259.3 183.7,263.5 178.6,260.9ZM245.5,229.6 251.4,226.2 256.5,228.8 254,233.9 248,234.7ZM336.1,206.8 338.6,203.4 342.8,205.1 342,211.9 337.8,213.5ZM477.6,207.2 486.1,202.1 495.9,201.6 493.1,208.6 483.3,212.9ZM343.7,448.5 347.9,443.4 356.4,440 361.5,441.7 359.8,448.5 354.7,455.3 347.9,458.7 343.7,459.5ZM363.2,428.2 369.9,424.8 371.6,428.2 366.5,435 362.3,435.8ZM275.1,483.2 281.9,477.3 288.7,472.2 292.1,468 291.2,472.2 285.3,479 278.5,485.8ZM307.6,507.8 307.2,509.7 305.9,511.3 304.1,512.2 302,512.2 300.2,511.3 298.9,509.7 298.5,507.8 298.9,505.8 300.2,504.2 302,503.3 304.1,503.3 305.9,504.2 307.2,505.8ZM558.1,478.4 556.7,479.7 554.5,480.1 551.9,479.5 549.5,478.2 547.8,476.2 547,474.1 547.4,472.2 548.8,470.9 551.1,470.5 553.6,471 556,472.4 557.8,474.3 558.5,476.5ZM556.8,472.7 557.9,475.6 557.9,478.5 556.8,480.7 554.8,481.8 552.4,481.6 549.9,480.2 548,477.8 546.9,474.9 546.9,472.1 548,469.9 549.9,468.8 552.4,468.9 554.8,470.3ZM1664.8,711.5 1671,710.2 1671.7,718.9 1667.2,731.3 1663.5,743.8 1659.8,756.2 1664.8,758.7 1669.7,756.2 1667.2,766.1 1674.7,771.1 1684.6,766.1 1692.1,763.6 1697,771.1 1699.5,783.5 1704.5,793.4 1703.2,803.4 1707,810.8 1709.5,823.2 1710.7,833.2 1707,845.6 1699.5,855.5 1695.8,845.6 1692.1,833.2 1687.1,828.2 1679.7,835.6 1672.2,845.6 1659.8,849.3 1662.3,838.1 1669.7,830.7 1664.8,828.2 1654.8,830.7 1642.4,829.4 1630,826.9 1617.6,825.7 1618.8,815.8 1625,808.3 1620.1,800.9 1627.5,795.9 1632.5,783.5 1637.4,771.1 1642.4,756.2 1647.4,741.3 1652.3,728.9 1657.3,718.9ZM1583,783.1 1580,784.4 1574,783.5 1566.3,780.5 1558.5,775.9 1552.1,770.8 1548.3,766.1 1547.9,762.8 1550.9,761.5 1556.9,762.4 1564.6,765.5 1572.4,770 1578.9,775.1 1582.7,779.8ZM1549.9,847.7 1554.2,843.5 1562.6,852 1571.1,859 1579.6,860.4 1575.3,866.1 1565.5,864.7 1557,859 1551.3,853.4ZM1384.9,933.8 1391.9,935.2 1394.7,946.5 1390.5,957.8 1394.7,960.6 1387.7,966.2 1380.6,969.1 1380.6,980.3 1377.8,983.2 1376.4,971.9 1377.8,960.6 1380.6,952.1 1383.5,943.7ZM1390.5,1019.8 1396.2,1018.4 1397.6,1028.3 1394.7,1036.8 1397.6,1045.2 1396.2,1053.7 1391.9,1050.9 1390.5,1041 1388.3,1034 1391.9,1026.9Z"/>
<polygon fill="#d4f2f4" stroke="#000" stroke-width="1.4" stroke-linejoin="round" points="869.9,796.1 869.3,797.7 867.9,798.3 866.5,797.7 866,796.1 866.5,794.5 867.9,793.8 869.3,794.5"/>
<polygon fill="#d4f2f4" stroke="#000" stroke-width="1.4" stroke-linejoin="round" points="909.4,817.5 908.8,819.1 907.4,819.8 906,819.1 905.5,817.5 906,815.9 907.4,815.3 908.8,815.9"/>
<polygon fill="#d4f2f4" stroke="#000" stroke-width="1.4" stroke-linejoin="round" points="824.2,849.7 823.6,851.3 822.2,852 820.8,851.3 820.3,849.7 820.8,848.1 822.2,847.4 823.6,848.1"/>
<polygon fill="#d4f2f4" stroke="#000" stroke-width="1.4" stroke-linejoin="round" points="824.2,863.5 823.6,865.1 822.2,865.8 820.8,865.1 820.3,863.5 820.8,861.9 822.2,861.3 823.6,861.9"/>
<polygon fill="#d4f2f4" stroke="#000" stroke-width="1.4" stroke-linejoin="round" points="814,895.7 813.5,897.3 812.1,897.9 810.7,897.3 810.1,895.7 810.7,894.1 812.1,893.4 813.5,894.1"/>
<polygon fill="#d4f2f4" stroke="#000" stroke-width="1.4" stroke-linejoin="round" points="956,868 955.4,869.6 954,870.3 952.6,869.6 952,868 952.6,866.4 954,865.8 955.4,866.4"/>
<polygon fill="#d4f2f4" stroke="#000" stroke-width="1.4" stroke-linejoin="round" points="902.4,885 901.8,886.6 900.4,887.2 899,886.6 898.4,885 899,883.4 900.4,882.7 901.8,883.4"/>
<polygon fill="#d4f2f4" stroke="#000" stroke-width="1.4" stroke-linejoin="round" points="910.3,890.9 909.7,892.5 908.3,893.1 906.9,892.5 906.3,890.9 906.9,889.3 908.3,888.6 909.7,889.3"/>
<polygon fill="#d4f2f4" stroke="#000" stroke-width="1.4" stroke-linejoin="round" points="911.7,914.9 911.1,916.5 909.7,917.1 908.3,916.5 907.7,914.9 908.3,913.3 909.7,912.6 911.1,913.3"/>
<polygon fill="#d4f2f4" stroke="#000" stroke-width="1.4" stroke-linejoin="round" points="860.9,950.1 860.3,951.7 858.9,952.4 857.5,951.7 856.9,950.1 857.5,948.6 858.9,947.9 860.3,948.6"/>
<polygon fill="#d4f2f4" stroke="#000" stroke-width="1.4" stroke-linejoin="round" points="942.7,953.5 942.1,955.1 940.7,955.8 939.3,955.1 938.8,953.5 939.3,951.9 940.7,951.3 942.1,951.9"/>
<polygon fill="#d4f2f4" stroke="#000" stroke-width="1.4" stroke-linejoin="round" points="919.9,959.5 919.3,961.1 917.9,961.7 916.5,961.1 915.9,959.5 916.5,957.9 917.9,957.2 919.3,957.9"/>
<polygon fill="#d4f2f4" stroke="#000" stroke-width="1.4" stroke-linejoin="round" points="996.9,921.6 996.3,923.2 994.9,923.9 993.5,923.2 992.9,921.6 993.5,920.1 994.9,919.4 996.3,920.1"/>
<polygon fill="#d4f2f4" stroke="#000" stroke-width="1.4" stroke-linejoin="round" points="1005.4,942 1004.8,943.6 1003.4,944.2 1002,943.6 1001.4,942 1002,940.4 1003.4,939.7 1004.8,940.4"/>
<polygon fill="#d4f2f4" stroke="#000" stroke-width="1.4" stroke-linejoin="round" points="1003.1,967.9 1002.5,969.5 1001.1,970.2 999.7,969.5 999.1,967.9 999.7,966.3 1001.1,965.7 1002.5,966.3"/>
<polygon fill="#d4f2f4" stroke="#000" stroke-width="1.4" stroke-linejoin="round" points="989.3,981.7 988.7,983.3 987.3,984 985.9,983.3 985.3,981.7 985.9,980.2 987.3,979.5 988.7,980.2"/>
<polygon fill="#d4f2f4" stroke="#000" stroke-width="1.4" stroke-linejoin="round" points="996.3,992.8 995.7,994.4 994.3,995 993,994.4 992.4,992.8 993,991.2 994.3,990.5 995.7,991.2"/>
<polygon fill="#d4f2f4" stroke="#000" stroke-width="1.4" stroke-linejoin="round" points="900.1,997 899.5,998.6 898.1,999.2 896.7,998.6 896.2,997 896.7,995.4 898.1,994.7 899.5,995.4"/>
<polygon fill="#d4f2f4" stroke="#000" stroke-width="1.4" stroke-linejoin="round" points="907.2,1014.2 906.6,1015.8 905.2,1016.5 903.8,1015.8 903.2,1014.2 903.8,1012.6 905.2,1011.9 906.6,1012.6"/>
<polygon fill="#d4f2f4" stroke="#000" stroke-width="1.4" stroke-linejoin="round" points="981.9,1013.4 981.4,1014.9 980,1015.6 978.6,1014.9 978,1013.4 978.6,1011.8 980,1011.1 981.4,1011.8"/>
<polygon fill="#d4f2f4" stroke="#000" stroke-width="1.4" stroke-linejoin="round" points="972.3,1065.3 971.8,1066.9 970.4,1067.5 969,1066.9 968.4,1065.3 969,1063.7 970.4,1063 971.8,1063.7"/>
<polygon fill="#d4f2f4" stroke="#000" stroke-width="1.4" stroke-linejoin="round" points="968.7,1072.9 968.1,1074.5 966.7,1075.1 965.3,1074.5 964.7,1072.9 965.3,1071.3 966.7,1070.6 968.1,1071.3"/>
<polygon fill="#d4f2f4" stroke="#000" stroke-width="1.4" stroke-linejoin="round" points="959.6,1087 959.1,1088.6 957.7,1089.3 956.3,1088.6 955.7,1087 956.3,1085.4 957.7,1084.7 959.1,1085.4"/>
<polygon fill="#d4f2f4" stroke="#000" stroke-width="1.4" stroke-linejoin="round" points="1032.2,810.2 1031.6,811.8 1030.2,812.4 1028.8,811.8 1028.2,810.2 1028.8,808.6 1030.2,807.9 1031.6,808.6"/>
<polygon fill="#d4f2f4" stroke="#000" stroke-width="1.4" stroke-linejoin="round" points="1071.7,820.3 1071.1,821.9 1069.7,822.6 1068.3,821.9 1067.7,820.3 1068.3,818.8 1069.7,818.1 1071.1,818.8"/>
<polygon fill="#d4f2f4" stroke="#000" stroke-width="1.4" stroke-linejoin="round" points="1090,818.4 1089.4,820 1088,820.6 1086.6,820 1086.1,818.4 1086.6,816.8 1088,816.1 1089.4,816.8"/>
<polygon fill="#d4f2f4" stroke="#000" stroke-width="1.4" stroke-linejoin="round" points="1086.3,844.1 1085.8,845.6 1084.4,846.3 1083,845.6 1082.4,844.1 1083,842.5 1084.4,841.8 1085.8,842.5"/>
<polygon fill="#d4f2f4" stroke="#000" stroke-width="1.4" stroke-linejoin="round" points="1148.7,924.8 1148.1,926.3 1146.7,927 1145.3,926.3 1144.7,924.8 1145.3,923.2 1146.7,922.5 1148.1,923.2"/>
<polygon fill="#d4f2f4" stroke="#000" stroke-width="1.4" stroke-linejoin="round" points="1143,961.4 1142.5,963 1141.1,963.7 1139.7,963 1139.1,961.4 1139.7,959.8 1141.1,959.2 1142.5,959.8"/>
<polygon fill="#d4f2f4" stroke="#000" stroke-width="1.4" stroke-linejoin="round" points="1172.7,957.8 1172.1,959.4 1170.7,960 1169.3,959.4 1168.7,957.8 1169.3,956.2 1170.7,955.5 1172.1,956.2"/>
<polygon fill="#d4f2f4" stroke="#000" stroke-width="1.4" stroke-linejoin="round" points="1192.4,941.7 1191.9,943.3 1190.5,943.9 1189.1,943.3 1188.5,941.7 1189.1,940.1 1190.5,939.4 1191.9,940.1"/>
<polygon fill="#d4f2f4" stroke="#000" stroke-width="1.4" stroke-linejoin="round" points="926,917.3 926.4,921.9 925.6,925 924.1,925.2 922.3,922.6 921,918.1 920.7,913.5 921.4,910.4 923,910.2 924.7,912.8"/>
<polygon fill="#d4f2f4" stroke="#000" stroke-width="1.4" stroke-linejoin="round" points="911.4,939.4 910.8,943.1 909.2,945.3 907.3,945.3 905.8,943.1 905.2,939.4 905.8,935.8 907.3,933.5 909.2,933.5 910.8,935.8"/>
<polygon fill="#d4f2f4" stroke="#000" stroke-width="1.4" stroke-linejoin="round" points="929.3,959.3 930.6,964.1 930.6,967.3 929.3,967.8 927.2,965.3 925.1,960.8 923.8,956 923.8,952.7 925.1,952.2 927.2,954.7"/>
<polygon fill="#d4f2f4" stroke="#000" stroke-width="1.4" stroke-linejoin="round" points="1003.1,927.6 1002.8,931.7 1001.9,934.3 1000.9,934.3 1000,931.7 999.7,927.6 1000,923.4 1000.9,920.9 1001.9,920.9 1002.8,923.4"/>
<polygon fill="#d4f2f4" stroke="#000" stroke-width="1.4" stroke-linejoin="round" points="970.4,1013.1 969.8,1016.7 968.2,1019 966.3,1019 964.7,1016.7 964.2,1013.1 964.7,1009.4 966.3,1007.2 968.2,1007.2 969.8,1009.4"/>
<polygon fill="#d4f2f4" stroke="#000" stroke-width="1.4" stroke-linejoin="round" points="978.5,1031 978.6,1035.6 977.8,1038.6 976.6,1038.7 975.4,1035.9 974.6,1031.3 974.6,1026.6 975.3,1023.7 976.5,1023.6 977.8,1026.4"/>
<polygon fill="#d4f2f4" stroke="#000" stroke-width="1.4" stroke-linejoin="round" points="981,1051.1 981.5,1054.7 980.8,1057.2 979.3,1057.6 977.5,1055.8 976.1,1052.4 975.6,1048.7 976.3,1046.2 977.8,1045.8 979.6,1047.7"/>
<polygon fill="#d4f2f4" stroke="#000" stroke-width="1.4" stroke-linejoin="round" points="1149.8,976.7 1149.4,980.3 1148.5,982.6 1147.2,982.6 1146.2,980.3 1145.9,976.7 1146.2,973 1147.2,970.8 1148.5,970.8 1149.4,973"/>
<polygon fill="#d4f2f4" stroke="#000" stroke-width="1.4" stroke-linejoin="round" points="1171.6,938 1173.1,941.9 1173.2,944.7 1172.1,945.2 1170.2,943.3 1168.1,939.7 1166.7,935.8 1166.5,933 1167.6,932.5 1169.6,934.4"/>
<polygon fill="#d4f2f4" stroke="#000" stroke-width="1.4" stroke-linejoin="round" points="1130.4,953.5 1129.4,954.7 1126.8,955.4 1123.7,955.4 1121.2,954.7 1120.2,953.5 1121.2,952.4 1123.7,951.7 1126.8,951.7 1129.4,952.4"/>
<polygon fill="#d4f2f4" stroke="#000" stroke-width="1.4" stroke-linejoin="round" points="1202.6,956.6 1201.7,959.9 1200.5,961.7 1199.4,961.5 1199,959.4 1199.2,956.1 1200.1,952.8 1201.3,951 1202.3,951.2 1202.8,953.3"/>
<polygon fill="#d4f2f4" stroke="#000" stroke-width="1.4" stroke-linejoin="round" points="1223.7,987 1223.9,990.7 1223.2,993.1 1221.8,993.3 1220.3,991.3 1219.3,987.8 1219.1,984.1 1219.8,981.7 1221.2,981.5 1222.7,983.5"/>
<polygon fill="#d4f2f4" stroke="#000" stroke-width="1.4" stroke-linejoin="round" points="944.7,907.5 952.6,914 958.2,921.1 963.9,914 969.5,910.4 965.3,919.7 960.5,926.7 956.8,931 951.2,923.9 946.9,915.4"/>
<polygon fill="#d4f2f4" stroke="#000" stroke-width="1.4" stroke-linejoin="round" points="1155.7,891.5 1160,901.3 1167,904.2 1169.9,892.9 1176.9,891.5 1175.5,898.5 1171.3,904.2 1172.7,911.2 1178.3,912.6 1175.5,918.3 1167,915.4 1162.8,921.1 1157.2,916.9 1154.3,907"/>
<polygon fill="#d4f2f4" stroke="#000" stroke-width="1.4" stroke-linejoin="round" points="1331.8,990.2 1331.2,992 1329.8,992.8 1328.4,992 1327.9,990.2 1328.4,988.4 1329.8,987.7 1331.2,988.4"/>
<polygon fill="#d4f2f4" stroke="#000" stroke-width="1.4" stroke-linejoin="round" points="1297.1,1018.4 1296.5,1020.2 1295.1,1021 1293.7,1020.2 1293.2,1018.4 1293.7,1016.6 1295.1,1015.9 1296.5,1016.6"/>
<polygon fill="#d4f2f4" stroke="#000" stroke-width="1.4" stroke-linejoin="round" points="1318.6,1034.5 1318,1036.3 1316.6,1037.1 1315.2,1036.3 1314.6,1034.5 1315.2,1032.7 1316.6,1032 1318,1032.7"/>
<polygon fill="#d4f2f4" stroke="#000" stroke-width="1.4" stroke-linejoin="round" points="1381.8,1008.6 1381.2,1010.4 1379.8,1011.1 1378.4,1010.4 1377.8,1008.6 1378.4,1006.8 1379.8,1006 1381.2,1006.8"/>
<polygon fill="#d4f2f4" stroke="#000" stroke-width="1.4" stroke-linejoin="round" points="1373.6,1028.3 1373,1030.1 1371.6,1030.8 1370.2,1030.1 1369.6,1028.3 1370.2,1026.5 1371.6,1025.8 1373,1026.5"/>
<polygon fill="#d4f2f4" stroke="#000" stroke-width="1.4" stroke-linejoin="round" points="1354.4,1051.4 1353.8,1053.2 1352.4,1054 1351,1053.2 1350.4,1051.4 1351,1049.6 1352.4,1048.9 1353.8,1049.6"/>
<polygon fill="#d4f2f4" stroke="#000" stroke-width="1.4" stroke-linejoin="round" points="1365.1,1051.7 1364.5,1053.5 1363.1,1054.3 1361.7,1053.5 1361.2,1051.7 1361.7,1049.9 1363.1,1049.2 1364.5,1049.9"/>
<polygon fill="#d4f2f4" stroke="#000" stroke-width="1.4" stroke-linejoin="round" points="1344.5,1063.6 1343.9,1065.4 1342.5,1066.1 1341.1,1065.4 1340.6,1063.6 1341.1,1061.8 1342.5,1061 1343.9,1061.8"/>
<polygon fill="#d4f2f4" stroke="#000" stroke-width="1.4" stroke-linejoin="round" points="1344,1074 1343.4,1075.8 1342,1076.6 1340.6,1075.8 1340,1074 1340.6,1072.2 1342,1071.5 1343.4,1072.2"/>
<polygon fill="#d4f2f4" stroke="#000" stroke-width="1.4" stroke-linejoin="round" points="1426.9,995.3 1426.3,997.1 1424.9,997.8 1423.5,997.1 1423,995.3 1423.5,993.5 1424.9,992.8 1426.3,993.5"/>
<polygon fill="#d4f2f4" stroke="#000" stroke-width="1.4" stroke-linejoin="round" points="1422.7,977.5 1422.1,979.3 1420.7,980.1 1419.3,979.3 1418.7,977.5 1419.3,975.7 1420.7,975 1422.1,975.7"/>
<polygon fill="#d4f2f4" stroke="#000" stroke-width="1.4" stroke-linejoin="round" points="1314.3,1002.9 1320,1000.1 1322.8,1004.3 1317.1,1008 1313.8,1007.1"/>
<polygon fill="#d4f2f4" stroke="#000" stroke-width="1.4" stroke-linejoin="round" points="1329.8,1038.2 1339.7,1038.2 1342.5,1043.8 1335.5,1045.2 1332.7,1050.9 1329.8,1046.6"/>
<polygon fill="#d4f2f4" stroke="#000" stroke-width="1.4" stroke-linejoin="round" points="1403.2,962 1410.3,960.6 1415.9,969.1 1414.5,974.7 1407.4,971.9"/>
<polyline fill="none" stroke="#000" stroke-width="1.9" points="1456.8,852 1446.9,861.8 1438.5,870.3 1430,878.8 1421.5,888.6 1414.5,897.1 1408,903"/>
</g>
<defs>
<linearGradient id="gg" gradientUnits="userSpaceOnUse" x1="0" y1="863.5" x2="0" y2="695"><stop offset="0" stop-color="#003000"/><stop offset="1" stop-color="#00ff00"/></linearGradient>
<linearGradient id="gr" gradientUnits="userSpaceOnUse" x1="316.5" y1="893.5" x2="140" y2="994.5"><stop offset="0" stop-color="#480000"/><stop offset="1" stop-color="#ff0000"/></linearGradient>
<linearGradient id="gb" gradientUnits="userSpaceOnUse" x1="350.5" y1="893.5" x2="527" y2="994.5"><stop offset="0" stop-color="#000048"/><stop offset="1" stop-color="#0000ff"/></linearGradient>
</defs>
<g id="legend">
<line x1="333.6" y1="635.1" x2="72.7" y2="734.0" stroke="#d3d3d3" stroke-width="16.4" stroke-dasharray="16.4 49.8"/>
<line x1="72.7" y1="734.0" x2="73.1" y2="1032.7" stroke="#d3d3d3" stroke-width="16.4" stroke-dasharray="16.4 49.8"/>
<line x1="73.1" y1="1032.7" x2="333.7" y2="1132.3" stroke="#d3d3d3" stroke-width="16.4" stroke-dasharray="16.4 49.8"/>
<line x1="333.7" y1="1132.3" x2="595.1" y2="1032.7" stroke="#d3d3d3" stroke-width="16.4" stroke-dasharray="16.4 49.8"/>
<line x1="595.1" y1="1032.7" x2="595.0" y2="734.0" stroke="#d3d3d3" stroke-width="16.4" stroke-dasharray="16.4 49.8"/>
<line x1="595.0" y1="734.0" x2="333.6" y2="635.1" stroke="#d3d3d3" stroke-width="16.4" stroke-dasharray="16.4 49.8"/>
<line x1="333.5" y1="883.5" x2="333.6" y2="700" stroke="url(#gg)" stroke-width="19.6"/>
<line x1="333.5" y1="883.5" x2="135.5" y2="997" stroke="url(#gr)" stroke-width="19.6"/>
<line x1="333.5" y1="883.5" x2="531.5" y2="997" stroke="url(#gb)" stroke-width="19.6"/>
<line x1="333.5" y1="883.5" x2="135.5" y2="997" stroke="#000" stroke-opacity="0.28" stroke-width="19.6" stroke-dasharray="1.3 2.4"/>
<line x1="333.5" y1="883.5" x2="531.5" y2="997" stroke="#000" stroke-opacity="0.28" stroke-width="19.6" stroke-dasharray="1.3 2.4"/>
<polygon points="333.6,673.5 316,701 351.3,701" fill="#00ff00" stroke="#00ff00" stroke-width="7" stroke-linejoin="round"/>
<polygon points="113.5,1011 124.5,984 141.5,1012.5" fill="#ff0000" stroke="#ff0000" stroke-width="7" stroke-linejoin="round"/>
<polygon points="553.5,1011 542.5,984 525.5,1012.5" fill="#0000ff" stroke="#0000ff" stroke-width="7" stroke-linejoin="round"/>
<circle cx="333.5" cy="883.5" r="28.4" fill="#000"/>
<circle cx="333.6" cy="635.1" r="27.4" fill="#00ff00" stroke="#000" stroke-width="2.2"/>
<circle cx="72.7" cy="734.0" r="27.4" fill="#ffff00" stroke="#000" stroke-width="2.2"/>
<circle cx="73.1" cy="1032.7" r="27.4" fill="#ff0000" stroke="#000" stroke-width="2.2"/>
<circle cx="333.7" cy="1132.3" r="27.4" fill="#ff00ff" stroke="#000" stroke-width="2.2"/>
<circle cx="595.1" cy="1032.7" r="27.4" fill="#0000ff" stroke="#000" stroke-width="2.2"/>
<circle cx="595.0" cy="734.0" r="27.4" fill="#00ffff" stroke="#000" stroke-width="2.2"/>
<rect x="251" y="738" width="165.60000000000002" height="43.5" rx="4" fill="#fff" stroke="#000" stroke-width="1.6"/>
<text x="257.5" y="773.9" font-size="40" textLength="151" lengthAdjust="spacingAndGlyphs">Forward</text>
<rect x="90.2" y="929.3" width="226.60000000000002" height="43.30000000000007" rx="4" fill="#fff" stroke="#000" stroke-width="1.6"/>
<text x="95.5" y="965.0" font-size="40" textLength="214.5" lengthAdjust="spacingAndGlyphs">Local offset</text>
<rect x="380.6" y="929.3" width="167.60000000000002" height="43.30000000000007" rx="4" fill="#fff" stroke="#000" stroke-width="1.6"/>
<text x="387" y="965.0" font-size="40" textLength="153.5" lengthAdjust="spacingAndGlyphs">Reverse</text>
</g>
<g id="scalebar" stroke="#000" stroke-width="6" fill="none">
<path d="M1539.2,1028.3V1070.6M1701.7,1028.3V1070.6M1539.2,1049.5H1701.7"/><path d="M1621,1035.4V1049.5" stroke-width="5"/>
</g>
<text x="1539.2" y="1018.4" font-size="32" text-anchor="middle" textLength="19.2" lengthAdjust="spacingAndGlyphs">0</text>
<text x="1701.7" y="1018.4" font-size="32" text-anchor="middle" textLength="76.5" lengthAdjust="spacingAndGlyphs">1000</text>
<text x="1621" y="1105.9" font-size="32" text-anchor="middle" textLength="46" lengthAdjust="spacingAndGlyphs">km</text>
<text x="3.5" y="40" font-size="54" font-weight="bold">(a)</text>
<text x="160" y="1245" font-size="54" font-weight="bold">(b)</text>
<text x="760.5" y="1245" font-size="54" font-weight="bold">(c)</text>
<text x="1361" y="1245" font-size="54" font-weight="bold">(d)</text>
<g id="scb">
<rect x="160.8" y="1291.7" width="408.1" height="359.0" fill="#8c8c8c"/>
<path d="M197,1291.7V1650.7M275.1,1291.7V1650.7M353.1,1291.7V1650.7M430.8,1291.7V1650.7M508.7,1291.7V1650.7M160.8,1591.4H568.9M160.8,1504.7H568.9M160.8,1418H568.9M160.8,1331.3H568.9" stroke="#b4b4b4" stroke-width="2" fill="none"/>
<path d="M236,1291.7V1650.7M314.2,1291.7V1650.7M392.1,1291.7V1650.7M469.6,1291.7V1650.7M547.9,1291.7V1650.7M160.8,1634.7H568.9M160.8,1548.1H568.9M160.8,1461H568.9M160.8,1374.7H568.9" stroke="#b8b8b8" stroke-width="4" fill="none"/>
<path d="M236,1650.7v9.5M314.2,1650.7v9.5M392.1,1650.7v9.5M469.6,1650.7v9.5M547.9,1650.7v9.5M160.8,1634.7h-9.5M160.8,1548.1h-9.5M160.8,1461h-9.5M160.8,1374.7h-9.5" stroke="#333" stroke-width="3.8" fill="none"/>
<text x="236" y="1698.3" font-size="33" fill="#4d4d4d" text-anchor="middle" textLength="70" lengthAdjust="spacingAndGlyphs">0.02</text>
<text x="314.2" y="1698.3" font-size="33" fill="#4d4d4d" text-anchor="middle" textLength="70" lengthAdjust="spacingAndGlyphs">0.03</text>
<text x="392.1" y="1698.3" font-size="33" fill="#4d4d4d" text-anchor="middle" textLength="70" lengthAdjust="spacingAndGlyphs">0.04</text>
<text x="469.6" y="1698.3" font-size="33" fill="#4d4d4d" text-anchor="middle" textLength="70" lengthAdjust="spacingAndGlyphs">0.05</text>
<text x="547.9" y="1698.3" font-size="33" fill="#4d4d4d" text-anchor="middle" textLength="70" lengthAdjust="spacingAndGlyphs">0.06</text>
<text x="138.3" y="1646.7" font-size="33" fill="#4d4d4d" text-anchor="end" textLength="70" lengthAdjust="spacingAndGlyphs">0.00</text>
<text x="138.3" y="1560.1" font-size="33" fill="#4d4d4d" text-anchor="end" textLength="70" lengthAdjust="spacingAndGlyphs">0.01</text>
<text x="138.3" y="1473" font-size="33" fill="#4d4d4d" text-anchor="end" textLength="70" lengthAdjust="spacingAndGlyphs">0.02</text>
<text x="138.3" y="1386.7" font-size="33" fill="#4d4d4d" text-anchor="end" textLength="70" lengthAdjust="spacingAndGlyphs">0.03</text>
<text x="364.85" y="1752" font-size="42.6" text-anchor="middle" textLength="236.4" lengthAdjust="spacingAndGlyphs">Local offset</text>
<text transform="translate(49.80000000000001,1471.2) rotate(-90)" font-size="42.6" text-anchor="middle" textLength="295.4" lengthAdjust="spacingAndGlyphs">Forward offset</text>
<clipPath id="cpb"><rect x="160.8" y="1291.7" width="408.1" height="359.0"/></clipPath>
<g clip-path="url(#cpb)" fill="none" stroke-linecap="round" stroke-width="6.8">
<path stroke="#93b724" d="M285 1573h0"/>
<path stroke="#dbb7db" d="M278 1592h0m7-8h0m2-8h0m3-20h0m8 14h0m22 4h0m13 9h0m4-22h0m12 24h0m6-14h0m11-2h0m7-10h0m3 16h0m14-18h0m1 24h0m3-11h0m2 6h0m3-11h0m8 5h0m2-4h0m71 1h0"/>
<path stroke="#dbb724" d="M326 1526h0"/>
<path stroke="#b76cff" d="M282 1611h0"/>
<path stroke="#6c48b7" d="M233 1604h0"/>
<path stroke="#b793ff" d="M271 1588h0m23-12h0"/>
<path stroke="#ffffdb" d="M317 1476h0m2 25h0m152-168h0"/>
<path stroke="#ffff93" d="M456 1360h0m1-15h0m0 21h0m3-5h0m3 10h0m5 24h0m16 163h0m1-249h0m13 235h0m3 7h0m11 6h0"/>
<path stroke="#db486c" d="M306 1610h0m0 9h0"/>
<path stroke="#6cdb48" d="M231 1573h0"/>
<path stroke="#9348db" d="M217 1613h0m42 15h0"/>
<path stroke="#ff2493" d="M287 1622h0"/>
<path stroke="#00dbb7" d="M189 1558h0m16-29h0m15 13h0"/>
<path stroke="#48b7ff" d="M190 1573h0m1-2h0m5 4h0m1 0h0m2 0h0m7-4h0m1 8h0m7 1h0m3 1h0"/>
<path stroke="#ff24db" d="M309 1608h0m2-3h0m9-1h0m4 6h0m1 9h0m6-16h0m0 19h0m1-13h0m0 1h0m1 20h0m1-10h0m7-1h0m7-3h0m2-3h0m2 0h0m4 1h0m2-8h0m2 3h0m1 13h0m7-8h0m0 5h0m1-3h0m0 1h0m2-3h0m1 9h0m1-19h0m0 17h0m2-14h0m2 13h0m3-4h0m3-6h0m6 3h0m3 8h0m17-10h0m8-3h0m0 18h0m2-13h0m0 1h0m0 2h0m1-3h0m4-12h0m1 16h0m1-6h0m2 12h0m11-23h0m9 11h0m2 13h0m3-15h0m0 0h0m3 4h0m4-5h0m2 8h0m1-2h0m6-10h0m3 4h0m6 12h0"/>
<path stroke="#93db24" d="M238 1554h0m4-25h0m10 47h0m1 18h0m3-61h0m0 8h0m1 6h0m12 0h0m0 5h0m1-22h0m0 10h0m1 30h0m5-24h0m8 14h0m20-43h0"/>
<path stroke="#4848db" d="M182 1623h0m36-16h0m11 15h0m10-9h0m2-17h0m3 11h0m7-4h0m17 8h0m18-9h0"/>
<path stroke="#b74800" d="M287 1618h0"/>
<path stroke="#db24db" d="M322 1610h0m3-8h0m22 18h0m48-11h0m33 8h0m15 6h0"/>
<path stroke="#b7db48" d="M258 1497h0m5-12h0m20 81h0m54 0h0m120-237h0m21 43h0"/>
<path stroke="#246c6c" d="M195 1619h0"/>
<path stroke="#b7006c" d="M283 1623h0m16-1h0"/>
<path stroke="#6cdbff" d="M195 1566h0m2 18h0m5-20h0m2 6h0m0 9h0m3-3h0m14 2h0m2-12h0"/>
<path stroke="#b7b724" d="M439 1348h0m6-6h0"/>
<path stroke="#6cffff" d="M211 1561h0"/>
<path stroke="#db2493" d="M285 1616h0m18 15h0"/>
<path stroke="#b7dbb7" d="M288 1507h0m7 36h0m2-69h0"/>
<path stroke="#93ff93" d="M240 1562h0m2 41h0m11-42h0"/>
<path stroke="#48ffff" d="M205 1568h0m10-9h0m14-13h0"/>
<path stroke="#dbdb48" d="M276 1523h0m9 8h0m1-12h0m8 7h0m4-12h0m2 22h0m3 10h0m5-8h0m3-29h0m11 15h0m0 9h0m0 18h0m2 6h0m1-49h0m7 12h0m33 10h0m41 9h0m29-187h0m11-3h0m1-8h0m11 10h0m2-18h0m7 7h0m3 29h0m0 155h0m4 12h0m4 9h0"/>
<path stroke="#9324b7" d="M252 1630h0m12-13h0m0 5h0m1 0h0"/>
<path stroke="#939324" d="M253 1596h0m10 7h0m5-8h0m0 10h0m3-9h0m3 6h0m5-2h0"/>
<path stroke="#db48db" d="M316 1587h0m27-1h0m23 14h0m82-11h0m7-8h0m4 8h0m4 4h0m7-7h0m0 4h0m3 19h0"/>
<path stroke="#db48b7" d="M323 1605h0m138 13h0"/>
<path stroke="#48246c" d="M192 1615h0"/>
<path stroke="#dbff93" d="M444 1355h0m17-13h0m12 13h0"/>
<path stroke="#db93db" d="M369 1595h0"/>
<path stroke="#6cdb00" d="M274 1552h0m4-21h0m0 46h0"/>
<path stroke="#489300" d="M221 1591h0m7-5h0"/>
<path stroke="#db4824" d="M284 1623h0m1-31h0m1 0h0"/>
<path stroke="#48dbdb" d="M199 1544h0m11 20h0m6-43h0m3 19h0m0 4h0"/>
<path stroke="#93dbb7" d="M233 1549h0m7-1h0m42-59h0m14-27h0"/>
<path stroke="#ff4893" d="M303 1623h0"/>
<path stroke="#ffdb24" d="M302 1524h0m7 13h0m10 16h0m1-12h0m2-28h0m4 37h0m5-10h0m13-2h0m22-11h0m20 21h0m9 10h0m22-23h0m2 8h0m7-15h0m1 35h0m2-13h0m2-6h0m4 11h0m21 16h0m19-21h0m5-24h0"/>
<path stroke="#ffdbff" d="M270 1562h0m31 4h0m16 11h0m3 5h0m6-21h0m7 36h0m3-28h0m5 27h0m3-24h0m8-3h0m14 17h0m1-12h0m4-4h0m3-1h0m12-9h0m3 8h0m7 19h0m13-18h0m1 16h0m8-32h0m0 20h0m18-19h0m1 35h0m3-19h0m1-15h0m7 21h0m0 4h0m1 0h0m0 8h0m2-17h0m8 11h0m7-15h0m6 11h0m7 1h0m5-7h0"/>
<path stroke="#246c00" d="M186 1589h0m20 2h0m28 2h0m11 2h0m3 1h0"/>
<path stroke="#b74824" d="M280 1615h0m1-24h0m2 10h0m5-5h0m3-4h0"/>
<path stroke="#dbb7ff" d="M256 1583h0m6-12h0m4-4h0m6-21h0m5 30h0m6-26h0m4 21h0m1-7h0m2 19h0m2-12h0m2 9h0m2-5h0m3 11h0m1-14h0m3 13h0"/>
<path stroke="#ffdb48" d="M296 1515h0m10 10h0m1 9h0m11-47h0m0 42h0m0 21h0m7-3h0m32-23h0m3 24h0m2-18h0m12-1h0m3 38h0m3-19h0m1 16h0m1-2h0m4-19h0m1 14h0m5-2h0m30 8h0m15-218h0m6 0h0m5-4h0m8 12h0m3 186h0m4-7h0m17 21h0"/>
<path stroke="#6c24db" d="M205 1598h0m53 3h0m17 11h0m16-10h0"/>
<path stroke="#6cb724" d="M249 1560h0m3-22h0m2 63h0m11-32h0"/>
<path stroke="#b7b700" d="M384 1561h0"/>
<path stroke="#93ff6c" d="M264 1546h0m1 19h0"/>
<path stroke="#6c6cff" d="M212 1607h0m43-10h0"/>
<path stroke="#6cb793" d="M230 1557h0m16-11h0"/>
<path stroke="#ff6cff" d="M308 1587h0m7 9h0m0 3h0m13-22h0m2-3h0m12 0h0m5 36h0m7-10h0m2-21h0m4 15h0m37-17h0m3 28h0m6-8h0m3-4h0m17 10h0m9-18h0m22-6h0m11 6h0"/>
<path stroke="#ff48b7" d="M292 1612h0m15-22h0m82-6h0m80 26h0"/>
<path stroke="#0000b7" d="M209 1620h0"/>
<path stroke="#246c24" d="M229 1601h0"/>
<path stroke="#002424" d="M194 1604h0"/>
<path stroke="#009300" d="M223 1592h0"/>
<path stroke="#936c00" d="M241 1587h0m27 12h0"/>
<path stroke="#6c6c24" d="M254 1593h0"/>
<path stroke="#6cdbb7" d="M212 1564h0m8-3h0m18 16h0m1 16h0m8-17h0m2-15h0"/>
<path stroke="#db6cff" d="M447 1590h0"/>
<path stroke="#ffdb6c" d="M437 1333h0m21 26h0m14-3h0m24 197h0m2-2h0"/>
<path stroke="#4893db" d="M190 1563h0m19 24h0"/>
<path stroke="#934800" d="M273 1597h0"/>
<path stroke="#93b700" d="M278 1565h0"/>
<path stroke="#24486c" d="M192 1612h0m2-9h0"/>
<path stroke="#ff48ff" d="M325 1592h0m1 20h0m8 12h0m5-10h0m28-6h0m20-6h0m1-16h0m10 19h0m21 17h0m5-3h0m11 1h0m45 2h0"/>
<path stroke="#48dbff" d="M193 1562h0m10 7h0m0 12h0m5-9h0m5 6h0m0 14h0"/>
<path stroke="#b7db6c" d="M261 1569h0"/>
<path stroke="#244848" d="M198 1604h0m1 6h0m8-10h0"/>
<path stroke="#b7dbdb" d="M270 1561h0m32-3h0m2 21h0m23-74h0m3 50h0"/>
<path stroke="#db2448" d="M280 1614h0m0 0h0"/>
<path stroke="#2400db" d="M202 1629h0m31-13h0"/>
<path stroke="#9300b7" d="M234 1606h0m14 14h0m3-6h0m15 17h0m1-28h0"/>
<path stroke="#9393ff" d="M253 1592h0m4-13h0m24 2h0m10-4h0"/>
<path stroke="#b7ff48" d="M233 1501h0m19 32h0m4 26h0m1-48h0m0 12h0m2 35h0m2-48h0m2 26h0m0 1h0m1 0h0m2 43h0m12-28h0m6-4h0m3 61h0m1-14h0m13-32h0m181-208h0"/>
<path stroke="#4800db" d="M230 1616h0"/>
<path stroke="#6cff93" d="M247 1581h0m8-25h0m0 7h0"/>
<path stroke="#9324ff" d="M244 1630h0"/>
<path stroke="#24ffdb" d="M193 1539h0m1 16h0m6 8h0m11-41h0m1 38h0m4-22h0m0 30h0m2-25h0m2 23h0m2-36h0m9-10h0m16 27h0"/>
<path stroke="#b72448" d="M273 1620h0m4 2h0m2-16h0m11 6h0"/>
<path stroke="#00b793" d="M226 1574h0"/>
<path stroke="#db00db" d="M307 1589h0m14 39h0m21-4h0m1-24h0m49 26h0m19-22h0m8-8h0m1 14h0m18 4h0m15 0h0"/>
<path stroke="#ff48db" d="M311 1633h0m4-13h0m1-4h0m6 6h0m8-3h0m5-21h0m5 13h0m2 5h0m26-11h0m7-12h0m1-3h0m13 27h0m39 6h0m37 0h0m5-5h0m9-27h0m4 7h0"/>
<path stroke="#489324" d="M182 1594h0m8-3h0m5 8h0m3-3h0m6-5h0m3 1h0m10-5h0m1 19h0m7-17h0m9 4h0"/>
<path stroke="#ff00db" d="M323 1621h0m2-7h0m5 2h0m3-11h0m13 16h0m3-17h0m10 8h0m5 6h0m24 0h0m24-24h0m36 24h0m24-13h0m10 4h0m2-5h0m1 15h0"/>
<path stroke="#6c00db" d="M240 1628h0m2-10h0m36 5h0m1-6h0m0 14h0"/>
<path stroke="#6c6cdb" d="M227 1604h0m9-5h0m14 16h0m3-6h0"/>
<path stroke="#6cdb6c" d="M225 1567h0m7-8h0"/>
<path stroke="#ffff48" d="M303 1508h0m1 25h0m2 20h0m1-1h0m2 13h0m2-27h0m1 16h0m1-45h0m1 33h0m1-4h0m1-1h0m0 9h0m1 30h0m1-51h0m0 6h0m2 7h0m0 21h0m1-15h0m0 7h0m7-50h0m5 67h0m2-32h0m3 15h0m4 13h0m1-16h0m10 4h0m1-23h0m8 31h0m4-17h0m4-7h0m4 17h0m8-13h0m3 23h0m7-18h0m3-12h0m4 37h0m2-39h0m0 36h0m8-16h0m1 1h0m1-11h0m2-11h0m17 15h0m0 27h0m1 1h0m4-22h0m3-175h0m1-23h0m3 210h0m1-148h0m1 131h0m0 26h0m4-16h0m1-10h0m2-8h0m0 27h0m3-220h0m9 200h0m1-14h0m4-185h0m1 211h0m2-12h0m4 29h0m5-20h0m1-4h0m4 8h0"/>
<path stroke="#48ffdb" d="M190 1539h0m6-1h0m7 16h0m4-17h0m0 28h0m6-19h0m1 2h0m5 19h0m13-35h0"/>
<path stroke="#006c00" d="M211 1586h0"/>
<path stroke="#93ff48" d="M219 1526h0m15 81h0m6-59h0m9-13h0m1 5h0m5 9h0m1 3h0m2-12h0m4 38h0m2-16h0m10-14h0m13-7h0m4 3h0m1-14h0m9-40h0"/>
<path stroke="#dbffb7" d="M301 1533h0m15-39h0"/>
<path stroke="#24dbb7" d="M201 1563h0m6-41h0m2 43h0m4-35h0m1 16h0m4-2h0m1-27h0m1 20h0m9 16h0"/>
<path stroke="#24b724" d="M227 1598h0"/>
<path stroke="#db006c" d="M262 1630h0m18-10h0m3 2h0m7-2h0"/>
<path stroke="#dbff24" d="M314 1531h0m39 10h0m103-196h0"/>
<path stroke="#2424db" d="M194 1618h0m31 2h0m0 1h0m2-14h0m2 16h0m0 5h0m2-16h0"/>
<path stroke="#2424ff" d="M217 1632h0"/>
<path stroke="#dbff6c" d="M265 1541h0m6-3h0m39-38h0m130-133h0m14-41h0m16 43h0m7-35h0m4 63h0"/>
<path stroke="#24b7ff" d="M209 1573h0"/>
<path stroke="#93b7ff" d="M245 1598h0m4-12h0m6-7h0m11-8h0"/>
<path stroke="#002493" d="M187 1612h0m11 16h0"/>
<path stroke="#b7db00" d="M362 1557h0m79-174h0"/>
<path stroke="#9393db" d="M235 1585h0m11 10h0m8-30h0m8 14h0"/>
<path stroke="#ff24b7" d="M315 1625h0m1-18h0m2 3h0m57-1h0m49-1h0m2 2h0m22 5h0m14 1h0m3-8h0"/>
<path stroke="#244893" d="M191 1619h0"/>
<path stroke="#ff00b7" d="M307 1616h0m5 13h0m12-17h0m0 14h0m28 1h0m11-11h0m19-5h0m9 15h0m19-39h0m0 36h0m2-28h0m1 15h0m0 16h0m3-18h0m12 3h0m2 5h0m11-6h0m8 10h0m18 2h0m1-6h0m14 0h0"/>
<path stroke="#dbffdb" d="M281 1462h0m11 47h0m6-9h0m3 5h0m5-32h0m2 6h0m5 27h0m4-6h0m5-2h0m1-40h0m11-20h0m6 40h0"/>
<path stroke="#00006c" d="M190 1617h0m1-4h0m2 10h0m1-1h0"/>
<path stroke="#dbb7b7" d="M425 1583h0"/>
<path stroke="#93ffb7" d="M218 1549h0m1 5h0m10 12h0m1-13h0m20 9h0m1 38h0"/>
<path stroke="#db6c24" d="M279 1612h0m15-13h0"/>
<path stroke="#ffff6c" d="M296 1541h0m11-4h0m7-5h0m3 5h0m1-18h0m12 42h0m10-3h0m11-23h0m40 4h0m27-10h0m9-162h0m4-11h0m3-7h0m1 5h0m0 12h0m1 192h0m10-212h0m6 17h0m4-46h0m2 75h0m2-31h0m1-1h0m2-7h0m3 226h0m3-208h0m2-18h0m3 185h0m4-194h0m2 24h0m9 190h0m7-7h0m3-13h0m1 25h0m6-21h0"/>
<path stroke="#9300db" d="M267 1618h0m3 0h0"/>
<path stroke="#ffffff" d="M267 1576h0m30-85h0m23-34h0m3 39h0m28-67h0m2 23h0m6-11h0m2 122h0m21-97h0m56-108h0m3 110h0m2-112h0m6 4h0m1 10h0m5-38h0m1 15h0m3 20h0m1-40h0m1 7h0m6 20h0m4 21h0m1-58h0m1 60h0m2 7h0m2-42h0m0 25h0m3-24h0m4 22h0m3-23h0m53 2h0"/>
<path stroke="#93b7b7" d="M277 1524h0"/>
<path stroke="#b7db24" d="M196 1538h0m50 11h0m11 25h0m12-29h0m1 6h0m8-44h0m99 39h0"/>
<path stroke="#ff93ff" d="M311 1588h0m17 2h0m0 1h0m11 6h0m13 5h0m4-26h0m2 24h0m3 4h0m16 7h0m51-34h0m2 30h0m13 8h0m7-17h0m11-16h0m7 13h0m15 11h0"/>
<path stroke="#b70093" d="M407 1614h0"/>
<path stroke="#2424b7" d="M198 1624h0m17 8h0m6-7h0m1 1h0m12-1h0m10-26h0"/>
<path stroke="#93db93" d="M223 1570h0m20 0h0m2 15h0m6-9h0"/>
<path stroke="#936c24" d="M265 1597h0m5-2h0"/>
<path stroke="#dbdb24" d="M285 1551h0m5-25h0m8 11h0m6 4h0m6-16h0m2-21h0m10 10h0m5 47h0m9-7h0m4-13h0m5 24h0m7-13h0m0 15h0m21-1h0m13-30h0m11 29h0m6 8h0m16-29h0m9-7h0m7-7h0m5 21h0m2-20h0m10 17h0m14-181h0m6 162h0m4 31h0m1 2h0m1-181h0m1 165h0"/>
<path stroke="#ff24ff" d="M318 1623h0m67-15h0m31-4h0m1 12h0m45 8h0m2-16h0m1 4h0"/>
<path stroke="#dbdbff" d="M236 1591h0m0 3h0m23-15h0m3 9h0m3-4h0m2-7h0m3-19h0m0 7h0m0 6h0m5-19h0m3 8h0m0 17h0m3-20h0m0 3h0m0 17h0m1 2h0m2-33h0m0 40h0m1-36h0m1 15h0m0 21h0m6-10h0m0 7h0m0 11h0m2-14h0m2 7h0m1-3h0m2-139h0m1 161h0m1-43h0m0 7h0m12 18h0m6-24h0m52-12h0m101 21h0m0 10h0"/>
<path stroke="#4824db" d="M201 1625h0m1-9h0m4 13h0m1 4h0m3-11h0m2-3h0m1 5h0m4-5h0m9 3h0m4 7h0m11 0h0m13-3h0"/>
<path stroke="#6c0093" d="M256 1613h0"/>
<path stroke="#48b7db" d="M186 1580h0m8-17h0m7-9h0m4 16h0m3 8h0m1 4h0"/>
<path stroke="#dbffff" d="M295 1449h0m11-3h0m14-7h0m4-21h0m6 17h0m3 8h0m4 10h0m1-14h0m1-3h0m29-81h0m2 3h0m0 2h0m0 5h0m2-10h0"/>
<path stroke="#9324db" d="M239 1631h0m3-8h0m3-8h0m4 15h0m5 2h0m1-21h0m2-3h0m8 13h0m18-3h0"/>
<path stroke="#6cb7ff" d="M190 1576h0m3-3h0m1 17h0m6-13h0m15-10h0m3-9h0"/>
<path stroke="#4824b7" d="M192 1628h0m2-5h0m52 8h0m9-6h0"/>
<path stroke="#6cb700" d="M244 1576h0m23-48h0"/>
<path stroke="#b724ff" d="M250 1612h0m15 0h0"/>
<path stroke="#ff93b7" d="M474 1597h0"/>
<path stroke="#00246c" d="M194 1619h0m0 0h0"/>
<path stroke="#b700b7" d="M407 1617h0m73-5h0"/>
<path stroke="#db6c48" d="M283 1603h0"/>
<path stroke="#6cffb7" d="M247 1546h0"/>
<path stroke="#b7b7ff" d="M241 1596h0m3-22h0m8 20h0m8-14h0m4-22h0m2 18h0m1 0h0m6-47h0m1 37h0m0 36h0m3-69h0m4 34h0m1-1h0m1 25h0m2-10h0m1-3h0m1-11h0m0 25h0m6-9h0m0 4h0m1-18h0m7 19h0m2 2h0"/>
<path stroke="#24b7db" d="M215 1569h0m6-16h0"/>
<path stroke="#ff6cdb" d="M314 1588h0m2 17h0m1-2h0m5-28h0m0 22h0m2-12h0m7 9h0m1 12h0m2-26h0m3-3h0m6 22h0m13-1h0m3-9h0m13 6h0m5 0h0m1-14h0m5 20h0m6-7h0m4-17h0m5 3h0m3 14h0m8 21h0m3-3h0m8-19h0m3-18h0m0 25h0m5-5h0m2 4h0m2-25h0m3 2h0m1 27h0m10-1h0m4-20h0m1 15h0m4-2h0m0 8h0m9 5h0m3-5h0m11-12h0m0 6h0m3-9h0m0 7h0m2-5h0m2-1h0"/>
<path stroke="#93006c" d="M294 1617h0"/>
<path stroke="#ffff24" d="M320 1534h0m5-8h0m14 13h0m9 15h0m4 12h0m21-24h0m2 17h0m6-3h0m25-6h0m40 3h0m42-182h0"/>
<path stroke="#6cdb93" d="M225 1554h0m1 3h0m6-20h0m1 17h0m5 13h0m2 11h0m1-21h0m0 15h0m0 23h0m5-42h0m1 17h0m2-22h0m0 21h0m5 13h0m1-13h0m17 8h0"/>
<path stroke="#b7b7db" d="M273 1597h0m3-47h0m1 34h0m4 4h0m1-8h0m16-18h0m10-7h0m8 40h0"/>
<path stroke="#b70048" d="M264 1606h0m7 11h0m21 8h0"/>
<path stroke="#930024" d="M287 1625h0m23 0h0"/>
<path stroke="#b7ffff" d="M298 1418h0m72-53h0"/>
<path stroke="#b72424" d="M288 1617h0"/>
<path stroke="#6c6c00" d="M233 1602h0m22-9h0m8 1h0m1 6h0"/>
<path stroke="#dbdbdb" d="M274 1474h0m29-1h0m5-11h0m4 134h0m13-136h0m81 111h0m42 14h0"/>
<path stroke="#6c48db" d="M227 1613h0m3 12h0m3-20h0m9 5h0m0 3h0m15-14h0m0 20h0m4-18h0m4 9h0m12-11h0"/>
<path stroke="#4800b7" d="M238 1624h0"/>
<path stroke="#b76cb7" d="M323 1585h0"/>
<path stroke="#4824ff" d="M217 1628h0"/>
<path stroke="#242493" d="M183 1621h0m3 4h0m1-19h0m0 23h0m3-6h0m0 0h0m2 2h0"/>
<path stroke="#6cb748" d="M272 1551h0"/>
<path stroke="#dbff48" d="M259 1521h0m9 28h0m2-16h0m21 9h0m3-46h0m0 21h0m5 14h0m1 9h0m10 5h0m1-4h0m3 34h0m2-64h0m2 23h0m8-8h0m14 7h0m58-8h0m6 17h0m4 3h0m23-170h0m6-7h0m13 2h0m3-15h0m3 11h0m6-21h0m5 205h0m1 14h0"/>
<path stroke="#b748db" d="M258 1626h0m7 1h0"/>
<path stroke="#b793db" d="M258 1585h0"/>
<path stroke="#ffffb7" d="M431 1330h0m42 3h0"/>
<path stroke="#486c6c" d="M192 1614h0"/>
<path stroke="#b7dbff" d="M270 1578h0m8-10h0m7 39h0m3-74h0m6 16h0m23 38h0"/>
<path stroke="#b70024" d="M282 1619h0m0 1h0m6-14h0"/>
<path stroke="#db24b7" d="M360 1619h0m71-12h0m47 2h0"/>
<path stroke="#db6cb7" d="M310 1597h0m15-8h0m14-4h0m3-7h0m29 24h0m14-11h0"/>
<path stroke="#93db48" d="M226 1544h0m20-5h0m5 9h0m1-8h0m12-36h0m7 25h0m0 17h0m5 4h0m1-19h0"/>
<path stroke="#6cb7db" d="M211 1560h0"/>
<path stroke="#6c24b7" d="M200 1618h0m41-2h0m4-4h0m9 5h0m0 9h0m27-23h0"/>
<path stroke="#000093" d="M185 1630h0m5-11h0m1-9h0m37 22h0"/>
<path stroke="#24ffff" d="M200 1557h0m33-20h0"/>
<path stroke="#ff006c" d="M302 1615h0"/>
<path stroke="#00ffb7" d="M203 1534h0"/>
<path stroke="#4893ff" d="M198 1568h0"/>
<path stroke="#db00b7" d="M308 1617h0m2 6h0m1-10h0m8 11h0m10-33h0m0 32h0m24-11h0m30 9h0m2-3h0m7 4h0m22-8h0m12 7h0m1-13h0m2 14h0m1-1h0m28-18h0m10 9h0"/>
<path stroke="#b7ff6c" d="M228 1518h0m12 43h0m22-20h0m7-11h0m3-16h0m2 15h0m3-5h0m1 9h0m15-17h0"/>
<path stroke="#004848" d="M181 1622h0m11-15h0m2 9h0m2-8h0"/>
<path stroke="#dbb748" d="M455 1341h0m11-18h0"/>
<path stroke="#2400b7" d="M193 1626h0m2 6h0m5-4h0m7-2h0m1-10h0m4-1h0m11 1h0m1-8h0m2 18h0"/>
<path stroke="#ffdbdb" d="M320 1579h0m17-14h0m14-7h0m2 7h0m4-5h0m15 12h0m6-17h0m16 15h0m6 6h0m14 3h0m13-3h0m4-11h0m2-7h0m14 18h0m5-2h0m7-7h0"/>
<path stroke="#242448" d="M197 1602h0"/>
<path stroke="#4848b7" d="M260 1610h0m5 0h0m8 3h0"/>
<path stroke="#b7ffb7" d="M225 1565h0m52-76h0m10 33h0m2-32h0m2-19h0m0 23h0m2 12h0"/>
<path stroke="#6c48ff" d="M220 1607h0"/>
<path stroke="#ff93db" d="M311 1591h0m28 11h0m37-7h0m3 5h0m2-17h0m12 15h0m18 0h0m6-4h0m46-4h0m11-13h0"/>
<path stroke="#ffb7db" d="M318 1576h0m6-3h0m20-9h0m28 10h0m26-4h0m31 5h0m5-12h0m19 13h0m21-7h0m4 2h0"/>
<path stroke="#249324" d="M201 1601h0m2-5h0m5-10h0m4 6h0m1 1h0m2-3h0m3 4h0m0 0h0m4-10h0m3 11h0m7-4h0m31 2h0"/>
<path stroke="#b7ff24" d="M235 1570h0m23-16h0m10 8h0m17-2h0m68-11h0"/>
<path stroke="#6c00b7" d="M226 1622h0m10 0h0m4 8h0m6-13h0m9 3h0m3 4h0m2 0h0m11-16h0m14 12h0"/>
<path stroke="#db0048" d="M276 1610h0m28 12h0m11 10h0m9-20h0"/>
<path stroke="#249300" d="M198 1591h0m2 5h0m2-10h0m0 1h0m0 1h0m3-2h0m0 2h0m1-4h0m3 10h0m9-6h0m3 6h0m3-2h0m1 1h0m7 1h0m1-7h0m2 7h0m3-4h0m2 9h0"/>
<path stroke="#dbdbb7" d="M304 1521h0"/>
<path stroke="#db246c" d="M270 1615h0m9 14h0m0 4h0m7-10h0m10-6h0m4-3h0m0 4h0m5 4h0"/>
<path stroke="#b7ffdb" d="M281 1499h0m2-18h0m9 58h0m9-66h0"/>
<path stroke="#24ffb7" d="M193 1565h0m13 6h0"/>
<path stroke="#6cdb24" d="M260 1563h0m7-29h0m5-21h0"/>
<path stroke="#24246c" d="M184 1622h0m14-8h0"/>
<path stroke="#24dbdb" d="M191 1548h0m3 17h0m3-26h0m4-1h0m4 8h0m2-4h0m5 25h0m0 2h0m2-18h0m2 63h0m1-67h0m1 13h0m5-8h0m2 8h0m19-23h0"/>
<path stroke="#93ff24" d="M244 1568h0m27 2h0m1-18h0m2-1h0m35-28h0"/>
<path stroke="#48db6c" d="M241 1581h0"/>
<path stroke="#48b724" d="M215 1597h0m7-9h0"/>
<path stroke="#ffb7ff" d="M324 1568h0m27-10h0m4 14h0m1 0h0m26 2h0m12 3h0m21-1h0m3 13h0m9-8h0m1-17h0m19 1h0m8 5h0m5 14h0m25-15h0"/>
<path stroke="#db6cdb" d="M308 1592h0m2-1h0m14 6h0m6-17h0m5 19h0m6 0h0m9-4h0m8-7h0m16 6h0m4 6h0m1-3h0m12 12h0m48-8h0m12-4h0m9 0h0m12 15h0m10-35h0"/>
<path stroke="#db24ff" d="M394 1618h0"/>
<path stroke="#00486c" d="M200 1592h0"/>
<path stroke="#dbdb6c" d="M452 1344h0m34 207h0m3-5h0"/>
<path stroke="#000048" d="M194 1632h0"/>
<path stroke="#939300" d="M257 1593h0"/>
<path stroke="#b724db" d="M252 1628h0"/>
<path stroke="#b7246c" d="M285 1624h0m4-10h0m3 4h0"/>
<path stroke="#db93db" d="M471 1604h0m9-18h0"/>
<path stroke="#dbdb6c" d="M448 1360h0m4-25h0m10 2h0"/>
<path stroke="#db486c" d="M307 1609h0"/>
<path stroke="#48b793" d="M221 1565h0m32-6h0"/>
<path stroke="#93dbb7" d="M239 1567h0m0 1h0m43-79h0"/>
<path stroke="#ffb7db" d="M333 1568h0m6 16h0m13-24h0m18 31h0m1-35h0m15 10h0m7 19h0m21-15h0m44 4h0m2-6h0m2 1h0"/>
<path stroke="#6cffb7" d="M231 1555h0m19 58h0"/>
<path stroke="#db24b7" d="M307 1608h0m28-8h0m13 26h0m4-24h0m17 23h0m23-29h0m84 15h0"/>
<path stroke="#936cdb" d="M256 1608h0m21 7h0"/>
<path stroke="#24246c" d="M186 1622h0m6 5h0"/>
<path stroke="#b793ff" d="M240 1586h0m18 4h0m19-17h0m1 16h0"/>
<path stroke="#ff48ff" d="M312 1596h0m12 25h0m8 8h0m23-13h0m8-12h0m1 22h0m1-20h0m4 8h0m1-8h0m15 4h0m48 4h0m4 8h0m3-23h0m32 8h0m12 6h0"/>
<path stroke="#489348" d="M196 1596h0"/>
<path stroke="#db00db" d="M339 1616h0m43-10h0m23 1h0m19 12h0m0 6h0m23-6h0m34-7h0"/>
<path stroke="#b7b7ff" d="M241 1568h0m8 5h0m1 14h0m2 1h0m1-6h0m2 18h0m3-1h0m2-22h0m0 0h0m2-44h0m8 60h0m2-22h0m2 11h0m2-9h0m1 9h0m1-6h0m0 16h0m1-8h0m1 6h0m1-8h0m0 17h0m1-27h0m2 12h0m0 1h0m3-15h0m1 2h0m1 11h0m22 1h0m1-11h0"/>
<path stroke="#6cdbb7" d="M242 1575h0"/>
<path stroke="#489324" d="M177 1595h0m13-5h0m12-3h0m0 6h0m4-4h0m16 12h0m22-1h0"/>
<path stroke="#4893db" d="M215 1557h0"/>
<path stroke="#db6cdb" d="M326 1579h0m3 12h0m17 3h0m19 0h0m13-5h0m46 5h0m1-15h0m23 6h0m10 4h0m9 0h0"/>
<path stroke="#24ffb7" d="M188 1567h0m18 14h0"/>
<path stroke="#93ffb7" d="M231 1568h0m4-10h0m3 4h0m8 9h0m12 4h0m36-79h0"/>
<path stroke="#dbff24" d="M299 1523h0m16 24h0m2-3h0m24 7h0m13 7h0m5 22h0m10-17h0m8-4h0m5 2h0m24-5h0m6 16h0m21-230h0m21 241h0m1-231h0m28 205h0"/>
<path stroke="#00dbdb" d="M209 1555h0m22-23h0"/>
<path stroke="#6c6c24" d="M250 1600h0"/>
<path stroke="#ffdbdb" d="M331 1584h0m27-16h0m21 20h0m12-27h0m14 13h0m1 0h0m40 14h0m11-15h0m6-15h0m3 10h0m3 4h0m7-10h0m5 9h0"/>
<path stroke="#ffb7ff" d="M287 1561h0m29-6h0m7 13h0m7-4h0m28 15h0m22-17h0m2 3h0m26 3h0m2 1h0m36 6h0m14 4h0m2-11h0"/>
<path stroke="#6cb76c" d="M246 1563h0m1 18h0m2-25h0m0 19h0"/>
<path stroke="#b7ff24" d="M247 1554h0m7-29h0m7 2h0m0 12h0m2 10h0m1 17h0m2-18h0m12-14h0m21-11h0m20 45h0m123-230h0m28 22h0"/>
<path stroke="#ffb724" d="M464 1357h0"/>
<path stroke="#48dbff" d="M198 1570h0m1 1h0m5 6h0m2-22h0m4 8h0"/>
<path stroke="#9348ff" d="M250 1621h0m5 3h0"/>
<path stroke="#db4824" d="M286 1602h0"/>
<path stroke="#9393db" d="M256 1577h0m4 4h0m26 16h0"/>
<path stroke="#4848db" d="M216 1610h0m9 0h0m4 4h0m18-4h0m2 5h0m0 7h0"/>
<path stroke="#006c6c" d="M185 1612h0"/>
<path stroke="#6c24db" d="M230 1631h0m25-23h0m10 11h0m2-3h0m5 17h0"/>
<path stroke="#dbb700" d="M352 1569h0m81-12h0"/>
<path stroke="#936c00" d="M261 1600h0"/>
<path stroke="#936c24" d="M259 1603h0"/>
<path stroke="#24b724" d="M214 1605h0"/>
<path stroke="#b748db" d="M246 1611h0m12 8h0"/>
<path stroke="#24dbdb" d="M191 1581h0m1-30h0m10 3h0m2 5h0m1-6h0m1-27h0m0 41h0m2-64h0m3 27h0m3 36h0m2-19h0m0 27h0m2-20h0m2-24h0m0 15h0m4-2h0m10 0h0"/>
<path stroke="#9324ff" d="M259 1630h0m1 2h0"/>
<path stroke="#ffdb00" d="M326 1557h0"/>
<path stroke="#db6cb7" d="M378 1598h0m16-11h0m23 13h0m39-23h0m7 10h0"/>
<path stroke="#ffff24" d="M314 1555h0m3-1h0m9-7h0m30 18h0m3-23h0m8 15h0m7 9h0m10-32h0m21 20h0m5 4h0m3-1h0m0 4h0m14-32h0m2 11h0m11 19h0m13-4h0m5-13h0m3-28h0m7 46h0m8-1h0"/>
<path stroke="#93ff48" d="M236 1581h0m4-74h0m9 22h0m2 12h0m2 9h0m1 8h0m15-38h0m3 60h0m4-65h0m4 5h0m4-3h0m11 15h0m12 15h0"/>
<path stroke="#482493" d="M221 1624h0"/>
<path stroke="#00246c" d="M185 1618h0m0 1h0m2 7h0m1 5h0m3 0h0m9-24h0"/>
<path stroke="#6c48ff" d="M233 1599h0m6-1h0m25 15h0"/>
<path stroke="#b74824" d="M285 1611h0"/>
<path stroke="#dbff48" d="M252 1545h0m31-10h0m15-3h0m4 4h0m6-1h0m4-10h0m7-19h0m2 21h0m3-21h0m5 24h0m2 17h0m7 34h0m5-51h0m34-3h0m15 12h0m2 7h0m5 29h0m6-33h0m4 10h0m14 1h0m12-189h0m5 18h0m0 179h0m36-203h0m8 177h0"/>
<path stroke="#db2448" d="M285 1615h0m3 12h0"/>
<path stroke="#6cdb24" d="M241 1541h0m15-14h0m4-9h0m0 23h0m8 15h0m3 0h0"/>
<path stroke="#6c48db" d="M226 1599h0m4 21h0m13-12h0m1-12h0m4 12h0m8-1h0m7 2h0m7-11h0"/>
<path stroke="#004848" d="M186 1608h0"/>
<path stroke="#b76c24" d="M282 1615h0"/>
<path stroke="#4824b7" d="M198 1626h0m11 1h0m3-4h0m11-4h0m12-23h0m3 35h0m30-29h0"/>
<path stroke="#b7ff48" d="M236 1519h0m5 30h0m4-36h0m0 16h0m2-13h0m8 5h0m1 0h0m2 6h0m3 37h0m4-17h0m10 1h0m1 2h0m3 11h0m2-50h0m1 35h0m3-2h0m5-22h0m7 11h0"/>
<path stroke="#6cdb6c" d="M217 1571h0m29-15h0"/>
<path stroke="#ff24db" d="M307 1616h0m0 10h0m2-36h0m0 34h0m1-20h0m10 10h0m6 0h0m1 4h0m10-2h0m5-7h0m9 4h0m0 5h0m0 7h0m1-10h0m3-3h0m5 11h0m2-8h0m0 1h0m5-1h0m2 3h0m0 2h0m2-5h0m1 1h0m1-10h0m0 16h0m7 3h0m1-2h0m2-8h0m1-4h0m3 1h0m6-3h0m3 10h0m9-1h0m3-1h0m2-7h0m2 0h0m8-4h0m2-8h0m0 8h0m2 10h0m5-3h0m16-4h0m11 8h0m6-18h0m12 16h0"/>
<path stroke="#24b7db" d="M208 1566h0m15 0h0"/>
<path stroke="#00486c" d="M185 1605h0m2 10h0m21 5h0"/>
<path stroke="#4800ff" d="M214 1624h0"/>
<path stroke="#6cb700" d="M261 1515h0m0 44h0"/>
<path stroke="#6cdb00" d="M265 1522h0"/>
<path stroke="#db48ff" d="M405 1589h0"/>
<path stroke="#4824db" d="M188 1626h0m8-6h0m14-9h0m11 10h0m20-2h0m1-31h0m7 21h0m2 9h0m8-18h0m5 28h0"/>
<path stroke="#93ff93" d="M253 1586h0"/>
<path stroke="#246c24" d="M213 1585h0"/>
<path stroke="#48db93" d="M266 1539h0"/>
<path stroke="#b748b7" d="M400 1587h0"/>
<path stroke="#b7dbff" d="M250 1591h0m12-11h0m2-21h0m11-27h0m8 19h0m16 25h0m1-15h0m12 24h0m8 18h0"/>
<path stroke="#24b7b7" d="M209 1565h0m24-11h0"/>
<path stroke="#240093" d="M180 1619h0m6 1h0m9-24h0m11 25h0m17 3h0m7-12h0m34 11h0"/>
<path stroke="#dbff93" d="M262 1519h0m192-167h0"/>
<path stroke="#002493" d="M192 1626h0m4-12h0m5 8h0"/>
<path stroke="#93b7ff" d="M257 1592h0m5-22h0m1 10h0m2 4h0m1-3h0"/>
<path stroke="#dbdbdb" d="M277 1566h0m16-4h0m7 27h0m10-17h0m4-112h0m5 51h0m13-60h0m2 104h0"/>
<path stroke="#db48b7" d="M318 1593h0m78-10h0m45 5h0m18 5h0"/>
<path stroke="#b793db" d="M257 1574h0m46 18h0"/>
<path stroke="#ff486c" d="M291 1618h0"/>
<path stroke="#489300" d="M209 1592h0m15 0h0m7-5h0"/>
<path stroke="#dbb7ff" d="M260 1598h0m18-20h0m2 5h0m1-14h0m3 11h0m3 18h0m8-18h0m0 1h0m8-25h0m5 10h0"/>
<path stroke="#b72493" d="M300 1621h0"/>
<path stroke="#ff6cdb" d="M307 1595h0m1-13h0m2 16h0m3-7h0m1-3h0m5-2h0m5-9h0m2 46h0m12-14h0m3-21h0m1 7h0m1 16h0m1-23h0m0 13h0m0 2h0m0 1h0m2-17h0m1 2h0m4-4h0m6-3h0m16 15h0m6-19h0m6 2h0m4-12h0m3 45h0m4 2h0m6-7h0m2-17h0m7-9h0m2 10h0m15 5h0m0 12h0m13 8h0m15-27h0m2-6h0m2 14h0m4-26h0m2 11h0m0 24h0m7-25h0m6 16h0m1-12h0m0 1h0"/>
<path stroke="#2493ff" d="M194 1572h0"/>
<path stroke="#ff24b7" d="M314 1612h0m11 3h0m1-12h0m25-3h0m1 1h0m1 15h0m10-4h0m25-6h0m5 11h0m3-4h0m10 3h0m43-7h0m3-7h0"/>
<path stroke="#dbdbff" d="M241 1567h0m14 23h0m4-6h0m1-11h0m0 22h0m2-45h0m2 35h0m2 4h0m3-3h0m2-39h0m1 27h0m3-3h0m3-3h0m1 7h0m0 6h0m1 23h0m1-42h0m0 16h0m0 14h0m2 4h0m1-11h0m1-39h0m0 12h0m0 19h0m1 9h0m1-28h0m3-4h0m2 8h0m0 26h0m1-20h0m1 9h0m0 12h0m1-6h0m6-30h0m4 4h0m0 17h0m11 9h0m6-2h0m32-9h0m79-5h0m19 16h0"/>
<path stroke="#ff00db" d="M308 1611h0m6 10h0m11-9h0m7 12h0m7-1h0m5-14h0m14-9h0m6-1h0m13 15h0m9 1h0m21 9h0m4-26h0m9 17h0m11-2h0m1-14h0m4 9h0m4 8h0m19-5h0m3 12h0"/>
<path stroke="#b7ff6c" d="M237 1532h0m4 12h0m1 33h0m5 1h0m13-37h0m8-3h0"/>
<path stroke="#6cb793" d="M236 1542h0m6 31h0m6 12h0"/>
<path stroke="#93b724" d="M242 1549h0m20 6h0m26-30h0"/>
<path stroke="#00006c" d="M184 1614h0m5-3h0m3 2h0m2 10h0m1-3h0m5-24h0m43 23h0"/>
<path stroke="#6cff24" d="M251 1550h0m6-5h0m11-22h0m18 22h0"/>
<path stroke="#db246c" d="M270 1620h0m6 6h0m5 7h0m7-18h0m4 17h0m9-8h0m15-8h0"/>
<path stroke="#db00b7" d="M307 1607h0m14 20h0m11-15h0m4 0h0m0 2h0m39-4h0m4-5h0m1-9h0m7 20h0m16 10h0m26-7h0m10-3h0m6 5h0m2-12h0"/>
<path stroke="#b748ff" d="M247 1617h0"/>
<path stroke="#db24ff" d="M485 1601h0"/>
<path stroke="#db48db" d="M388 1600h0m11-4h0m31-18h0m31 20h0m8-18h0m6 18h0m1-5h0m3 9h0m5-5h0"/>
<path stroke="#dbb724" d="M405 1547h0"/>
<path stroke="#932493" d="M231 1631h0"/>
<path stroke="#db6cff" d="M360 1592h0"/>
<path stroke="#24dbff" d="M206 1549h0"/>
<path stroke="#48dbb7" d="M222 1589h0"/>
<path stroke="#48b76c" d="M235 1544h0m12 50h0"/>
<path stroke="#000048" d="M182 1609h0m5 17h0m4-7h0m7-7h0"/>
<path stroke="#000024" d="M200 1617h0"/>
<path stroke="#ffdbff" d="M260 1588h0m31-23h0m28 14h0m1-13h0m0 8h0m7 5h0m1-7h0m3-5h0m11-9h0m4 24h0m7-10h0m6 0h0m0 12h0m10-15h0m0 12h0m1-11h0m3 0h0m5 4h0m0 1h0m0 13h0m1-12h0m8 12h0m2-36h0m2 22h0m1-20h0m7 15h0m6-2h0m5 7h0m0 6h0m1-3h0m0 1h0m4-5h0m5-4h0m1-7h0m2 5h0m4 7h0m2 12h0m4 0h0m14-15h0m17-13h0m14 14h0m1-1h0m4 9h0"/>
<path stroke="#ffb748" d="M427 1355h0"/>
<path stroke="#db24db" d="M341 1626h0m21-2h0m4-9h0m1-5h0m7 0h0m29-10h0m2 14h0m23-1h0m13-1h0m41 2h0"/>
<path stroke="#ffff93" d="M439 1361h0m12-7h0m3-11h0m1-20h0m4 16h0m1-7h0m1 20h0m1-22h0m0 37h0m1 5h0m4-28h0m5 2h0m29 202h0"/>
<path stroke="#48ffdb" d="M186 1555h0m9-21h0m3 19h0m0 12h0m4 10h0m1-3h0m1-17h0m1-27h0m0 36h0m2-18h0m1 0h0m3 8h0m1-7h0m0 7h0m4-19h0m0 34h0m2-20h0m1-13h0m0 34h0m1-16h0m15-25h0m3 19h0"/>
<path stroke="#4848b7" d="M208 1632h0m36-28h0m20 6h0m2 3h0"/>
<path stroke="#ffff6c" d="M277 1524h0m28-4h0m4 29h0m2 6h0m3-39h0m1 46h0m1-69h0m3 28h0m4 21h0m2 12h0m2-48h0m4 32h0m9-5h0m50 18h0m5-13h0m16-174h0m16 13h0m12 187h0m7-244h0m0 24h0m1 215h0m2-171h0m2-18h0m3 11h0m0 153h0m1-178h0m1 47h0m2-73h0m1 25h0m0 31h0m2-21h0m0 35h0m3-72h0m0 5h0m4 230h0m1-204h0m4 206h0m1-210h0m4 1h0m4 28h0m1-45h0m11 213h0m1-8h0"/>
<path stroke="#ffdb24" d="M302 1522h0m23 22h0m2-9h0m9 23h0m59-5h0m29 11h0m10-7h0m1-2h0m5-168h0m2 24h0m7 134h0m16-10h0m6 2h0m8 3h0"/>
<path stroke="#48db6c" d="M245 1551h0"/>
<path stroke="#93db93" d="M240 1551h0m3 14h0m16-15h0m0 19h0"/>
<path stroke="#db0048" d="M287 1629h0m7-11h0"/>
<path stroke="#db6c24" d="M279 1585h0"/>
<path stroke="#48db24" d="M271 1528h0"/>
<path stroke="#2424b7" d="M187 1623h0m13 6h0m10-1h0m12-17h0m3 10h0m11 0h0"/>
<path stroke="#6cb7ff" d="M206 1581h0m7-4h0m21 3h0"/>
<path stroke="#db6c48" d="M285 1609h0"/>
<path stroke="#dbb7db" d="M277 1573h0m4-13h0m7 25h0m13 9h0m6-25h0m10-4h0m3 11h0m50-13h0m55 0h0m4-13h0m4 25h0m24 3h0m28-24h0"/>
<path stroke="#ff246c" d="M297 1621h0"/>
<path stroke="#dbb748" d="M402 1536h0"/>
<path stroke="#006c48" d="M188 1610h0"/>
<path stroke="#b7006c" d="M281 1624h0m16-1h0"/>
<path stroke="#48b7db" d="M184 1588h0m11-27h0m4 7h0m11-11h0m1 25h0m2-8h0m7 9h0"/>
<path stroke="#93ff24" d="M225 1525h0m37-2h0m15 13h0m3 24h0m24 7h0"/>
<path stroke="#24dbb7" d="M191 1555h0m3-7h0m2-11h0m6 20h0m4-4h0m3 3h0m1-24h0m8 36h0m1-1h0m2-68h0m3 53h0m1-5h0m20-4h0"/>
<path stroke="#dbff6c" d="M428 1336h0m8 16h0m21 15h0m16-34h0"/>
<path stroke="#0000b7" d="M201 1621h0m18 8h0"/>
<path stroke="#dbffdb" d="M272 1473h0m14 12h0m6 20h0m9-34h0m4 45h0m12-67h0m5 87h0m20-43h0"/>
<path stroke="#48b724" d="M199 1591h0m16 1h0m4-7h0m14-4h0"/>
<path stroke="#dbdb48" d="M286 1528h0m15-26h0m5 16h0m2 13h0m0 1h0m4 27h0m2 20h0m2-76h0m14 43h0m41 2h0m57-6h0m14-176h0m2-3h0m2 21h0m5-36h0m1 13h0m15 200h0m2-3h0m0 0h0m2-208h0m1 210h0"/>
<path stroke="#dbdb24" d="M279 1521h0m8-27h0m20 58h0m2 3h0m3-19h0m1 1h0m3 10h0m1-17h0m2 19h0m5 1h0m2-6h0m1-15h0m0 38h0m2-54h0m7 27h0m8-30h0m0 51h0m2-12h0m5 11h0m3-11h0m8 1h0m1 16h0m2-14h0m2 4h0m3-6h0m4-14h0m6 33h0m1-24h0m2 3h0m2 8h0m8-10h0m7-17h0m0 10h0m14-4h0m2-3h0m22 25h0m5-18h0m7-182h0m4-12h0m0 201h0m5-30h0m23 25h0m0 13h0"/>
<path stroke="#b7b7db" d="M237 1584h0m12-29h0m7 13h0m4 19h0m20-11h0m2-25h0m4 20h0m0 26h0m5-23h0m1-14h0m18-3h0m170 11h0"/>
<path stroke="#9300db" d="M256 1627h0"/>
<path stroke="#006c00" d="M197 1587h0"/>
<path stroke="#24486c" d="M191 1608h0m11 0h0"/>
<path stroke="#db0093" d="M292 1623h0m132-12h0"/>
<path stroke="#ff24ff" d="M333 1609h0m21 9h0m1 3h0m2-13h0m3 7h0m8-6h0m2 11h0m6-4h0m5-10h0m5-2h0m21 20h0m14-4h0m10 2h0m12-11h0m39 9h0m1-13h0"/>
<path stroke="#dbffb7" d="M290 1520h0m6-33h0m4 41h0"/>
<path stroke="#244848" d="M197 1603h0"/>
<path stroke="#db006c" d="M287 1613h0m24-2h0"/>
<path stroke="#93db24" d="M228 1524h0m26-1h0m3 33h0m3-51h0m5 31h0m0 17h0m2-40h0m7 17h0m5 11h0m7-18h0m3 36h0"/>
<path stroke="#2400b7" d="M201 1620h0m2 2h0m8 0h0m0 1h0m2-3h0m7 8h0m2-11h0m0 13h0m3-11h0"/>
<path stroke="#ffdb48" d="M302 1540h0m6 10h0m6-38h0m2 19h0m45 8h0m11 10h0m1-9h0m14 7h0m1-12h0m4 12h0m0 24h0m5-45h0m3 25h0m1 8h0m1 7h0m3-33h0m21 1h0m3-184h0m6 181h0m7-163h0m1 25h0m2 147h0m1 8h0m7 2h0m1-13h0m1-11h0m1 15h0m1-191h0m0 203h0m2-7h0m4 17h0m1-22h0m13-194h0m2 38h0m0 156h0"/>
<path stroke="#ff00b7" d="M343 1598h0m120 16h0m12-11h0"/>
<path stroke="#48ffff" d="M227 1547h0m0 35h0"/>
<path stroke="#930048" d="M278 1633h0m3-29h0"/>
<path stroke="#000093" d="M186 1621h0m2-8h0m3 2h0m0 8h0m8 3h0"/>
<path stroke="#244893" d="M196 1622h0"/>
<path stroke="#6c6cdb" d="M209 1608h0m25 2h0"/>
<path stroke="#ff6cff" d="M313 1589h0m3 8h0m10-13h0m8 1h0m10 45h0m6-42h0m17-11h0m0 12h0m11-5h0m2 4h0m5-2h0m12 12h0m11-13h0m3 9h0m1-4h0m4-21h0m47 30h0m15 10h0"/>
<path stroke="#002448" d="M195 1601h0"/>
<path stroke="#ffffdb" d="M477 1353h0m2-21h0"/>
<path stroke="#6c24b7" d="M261 1630h0m1-15h0m2 12h0m2 0h0m12-4h0"/>
<path stroke="#b7dbdb" d="M263 1565h0m60-101h0m5 62h0"/>
<path stroke="#009324" d="M210 1592h0"/>
<path stroke="#ff48b7" d="M326 1626h0m26-25h0m77 3h0m20-11h0"/>
<path stroke="#24ffff" d="M201 1541h0m13 31h0m4-15h0m14-2h0"/>
<path stroke="#ff93db" d="M312 1612h0m17-10h0m13 2h0m12-21h0m24 15h0m12-6h0m6-9h0m37 7h0m24 12h0m1-27h0m21 27h0"/>
<path stroke="#ffff48" d="M286 1510h0m1 22h0m10-33h0m3 15h0m5-3h0m2 20h0m1-12h0m1 29h0m5-5h0m6 2h0m3 3h0m0 5h0m1-52h0m0 53h0m2-17h0m4 30h0m4-33h0m6 7h0m5 3h0m0 11h0m1-5h0m1-12h0m1-9h0m4 22h0m4-12h0m1 40h0m15-32h0m7 21h0m3-26h0m4 20h0m1-27h0m0 16h0m4 0h0m1-4h0m5-20h0m4 19h0m1 9h0m1 10h0m3-4h0m5-16h0m3 7h0m1-4h0m2 14h0m1-19h0m0 22h0m2-20h0m2 8h0m5-3h0m2-8h0m1-5h0m4-114h0m6-28h0m1 187h0m2-34h0m0 1h0m5-16h0m2 11h0m2 15h0m1-11h0m1-10h0m0 29h0m2-190h0m2-43h0m0 3h0m0 45h0m0 151h0m0 8h0m2 1h0m1-216h0m3 23h0m8 205h0m1-6h0m5 2h0m4-4h0m2-17h0"/>
<path stroke="#249300" d="M201 1600h0m10-5h0m5 0h0m0 7h0m7-24h0m12 9h0m13 0h0"/>
<path stroke="#4800b7" d="M226 1625h0m62-15h0"/>
<path stroke="#249324" d="M201 1594h0m13-4h0m11-2h0m8 9h0m16-1h0"/>
<path stroke="#24ffdb" d="M187 1579h0m5-10h0m1-15h0m2-12h0m5-8h0m1-20h0m0 8h0m3 44h0m4-21h0m5-11h0m3 0h0m6-18h0m0 42h0m5-23h0m2 24h0m6-10h0"/>
<path stroke="#6c24ff" d="M209 1627h0"/>
<path stroke="#6c00b7" d="M240 1611h0m2 14h0m12 0h0m3 5h0m13-12h0"/>
<path stroke="#b7db24" d="M238 1574h0m29-31h0m11 5h0m5-1h0m9-31h0m37 30h0m64 4h0"/>
<path stroke="#48b7ff" d="M188 1595h0m14-33h0m0 11h0m15 3h0m0 11h0"/>
<path stroke="#ffffff" d="M367 1461h0m61-79h0m19-31h0m11 7h0m0 11h0m8 184h0m2-213h0m0 21h0m1-21h0m1 33h0m1-36h0m0 20h0m3 1h0m9 3h0m1 0h0m66-23h0"/>
<path stroke="#ff93ff" d="M311 1599h0m5-19h0m9 11h0m8-5h0m7-4h0m9 0h0m21 18h0m5 4h0m4-38h0m4 20h0m5-5h0m14 3h0m16 15h0m16-15h0m2 9h0m1-22h0m21 13h0m2-7h0m24 35h0"/>
<path stroke="#dbffff" d="M287 1514h0m6-64h0m9-34h0m2 29h0m7-24h0m1 21h0m1 59h0m15-94h0m0 35h0m4 73h0m20-50h0m20-111h0"/>
<path stroke="#b70048" d="M274 1619h0m23 8h0m8-16h0m6 20h0"/>
<path stroke="#480093" d="M193 1620h0m44 4h0"/>
<path stroke="#934800" d="M253 1593h0"/>
<path stroke="#48ffb7" d="M206 1542h0m17-7h0"/>
<path stroke="#ff00ff" d="M412 1606h0"/>
<path stroke="#b7b700" d="M446 1341h0m29 15h0"/>
<path stroke="#242493" d="M180 1612h0m4 9h0m1-1h0m10 0h0"/>
<path stroke="#9324db" d="M239 1615h0m8 4h0m16-6h0m0 14h0m0 6h0m6-22h0m5 7h0m0 12h0m1-8h0"/>
<path stroke="#6cb724" d="M255 1555h0m38-4h0"/>
<path stroke="#b7246c" d="M281 1628h0m2-12h0m10 6h0m0 7h0m18-4h0"/>
<path stroke="#4893ff" d="M189 1559h0"/>
<path stroke="#6cdb93" d="M222 1570h0m6-47h0m3 47h0m4 4h0m8-12h0m3 13h0m6-33h0m8 50h0"/>
<path stroke="#2424db" d="M212 1622h0m1-5h0m6-8h0m5 14h0m9-1h0"/>
<path stroke="#b7b724" d="M328 1489h0m101-127h0"/>
<path stroke="#b724db" d="M258 1616h0m19 5h0"/>
<path stroke="#ff4893" d="M297 1627h0"/>
<path stroke="#ffdb6c" d="M403 1562h0m28-211h0m13 45h0m15-82h0m8 30h0m0 3h0m8 20h0m28 175h0m1 2h0"/>
<path stroke="#242448" d="M190 1594h0"/>
<path stroke="#b7ffb7" d="M282 1511h0m5 9h0m9-11h0"/>
<path stroke="#b7ffdb" d="M273 1504h0m5-6h0m3 0h0m0 14h0m11 5h0"/>
<path stroke="#db4848" d="M281 1596h0m3 6h0"/>
<path stroke="#93db48" d="M266 1553h0m5-32h0m12 7h0m1 32h0"/>
<path stroke="#4800db" d="M193 1624h0m4 7h0m8-9h0m4-3h0m16 1h0"/>
<path stroke="#b7dbb7" d="M281 1493h0m5 30h0m4-22h0m2 18h0m2-10h0m15-37h0"/>
<path stroke="#6cffff" d="M204 1539h0m5 30h0"/>
<path stroke="#0024db" d="M209 1623h0"/>
<path stroke="#b7db48" d="M222 1563h0m44-40h0m3-4h0m188 33h0"/>
<path stroke="#246c6c" d="M190 1611h0m8-10h0"/>
<path stroke="#6cdbff" d="M193 1553h0m7 16h0m4 0h0m3 24h0"/>
<path stroke="#00dbb7" d="M207 1561h0m5-19h0"/>
<path stroke="#6cff93" d="M209 1559h0m45 12h0"/>
<path stroke="#dbdb00" d="M332 1539h0m98 12h0"/>
<path stroke="#24b7ff" d="M202 1574h0m17-4h0"/>
<path stroke="#0024b7" d="M199 1618h0"/>
<path stroke="#2400db" d="M193 1624h0m4 1h0m23-6h0"/>
<path stroke="#246c00" d="M196 1589h0m4 8h0m7-7h0m9-4h0m8 14h0m9-5h0m12-7h0"/>
<path stroke="#ff6cb7" d="M326 1593h0m6 12h0m72-32h0m52 12h0m13-1h0"/>
<path stroke="#ff48db" d="M313 1598h0m40 17h0m7 1h0m1-42h0m3 34h0m11 9h0m5-37h0m15 3h0m2 31h0m0 2h0m1 2h0m12-28h0m20 18h0m6-14h0m5 9h0m5 9h0m5-13h0m18 12h0m5-26h0"/>
<path stroke="#93db00" d="M253 1531h0m19-11h0m164-147h0"/>
<path stroke="#ff2493" d="M287 1610h0m9 5h0"/>
<path stroke="#48dbdb" d="M208 1576h0m5-25h0m2 0h0m8-19h0m7-18h0"/>
<path stroke="#dbb7b7" d="M361 1577h0"/>
<path stroke="#9324b7" d="M262 1611h0"/>
<path stroke="#6c00db" d="M226 1616h0m25-12h0"/>
<path stroke="#4893db" d="M184 1572h0m32 8h0m5-11h0"/>
<path stroke="#24dbb7" d="M189 1547h0m4 2h0m6 9h0m3-8h0m9 4h0m3 16h0m6-26h0m1-2h0m1 15h0m7 3h0m3-15h0"/>
<path stroke="#b748ff" d="M242 1623h0m14-6h0"/>
<path stroke="#240093" d="M189 1630h0m3-4h0m31-8h0m35 3h0"/>
<path stroke="#dbdb24" d="M288 1491h0m13 2h0m7 68h0m2 0h0m11 6h0m1-13h0m1-11h0m22 11h0m13-3h0m1-23h0m16 5h0m8-7h0m25 22h0m3-12h0m2 30h0m2-44h0m0 45h0m3-21h0m13 20h0m2-18h0m6-5h0m0 10h0m1-7h0m11-207h0m0 220h0m3-4h0m5 8h0m10-31h0m7-3h0m0 7h0m5 17h0"/>
<path stroke="#ff93b7" d="M492 1584h0"/>
<path stroke="#6c00b7" d="M274 1605h0m3 16h0"/>
<path stroke="#00dbdb" d="M207 1564h0m13 12h0"/>
<path stroke="#6c6c00" d="M256 1582h0m4 15h0m7-2h0m5 2h0m3 2h0"/>
<path stroke="#24b7db" d="M197 1562h0m13 10h0"/>
<path stroke="#6cb7ff" d="M195 1573h0m11-1h0m9 8h0m10-7h0"/>
<path stroke="#2400b7" d="M204 1618h0m16 5h0m1-9h0m3-2h0m13 4h0m8 11h0"/>
<path stroke="#939324" d="M241 1594h0m4 6h0m12-7h0m2 7h0m4-8h0m2 8h0m2-1h0m4-5h0"/>
<path stroke="#ffb7ff" d="M344 1558h0m24 18h0m6-25h0m3 27h0m2 0h0m10-5h0m6 4h0m17 4h0m2-24h0"/>
<path stroke="#6cffff" d="M195 1545h0m33 17h0"/>
<path stroke="#4893ff" d="M182 1575h0"/>
<path stroke="#ffdb93" d="M471 1347h0"/>
<path stroke="#ff48db" d="M310 1631h0m1-21h0m2 11h0m22 2h0m4-17h0m7-4h0m2 11h0m6 7h0m6-12h0m9 7h0m5 0h0m6-49h0m6 53h0m8 2h0m4-21h0m3-3h0m17-1h0m6 14h0m4-2h0m1-3h0m1-8h0m5-3h0m3-5h0m17 32h0m10-28h0m0 22h0m8-22h0"/>
<path stroke="#4824ff" d="M192 1624h0m2-7h0"/>
<path stroke="#6c48b7" d="M222 1621h0"/>
<path stroke="#6c9300" d="M269 1592h0"/>
<path stroke="#6c48db" d="M232 1603h0m8 9h0m8-3h0m1-14h0m0 19h0m15-13h0m8-5h0"/>
<path stroke="#6c00db" d="M238 1613h0m7 12h0m6 2h0m1-2h0m1-14h0m16 5h0m9 10h0m18-7h0"/>
<path stroke="#002493" d="M188 1609h0m0 21h0"/>
<path stroke="#b7ff6c" d="M240 1546h0m10 45h0m16-21h0m3-42h0"/>
<path stroke="#b72493" d="M292 1632h0"/>
<path stroke="#dbb748" d="M451 1375h0m9-4h0"/>
<path stroke="#dbb700" d="M456 1557h0"/>
<path stroke="#b7ff93" d="M260 1564h0"/>
<path stroke="#00dbb7" d="M242 1570h0"/>
<path stroke="#6cff24" d="M246 1536h0m21-8h0"/>
<path stroke="#b70024" d="M280 1624h0m16-3h0"/>
<path stroke="#48dbff" d="M189 1576h0m11 1h0m4-3h0m2-1h0"/>
<path stroke="#6cb76c" d="M233 1552h0"/>
<path stroke="#6cdbb7" d="M240 1573h0m2 1h0"/>
<path stroke="#24246c" d="M192 1614h0"/>
<path stroke="#db486c" d="M276 1620h0m0 4h0m18-4h0"/>
<path stroke="#4824b7" d="M207 1614h0m0 5h0m14 8h0m5-1h0m3-8h0m1-7h0m8-3h0m35 7h0"/>
<path stroke="#ffff48" d="M275 1519h0m16 18h0m1-38h0m4 30h0m2 8h0m2-7h0m0 1h0m4 19h0m3-30h0m0 33h0m7-23h0m0 33h0m3-55h0m1 51h0m1-37h0m1 17h0m2 44h0m1-25h0m5-4h0m0 1h0m2-19h0m0 2h0m1 30h0m1-61h0m1 37h0m7 21h0m2-33h0m7 25h0m1 7h0m5-37h0m3 15h0m0 18h0m1-17h0m10 3h0m2 19h0m1 16h0m1-32h0m4-12h0m4-14h0m2 29h0m1-16h0m3-17h0m4 43h0m1-29h0m0 12h0m10 4h0m6 10h0m1-27h0m0 18h0m2 7h0m4-15h0m3-9h0m2 4h0m1-197h0m0 194h0m0 28h0m2-24h0m0 17h0m3-6h0m1-1h0m1 18h0m1-24h0m2 4h0m6-125h0m1-34h0m0 25h0m0 123h0m12-198h0m1 42h0m1 153h0m1-168h0m1 2h0m2-34h0m0 17h0m2 187h0m0 6h0m1-2h0m1-212h0m2 16h0m2-9h0m0 43h0m1 156h0m2-3h0m0 17h0m1 9h0m3-199h0m1 165h0m1-161h0m0 194h0m1-18h0m4-154h0m4-1h0m0 161h0m3-166h0"/>
<path stroke="#48db6c" d="M236 1572h0"/>
<path stroke="#00486c" d="M183 1606h0m8 3h0"/>
<path stroke="#b7246c" d="M295 1628h0"/>
<path stroke="#db93ff" d="M458 1597h0"/>
<path stroke="#dbffdb" d="M288 1531h0m1-66h0m0 49h0m9-30h0m0 0h0m2-44h0m4 62h0m1-61h0m6 27h0m6 38h0m9-34h0m0 11h0m5 16h0m5-43h0"/>
<path stroke="#9393ff" d="M242 1584h0m22 2h0m2-14h0"/>
<path stroke="#6cb724" d="M254 1549h0"/>
<path stroke="#93b7ff" d="M265 1576h0m6-2h0m22 11h0"/>
<path stroke="#db6cb7" d="M348 1610h0m28-2h0m54-4h0m4-41h0m9 31h0"/>
<path stroke="#ff2493" d="M287 1611h0"/>
<path stroke="#b7ff24" d="M244 1536h0m20 8h0"/>
<path stroke="#ff93ff" d="M308 1584h0m18 15h0m9 7h0m16-11h0m0 7h0m18-24h0m56 16h0m13-13h0m2 41h0m11-35h0m3 15h0m12-22h0m2 11h0m10 8h0m2 0h0m4-14h0m1 32h0"/>
<path stroke="#2424db" d="M204 1615h0"/>
<path stroke="#b724db" d="M230 1618h0m25 1h0m4 0h0m2 6h0"/>
<path stroke="#dbb7ff" d="M254 1598h0m2-60h0m6 43h0m17-21h0m8-11h0m0 12h0m1 19h0m1-7h0m0 7h0m2-5h0m4-23h0m2 24h0m4 0h0m4-12h0m1 6h0m77 15h0m75-22h0"/>
<path stroke="#00006c" d="M179 1613h0m4 8h0m3 7h0m5-1h0m1 0h0m1-6h0m5 1h0"/>
<path stroke="#2493db" d="M198 1568h0"/>
<path stroke="#00246c" d="M186 1616h0m3-9h0"/>
<path stroke="#9300b7" d="M241 1629h0m14-10h0m2-5h0"/>
<path stroke="#4800b7" d="M210 1622h0m46 2h0"/>
<path stroke="#b72448" d="M294 1609h0"/>
<path stroke="#93ff48" d="M233 1532h0m3 0h0m10 33h0m5-49h0m2 1h0m1 1h0m0 33h0m1-27h0m1-12h0m0 41h0m4-12h0m2-8h0m26 51h0m3-64h0m4 6h0"/>
<path stroke="#0024b7" d="M187 1612h0"/>
<path stroke="#6cff93" d="M246 1552h0"/>
<path stroke="#db24db" d="M316 1610h0m13 7h0m5-11h0m14 17h0m33-4h0m6-8h0m8-16h0m8 9h0m3 8h0m30 12h0m17-13h0m3 11h0m22 1h0m4-14h0"/>
<path stroke="#db246c" d="M269 1629h0m11-7h0m2-7h0m12 3h0m7 0h0m1 7h0"/>
<path stroke="#000093" d="M179 1614h0m7 3h0m2 13h0m1-6h0m6-6h0m3 4h0m4-4h0m20 9h0"/>
<path stroke="#dbff6c" d="M247 1493h0m16 63h0m14-44h0m7-7h0m142-167h0m16 30h0m11-15h0m12 6h0"/>
<path stroke="#b79324" d="M263 1591h0"/>
<path stroke="#246c00" d="M189 1589h0m2-1h0m5-7h0m14 7h0m25 3h0m0 12h0m6-6h0m4 0h0m5-6h0m1 0h0m7 2h0"/>
<path stroke="#b7db24" d="M250 1551h0m29-38h0m60 39h0"/>
<path stroke="#db006c" d="M288 1618h0m1 2h0m6-6h0m11-1h0"/>
<path stroke="#db4824" d="M280 1612h0m1-1h0m2-4h0"/>
<path stroke="#9348db" d="M240 1613h0m16 13h0m2-1h0"/>
<path stroke="#ffff93" d="M431 1333h0m6 28h0m2-10h0m9 26h0m8-27h0m2 26h0m9-19h0m2 11h0m6 7h0m19 170h0"/>
<path stroke="#ffdb00" d="M454 1555h0"/>
<path stroke="#dbdbdb" d="M248 1550h0m38 0h0m1 29h0m7-8h0m11-129h0m0 119h0m2 8h0m114-2h0"/>
<path stroke="#b7b724" d="M476 1353h0"/>
<path stroke="#6cdb00" d="M268 1544h0"/>
<path stroke="#ff6cb7" d="M328 1587h0m4-8h0m31 32h0m14-18h0m2-26h0"/>
<path stroke="#9300db" d="M267 1627h0"/>
<path stroke="#249300" d="M182 1592h0m27 3h0m1-5h0m5 4h0m4-6h0m6 5h0m6 0h0m6 3h0"/>
<path stroke="#db2424" d="M321 1622h0"/>
<path stroke="#db48db" d="M342 1595h0m0 14h0m36-23h0m10 13h0m6-10h0m7 24h0m27-25h0m21 16h0m33 1h0"/>
<path stroke="#9324b7" d="M247 1613h0m3 12h0m23-2h0m15-1h0"/>
<path stroke="#24b724" d="M231 1598h0"/>
<path stroke="#000048" d="M189 1613h0m0 8h0"/>
<path stroke="#db48b7" d="M325 1589h0m37 14h0m8 7h0m80-26h0"/>
<path stroke="#6cffb7" d="M237 1566h0m9-40h0m4 24h0"/>
<path stroke="#93db48" d="M260 1538h0m8 14h0m2-4h0m4-11h0"/>
<path stroke="#dbffff" d="M276 1581h0m25-81h0m7-49h0m0 2h0m2-13h0m1 44h0m2-71h0m8 17h0m3 74h0m4-39h0m42-109h0m1-4h0m3 2h0m2 1h0"/>
<path stroke="#b7ff48" d="M228 1531h0m18 0h0m7 3h0m1 1h0m2 15h0m1-30h0m2 4h0m3 79h0m7-30h0m1-60h0m5-11h0m0 25h0m3 44h0m2-30h0m0 16h0m1 0h0m3-26h0m4-26h0m178-150h0"/>
<path stroke="#93b724" d="M263 1520h0m31 46h0"/>
<path stroke="#93db24" d="M243 1538h0m4 29h0m4-58h0m1 40h0m2 5h0m2 29h0m6-57h0m0 30h0m1-31h0m7 50h0m1-71h0m12 46h0"/>
<path stroke="#6c24db" d="M206 1625h0m7 0h0m27-4h0m12 7h0m7-2h0m12 4h0"/>
<path stroke="#0000b7" d="M182 1624h0m34-4h0m9 2h0m0 8h0m3-2h0"/>
<path stroke="#6c24b7" d="M207 1623h0m42 1h0m12 5h0m8-12h0m10-6h0"/>
<path stroke="#00b7b7" d="M222 1522h0"/>
<path stroke="#936c24" d="M264 1596h0"/>
<path stroke="#6cb700" d="M262 1513h0"/>
<path stroke="#ffdb6c" d="M345 1514h0m83 39h0m17-205h0m29 10h0m21 187h0m11-2h0"/>
<path stroke="#b7ffff" d="M374 1360h0"/>
<path stroke="#48ffff" d="M192 1585h0m12-30h0"/>
<path stroke="#b7dbdb" d="M285 1502h0m4-60h0m7 161h0m1-36h0m2 11h0m12 6h0"/>
<path stroke="#244848" d="M200 1602h0"/>
<path stroke="#93db93" d="M225 1569h0m0 1h0m2-22h0"/>
<path stroke="#24ffb7" d="M215 1549h0"/>
<path stroke="#6cdb48" d="M252 1544h0m1-1h0"/>
<path stroke="#48b7ff" d="M189 1579h0m0 7h0m3-17h0m7 5h0m1 14h0m1-7h0m8-5h0m0 1h0m0 3h0m0 4h0m7 1h0m10-11h0"/>
<path stroke="#dbb7db" d="M252 1580h0m59-18h0m9 11h0m2-7h0m3 9h0m6 9h0m6-2h0m6-20h0m15 18h0m9-16h0m2 16h0m60 2h0m11-5h0m12-8h0m0 7h0"/>
<path stroke="#ff6c48" d="M289 1591h0"/>
<path stroke="#b724ff" d="M262 1630h0"/>
<path stroke="#dbff48" d="M262 1548h0m13-30h0m8 52h0m15-49h0m2-16h0m3 28h0m7-29h0m4 26h0m2-9h0m1 15h0m1-9h0m2 29h0m2-24h0m1-8h0m3 24h0m6-25h0m11 37h0m21-24h0m19 16h0m5-4h0m11 11h0m1-38h0m18 58h0m2-52h0m21-169h0m1 205h0m4-23h0m12-184h0m19 16h0m1-32h0m2 8h0"/>
<path stroke="#486c93" d="M201 1614h0"/>
<path stroke="#ffdbff" d="M253 1553h0m27 40h0m3-8h0m3-20h0m1-4h0m29 15h0m10-3h0m5 1h0m2 3h0m13-4h0m4-7h0m5 10h0m17-8h0m13-12h0m9 34h0m2-24h0m3 0h0m13 10h0m4 0h0m4 7h0m2-13h0m2-4h0m7 8h0m6-16h0m3-6h0m0 23h0m12-15h0m3 17h0m9-11h0m5 2h0m10 3h0m3-3h0"/>
<path stroke="#ff93db" d="M323 1604h0m37-14h0m14-18h0m23 12h0m5-18h0m20 17h0m4 31h0m5-15h0m26-15h0m15 1h0m1 28h0"/>
<path stroke="#486cdb" d="M264 1618h0"/>
<path stroke="#dbdbb7" d="M291 1511h0m13-43h0"/>
<path stroke="#dbdbff" d="M246 1580h0m16-15h0m3-23h0m3 22h0m1-20h0m1 16h0m1 7h0m1-5h0m1-4h0m2 9h0m3 6h0m1-6h0m0 11h0m2-23h0m0 24h0m0 1h0m2-6h0m0 9h0m2-15h0m1 6h0m2-23h0m0 35h0m1-39h0m2 40h0m6-16h0m2-18h0m1-9h0m0 18h0m0 19h0m1-19h0m3 8h0m0 21h0m14-47h0m1 40h0m123-10h0"/>
<path stroke="#b7b748" d="M444 1403h0"/>
<path stroke="#2448b7" d="M196 1613h0"/>
<path stroke="#9324db" d="M245 1628h0m3-3h0m15-11h0m1 14h0m8-10h0m4 3h0m0 9h0m19-16h0"/>
<path stroke="#b748db" d="M277 1616h0"/>
<path stroke="#db2448" d="M277 1604h0m16 25h0m7-3h0"/>
<path stroke="#4848db" d="M223 1620h0m8-7h0m1 3h0m6-13h0m4 16h0m11 4h0m28-8h0"/>
<path stroke="#246c6c" d="M190 1599h0m4-2h0"/>
<path stroke="#ff00b7" d="M312 1600h0m7 7h0m2 6h0m1-10h0m6 13h0m4 7h0m6-12h0m2-7h0m8 3h0m4 15h0m18-8h0m14 8h0m8-14h0m23 5h0m4 7h0m3-1h0m12 2h0m35-8h0"/>
<path stroke="#6c48ff" d="M236 1615h0"/>
<path stroke="#6cdb24" d="M240 1559h0m21-61h0m5 44h0m18-22h0"/>
<path stroke="#93ff24" d="M242 1543h0m8 33h0m9-19h0m1-9h0m0 21h0m5-40h0m4 33h0m1-18h0m6-16h0"/>
<path stroke="#6cdb93" d="M214 1585h0m8-7h0m2 3h0m2 4h0m7-24h0m3-32h0m4 29h0m6-6h0m0 6h0m2 7h0m1-20h0m1 7h0m7 34h0m12-34h0"/>
<path stroke="#db24b7" d="M315 1616h0m42 2h0"/>
<path stroke="#dbff24" d="M309 1542h0m0 4h0m2-9h0m5-21h0m13-8h0m7 43h0m2-13h0m8 13h0m34-23h0m28 45h0m10-28h0m2 25h0"/>
<path stroke="#dbdb00" d="M369 1581h0m97-44h0m16-11h0"/>
<path stroke="#93db00" d="M259 1564h0m16-13h0"/>
<path stroke="#ff6cdb" d="M311 1595h0m4-8h0m2 6h0m0 17h0m1-21h0m0 13h0m6-2h0m11-6h0m3-3h0m1-2h0m3 4h0m4-10h0m0 16h0m1-14h0m0 14h0m2-10h0m2-3h0m0 3h0m5-27h0m1 47h0m8 11h0m5-30h0m4-16h0m0 8h0m1 20h0m1-13h0m22 15h0m1 13h0m3-30h0m0 7h0m2 5h0m5 5h0m3-12h0m2 12h0m6-8h0m0 3h0m13-1h0m9-4h0m4 13h0m5-11h0m5-8h0m3 4h0m2-3h0m8 11h0m1-20h0m12 1h0m2 3h0"/>
<path stroke="#b7b7ff" d="M255 1601h0m2-17h0m1-16h0m0 14h0m4 9h0m2 1h0m1-28h0m0 15h0m0 18h0m3-15h0m1 8h0m2 2h0m4-15h0m2 16h0m3-53h0m2 8h0m0 26h0m6 8h0m8-20h0"/>
<path stroke="#9393db" d="M220 1579h0m57-3h0"/>
<path stroke="#ff24ff" d="M324 1622h0m41-1h0m4-6h0m2 4h0m67 8h0m1-18h0m7 10h0m8-9h0m9 0h0m8 7h0m8-4h0m3 1h0"/>
<path stroke="#b7ffdb" d="M275 1495h0m1-7h0m16 9h0m0 2h0m12 36h0m25 7h0"/>
<path stroke="#b793ff" d="M271 1606h0"/>
<path stroke="#6c6cdb" d="M223 1613h0m17-12h0m6-5h0"/>
<path stroke="#24ffdb" d="M198 1543h0m2 30h0m2-20h0m4-24h0m1-26h0m8 34h0m4-22h0m4 45h0"/>
<path stroke="#db6cdb" d="M329 1599h0m4-11h0m3 18h0m22-6h0m48 2h0m6-15h0m8 20h0m24-9h0m2-13h0"/>
<path stroke="#ffff24" d="M296 1517h0m21-2h0m1 43h0m22-13h0m16 23h0m7-34h0m31 1h0m2-8h0m4 14h0m17 21h0m2-31h0m20-118h0m13 140h0m5-192h0m1 208h0m20-38h0m1 7h0m0 28h0m2-21h0m1 7h0"/>
<path stroke="#db6c48" d="M286 1598h0"/>
<path stroke="#ff00db" d="M311 1627h0m2-17h0m6 13h0m7-14h0m54 0h0m16-1h0m0 15h0m23-2h0m13-12h0m6 5h0m15-1h0m2-12h0m0 9h0m18 4h0"/>
<path stroke="#6cdbff" d="M200 1566h0m2 9h0m10-10h0m4 29h0m5-27h0"/>
<path stroke="#48dbdb" d="M197 1562h0m1-6h0m9-2h0m3-24h0m1 20h0m4 38h0"/>
<path stroke="#b7b7db" d="M243 1580h0m12-1h0m0 7h0m7-35h0m4 19h0m7-9h0m3 38h0m6-50h0m0 22h0m8-19h0m3 25h0m2-7h0m20-20h0m9 8h0"/>
<path stroke="#48dbb7" d="M196 1538h0m11 8h0m0 11h0m12 0h0m10-2h0"/>
<path stroke="#db48ff" d="M337 1608h0"/>
<path stroke="#48ffdb" d="M195 1545h0m4 12h0m6-1h0m1 1h0m4-31h0m0 3h0m4 42h0m8-20h0m0 1h0m3-15h0m0 20h0m3-10h0m1-30h0m1 46h0m0 5h0"/>
<path stroke="#489300" d="M183 1595h0"/>
<path stroke="#489324" d="M200 1585h0m8 6h0m3 1h0m7-4h0m1 5h0m2 2h0m10-13h0"/>
<path stroke="#004848" d="M191 1611h0"/>
<path stroke="#246c48" d="M184 1603h0"/>
<path stroke="#93ff93" d="M213 1587h0m15 3h0m14-21h0"/>
<path stroke="#ffff6c" d="M287 1543h0m11-25h0m24 30h0m24-30h0m38 34h0m30-9h0m5-205h0m4 220h0m7-192h0m1-32h0m2-2h0m8 28h0m2-9h0m4-31h0m1 27h0m3-3h0m0 26h0m0 1h0m1 0h0m1-7h0m1-33h0m0 23h0m3 194h0m2-227h0m0 21h0m0 25h0m1-22h0m1 43h0m4-38h0m2 6h0m0 17h0m3-24h0m1-2h0m7-11h0m4-4h0m4 225h0m11-7h0m11-5h0m1-8h0"/>
<path stroke="#b74824" d="M276 1618h0m8-14h0m3-8h0m1-3h0"/>
<path stroke="#2400db" d="M194 1621h0m6-3h0m5-8h0m22 4h0m6 3h0"/>
<path stroke="#b793db" d="M267 1577h0m33-28h0"/>
<path stroke="#b76cff" d="M268 1618h0"/>
<path stroke="#ffdbdb" d="M314 1567h0m31 0h0m19-1h0m17 37h0m50-34h0m34 18h0m14-30h0m3 15h0m3 1h0"/>
<path stroke="#ff48ff" d="M310 1602h0m17 5h0m14 15h0m9-5h0m33-16h0m4 24h0m19-9h0m29 1h0m7-23h0m13 31h0m14-16h0m1 9h0m15-20h0"/>
<path stroke="#ff24db" d="M307 1627h0m1-24h0m0 16h0m2-1h0m3 0h0m1 12h0m3-13h0m1-9h0m2 22h0m6-25h0m2 26h0m1-16h0m1-3h0m2 1h0m1 2h0m4 9h0m5-20h0m1 2h0m4 19h0m2-6h0m2-4h0m6 0h0m4 1h0m1-10h0m5 7h0m3-10h0m1 15h0m1-16h0m0 13h0m3-7h0m3-7h0m1 16h0m3-4h0m3 8h0m0 0h0m6-9h0m2-5h0m1-12h0m0 16h0m0 2h0m1 8h0m2-8h0m1 12h0m2-16h0m17-7h0m15 18h0m1-17h0m5-9h0m7 11h0m4 4h0m1 17h0m5-11h0m1-7h0m7-1h0m0 14h0m3 0h0m2-18h0m5 5h0m1 18h0m3-2h0m6-21h0m0 17h0"/>
<path stroke="#9348ff" d="M231 1614h0m38 0h0m11-1h0"/>
<path stroke="#6cff48" d="M242 1508h0"/>
<path stroke="#b7dbff" d="M250 1588h0m15 0h0m1-19h0m6 9h0m7 1h0m7 29h0m1-31h0m5-16h0m5 15h0m8-13h0m2-12h0"/>
<path stroke="#6cdb6c" d="M246 1554h0"/>
<path stroke="#24b7ff" d="M208 1570h0m2-1h0m2 11h0"/>
<path stroke="#4848b7" d="M254 1619h0"/>
<path stroke="#dbb724" d="M296 1527h0m68 27h0m108 10h0"/>
<path stroke="#24dbdb" d="M196 1518h0m1 32h0m2-1h0m5 9h0m0 8h0m0 5h0m2-13h0m0 10h0m5-29h0m0 18h0m0 8h0m1-14h0m2-16h0m6 21h0m1 7h0m6-26h0m6 30h0m3-15h0"/>
<path stroke="#b7dbb7" d="M283 1527h0"/>
<path stroke="#db00b7" d="M315 1612h0m4-1h0m3 22h0m14-24h0m21 13h0m14-24h0m10 13h0m10-3h0m39 17h0m2-12h0m7-4h0m9 5h0m15-6h0m11 17h0"/>
<path stroke="#00b7db" d="M209 1533h0"/>
<path stroke="#b7ffb7" d="M280 1520h0m16 11h0m9 3h0m5-30h0"/>
<path stroke="#4800db" d="M191 1620h0m28-5h0m18 5h0"/>
<path stroke="#ffffff" d="M336 1453h0m1 53h0m12 80h0m6-131h0m6 124h0m68-133h0m7-74h0m11 6h0m1-28h0m0 81h0m3-96h0m2 22h0m9 15h0m2-12h0m1-40h0m0 41h0m2-4h0m3-33h0m0 48h0m4-5h0m1-25h0m2 11h0m0 11h0m1-10h0m1-1h0m1 0h0m3 0h0m56 7h0"/>
<path stroke="#db00db" d="M307 1610h0m5 12h0m86-13h0m34-10h0"/>
<path stroke="#002448" d="M195 1602h0"/>
<path stroke="#249324" d="M197 1590h0m6-3h0m8 3h0m5 4h0m1-7h0m6 1h0m2 2h0m1 8h0m2-12h0m0 1h0m3 11h0"/>
<path stroke="#480093" d="M262 1622h0m19-6h0"/>
<path stroke="#ffdb48" d="M313 1525h0m9-7h0m8 44h0m49-5h0m25-16h0m22 5h0m3 7h0m2-12h0m7-178h0m0 211h0m5-15h0m9-208h0m20 225h0m1-56h0m1 24h0m4-17h0m1 13h0"/>
<path stroke="#2424b7" d="M194 1623h0m9-11h0m13 19h0m7-11h0"/>
<path stroke="#db6cff" d="M257 1595h0m67 19h0m125-17h0m19-7h0"/>
<path stroke="#ffdb24" d="M305 1543h0m3 11h0m7-37h0m1 21h0m35 3h0m45 12h0m7-11h0m7 13h0m5-5h0m13-16h0m4 29h0m2-38h0m3-127h0m3 143h0m27 8h0m9-26h0m2-154h0m1 182h0"/>
<path stroke="#db4893" d="M265 1627h0"/>
<path stroke="#93ffb7" d="M234 1557h0m6 12h0m0 6h0m1 3h0m13 11h0m9-9h0"/>
<path stroke="#dbdb48" d="M290 1542h0m16-7h0m6-12h0m15 11h0m39-6h0m32 13h0m9-6h0m7-7h0m25-207h0m5 50h0m9 2h0m6-14h0m0 201h0"/>
<path stroke="#936c00" d="M250 1593h0m11 4h0"/>
<path stroke="#93b7db" d="M275 1567h0"/>
<path stroke="#b7006c" d="M296 1626h0"/>
<path stroke="#24006c" d="M187 1624h0"/>
<path stroke="#b70048" d="M284 1625h0m14-4h0m8 5h0m2 6h0m2-7h0m5-22h0"/>
<path stroke="#93dbb7" d="M213 1551h0m20 6h0m7-22h0m5 51h0m7-34h0m41-65h0"/>
<path stroke="#dbdb6c" d="M432 1324h0m61 225h0m2-6h0m0 1h0"/>
<path stroke="#24486c" d="M182 1594h0m8 17h0m7-5h0"/>
<path stroke="#ff6cff" d="M336 1581h0m4 26h0m8-28h0m1 23h0m4-15h0m21-15h0m11 12h0m0 18h0m17-3h0m18-3h0m4-1h0m3-8h0m8-6h0m9 8h0m27 13h0m1-24h0m7 16h0m4 2h0"/>
<path stroke="#ff00ff" d="M382 1619h0"/>
<path stroke="#9324ff" d="M236 1613h0m50-2h0"/>
<path stroke="#b7db48" d="M236 1561h0m1-25h0m14 13h0m12-23h0m0 48h0m2-67h0m0 40h0m3 22h0m6-3h0m173-194h0"/>
<path stroke="#242493" d="M188 1610h0m0 1h0m3 19h0m1-10h0m1 3h0"/>
<path stroke="#ffb7db" d="M334 1583h0m7 8h0m16-12h0m65 9h0m5-26h0m12 10h0m1 5h0m4 5h0m14-16h0m18 12h0m2-13h0"/>
<path stroke="#48b7db" d="M193 1582h0m2 2h0m19-26h0m0 11h0"/>
<path stroke="#ff24b7" d="M314 1608h0m2-4h0m21 2h0m2-3h0m3 5h0m1 9h0m3 10h0m38-19h0m6-3h0m13-1h0m4 15h0m0 1h0m8 0h0m25-12h0m11 1h0m5 5h0m19-9h0"/>
<path stroke="#48b76c" d="M231 1577h0m10-27h0"/>
<path stroke="#4824db" d="M196 1630h0m9 3h0m2-3h0m1-5h0m1-8h0m0 4h0m18-3h0m1 3h0m3-1h0m1 3h0m9-1h0"/>
<path stroke="#930024" d="M293 1616h0"/>
<path stroke="#b76c24" d="M282 1611h0"/>
<path stroke="#dbffb7" d="M285 1513h0m29-23h0"/>
<line x1="160.8" y1="1543.6" x2="389.4" y2="1291.7" stroke="#000" stroke-width="3.2" stroke-linecap="butt"/>
</g></g>
<g id="scc">
<rect x="761.0" y="1291.7" width="408.0" height="359.0" fill="#8c8c8c"/>
<path d="M797.3,1291.7V1650.7M875.1,1291.7V1650.7M952.8,1291.7V1650.7M1030.5,1291.7V1650.7M1108.6,1291.7V1650.7M761.0,1597H1169.0M761.0,1521.7H1169.0M761.0,1446.5H1169.0M761.0,1371.2H1169.0M761.0,1296H1169.0" stroke="#b4b4b4" stroke-width="2" fill="none"/>
<path d="M836.2,1291.7V1650.7M914,1291.7V1650.7M991.6,1291.7V1650.7M1069.5,1291.7V1650.7M1147.7,1291.7V1650.7M761.0,1634.7H1169.0M761.0,1559.2H1169.0M761.0,1484.1H1169.0M761.0,1408.9H1169.0M761.0,1333.4H1169.0" stroke="#b8b8b8" stroke-width="4" fill="none"/>
<path d="M836.2,1650.7v9.5M914,1650.7v9.5M991.6,1650.7v9.5M1069.5,1650.7v9.5M1147.7,1650.7v9.5M761.0,1634.7h-9.5M761.0,1559.2h-9.5M761.0,1484.1h-9.5M761.0,1408.9h-9.5M761.0,1333.4h-9.5" stroke="#333" stroke-width="3.8" fill="none"/>
<text x="836.2" y="1698.3" font-size="33" fill="#4d4d4d" text-anchor="middle" textLength="70" lengthAdjust="spacingAndGlyphs">0.02</text>
<text x="914" y="1698.3" font-size="33" fill="#4d4d4d" text-anchor="middle" textLength="70" lengthAdjust="spacingAndGlyphs">0.03</text>
<text x="991.6" y="1698.3" font-size="33" fill="#4d4d4d" text-anchor="middle" textLength="70" lengthAdjust="spacingAndGlyphs">0.04</text>
<text x="1069.5" y="1698.3" font-size="33" fill="#4d4d4d" text-anchor="middle" textLength="70" lengthAdjust="spacingAndGlyphs">0.05</text>
<text x="1147.7" y="1698.3" font-size="33" fill="#4d4d4d" text-anchor="middle" textLength="70" lengthAdjust="spacingAndGlyphs">0.06</text>
<text x="738.5" y="1646.7" font-size="33" fill="#4d4d4d" text-anchor="end" textLength="70" lengthAdjust="spacingAndGlyphs">0.00</text>
<text x="738.5" y="1571.2" font-size="33" fill="#4d4d4d" text-anchor="end" textLength="70" lengthAdjust="spacingAndGlyphs">0.01</text>
<text x="738.5" y="1496.1" font-size="33" fill="#4d4d4d" text-anchor="end" textLength="70" lengthAdjust="spacingAndGlyphs">0.02</text>
<text x="738.5" y="1420.9" font-size="33" fill="#4d4d4d" text-anchor="end" textLength="70" lengthAdjust="spacingAndGlyphs">0.03</text>
<text x="738.5" y="1345.4" font-size="33" fill="#4d4d4d" text-anchor="end" textLength="70" lengthAdjust="spacingAndGlyphs">0.04</text>
<text x="965.0" y="1752" font-size="42.6" text-anchor="middle" textLength="236.4" lengthAdjust="spacingAndGlyphs">Local offset</text>
<text transform="translate(650.0,1471.2) rotate(-90)" font-size="42.6" text-anchor="middle" textLength="298" lengthAdjust="spacingAndGlyphs">Reverse offset</text>
<clipPath id="cpc"><rect x="761.0" y="1291.7" width="408.0" height="359.0"/></clipPath>
<g clip-path="url(#cpc)" fill="none" stroke-linecap="round" stroke-width="6.8">
<path stroke="#ffb7b7" d="M925 1586h0m25-8h0m17-11h0m6 22h0m7-9h0m0 6h0m3-1h0m31 6h0m20-3h0m1-17h0m15-13h0m3 17h0m5 1h0m2 5h0m1-11h0m4 0h0m1 3h0m0 3h0m1 11h0m11-18h0m1 4h0m3-5h0"/>
<path stroke="#489324" d="M799 1603h0m14 6h0m7-3h0m6 18h0m3-31h0m18 26h0m2 0h0"/>
<path stroke="#db6cdb" d="M916 1546h0m21-23h0m37 16h0m14-42h0m0 24h0m2-25h0m8 77h0m24-68h0m12-32h0m0 12h0m24 11h0m18-6h0m4-4h0m5 34h0"/>
<path stroke="#b724b7" d="M1084 1513h0"/>
<path stroke="#b7db24" d="M1062 1605h0"/>
<path stroke="#db9393" d="M959 1562h0m1 20h0m1 15h0m55-34h0m13 30h0m4-38h0m1 11h0m50 16h0"/>
<path stroke="#93dbdb" d="M884 1470h0m5 86h0m5-72h0m3 85h0m1-90h0m0 66h0m5-76h0m11 11h0"/>
<path stroke="#48dbff" d="M819 1552h0m11-3h0m3 5h0"/>
<path stroke="#6cffff" d="M823 1551h0m9 4h0m1-11h0"/>
<path stroke="#004800" d="M785 1597h0m5 23h0m3 3h0m1-24h0m5 10h0"/>
<path stroke="#b748db" d="M953 1567h0"/>
<path stroke="#db48db" d="M915 1509h0m14 15h0m15 45h0m6-35h0m3 11h0m4-102h0m19 98h0m2 4h0m14-40h0m3-10h0m1 58h0m2-64h0m13 73h0m37-12h0m28-21h0m7-12h0"/>
<path stroke="#002400" d="M779 1601h0m7 15h0m1-5h0m1 12h0m7-11h0m0 11h0m5-3h0m5 5h0"/>
<path stroke="#db6c24" d="M843 1593h0m11 11h0m33 17h0m6-6h0"/>
<path stroke="#24246c" d="M795 1589h0"/>
<path stroke="#ffb700" d="M1079 1595h0m4 10h0"/>
<path stroke="#9348ff" d="M864 1554h0"/>
<path stroke="#009300" d="M822 1612h0m7-10h0m38 6h0"/>
<path stroke="#db6c6c" d="M847 1619h0m14 11h0m83-48h0m47 18h0m47-30h0"/>
<path stroke="#b7ffdb" d="M881 1544h0m2-1h0m2 21h0m4-21h0m1-17h0m1-25h0m0 24h0m1 27h0m0 10h0m1-19h0m0 10h0m2 9h0m1-18h0m0 20h0m0 18h0m2-38h0m0 74h0m1-78h0m1-16h0m2 19h0m0 16h0m5 9h0m7-27h0m4-44h0"/>
<path stroke="#b7ffff" d="M892 1468h0m1 18h0m1 24h0m11-56h0m2 41h0m2-30h0m5-18h0"/>
<path stroke="#934800" d="M888 1630h0"/>
<path stroke="#ffffff" d="M992 1388h0m92 94h0m7-4h0m0 29h0m1-22h0m11-6h0m1 15h0m1-8h0m3-9h0m0 12h0m0 14h0m42-8h0"/>
<path stroke="#24b7db" d="M823 1557h0"/>
<path stroke="#6c24b7" d="M831 1564h0m19-3h0m8 2h0m20-2h0"/>
<path stroke="#db2448" d="M865 1614h0"/>
<path stroke="#dbff24" d="M907 1601h0m38 3h0m0 11h0m4 14h0m9-56h0m38 26h0m3 14h0m55-12h0m6-5h0"/>
<path stroke="#4848ff" d="M813 1572h0m3-23h0m7-33h0"/>
<path stroke="#ff6cdb" d="M922 1528h0m7 16h0m21-97h0m5 93h0m2 1h0m4-13h0m15 1h0m2-157h0m10 144h0m8-85h0m18 91h0m6 10h0m4-24h0m8 10h0m0 22h0m15 30h0m1-20h0m9-34h0m10 25h0m11-12h0m4-39h0"/>
<path stroke="#b7b7ff" d="M894 1531h0"/>
<path stroke="#48b7db" d="M825 1548h0"/>
<path stroke="#b79393" d="M1003 1583h0"/>
<path stroke="#93ffb7" d="M873 1585h0m1 9h0m1-19h0m0 14h0m6-14h0m1-1h0m0 0h0m0 15h0m4-3h0m1-27h0m17 34h0"/>
<path stroke="#dbb7b7" d="M929 1571h0m48 8h0m51-16h0"/>
<path stroke="#0048b7" d="M799 1553h0m29-49h0"/>
<path stroke="#b79324" d="M890 1597h0m10 3h0"/>
<path stroke="#6cdb93" d="M886 1578h0"/>
<path stroke="#48b7ff" d="M814 1532h0m0 4h0m3 19h0m11-7h0"/>
<path stroke="#dbffff" d="M906 1523h0m10-108h0"/>
<path stroke="#b7486c" d="M871 1624h0m107-31h0"/>
<path stroke="#db93db" d="M883 1510h0m13 25h0m51-39h0m2 14h0m1-61h0m2 53h0m25-43h0m1 9h0m3 35h0m12-17h0m9-24h0m2-19h0m0 54h0m1 10h0m7-23h0m5-38h0m33 54h0"/>
<path stroke="#244800" d="M794 1630h0"/>
<path stroke="#ff9324" d="M876 1611h0m4-18h0m8 24h0m20 0h0"/>
<path stroke="#db2424" d="M854 1624h0m38-9h0"/>
<path stroke="#9324ff" d="M832 1562h0m2 12h0m11-28h0m3 25h0m2 0h0m2-12h0m11 1h0m9-5h0m10-14h0"/>
<path stroke="#6cdb48" d="M836 1606h0"/>
<path stroke="#004824" d="M787 1616h0m4-8h0m4 19h0"/>
<path stroke="#db9324" d="M874 1622h0m9-26h0m5 10h0m0 3h0m2-14h0m2 9h0m0 25h0m13-8h0"/>
<path stroke="#b74824" d="M837 1609h0m22-16h0m2 24h0m3-12h0m0 3h0m0 7h0m5-4h0m10-1h0m3 15h0m3-37h0m2 38h0"/>
<path stroke="#ffff6c" d="M911 1606h0m37 4h0m25-1h0m38 6h0m66-8h0m3-7h0m6-17h0"/>
<path stroke="#93ffdb" d="M889 1581h0m11-11h0m9-41h0"/>
<path stroke="#ffb76c" d="M882 1630h0"/>
<path stroke="#ff6cff" d="M915 1561h0m4-70h0m15 60h0m2-26h0m3 18h0m8 13h0m10-11h0m1-31h0m2 42h0m9-28h0m1-101h0m1 86h0m16 30h0m6 31h0m5-24h0m4 14h0m2-37h0m1 29h0m3-19h0m9 27h0m1-170h0m14 155h0m1-87h0m11 99h0m3-13h0m5-7h0m3-19h0m0 45h0m9-35h0m6-28h0m8 32h0m0 10h0"/>
<path stroke="#dbdb00" d="M922 1600h0m28 8h0m47-13h0m8 12h0m55-23h0m25 14h0"/>
<path stroke="#ff48db" d="M935 1518h0m1 19h0m2-19h0m8 27h0m7 8h0m1-6h0m1 8h0m20-34h0m8 11h0m1 37h0m6-10h0m11-66h0m6 51h0m4 6h0m6-2h0m1-3h0m2-13h0m11-21h0m17 14h0m14 13h0m3 25h0m5-52h0m1 23h0m11 8h0"/>
<path stroke="#486cff" d="M806 1532h0m12 43h0m1-38h0m4-6h0m2-24h0m1 21h0m5-12h0m1-8h0m0 6h0m0 9h0m1-11h0m0 14h0m4-14h0m1-2h0m5 22h0m2-47h0m0 27h0m1-12h0m2 9h0m7 34h0m5-17h0m4-25h0m1 12h0"/>
<path stroke="#2424db" d="M790 1554h0m33 14h0m4-56h0m7 63h0"/>
<path stroke="#dbffdb" d="M895 1595h0"/>
<path stroke="#db6c93" d="M925 1567h0m8 1h0m11 7h0m67-19h0m32 6h0m7-1h0m6 23h0m19-4h0m4 1h0"/>
<path stroke="#6c00db" d="M819 1541h0m19 33h0m6-1h0m9-10h0m2 4h0m2-17h0m13 19h0"/>
<path stroke="#ff6cb7" d="M924 1556h0m31 44h0m4-16h0m7 2h0m9-2h0m31-15h0m48 13h0"/>
<path stroke="#b7ffb7" d="M881 1582h0m2 16h0m1-5h0m1-24h0m7-11h0"/>
<path stroke="#002424" d="M786 1621h0m1-17h0m8 4h0"/>
<path stroke="#db6cb7" d="M931 1569h0m61-32h0m21-12h0m46-13h0"/>
<path stroke="#db48b7" d="M915 1522h0m3 39h0m3-19h0m10-12h0m2 18h0m78-1h0m25 13h0m3 16h0m30-27h0m10-17h0"/>
<path stroke="#db24db" d="M925 1539h0m13 21h0m11-23h0m10 23h0m89-46h0m6 0h0"/>
<path stroke="#ff936c" d="M1065 1595h0"/>
<path stroke="#ffdb6c" d="M881 1613h0m10 17h0m184-42h0m8-12h0m0 20h0m4-22h0m1 1h0m1-5h0"/>
<path stroke="#244848" d="M785 1623h0"/>
<path stroke="#ff6c24" d="M917 1602h0"/>
<path stroke="#932424" d="M879 1610h0"/>
<path stroke="#0048ff" d="M784 1557h0"/>
<path stroke="#b76c00" d="M900 1633h0"/>
<path stroke="#6c6cdb" d="M858 1499h0m1 4h0m7-22h0m2 38h0m11-11h0"/>
<path stroke="#9300db" d="M829 1568h0m7 0h0m1-1h0m1 5h0m1 6h0m22-2h0m4-31h0"/>
<path stroke="#dbb724" d="M893 1620h0m2-19h0m2 27h0m16-5h0m31-33h0m26 5h0m13 1h0m72 5h0m15 0h0"/>
<path stroke="#ffdbff" d="M915 1484h0m98 53h0m43-32h0"/>
<path stroke="#b74848" d="M865 1595h0m4 37h0m9-30h0m1 17h0m6-23h0"/>
<path stroke="#246cff" d="M792 1550h0m13 1h0m4-22h0m6 23h0m6-43h0m3-3h0m11 26h0m1-5h0m2-14h0m0 21h0m8-23h0m0 13h0m3-10h0m1-1h0m6 23h0m3 9h0"/>
<path stroke="#4893ff" d="M799 1551h0m3-4h0m5-11h0m7-15h0m10 2h0m6-20h0m2 23h0m0 7h0m4-28h0m10 26h0m1-1h0m4-18h0m11 34h0m12-13h0"/>
<path stroke="#b7b700" d="M1075 1609h0"/>
<path stroke="#6c48db" d="M798 1583h0m25-10h0m21-80h0m30-32h0"/>
<path stroke="#b748ff" d="M830 1540h0m9 25h0"/>
<path stroke="#93dbb7" d="M864 1593h0m19-6h0m15-38h0m3 14h0m9 18h0m5 29h0"/>
<path stroke="#48b700" d="M820 1607h0"/>
<path stroke="#ffb793" d="M924 1559h0m51 30h0m0 2h0m44-8h0m33-17h0"/>
<path stroke="#939324" d="M855 1625h0"/>
<path stroke="#002493" d="M783 1579h0m1 25h0m4-20h0m4-3h0m10-1h0"/>
<path stroke="#6cdbff" d="M825 1558h0m10-18h0"/>
<path stroke="#0093ff" d="M820 1549h0"/>
<path stroke="#ff6c00" d="M894 1598h0"/>
<path stroke="#6c93ff" d="M816 1523h0m7 6h0m3-4h0m3-20h0m7-11h0m6 49h0m1-13h0m5-12h0m11-16h0m2 2h0m2-8h0m8-11h0m4-16h0"/>
<path stroke="#6c24db" d="M804 1582h0m21-41h0m3 1h0m1 34h0m12-25h0m0 57h0m1-39h0m5-20h0m9 16h0m2-10h0m2-6h0m3 4h0m2 30h0m4-13h0"/>
<path stroke="#dbb7ff" d="M883 1504h0m14 23h0m1-30h0m1 14h0m2 22h0m14-46h0m58 19h0m11-60h0"/>
<path stroke="#ff9393" d="M935 1590h0m6-6h0m7-25h0m1 7h0m2 8h0m8-1h0m5 9h0m32 0h0m18-2h0m4-13h0m3-15h0m9 27h0m13 4h0m2-5h0m1 15h0m3-7h0m7-3h0m10 2h0m6-8h0"/>
<path stroke="#0024db" d="M785 1550h0m0 6h0m6 8h0m42-23h0"/>
<path stroke="#ffb724" d="M881 1595h0m5 5h0"/>
<path stroke="#db93b7" d="M944 1514h0m65 56h0m14 14h0"/>
<path stroke="#4824b7" d="M794 1585h0m5-13h0m15 12h0m6 16h0m15-42h0"/>
<path stroke="#249300" d="M795 1623h0m1-5h0m15-4h0m15 1h0m4-7h0m2 9h0"/>
<path stroke="#db6c00" d="M898 1613h0"/>
<path stroke="#48b724" d="M779 1607h0m30-20h0m3 27h0m6 3h0m1-6h0m4-18h0m5 31h0m2-7h0m0 5h0m7-13h0m6 4h0m0 5h0"/>
<path stroke="#93dbff" d="M895 1463h0"/>
<path stroke="#b793db" d="M883 1528h0"/>
<path stroke="#936c24" d="M851 1607h0"/>
<path stroke="#934824" d="M873 1598h0m13 13h0"/>
<path stroke="#489300" d="M814 1620h0m12-16h0m22 15h0"/>
<path stroke="#ffdbdb" d="M943 1551h0m18 43h0m46-9h0m40-19h0m1 8h0m9-2h0"/>
<path stroke="#6c24ff" d="M820 1563h0m14 39h0m26-72h0m6 67h0"/>
<path stroke="#db24b7" d="M932 1549h0m53 37h0m18-18h0m4-11h0m68-43h0"/>
<path stroke="#24b724" d="M791 1616h0m6-2h0m11 13h0m3-10h0m5 4h0m1-23h0m0 17h0m4 4h0m1 6h0m1-13h0m4 13h0m1-11h0"/>
<path stroke="#2493ff" d="M801 1531h0m1 8h0m1 20h0m3-4h0m2-2h0m3-8h0m22-1h0m19-6h0"/>
<path stroke="#246c24" d="M787 1611h0"/>
<path stroke="#24486c" d="M785 1594h0"/>
<path stroke="#2493db" d="M803 1537h0m6 17h0m7-19h0m3 15h0m5 19h0"/>
<path stroke="#2400b7" d="M799 1584h0m3 4h0m2-25h0m0 10h0m1 11h0m17-15h0m1 29h0m5-26h0"/>
<path stroke="#93db93" d="M875 1580h0"/>
<path stroke="#4893db" d="M823 1516h0"/>
<path stroke="#9393db" d="M866 1483h0"/>
<path stroke="#db4824" d="M868 1597h0m17 23h0"/>
<path stroke="#dbdb24" d="M907 1611h0m2 0h0m7 19h0m6-9h0m1-24h0m0 11h0m9 0h0m12-16h0m0 14h0m4-27h0m1 29h0m15 3h0m2 5h0m2 3h0m4-43h0m1 50h0m6-25h0m2-12h0m0 28h0m6-3h0m6-23h0m1 7h0m1-2h0m0 13h0m2-17h0m10 13h0m2-18h0m6 10h0m4 6h0m1-17h0m8 24h0m2-8h0m2-26h0m11 39h0m9-15h0m8-16h0m7-34h0m1 59h0m0 4h0m1-3h0m3-10h0m7 5h0m0 2h0m3-5h0m2 10h0m1-15h0"/>
<path stroke="#db93ff" d="M886 1499h0m5 21h0m5-22h0m6 43h0m48-60h0m34 55h0m14-92h0m9 66h0m9-14h0m15-16h0m18-2h0m1-13h0m9 7h0m17 21h0"/>
<path stroke="#9393ff" d="M853 1485h0m3 3h0m4 0h0m8-9h0m2-2h0m0 2h0m19 46h0"/>
<path stroke="#0048db" d="M799 1534h0"/>
<path stroke="#ffffdb" d="M1094 1527h0m9 22h0m1 2h0"/>
<path stroke="#b7dbdb" d="M877 1589h0m16-28h0m9-6h0"/>
<path stroke="#486cdb" d="M808 1526h0m8 19h0m1-20h0m4-16h0m5 24h0m2 9h0m4-11h0m0 2h0m7-26h0m13 14h0m2 0h0m3 9h0m5-16h0m2-13h0m4 13h0"/>
<path stroke="#246cdb" d="M807 1544h0m5-4h0m7 22h0m9-43h0m3 11h0m3-24h0m14 11h0m6-22h0"/>
<path stroke="#6c9300" d="M828 1629h0m7-12h0m16 5h0m7-8h0m0 5h0m11 4h0"/>
<path stroke="#dbb7db" d="M1072 1484h0"/>
<path stroke="#b76cb7" d="M918 1465h0m13 132h0m81-92h0"/>
<path stroke="#b76c93" d="M928 1559h0m72-8h0m35 36h0"/>
<path stroke="#2448ff" d="M783 1561h0m11-17h0m63-11h0"/>
<path stroke="#4824db" d="M792 1568h0m3 1h0m1 3h0m6 1h0m6 18h0m6-24h0m17 22h0m1-3h0m4-7h0m14-29h0"/>
<path stroke="#ffb7db" d="M934 1585h0m4-11h0m5-73h0m2 60h0m14 13h0m19-101h0m12 117h0m21 0h0m25-26h0m12 6h0m15-6h0m2-102h0m5 6h0m9 98h0m3 5h0"/>
<path stroke="#6c48ff" d="M814 1560h0m43-65h0"/>
<path stroke="#00006c" d="M783 1578h0m3 7h0m6 20h0m1-31h0m5 13h0"/>
<path stroke="#482493" d="M857 1585h0"/>
<path stroke="#ff48ff" d="M915 1527h0m16-9h0m52 41h0m28-33h0m20 9h0m42 1h0"/>
<path stroke="#dbb748" d="M892 1607h0m7 22h0m188-22h0"/>
<path stroke="#9348db" d="M828 1521h0m15 30h0"/>
<path stroke="#6c9324" d="M810 1623h0m11 5h0m6-8h0m7 5h0m8 5h0m0 1h0m1-11h0m5 12h0m3-12h0m6-1h0m0 1h0m6-5h0"/>
<path stroke="#000093" d="M778 1576h0m14 24h0m13-19h0"/>
<path stroke="#009324" d="M820 1631h0m24-23h0"/>
<path stroke="#b79348" d="M883 1598h0"/>
<path stroke="#ffb748" d="M870 1619h0m11-15h0m9 0h0m15 15h0m4-22h0"/>
<path stroke="#b76c48" d="M874 1622h0m6 2h0m7-27h0"/>
<path stroke="#db6c48" d="M855 1625h0m1-15h0m18 11h0m9-18h0m6-11h0m5 18h0m3-14h0"/>
<path stroke="#6c00b7" d="M819 1548h0m8 32h0m2-17h0m8 10h0m7 18h0m10-22h0m1-8h0m0 3h0m4 6h0m1-23h0m6 12h0m3 11h0"/>
<path stroke="#b724ff" d="M844 1587h0"/>
<path stroke="#ff9348" d="M884 1633h0m3-14h0m23-7h0"/>
<path stroke="#ffdb24" d="M911 1611h0m14-14h0m4 26h0m16-15h0m2-18h0m2 16h0m6-25h0m2 8h0m25 12h0m3 1h0m2 7h0m22-17h0m10 3h0m14 13h0m8-1h0m8 11h0m17-3h0m2-8h0m10-8h0m3 9h0m4 4h0"/>
<path stroke="#2448db" d="M784 1547h0m37-2h0m6-22h0m1-14h0m4-3h0m11 24h0m5-18h0m3 16h0m3-42h0m3 38h0m15 9h0"/>
<path stroke="#4848b7" d="M821 1577h0"/>
<path stroke="#ffdb00" d="M1066 1614h0"/>
<path stroke="#db9348" d="M890 1612h0m8-1h0m6-11h0m2 29h0"/>
<path stroke="#b72424" d="M853 1631h0m22-40h0m14 19h0m19 0h0"/>
<path stroke="#ff6c93" d="M923 1585h0m3 14h0m5-28h0m20 31h0m27-2h0"/>
<path stroke="#b79300" d="M901 1620h0"/>
<path stroke="#b74893" d="M1064 1567h0"/>
<path stroke="#db6cff" d="M879 1482h0m1 36h0m4 20h0m40 15h0m3-26h0m4-22h0m5 58h0m49-191h0m42 112h0m34 82h0m9-92h0"/>
<path stroke="#b793ff" d="M861 1524h0m10-28h0m2 13h0m2-16h0m0 33h0m1 16h0m2-29h0m5-22h0m5 34h0m2-13h0m2-12h0m7 2h0m2 19h0m1-18h0m14 23h0"/>
<path stroke="#246cb7" d="M824 1525h0"/>
<path stroke="#dbdb6c" d="M1081 1586h0"/>
<path stroke="#ffff93" d="M1078 1569h0m10 18h0"/>
<path stroke="#b76cff" d="M866 1516h0m16 17h0m3-70h0m17 11h0"/>
<path stroke="#24b700" d="M800 1632h0m19-31h0m6 9h0m5 14h0"/>
<path stroke="#6c6c00" d="M843 1623h0m15 1h0"/>
<path stroke="#6cb724" d="M825 1616h0m8 11h0m22 4h0"/>
<path stroke="#b76cdb" d="M857 1535h0m15 13h0m12-30h0m4 19h0m8-9h0m54-44h0m91-14h0m18 47h0"/>
<path stroke="#9324b7" d="M830 1569h0m22 3h0"/>
<path stroke="#b76c24" d="M853 1623h0m21-13h0"/>
<path stroke="#00b700" d="M821 1603h0"/>
<path stroke="#24b7ff" d="M800 1555h0"/>
<path stroke="#6c6c24" d="M841 1625h0"/>
<path stroke="#242493" d="M781 1558h0m5 25h0m1-1h0m1 19h0m0 4h0m1-8h0m1 1h0m1-23h0m2 18h0m5 6h0m6-10h0m1 7h0"/>
<path stroke="#006c00" d="M822 1613h0m9 3h0m6-9h0"/>
<path stroke="#48db48" d="M794 1603h0m33 5h0m4-6h0"/>
<path stroke="#0024b7" d="M783 1555h0m15-5h0"/>
<path stroke="#b7b724" d="M984 1630h0"/>
<path stroke="#93b724" d="M848 1617h0m10 9h0m1-9h0"/>
<path stroke="#b72400" d="M866 1619h0m24-5h0"/>
<path stroke="#2400db" d="M808 1593h0m1-13h0m30 15h0"/>
<path stroke="#db48ff" d="M1047 1554h0"/>
<path stroke="#b74800" d="M859 1617h0m10-29h0m9 14h0"/>
<path stroke="#936cff" d="M836 1511h0m8 31h0m4-58h0m0 6h0m12-12h0m0 12h0m1-10h0m2 10h0m9-5h0m23 28h0"/>
<path stroke="#93ffff" d="M904 1437h0"/>
<path stroke="#ff24db" d="M1026 1544h0"/>
<path stroke="#2448b7" d="M781 1602h0m15-5h0m4-17h0m8-2h0m9 19h0m2-66h0"/>
<path stroke="#246c00" d="M780 1612h0m24 4h0m15-30h0"/>
<path stroke="#6cdb24" d="M821 1612h0m10-11h0"/>
<path stroke="#006cdb" d="M815 1539h0m27-32h0m4 47h0"/>
<path stroke="#4848db" d="M786 1583h0m1-11h0m16 24h0m6-18h0m0 3h0m6-10h0m8-12h0m1-24h0m10-9h0m26-32h0m3 34h0"/>
<path stroke="#6c6cff" d="M821 1519h0m18 24h0m12-10h0m3-42h0m0 11h0m2 18h0m0 4h0m1-37h0m0 11h0m2-3h0m2-1h0m0 4h0m1 2h0m1-17h0m0 1h0m1 8h0m5-21h0"/>
<path stroke="#006cff" d="M809 1555h0m0 8h0"/>
<path stroke="#24db24" d="M791 1616h0m19 4h0m1-2h0m10 8h0m7-20h0"/>
<path stroke="#24b748" d="M812 1628h0m20-13h0"/>
<path stroke="#48dbdb" d="M828 1554h0m7-12h0"/>
<path stroke="#db4848" d="M864 1631h0"/>
<path stroke="#ff6c6c" d="M959 1577h0"/>
<path stroke="#48b748" d="M809 1601h0m11 2h0m2 13h0m14 8h0"/>
<path stroke="#dbdb48" d="M944 1594h0m59 13h0m58-31h0m4 14h0m7-10h0m11-9h0"/>
<path stroke="#48db24" d="M796 1612h0"/>
<path stroke="#93ff93" d="M881 1579h0m6 0h0"/>
<path stroke="#ff48b7" d="M983 1530h0m13 10h0m13-20h0m67 17h0m3-16h0"/>
<path stroke="#9324db" d="M843 1598h0m6-50h0m1 47h0m5-20h0m2-9h0m3-5h0m8-3h0"/>
<path stroke="#ffdb48" d="M891 1609h0m15 5h0m3-9h0m9 6h0m4-3h0m13 21h0m4-34h0m14-5h0m24 32h0m1 2h0m1-44h0m0 31h0m0 9h0m1-28h0m5 22h0m16-5h0m59 6h0m13-38h0"/>
<path stroke="#ffff24" d="M911 1624h0m1-9h0m5-3h0m3 15h0m14-8h0m3 4h0m7-12h0m1-37h0m12 28h0m4 11h0m5 19h0m2-16h0m0 15h0m1-10h0m9-22h0m2-8h0m1 9h0m1 17h0m2 5h0m5-24h0m6 29h0m1-14h0m1 10h0m21-19h0m2-6h0m18 7h0m3 7h0m1 4h0m3-6h0m7-2h0m8-26h0m13-1h0m2 26h0m4-17h0m3-9h0m3 22h0"/>
<path stroke="#244824" d="M784 1607h0m3 8h0m1 9h0m2-15h0m2 4h0m2 12h0m3-15h0"/>
<path stroke="#9393b7" d="M882 1487h0"/>
<path stroke="#ff93b7" d="M929 1568h0m5 19h0m3-9h0m4 6h0m12 4h0m1-15h0m6 1h0m2 11h0m3 6h0m2-11h0m1-4h0m3 3h0m1-2h0m0 17h0m3-20h0m5 20h0m20-12h0m1 17h0m18-29h0m1-10h0m7 24h0m2-18h0m4 20h0m6-5h0m5-4h0m13 17h0m11-8h0m7-28h0"/>
<path stroke="#db9300" d="M913 1614h0"/>
<path stroke="#dbff48" d="M930 1608h0m13 5h0m41 1h0m21 2h0m22-21h0m42 14h0m15-7h0"/>
<path stroke="#9300b7" d="M837 1569h0"/>
<path stroke="#ffff48" d="M910 1603h0m0 7h0m1-2h0m12-11h0m5 22h0m9-13h0m9 2h0m1-2h0m6-2h0m1-21h0m4 11h0m2 7h0m2 16h0m1-21h0m2 8h0m0 9h0m1 0h0m2 5h0m2-20h0m0 6h0m3 20h0m0 4h0m1-38h0m1 19h0m2-18h0m1-19h0m1 24h0m5 8h0m8 18h0m1-2h0m1-28h0m2 13h0m2 7h0m3-16h0m1 2h0m0 19h0m3-27h0m0 22h0m0 9h0m1-38h0m1 32h0m2-37h0m3 44h0m2-11h0m4-9h0m4 15h0m1-16h0m4 10h0m2-31h0m4 26h0m1-20h0m2 18h0m0 9h0m1-42h0m0 36h0m0 7h0m1-7h0m3 7h0m2-21h0m2 2h0m11 15h0m1-12h0m3-1h0m2 16h0m2-20h0m2-7h0m3 24h0m11-3h0m3-9h0"/>
<path stroke="#ff93db" d="M927 1578h0m36 10h0m3-18h0m4 8h0m15-99h0m1 29h0m12-25h0m33 2h0m45 102h0"/>
<path stroke="#2424b7" d="M784 1598h0m4-22h0m2 5h0m1 10h0m0 10h0m2-16h0m1 11h0m2-33h0m0 44h0m5-20h0m1-20h0m10 10h0m1-6h0m4 14h0m17 14h0"/>
<path stroke="#b7dbb7" d="M893 1565h0m2-19h0m2-18h0m0 62h0"/>
<path stroke="#240093" d="M795 1601h0m15 2h0m8-28h0m29-23h0"/>
<path stroke="#249324" d="M799 1591h0m4 9h0m3 10h0m8 9h0m1 3h0m1-14h0m2-2h0m0 26h0m8-11h0m4-1h0m9 7h0"/>
<path stroke="#ffb7ff" d="M923 1527h0m8-32h0m23 0h0m1 18h0m10 32h0m6-76h0m20-1h0m5 31h0m3-14h0m1-6h0m6-4h0m8-34h0m0 35h0m20 27h0m2 65h0m1-83h0m12 11h0m11-21h0m9-10h0"/>
<path stroke="#6c4800" d="M907 1618h0"/>
<path stroke="#ff93ff" d="M915 1524h0m6 9h0m23-2h0m12-90h0m1 54h0m3-41h0m7-38h0m22 29h0m11 57h0m8 30h0m5-42h0m3 4h0m21 13h0m1 27h0m9-18h0m22-7h0"/>
<path stroke="#24006c" d="M782 1596h0"/>
<path stroke="#486c00" d="M835 1630h0m8-7h0"/>
<path stroke="#4800b7" d="M800 1576h0m27-4h0m9 0h0m14-12h0m2-16h0m6 20h0m11 6h0"/>
<path stroke="#932400" d="M846 1628h0"/>
<path stroke="#936cdb" d="M883 1506h0m4-18h0m39 29h0"/>
<path stroke="#480093" d="M845 1556h0"/>
<path stroke="#dbb7ff" d="M868 1531h0m5-7h0m2-1h0m8-15h0m1 6h0m7 26h0m10-36h0m2 23h0m29-35h0m42-7h0m53 5h0"/>
<path stroke="#93ffdb" d="M892 1541h0m7 34h0m4-42h0m3 35h0"/>
<path stroke="#db6cdb" d="M915 1530h0m3-1h0m8 3h0m2-21h0m23 53h0m40-36h0m12 18h0m2-52h0m3 65h0m11-29h0m19-35h0m6 1h0m7 52h0m16-26h0m1-30h0m6 57h0"/>
<path stroke="#b748db" d="M1056 1492h0"/>
<path stroke="#ff6c48" d="M858 1607h0"/>
<path stroke="#ffffff" d="M1081 1497h0m4-1h0m1 8h0m3-19h0m7 15h0m2-6h0m5-1h0m3 9h0m2-23h0m21 4h0"/>
<path stroke="#ff936c" d="M941 1565h0"/>
<path stroke="#004824" d="M791 1615h0m3 9h0"/>
<path stroke="#ff93ff" d="M924 1549h0m26-72h0m7-13h0m10 63h0m4 9h0m21 41h0m6-13h0m8-46h0m5-1h0m7 46h0m2-66h0m5-31h0m1 28h0m15-13h0m7 25h0m3 34h0m3-69h0m5 52h0m2-39h0m2 29h0m0 3h0m3-3h0m5-25h0"/>
<path stroke="#b7b724" d="M981 1625h0"/>
<path stroke="#24b700" d="M785 1624h0m17-1h0m1-25h0m6 23h0m1-5h0m11-6h0m4 0h0m2-5h0m0 8h0m20-3h0"/>
<path stroke="#6cffff" d="M840 1548h0"/>
<path stroke="#93dbb7" d="M872 1590h0m5-8h0m22 4h0"/>
<path stroke="#934824" d="M846 1629h0m15-8h0m16-12h0"/>
<path stroke="#db6c00" d="M914 1610h0"/>
<path stroke="#6cff48" d="M805 1601h0"/>
<path stroke="#ff6c93" d="M956 1575h0m14 14h0m17-8h0m22-2h0m13-10h0m12 22h0m22-29h0"/>
<path stroke="#ff24db" d="M1084 1560h0"/>
<path stroke="#932400" d="M853 1614h0m12 8h0m6-18h0"/>
<path stroke="#936c24" d="M873 1620h0m6-5h0"/>
<path stroke="#4848b7" d="M786 1599h0m3-21h0"/>
<path stroke="#4893db" d="M799 1541h0m20-20h0m40-49h0"/>
<path stroke="#ffb76c" d="M868 1603h0m31 19h0"/>
<path stroke="#00b724" d="M824 1612h0"/>
<path stroke="#4848db" d="M806 1577h0m7 21h0m7-25h0m6-38h0m2 58h0m2-20h0m9-59h0m9 23h0m6-29h0"/>
<path stroke="#db6c24" d="M856 1630h0m4-6h0m5-11h0m28-14h0m10 31h0m2-1h0m12-2h0"/>
<path stroke="#db6cb7" d="M934 1567h0m9-77h0m2 77h0m37 0h0m52-75h0"/>
<path stroke="#db4893" d="M1039 1580h0"/>
<path stroke="#ffff6c" d="M907 1618h0m1 13h0m173-39h0m1 4h0m1-8h0"/>
<path stroke="#b76c6c" d="M835 1610h0m100-43h0"/>
<path stroke="#b724db" d="M868 1558h0"/>
<path stroke="#48db00" d="M826 1613h0"/>
<path stroke="#93ff93" d="M882 1582h0"/>
<path stroke="#246cdb" d="M797 1556h0m9-4h0m6 6h0m4-16h0m0 11h0m4-9h0m6-11h0m14 1h0m4 3h0m8-33h0"/>
<path stroke="#006c00" d="M815 1614h0"/>
<path stroke="#b748b7" d="M1079 1560h0"/>
<path stroke="#ffb7b7" d="M937 1586h0m4-12h0m6 3h0m1 16h0m4 3h0m0 1h0m3-30h0m6 25h0m8-3h0m4-15h0m4 7h0m10 4h0m6-7h0m17 3h0m1 5h0m16-15h0m2-8h0m6 13h0m8-16h0m9 14h0m1-69h0m13 75h0m14-23h0m4 45h0"/>
<path stroke="#b72424" d="M867 1578h0m4 38h0"/>
<path stroke="#dbb724" d="M902 1626h0m17-10h0m1-30h0m3 27h0m79 2h0m47-10h0"/>
<path stroke="#0024b7" d="M793 1566h0"/>
<path stroke="#b7ffb7" d="M876 1582h0m2-8h0m0 8h0m15-54h0m13 16h0m2-14h0m0 11h0"/>
<path stroke="#48b724" d="M795 1611h0m8-16h0m4 10h0m1 9h0m0 9h0m1 5h0m1-10h0m1 9h0m8-4h0m4-4h0m6 1h0m1 1h0m5-30h0m6 27h0"/>
<path stroke="#b74800" d="M872 1629h0m4-14h0"/>
<path stroke="#db6c48" d="M851 1609h0m18-15h0m0 25h0m0 2h0m1-15h0m3 0h0m1 19h0m2 1h0m2-9h0m4-1h0m4-2h0m1 5h0m3 11h0m4-14h0m10 12h0m7-32h0m158-38h0"/>
<path stroke="#dbb7db" d="M1052 1516h0"/>
<path stroke="#006cff" d="M816 1566h0m9-15h0m5-42h0"/>
<path stroke="#004800" d="M787 1618h0m7 5h0m4 6h0m1-3h0"/>
<path stroke="#000093" d="M784 1565h0m1 19h0m7-16h0m0 18h0m5 14h0"/>
<path stroke="#b7dbdb" d="M893 1537h0m0 17h0m2 17h0m1-39h0m2-14h0m16 15h0"/>
<path stroke="#939300" d="M849 1630h0"/>
<path stroke="#db936c" d="M987 1576h0m57 14h0"/>
<path stroke="#db9393" d="M923 1581h0m7 18h0m16-33h0m3 6h0m26 9h0m1 0h0m25-10h0m9 20h0m6-19h0m17 3h0m15-12h0m26 25h0m2-6h0"/>
<path stroke="#db93b7" d="M924 1575h0m17 18h0m29-11h0m65-16h0m2 22h0m16-12h0m8-11h0m18 15h0"/>
<path stroke="#ffb748" d="M889 1627h0m1-7h0m0 7h0m1-11h0m17-2h0m149-10h0"/>
<path stroke="#ffb7db" d="M925 1594h0m5-3h0m34-102h0m7 78h0m19-62h0m10 62h0m26 11h0m16-13h0m3-2h0m4-52h0m14-21h0m15 96h0"/>
<path stroke="#6c93ff" d="M821 1543h0m15-20h0m18-7h0m1-13h0m5-13h0"/>
<path stroke="#489300" d="M808 1618h0m16 0h0m11-2h0m20 5h0m5-5h0"/>
<path stroke="#6cb7ff" d="M824 1527h0"/>
<path stroke="#002400" d="M780 1611h0m3-13h0m1 16h0m3-1h0m3 17h0m1-18h0m0 2h0m0 6h0m0 2h0m5-27h0m1 20h0m2-1h0"/>
<path stroke="#48b748" d="M815 1621h0m8 7h0"/>
<path stroke="#4800b7" d="M792 1574h0m29-13h0m6-2h0m13 14h0m31-9h0"/>
<path stroke="#9348db" d="M835 1582h0m14-2h0m42-30h0"/>
<path stroke="#ffdb48" d="M911 1565h0m2 46h0m8-22h0m9-5h0m4 31h0m16-25h0m0 3h0m6 11h0m2 18h0m23-16h0m35-10h0m0 7h0m15 14h0m2 5h0m5-15h0m12-3h0m3-1h0m6 16h0m3-6h0m7-37h0m14 38h0"/>
<path stroke="#ffb7ff" d="M918 1507h0m23 5h0m4-43h0m1 60h0m4-56h0m2 10h0m1 37h0m3-5h0m1-51h0m5 48h0m4-43h0m3-5h0m3 34h0m10 10h0m4-19h0m32-10h0m3 45h0m4 1h0m2 18h0m0 17h0m7-102h0m4 27h0m12-25h0m6 9h0m10 29h0"/>
<path stroke="#006cdb" d="M800 1547h0m17-20h0m1-1h0m2-3h0m33-20h0"/>
<path stroke="#24b724" d="M807 1611h0m2 15h0m3-11h0m1 10h0m9-11h0m1-1h0m2-13h0m1 14h0m3 5h0m3-15h0"/>
<path stroke="#932424" d="M867 1600h0m6-1h0"/>
<path stroke="#dbdb6c" d="M1082 1579h0"/>
<path stroke="#240093" d="M790 1582h0m1-3h0m5 30h0"/>
<path stroke="#936c00" d="M880 1618h0"/>
<path stroke="#6c00db" d="M831 1551h0m3 9h0m1 8h0m1-4h0m4 7h0m6-38h0m4 25h0m4-35h0m5 24h0m1 27h0m2 1h0m3 3h0m5-1h0m3-13h0"/>
<path stroke="#4848ff" d="M823 1585h0m1-70h0m29-5h0m14 49h0"/>
<path stroke="#249348" d="M806 1604h0m14 2h0m15 22h0"/>
<path stroke="#ffdb6c" d="M902 1597h0m179 4h0m2-16h0"/>
<path stroke="#6c6c00" d="M858 1622h0m7 2h0"/>
<path stroke="#b7ffdb" d="M881 1567h0m5-19h0m2 0h0m1-30h0m2 19h0m0 23h0m3-61h0m0 50h0m0 8h0m1-11h0m0 18h0m0 11h0m1-46h0m1-17h0m0 39h0m1-22h0m1-2h0m0 37h0m2 7h0m1-7h0m0 14h0m1-65h0m0 25h0m1 37h0m0 4h0m0 1h0m2-34h0m2-29h0m0 19h0m1-5h0m1 44h0m1-41h0m4-1h0m5 7h0"/>
<path stroke="#b7dbb7" d="M896 1536h0m4 33h0"/>
<path stroke="#24b748" d="M809 1615h0m7 1h0m9 9h0"/>
<path stroke="#6c24ff" d="M821 1559h0m16-43h0m7 75h0"/>
<path stroke="#486cdb" d="M808 1575h0m11-43h0m8-14h0m12-14h0m3 7h0m10 30h0m3-5h0m6-41h0m0 45h0m4-43h0m1 16h0"/>
<path stroke="#ffdbb7" d="M1042 1580h0"/>
<path stroke="#ff48b7" d="M1004 1558h0m45-17h0m34 13h0"/>
<path stroke="#db24db" d="M936 1539h0m12 18h0m22-34h0m4 26h0"/>
<path stroke="#dbb793" d="M986 1586h0m98-9h0"/>
<path stroke="#ffff48" d="M911 1612h0m1-19h0m1 14h0m2 26h0m8-31h0m8-2h0m2-7h0m2 13h0m0 3h0m1 7h0m4-6h0m8 13h0m2-42h0m1-11h0m1 15h0m0 32h0m1-1h0m5-9h0m1-7h0m5 8h0m2 2h0m2 15h0m1-6h0m1-23h0m5 21h0m1-31h0m2 4h0m3 13h0m4 18h0m4-27h0m5 3h0m1-25h0m0 33h0m4 14h0m1-23h0m4-12h0m3-12h0m11 28h0m6 13h0m1-2h0m1-8h0m3 14h0m1-39h0m5 34h0m2-12h0m3 7h0m4-16h0m1 12h0m2 12h0m9-19h0m0 13h0m6-8h0m4-18h0m3 21h0m1-17h0m0 11h0m0 10h0m4-13h0m0 10h0m0 11h0m3-32h0"/>
<path stroke="#480093" d="M832 1604h0"/>
<path stroke="#6c9324" d="M833 1617h0m3 5h0m8-1h0"/>
<path stroke="#246c24" d="M795 1609h0"/>
<path stroke="#2400b7" d="M794 1581h0m18 0h0"/>
<path stroke="#93ffb7" d="M881 1588h0m5-15h0"/>
<path stroke="#48b7ff" d="M820 1540h0m11 4h0"/>
<path stroke="#48db48" d="M794 1615h0m22 17h0m4-11h0"/>
<path stroke="#db6c6c" d="M863 1613h0m76-18h0"/>
<path stroke="#249324" d="M809 1607h0m20-3h0m2 14h0"/>
<path stroke="#9300db" d="M833 1585h0m19-8h0"/>
<path stroke="#2493db" d="M803 1550h0m2-6h0m5-10h0m4-12h0m0 6h0m14 13h0"/>
<path stroke="#002493" d="M787 1573h0m3 29h0"/>
<path stroke="#b74824" d="M847 1616h0m15-4h0m7 3h0m3-20h0m0 15h0m2 4h0m6 9h0m0 7h0m3-7h0m1-23h0m1 14h0m2 14h0m4-23h0m3-11h0m6-1h0"/>
<path stroke="#2448db" d="M788 1562h0m4-10h0m4 32h0m34-46h0m3-29h0m4 13h0m6 0h0m7-14h0m6 14h0m10 14h0"/>
<path stroke="#dbdb48" d="M930 1622h0m57-26h0m10 6h0m33 7h0m10 2h0m18-9h0m28-8h0m3-12h0"/>
<path stroke="#93dbdb" d="M898 1559h0"/>
<path stroke="#ff6cb7" d="M952 1547h0m67 20h0"/>
<path stroke="#249300" d="M801 1610h0m4 3h0m16-4h0m6-9h0m3 5h0m0 11h0m7 8h0m4-4h0m0 1h0"/>
<path stroke="#244893" d="M782 1584h0m11-4h0m5 3h0m4 3h0"/>
<path stroke="#ff9348" d="M891 1606h0m4 9h0"/>
<path stroke="#2448b7" d="M817 1572h0m26-79h0m19 46h0"/>
<path stroke="#9300b7" d="M857 1572h0"/>
<path stroke="#246cb7" d="M815 1534h0"/>
<path stroke="#b724b7" d="M932 1539h0m75 2h0"/>
<path stroke="#b76c24" d="M866 1590h0m16 37h0m4-18h0m1 23h0m14-26h0m1 1h0"/>
<path stroke="#b793b7" d="M1007 1496h0m24-12h0"/>
<path stroke="#2400db" d="M809 1577h0"/>
<path stroke="#246c00" d="M839 1607h0"/>
<path stroke="#db9348" d="M884 1614h0m1 7h0m3-47h0m5 42h0m8-3h0m8-13h0"/>
<path stroke="#000000" d="M783 1612h0"/>
<path stroke="#6c6c24" d="M832 1625h0m14-2h0"/>
<path stroke="#dbb700" d="M912 1585h0m61-9h0m99 38h0"/>
<path stroke="#48dbff" d="M827 1547h0"/>
<path stroke="#9348ff" d="M843 1572h0m3-16h0m6-17h0m2 18h0m16 28h0"/>
<path stroke="#242424" d="M801 1611h0"/>
<path stroke="#b76cff" d="M870 1516h0m23-1h0m9 21h0m4-6h0"/>
<path stroke="#486c24" d="M791 1605h0"/>
<path stroke="#ffb724" d="M911 1595h0m135-18h0"/>
<path stroke="#dbffdb" d="M885 1593h0m10-31h0"/>
<path stroke="#b7db00" d="M1032 1589h0"/>
<path stroke="#dbffb7" d="M898 1558h0"/>
<path stroke="#db6cff" d="M1011 1459h0m17 115h0"/>
<path stroke="#db93db" d="M877 1528h0m22-33h0m32-25h0m20 27h0m8 26h0m10-69h0m7 3h0m3 43h0m12 0h0m7 4h0m4-17h0m2-6h0m6 31h0m3-27h0m22 2h0m6-47h0m13 94h0m14-34h0m8-1h0"/>
<path stroke="#006cb7" d="M801 1527h0"/>
<path stroke="#b7ffff" d="M897 1594h0m4-125h0m0 100h0m3-55h0"/>
<path stroke="#4824db" d="M797 1553h0m7 21h0m2 24h0m4-29h0m4 7h0m48-9h0m8 18h0"/>
<path stroke="#9324ff" d="M831 1582h0m12-37h0m7 38h0m14-39h0"/>
<path stroke="#246cff" d="M814 1539h0m1 6h0m14-2h0m4-35h0m8-2h0m5 8h0m3 40h0"/>
<path stroke="#486c00" d="M831 1629h0m12-1h0m2-4h0m10-6h0"/>
<path stroke="#ffffdb" d="M985 1578h0m110-47h0m5-3h0"/>
<path stroke="#ffdb24" d="M911 1621h0m7-6h0m12 17h0m4-22h0m3 3h0m1-41h0m5 38h0m2-17h0m2 2h0m5 21h0m8-29h0m5-4h0m1 18h0m2-14h0m13 16h0m4-27h0m10 40h0m3 6h0m5-27h0m0 10h0m11-8h0m1 0h0m8-7h0m9 30h0m9-5h0m3 6h0m11-9h0m16 2h0m10 0h0m2-4h0"/>
<path stroke="#dbb7b7" d="M1039 1572h0m10 14h0"/>
<path stroke="#dbff24" d="M912 1598h0m5-5h0m18 8h0m36 10h0m47-13h0m29-9h0m4 19h0m6-3h0m19 7h0m2-8h0m1 4h0m4-8h0"/>
<path stroke="#0048ff" d="M802 1566h0m15-26h0"/>
<path stroke="#db9324" d="M884 1627h0m1-33h0m0 4h0m1 13h0m9-7h0m23 16h0"/>
<path stroke="#00006c" d="M778 1592h0m9-21h0m4 15h0"/>
<path stroke="#0048db" d="M782 1562h0m11-4h0m32-31h0"/>
<path stroke="#24486c" d="M783 1589h0"/>
<path stroke="#2424db" d="M788 1555h0m5 30h0m5 3h0m32-3h0"/>
<path stroke="#9324b7" d="M820 1574h0m14-51h0m34 38h0"/>
<path stroke="#db4848" d="M843 1591h0m10 14h0m4 11h0m12-3h0m3-6h0m5 5h0"/>
<path stroke="#242493" d="M786 1588h0m2-22h0m0 18h0m4-15h0m0 4h0m0 13h0m0 8h0m0 4h0m1-22h0m2 13h0m3 2h0m3-17h0m0 17h0m31-17h0"/>
<path stroke="#2424b7" d="M791 1579h0m2 20h0m1-24h0m4 24h0m2-28h0m2 28h0m5-23h0m1 16h0m4-13h0m1-6h0m10 24h0m6-31h0"/>
<path stroke="#6c24db" d="M800 1585h0m20 1h0m7-9h0m1-34h0m1 7h0m0 13h0m1 10h0m2-18h0m15 29h0m1-9h0m2-11h0m1-16h0m1-3h0m2 12h0m5-19h0m0 9h0m6 6h0m2 4h0"/>
<path stroke="#006c48" d="M798 1631h0"/>
<path stroke="#ff93db" d="M934 1499h0m4 7h0m1 13h0m5 73h0m2-77h0m3-22h0m43 90h0m7-85h0m23-22h0m2 51h0m22 65h0m8-116h0"/>
<path stroke="#244800" d="M792 1630h0m1-9h0m7 1h0"/>
<path stroke="#dbffff" d="M900 1556h0m3-27h0m12 42h0"/>
<path stroke="#2424ff" d="M793 1560h0"/>
<path stroke="#ff9393" d="M922 1595h0m9-36h0m6 28h0m5 5h0m31-31h0m4 8h0m3 5h0m9 8h0m11-5h0m56-6h0m3 33h0m1-29h0m22 17h0m3-23h0"/>
<path stroke="#ffff24" d="M908 1595h0m2 22h0m2 3h0m3-3h0m17-47h0m6 42h0m7-16h0m4 33h0m3-13h0m5-19h0m2 24h0m3-17h0m1 3h0m13 3h0m1 17h0m1-39h0m11 20h0m2-7h0m0 13h0m7-22h0m13 25h0m3-18h0m5-9h0m3 15h0m10-3h0m1-12h0m1 17h0m10 0h0m3 7h0m7-26h0m3 3h0m9 1h0m5-20h0m1 40h0m2 0h0m3-12h0m4-1h0m0 14h0m1 0h0"/>
<path stroke="#93b748" d="M844 1631h0m7-8h0"/>
<path stroke="#ffff00" d="M1046 1609h0"/>
<path stroke="#db24b7" d="M955 1555h0m19 4h0m54-27h0m32 30h0"/>
<path stroke="#4893ff" d="M789 1541h0m14-8h0m5 19h0m11-36h0m3 4h0m3 5h0m3 38h0m10-41h0m4 14h0m12 5h0m1-44h0m11 31h0"/>
<path stroke="#b74848" d="M852 1610h0m6-3h0m11 0h0m3 24h0m20-22h0"/>
<path stroke="#db4824" d="M848 1605h0m17-8h0m17-5h0m15 39h0"/>
<path stroke="#b7dbff" d="M921 1450h0"/>
<path stroke="#dbdb24" d="M906 1600h0m1-30h0m6 14h0m2 22h0m0 22h0m6-30h0m1 19h0m5-40h0m0 27h0m3-5h0m1-10h0m1 26h0m2-7h0m1 17h0m6-20h0m3-6h0m1 9h0m4 0h0m3-17h0m3 9h0m3 2h0m4-15h0m6-6h0m0 25h0m4-2h0m0 7h0m9 6h0m1-13h0m4-6h0m0 6h0m24-7h0m0 8h0m2-21h0m0 16h0m2 15h0m1-25h0m6 6h0m2 8h0m5 4h0m3-31h0m0 27h0m2-13h0m1 7h0m1 12h0m2-22h0m14 28h0m1-13h0m2-4h0m1-5h0m2 12h0m0 10h0m12-17h0m4 9h0m1-13h0m9 13h0"/>
<path stroke="#6cdbff" d="M827 1548h0m3-13h0m0 20h0m1-6h0m1-1h0m3-1h0m4 7h0m5-15h0"/>
<path stroke="#48b7db" d="M822 1552h0"/>
<path stroke="#9393db" d="M887 1501h0"/>
<path stroke="#6c6cdb" d="M842 1499h0m1 3h0m5 0h0m1 1h0m2 15h0m2-2h0m4-29h0m1 2h0m4-7h0m8 27h0m3 5h0m1-41h0"/>
<path stroke="#93ffff" d="M907 1471h0"/>
<path stroke="#b7b7db" d="M896 1506h0"/>
<path stroke="#24b7ff" d="M809 1537h0m8 3h0"/>
<path stroke="#48b700" d="M804 1606h0m21-13h0"/>
<path stroke="#db93ff" d="M855 1505h0m17 9h0m5 44h0m1-42h0m1-3h0m10-1h0m1-9h0m3 29h0m1 21h0m1-45h0m1-2h0m46 9h0m7-4h0m2-40h0m3 30h0m3-13h0m23-13h0m35 14h0m22-11h0m1 6h0m13 6h0m10 43h0m5-80h0m2 48h0"/>
<path stroke="#6c48db" d="M809 1568h0m0 24h0m27-91h0"/>
<path stroke="#ff93b7" d="M936 1584h0m1 2h0m16-9h0m6 15h0m16-9h0m7 9h0m3-37h0m12 34h0m2-13h0m1 11h0m2-5h0m8 5h0m2 13h0m3-35h0m6 13h0m2-1h0m5 2h0m2 0h0m4-11h0m3 7h0m3-21h0m4 16h0m0 22h0m9-20h0m6 4h0m2 12h0m6-12h0m1 7h0m7 8h0"/>
<path stroke="#b793ff" d="M858 1533h0m2 1h0m9 12h0m2-51h0m5 26h0m4 32h0m4-72h0m0 36h0m7-21h0m3-24h0m1 60h0m4-35h0m1 10h0m6 13h0"/>
<path stroke="#24db24" d="M845 1593h0"/>
<path stroke="#ff48ff" d="M919 1536h0m10-19h0m15-2h0m19-85h0m2 132h0m4-47h0m14-125h0m3 142h0m25 7h0m12 21h0m59-10h0"/>
<path stroke="#6c6cff" d="M820 1542h0m14-22h0m13-29h0m3 47h0m1-33h0m1 0h0m10-22h0m10 15h0m8 38h0"/>
<path stroke="#489324" d="M799 1603h0m4 11h0m50 4h0"/>
<path stroke="#2493ff" d="M789 1539h0m4 8h0m18 0h0m21-16h0"/>
<path stroke="#00b700" d="M830 1623h0"/>
<path stroke="#93db93" d="M875 1570h0m4 20h0m5-8h0"/>
<path stroke="#ffdbdb" d="M947 1589h0m28-23h0m36 16h0"/>
<path stroke="#4800db" d="M851 1562h0m3-20h0"/>
<path stroke="#4824b7" d="M782 1578h0m14 18h0m6-7h0m8-7h0m8 0h0m2-5h0m5 12h0m10-27h0m14 7h0m6-5h0"/>
<path stroke="#0093ff" d="M805 1538h0"/>
<path stroke="#936cff" d="M837 1510h0m27-39h0m6-2h0m22 13h0"/>
<path stroke="#b76cdb" d="M873 1518h0m4-35h0m3 28h0m15 10h0m4-26h0m18-14h0"/>
<path stroke="#dbb748" d="M875 1619h0m14 7h0"/>
<path stroke="#db6c93" d="M923 1565h0m3 15h0m49 14h0m7-24h0m14 17h0m26 9h0m13 8h0m12-23h0m35-7h0"/>
<path stroke="#009324" d="M816 1615h0"/>
<path stroke="#6cb724" d="M816 1590h0m52 36h0"/>
<path stroke="#ff6c24" d="M908 1622h0"/>
<path stroke="#486cff" d="M802 1533h0m19 3h0m1 16h0m1-37h0m1-1h0m1 14h0m0 27h0m2-33h0m2 7h0m1 6h0m5-24h0m1 20h0m2 6h0m2-17h0m1 9h0m1 25h0m2-22h0m3-23h0m5 36h0m4-45h0m0 27h0m2-32h0m0 13h0m4-8h0m0 11h0"/>
<path stroke="#6cff6c" d="M822 1613h0"/>
<path stroke="#6c9300" d="M855 1619h0m3 6h0"/>
<path stroke="#2448ff" d="M781 1560h0m4-6h0m2 12h0m69-67h0"/>
<path stroke="#b79324" d="M905 1627h0"/>
<path stroke="#ff6cff" d="M918 1447h0m10 106h0m15-139h0m1 22h0m16 116h0m6-134h0m3 80h0m11-98h0m3 138h0m1 0h0m5-81h0m3 70h0m4-14h0m0 4h0m5 59h0m10-65h0m10 44h0m3-83h0m0 62h0m13 36h0m36-25h0m9 24h0m1-9h0"/>
<path stroke="#b7b7ff" d="M899 1515h0"/>
<path stroke="#9393ff" d="M849 1504h0m1-17h0m6 17h0m2-27h0m1 0h0m4 13h0m2-12h0m17 47h0m13-25h0m8-13h0"/>
<path stroke="#ffb793" d="M952 1581h0m0 7h0m3-1h0m33-6h0m48-5h0"/>
<path stroke="#ff48db" d="M924 1540h0m14-11h0m11 29h0m6-18h0m11-22h0m22-123h0m12 155h0m10-2h0m14-26h0m12 32h0m6-5h0m19-24h0m3-9h0m8 43h0m8-37h0"/>
<path stroke="#ffdbff" d="M1066 1490h0"/>
<path stroke="#db48db" d="M928 1535h0m1 6h0m12-28h0m2-28h0m4 31h0m3 13h0m7 37h0m4-17h0m1-8h0m2 1h0m6 12h0m3-18h0m24-113h0m1-9h0m15 81h0m0 15h0m10 6h0m10 22h0m6 3h0m7-36h0m39 45h0"/>
<path stroke="#6c24b7" d="M834 1548h0m23 17h0m2 18h0"/>
<path stroke="#242400" d="M788 1620h0"/>
<path stroke="#ff9324" d="M876 1615h0m25-3h0m12-8h0"/>
<path stroke="#b793db" d="M894 1545h0m8 24h0m82-97h0m27 40h0"/>
<path stroke="#48db24" d="M782 1620h0m16-3h0m17-4h0m6 3h0"/>
<path stroke="#dbdb00" d="M915 1624h0m8-8h0m19-7h0m10-23h0m1 26h0m13-6h0m51-1h0m15-5h0m4 5h0m15-1h0m2 7h0"/>
<path stroke="#00246c" d="M796 1550h0m3 26h0"/>
<path stroke="#6c00b7" d="M821 1559h0m24 0h0m2 6h0m6 2h0m0 2h0m19-24h0"/>
<path stroke="#244824" d="M781 1604h0m1 8h0m3 6h0m1-14h0m1 12h0m4-4h0m12 16h0m1-9h0"/>
<path stroke="#dbff48" d="M917 1617h0m2-3h0m33-30h0m63 38h0m20-19h0"/>
<path stroke="#9324db" d="M825 1590h0m5-51h0m2 20h0m7-31h0m6 37h0m7-17h0m0 27h0m3-4h0m2-29h0m0 27h0m0 3h0m5-15h0m0 1h0m10 7h0m1-20h0"/>
<path stroke="#6c48ff" d="M789 1586h0m25-8h0"/>
<path stroke="#0024db" d="M782 1545h0m1 26h0m2-16h0m1 1h0m1 4h0m1 2h0m41-42h0"/>
<path stroke="#ff6cdb" d="M915 1537h0m11 20h0m14 2h0m4-42h0m2 9h0m3 7h0m2 27h0m2-30h0m5-45h0m10 46h0m1 17h0m11 13h0m4-103h0m0 71h0m16-104h0m1 98h0m2-8h0m0 15h0m3-20h0m0 16h0m5 36h0m2-46h0m6 34h0m17-2h0m14-19h0m7-19h0m19 26h0m2 14h0m1-11h0m1-26h0"/>
<path stroke="#009300" d="M805 1612h0m7-5h0m19-6h0"/>
<path stroke="#b76c48" d="M852 1616h0m11 15h0m4-18h0m10 9h0m1-2h0"/>
<path stroke="#db48b7" d="M938 1570h0m44 17h0m49-56h0"/>
<path stroke="#002424" d="M787 1610h0m2 19h0m10-14h0"/>
<path stroke="#db48db" d="M940 1549h0m9-53h0m7 14h0m3 42h0m0 9h0m3-35h0m2-67h0m1-25h0m10 101h0m1-155h0m11 66h0m5 2h0m1 92h0m4 14h0m25 14h0m25-44h0"/>
<path stroke="#9348b7" d="M878 1502h0"/>
<path stroke="#93db93" d="M879 1579h0m2 2h0m0 11h0"/>
<path stroke="#482493" d="M803 1597h0"/>
<path stroke="#486cff" d="M797 1553h0m4-11h0m1-8h0m4 13h0m2-13h0m5-2h0m2-7h0m7 8h0m2-14h0m1 12h0m3-28h0m0 24h0m1 8h0m3-22h0m1 12h0m2-29h0m0 8h0m0 27h0m5-21h0m2 21h0m2-32h0m3 29h0m2 12h0m1-19h0m8-13h0m6-4h0m1 24h0m6-29h0m2 24h0m3-16h0m0 21h0"/>
<path stroke="#b76c24" d="M859 1610h0m24 6h0m8-12h0m7 5h0m10 12h0"/>
<path stroke="#dbdb00" d="M929 1604h0m30 24h0m27-17h0m1-1h0m2-5h0m4 5h0m34 8h0m49-23h0"/>
<path stroke="#db9393" d="M936 1570h0m12 20h0m26-9h0m22 1h0m6-13h0m16 2h0m26 11h0m13-9h0m8 8h0m18-8h0"/>
<path stroke="#93ffff" d="M896 1476h0"/>
<path stroke="#6cdb48" d="M815 1621h0m6-7h0m36-16h0"/>
<path stroke="#002424" d="M792 1625h0m4-22h0m10-6h0"/>
<path stroke="#9393ff" d="M850 1494h0m1 5h0m16 2h0m2-35h0m1 7h0m3 16h0m5 0h0m11 5h0"/>
<path stroke="#932400" d="M862 1608h0m9 8h0"/>
<path stroke="#ff6cdb" d="M917 1531h0m2 43h0m4-31h0m0 0h0m2-12h0m6-45h0m4 33h0m14 27h0m3-49h0m4 62h0m1-2h0m4-30h0m1-70h0m4 68h0m9 4h0m10 8h0m3-21h0m8-64h0m0 53h0m2 55h0m7-27h0m14-7h0m7-43h0m0 59h0m5 1h0m8-11h0m10-29h0m3 37h0m1-31h0m7 17h0m5 11h0m6 20h0"/>
<path stroke="#0024db" d="M787 1558h0m42-30h0"/>
<path stroke="#ffb748" d="M874 1603h0m10 0h0"/>
<path stroke="#db93db" d="M873 1487h0m56 20h0m4 2h0m0 5h0m25 59h0m3-128h0m3 57h0m3-36h0m8 42h0m3-59h0m3 59h0m10-18h0m1 14h0m53-30h0m32 4h0"/>
<path stroke="#9300ff" d="M833 1561h0"/>
<path stroke="#db4824" d="M858 1628h0m1-8h0m2-2h0m7 7h0m5 0h0m4-15h0m1 1h0m1-10h0m4 11h0m2 15h0"/>
<path stroke="#009300" d="M802 1598h0m33 13h0"/>
<path stroke="#db6c24" d="M872 1626h0m9-9h0m4-16h0m9-12h0"/>
<path stroke="#db24ff" d="M1053 1550h0"/>
<path stroke="#ff4848" d="M855 1633h0"/>
<path stroke="#486c24" d="M840 1619h0"/>
<path stroke="#9393db" d="M881 1487h0"/>
<path stroke="#dbff24" d="M909 1597h0m1 4h0m8 32h0m18-13h0m2-26h0m9 34h0m44-16h0m4 17h0m8-32h0m16-7h0m5 6h0m4 10h0m20-1h0m17-35h0m17-5h0"/>
<path stroke="#db48b7" d="M924 1524h0m68 10h0m7 0h0m17 20h0m36 18h0m12-30h0m7 2h0"/>
<path stroke="#ffb7b7" d="M923 1594h0m1-27h0m2 15h0m6-12h0m7 18h0m0 7h0m4-19h0m5 8h0m36 2h0m13-14h0m2 10h0m1 19h0m8-24h0m0 2h0m1-3h0m11 21h0m8 15h0m3-35h0m12-12h0m8 13h0m2-2h0m14-2h0m1 15h0m11-20h0m4 36h0"/>
<path stroke="#48db24" d="M790 1609h0m0 1h0m12 5h0m12 3h0"/>
<path stroke="#ffdb24" d="M913 1625h0m16-38h0m0 45h0m6-50h0m3 35h0m0 4h0m3-20h0m3-29h0m3 56h0m9-23h0m7-20h0m1 40h0m3-27h0m8 19h0m7 2h0m3-19h0m5 23h0m1-2h0m2-14h0m3 16h0m14-14h0m24 5h0m7 3h0m31-4h0m1-4h0m4-3h0"/>
<path stroke="#48b700" d="M808 1606h0m2-3h0"/>
<path stroke="#b76c93" d="M1073 1576h0"/>
<path stroke="#9324b7" d="M849 1558h0"/>
<path stroke="#6cff93" d="M879 1576h0"/>
<path stroke="#ffb76c" d="M895 1619h0"/>
<path stroke="#b7ffb7" d="M873 1530h0m16 37h0m4-17h0m4 0h0m3 17h0m3-62h0m4 95h0"/>
<path stroke="#b72448" d="M848 1621h0"/>
<path stroke="#6c48b7" d="M856 1565h0"/>
<path stroke="#24b724" d="M805 1610h0m3 21h0m3-31h0m14-1h0m9 6h0m0 12h0"/>
<path stroke="#dbb700" d="M978 1586h0m33 7h0"/>
<path stroke="#dbffdb" d="M899 1581h0m19-35h0"/>
<path stroke="#db6cb7" d="M916 1559h0m105-85h0m50 113h0"/>
<path stroke="#db6c93" d="M947 1584h0m6-10h0m53-3h0m28 16h0m7-16h0m32-3h0m9 28h0"/>
<path stroke="#ffb724" d="M881 1621h0m64-8h0"/>
<path stroke="#2424db" d="M787 1575h0m6-18h0m11 16h0m10 3h0m3-4h0m19 8h0"/>
<path stroke="#db6c6c" d="M872 1601h0m120-45h0m37 29h0"/>
<path stroke="#000093" d="M778 1591h0m10 8h0m5 6h0m4 0h0m5-36h0"/>
<path stroke="#939324" d="M837 1626h0m4-2h0"/>
<path stroke="#00b700" d="M813 1616h0"/>
<path stroke="#b74893" d="M949 1540h0m53-24h0"/>
<path stroke="#ff48db" d="M921 1528h0m15 27h0m31 2h0m20-51h0m2 22h0m27 12h0m36-3h0m2 11h0m29 17h0"/>
<path stroke="#0000b7" d="M815 1578h0"/>
<path stroke="#b72400" d="M844 1629h0m17-20h0m23-5h0"/>
<path stroke="#2448ff" d="M786 1546h0m1 1h0m67-18h0"/>
<path stroke="#db48ff" d="M1021 1553h0m18 14h0m20-47h0m12 44h0"/>
<path stroke="#db6c48" d="M844 1622h0m11-1h0m3-16h0m2 5h0m7 1h0m17-13h0"/>
<path stroke="#6c24db" d="M813 1578h0m7 33h0m5-27h0m4-21h0m7 28h0m1-31h0m0 19h0m1-21h0m0 2h0m1-7h0m9 21h0m3-8h0m0 12h0m2-12h0m5-7h0m2-7h0m10 4h0"/>
<path stroke="#ffdbff" d="M924 1511h0m78-16h0"/>
<path stroke="#ffdb6c" d="M897 1608h0m68-19h0m100 15h0m4-19h0m14 2h0m0 22h0m3-26h0"/>
<path stroke="#db9348" d="M886 1631h0m14-21h0m8 10h0m1-29h0m8 18h0"/>
<path stroke="#b79393" d="M931 1475h0m134 101h0"/>
<path stroke="#6c2400" d="M868 1602h0"/>
<path stroke="#ff9324" d="M907 1618h0"/>
<path stroke="#dbb7b7" d="M941 1593h0m129-16h0"/>
<path stroke="#6c6c24" d="M854 1610h0"/>
<path stroke="#24b748" d="M842 1618h0"/>
<path stroke="#00b724" d="M822 1602h0"/>
<path stroke="#b79348" d="M894 1617h0"/>
<path stroke="#b70093" d="M1010 1517h0"/>
<path stroke="#934824" d="M855 1612h0m14 4h0"/>
<path stroke="#ffdbb7" d="M1033 1552h0m37 40h0"/>
<path stroke="#6c00db" d="M829 1562h0m12 8h0m1 27h0m2-48h0m9 5h0m9-7h0m2 5h0m4 1h0m1-17h0"/>
<path stroke="#9300db" d="M863 1558h0"/>
<path stroke="#ff9393" d="M941 1556h0m42 22h0m10 12h0m23-27h0m9 27h0m27-10h0m3 3h0"/>
<path stroke="#b793b7" d="M921 1451h0"/>
<path stroke="#ffff48" d="M907 1619h0m0 11h0m3-23h0m1 12h0m5-34h0m4 29h0m2-3h0m7-17h0m0 22h0m2-3h0m1-5h0m1 16h0m3-12h0m0 3h0m2-5h0m1 14h0m1-25h0m4 6h0m1 12h0m7-14h0m0 23h0m1-33h0m0 19h0m3-3h0m1 22h0m2-6h0m2-19h0m6-27h0m1 31h0m0 12h0m2-9h0m3-17h0m2 5h0m4-16h0m3 23h0m6-10h0m2 4h0m8-2h0m0 13h0m5-26h0m5 22h0m1 8h0m4 4h0m1-21h0m0 16h0m3-8h0m10-23h0m5 20h0m1 2h0m1 11h0m3-25h0m1 15h0m4 0h0m6-17h0m6 6h0m8 13h0m6-15h0m2-1h0m1 21h0m6-16h0m1-5h0m1-4h0m3-1h0"/>
<path stroke="#ffb793" d="M954 1571h0m48 8h0"/>
<path stroke="#002400" d="M786 1609h0m2 13h0m1-13h0m2-1h0m0 7h0m0 1h0m1-7h0m0 9h0m1-2h0m1 3h0m0 6h0m1-7h0m4-4h0"/>
<path stroke="#b7dbdb" d="M884 1538h0m2 36h0m15-9h0"/>
<path stroke="#9348db" d="M830 1569h0m4 14h0m16-36h0m3-1h0m5 18h0m43-34h0"/>
<path stroke="#db93ff" d="M887 1531h0m2-42h0m6 6h0m5 19h0m3-2h0m38-8h0m15 47h0m18-84h0m62 51h0m21-10h0m12-31h0m7 3h0"/>
<path stroke="#936cff" d="M844 1492h0m20-7h0m0 24h0m1 1h0m5-28h0"/>
<path stroke="#b76cb7" d="M976 1564h0m10-58h0m87 48h0"/>
<path stroke="#249300" d="M806 1608h0m6 6h0m2-4h0m1-1h0m0 2h0m17 7h0m20-4h0"/>
<path stroke="#0048ff" d="M783 1560h0"/>
<path stroke="#b72424" d="M847 1594h0m3-9h0m12-1h0m5-3h0m0 38h0"/>
<path stroke="#48dbff" d="M830 1547h0m0 8h0m0 3h0m1-23h0m9 17h0"/>
<path stroke="#ff93b7" d="M924 1586h0m11-14h0m14-2h0m2-2h0m3 7h0m2 4h0m2-3h0m12 15h0m4-4h0m4 2h0m6 0h0m1-30h0m12-2h0m0 23h0m4-105h0m0 115h0m7-21h0m2 7h0m2 3h0m5 12h0m8-12h0m3-23h0m6 3h0m0 14h0m10-12h0m0 13h0m0 20h0m1-7h0m7-2h0m1-11h0m0 7h0m5-30h0m16 27h0m3-5h0m1-1h0m3 17h0m3-29h0"/>
<path stroke="#db4800" d="M878 1576h0"/>
<path stroke="#006cdb" d="M792 1559h0m7-5h0m15-5h0"/>
<path stroke="#b7936c" d="M879 1627h0"/>
<path stroke="#b74848" d="M854 1618h0m8-14h0m4 15h0m2-25h0m1 1h0m27 34h0"/>
<path stroke="#0024b7" d="M788 1574h0m8 0h0"/>
<path stroke="#db6cff" d="M861 1482h0m20 6h0m13 0h0m1 23h0m46 19h0m27-35h0m14 21h0m21 16h0"/>
<path stroke="#ff48ff" d="M925 1423h0m16-5h0m6 128h0m8-8h0m15-108h0m40 115h0m2-12h0m3 6h0m42-25h0"/>
<path stroke="#db4848" d="M854 1602h0m31 11h0"/>
<path stroke="#b748ff" d="M842 1542h0m6-1h0"/>
<path stroke="#ff93db" d="M983 1492h0m0 4h0m2 87h0m32-49h0m19 6h0m28 49h0m5-107h0m16 83h0"/>
<path stroke="#6c6cff" d="M799 1533h0m8 50h0m38-85h0m0 21h0m1 2h0m1 4h0m2-21h0m3 1h0m4-29h0m2-3h0m3 39h0m3-26h0m0 20h0m4 17h0m2-7h0m1-22h0m0 5h0"/>
<path stroke="#936cdb" d="M896 1510h0"/>
<path stroke="#ffffff" d="M969 1413h0m62 26h0m12-24h0m42 68h0m9 6h0m46 6h0m0 23h0"/>
<path stroke="#6c9300" d="M842 1625h0m29-12h0"/>
<path stroke="#2448db" d="M787 1548h0m4 9h0m1 0h0m30-43h0m5-10h0m19 15h0m1-13h0m3 3h0m3 10h0"/>
<path stroke="#db4893" d="M1013 1568h0"/>
<path stroke="#dbb724" d="M893 1604h0m52 14h0m54-14h0m67-13h0m3 23h0"/>
<path stroke="#006cb7" d="M813 1520h0"/>
<path stroke="#b76cff" d="M864 1536h0m3-16h0m9 18h0m5-36h0m0 67h0m4-71h0m0 28h0m7-11h0m4-5h0m85 0h0"/>
<path stroke="#93ffb7" d="M869 1582h0m2 9h0m6 1h0m1-8h0m25-35h0"/>
<path stroke="#dbdb6c" d="M1073 1583h0m4-19h0"/>
<path stroke="#ff6c48" d="M869 1622h0"/>
<path stroke="#48b7ff" d="M794 1537h0m0 16h0m8-24h0"/>
<path stroke="#48db48" d="M807 1605h0"/>
<path stroke="#ff48b7" d="M939 1535h0m29 14h0m45-12h0"/>
<path stroke="#ff936c" d="M864 1606h0"/>
<path stroke="#244893" d="M782 1598h0m3-3h0m6-22h0m1 35h0m7-5h0"/>
<path stroke="#ffb7db" d="M932 1579h0m27-4h0m2-7h0m1 24h0m30-10h0m3-1h0m20-8h0m4-114h0m4 111h0m0 0h0m2-3h0m27-8h0m4 13h0m6-36h0m7 19h0m6 18h0m5 15h0"/>
<path stroke="#939300" d="M839 1625h0m18 6h0"/>
<path stroke="#240093" d="M785 1606h0m5-15h0m5 13h0m31-22h0"/>
<path stroke="#4893ff" d="M790 1540h0m7-4h0m9-2h0m5 4h0m6 0h0m1-12h0m11 11h0m2-31h0m3-9h0m3 18h0m4 5h0m7 6h0m1-8h0m2-6h0m0 25h0m3-8h0"/>
<path stroke="#b7dbff" d="M879 1465h0"/>
<path stroke="#4824db" d="M790 1594h0m9-14h0m3-8h0m0 13h0m1-15h0m1 2h0m2 7h0m2-14h0m1 20h0m2-28h0m2 27h0m50-48h0"/>
<path stroke="#b76cdb" d="M886 1531h0m3-16h0m2 2h0m9 0h0m10 16h0m30-31h0"/>
<path stroke="#93b7ff" d="M856 1546h0m7-63h0"/>
<path stroke="#934800" d="M878 1625h0m10-29h0"/>
<path stroke="#2493db" d="M805 1527h0m4 13h0m7 15h0m2-21h0"/>
<path stroke="#b7ffdb" d="M874 1519h0m11 49h0m1-42h0m0 60h0m1-29h0m0 10h0m0 3h0m2-48h0m3 10h0m0 35h0m1 11h0m0 18h0m0 27h0m2-106h0m0 73h0m1-28h0m0 6h0m0 14h0m1-24h0m0 12h0m1-50h0m0 32h0m1-14h0m1 3h0m0 55h0m1-58h0m2 31h0m1 2h0m1-96h0m0 109h0m1-43h0m3 0h0m7-6h0"/>
<path stroke="#b7dbb7" d="M885 1513h0m4 45h0m12 5h0m4-3h0"/>
<path stroke="#930024" d="M871 1591h0m26 41h0"/>
<path stroke="#ff24ff" d="M1044 1506h0"/>
<path stroke="#6cb724" d="M817 1618h0m6 4h0m8 6h0"/>
<path stroke="#934848" d="M874 1628h0"/>
<path stroke="#b793db" d="M870 1537h0m7-37h0m9 25h0m5 22h0m4-46h0m17-13h0m81-18h0m71 12h0"/>
<path stroke="#db936c" d="M1027 1574h0"/>
<path stroke="#b7ffff" d="M879 1531h0m4-15h0m1 60h0m4-23h0m4-72h0m2-9h0m1-3h0m0 70h0m4-60h0m1-13h0"/>
<path stroke="#b72493" d="M1042 1539h0"/>
<path stroke="#2400db" d="M817 1574h0"/>
<path stroke="#246cff" d="M808 1539h0m4 6h0m1-28h0m1 13h0m1 14h0m25-7h0m1-5h0m4-13h0"/>
<path stroke="#db6cdb" d="M915 1555h0m17-9h0m19-103h0m28 98h0m7-36h0m2-32h0m6 32h0m44 38h0m3 19h0m25-72h0m16 35h0"/>
<path stroke="#b793ff" d="M864 1521h0m7 19h0m11-6h0m6-62h0m0 43h0m5 41h0m11-66h0m100 15h0"/>
<path stroke="#db24b7" d="M915 1545h0m81-5h0m58-13h0m9 1h0"/>
<path stroke="#2493ff" d="M793 1541h0m0 9h0m12 12h0m19-22h0"/>
<path stroke="#004824" d="M789 1615h0m0 0h0m2 1h0m1-9h0m4 9h0m6-18h0"/>
<path stroke="#000000" d="M787 1622h0m11-1h0"/>
<path stroke="#6c93db" d="M839 1534h0"/>
<path stroke="#6cdb6c" d="M795 1614h0m11 5h0"/>
<path stroke="#6cb7db" d="M834 1548h0"/>
<path stroke="#6c24b7" d="M805 1556h0m14-23h0m7 38h0m11-12h0m2-16h0m4 32h0m6-14h0"/>
<path stroke="#002493" d="M789 1601h0m2-32h0m1 6h0m4 16h0"/>
<path stroke="#db9324" d="M877 1619h0m5-14h0m12 17h0m1-21h0m2 0h0m10 9h0"/>
<path stroke="#b76c48" d="M856 1614h0m18 1h0"/>
<path stroke="#b7db24" d="M968 1602h0"/>
<path stroke="#4824b7" d="M812 1596h0m9-14h0m0 30h0m2-30h0m0 11h0m1-20h0m3 14h0m1-4h0m2 3h0m3-55h0"/>
<path stroke="#486c00" d="M830 1623h0m5 0h0m20-6h0m2-1h0m17 2h0"/>
<path stroke="#930000" d="M876 1614h0"/>
<path stroke="#dbff48" d="M1022 1592h0m19 15h0"/>
<path stroke="#93dbdb" d="M890 1461h0m6 4h0m6 140h0m6-32h0"/>
<path stroke="#0048b7" d="M786 1564h0"/>
<path stroke="#b724db" d="M871 1580h0"/>
<path stroke="#6cffff" d="M831 1545h0m12-9h0"/>
<path stroke="#4800b7" d="M832 1581h0m23-22h0m9 30h0m3-32h0m20-22h0"/>
<path stroke="#6c48db" d="M784 1596h0m37-23h0m17 4h0m14-95h0m2 21h0m16-30h0m9 12h0"/>
<path stroke="#242493" d="M782 1591h0m2-8h0m1 0h0m5 17h0m5-29h0m1 49h0"/>
<path stroke="#489324" d="M806 1622h0m10-8h0m1-7h0m23 10h0"/>
<path stroke="#6c9324" d="M820 1623h0m7 0h0m1-16h0m8 8h0m1 14h0m2-2h0m4 2h0m3 2h0m3-13h0m19 1h0"/>
<path stroke="#4848db" d="M802 1571h0m0 19h0m2-8h0m1-18h0m0 17h0m2-35h0m10-11h0m4-1h0m6 49h0m8 14h0m4-63h0m21-52h0m3 24h0"/>
<path stroke="#ffdbdb" d="M1020 1582h0"/>
<path stroke="#93dbb7" d="M867 1585h0m11-8h0m6 7h0m4-51h0m5 29h0m9 1h0"/>
<path stroke="#9348ff" d="M830 1534h0m6 37h0m14 21h0m9-38h0m16 16h0"/>
<path stroke="#ff6cb7" d="M932 1520h0m5 74h0m21-17h0m6-46h0m92 27h0m22-31h0"/>
<path stroke="#24006c" d="M794 1576h0"/>
<path stroke="#6cff6c" d="M814 1612h0"/>
<path stroke="#0048db" d="M782 1554h0m13 3h0m18-38h0m26-15h0m2-1h0"/>
<path stroke="#b7b700" d="M1068 1603h0"/>
<path stroke="#6cdbff" d="M833 1556h0m1-3h0"/>
<path stroke="#6c48ff" d="M819 1586h0m12-51h0m34-43h0"/>
<path stroke="#6c00b7" d="M826 1547h0m8 21h0m1 20h0m3-8h0m6-19h0m13-6h0m0 17h0m1-10h0m0 7h0m3-11h0m3 15h0m4-32h0"/>
<path stroke="#b7b7ff" d="M850 1544h0m16-50h0m1 16h0"/>
<path stroke="#ffff6c" d="M875 1601h0m136 5h0m56-3h0m13-4h0m2-15h0m2 2h0m1-6h0m2-10h0m1 23h0"/>
<path stroke="#2400b7" d="M805 1584h0"/>
<path stroke="#2424b7" d="M781 1599h0m1-13h0m4-32h0m0 33h0m4 1h0m1-17h0m1 26h0m8-20h0m3-2h0m1-10h0m2 29h0m2-15h0m2 5h0m3-17h0m4 2h0m1 15h0m3-3h0m4 18h0m1-28h0m10-1h0"/>
<path stroke="#004893" d="M788 1597h0"/>
<path stroke="#ffff24" d="M908 1583h0m12 21h0m4 3h0m8-1h0m3-5h0m7-7h0m0 9h0m5-10h0m9 7h0m4 10h0m2-1h0m1-5h0m1 7h0m6-8h0m1-21h0m7 40h0m4-28h0m2 21h0m12-15h0m12 16h0m4-20h0m0 11h0m22-11h0m15 1h0m2 14h0m9-10h0m5-11h0m16 2h0m1-8h0m0 12h0m1-18h0"/>
<path stroke="#6c93ff" d="M822 1530h0m0 24h0m4-42h0m1 19h0m15 8h0m8-24h0m1-29h0m0 29h0m1 0h0m5-40h0m2 14h0m9-17h0m7 5h0m1 37h0m18-32h0"/>
<path stroke="#006cff" d="M813 1525h0"/>
<path stroke="#b748b7" d="M852 1569h0m155-47h0m57 1h0"/>
<path stroke="#246cdb" d="M807 1551h0m4-23h0m5 34h0m6-20h0m8-17h0m2-2h0m4-23h0m2 30h0m8-26h0m2 34h0m1 0h0"/>
<path stroke="#ff4893" d="M992 1596h0"/>
<path stroke="#dbb748" d="M906 1613h0"/>
<path stroke="#db24db" d="M930 1565h0m16-32h0m42 0h0m17 13h0m10-9h0m38 11h0"/>
<path stroke="#006c24" d="M795 1616h0"/>
<path stroke="#dbdb24" d="M913 1601h0m8 10h0m1-22h0m9 25h0m2-22h0m4 11h0m3-9h0m1 12h0m14 7h0m4-27h0m8 16h0m7 11h0m5-19h0m1 11h0m8 1h0m2-5h0m24 0h0m1-23h0m3 23h0m3-6h0m10 17h0m2-21h0m1 12h0m2 18h0m2-4h0m2-9h0m8 8h0m15-6h0m3-23h0m1 10h0m6-14h0m2-7h0m4 26h0m2 5h0m2 0h0m2-15h0"/>
<path stroke="#2448b7" d="M792 1574h0m88-57h0"/>
<path stroke="#486cdb" d="M807 1522h0m2 11h0m9-16h0m24-10h0m8 3h0m1 17h0m4-34h0m10-4h0m3-1h0m2 45h0"/>
<path stroke="#249324" d="M808 1595h0m16 17h0"/>
<path stroke="#ff93ff" d="M883 1510h0m5 0h0m33-14h0m8-15h0m8-26h0m13 25h0m8 52h0m2 2h0m2-84h0m15 79h0m6-63h0m1 32h0m4 59h0m5-14h0m11-21h0m5-137h0m6 47h0m4 140h0m5-108h0m6 66h0m19-45h0m3-22h0m1 17h0m3 59h0m11 16h0m5-76h0"/>
<path stroke="#dbb793" d="M1025 1591h0"/>
<path stroke="#006c00" d="M820 1608h0m2 6h0"/>
<path stroke="#dbffff" d="M897 1558h0"/>
<path stroke="#dbb7ff" d="M871 1520h0m2-19h0m27 32h0m4-28h0m132 24h0m27-63h0m9 53h0"/>
<path stroke="#48b7db" d="M827 1555h0"/>
<path stroke="#00006c" d="M793 1593h0"/>
<path stroke="#b74800" d="M901 1625h0"/>
<path stroke="#db6c00" d="M906 1625h0"/>
<path stroke="#ffffdb" d="M1086 1535h0m4-17h0m2 11h0m1-11h0"/>
<path stroke="#ffb7ff" d="M942 1510h0m6-47h0m3-4h0m13 60h0m11-53h0m0 34h0m2 18h0m6-34h0m6 3h0m2 21h0m7-79h0m10 29h0m21 28h0m0 40h0m6-25h0m3-25h0m2-2h0m0 38h0m6-65h0m3 5h0m8 44h0m3-36h0"/>
<path stroke="#b74824" d="M853 1629h0m1-27h0m3-8h0m9 17h0m0 1h0m0 6h0m3-23h0m5 18h0m4 1h0m15 3h0m4-2h0m17-8h0"/>
<path stroke="#9324db" d="M828 1564h0m1-9h0m1-6h0m2 42h0m5-26h0m9 4h0m1 6h0m3 9h0m1-49h0m3 43h0m1-29h0m3 19h0m1-30h0"/>
<path stroke="#b724b7" d="M979 1570h0m41-52h0m15 9h0"/>
<path stroke="#ffdb00" d="M930 1593h0"/>
<path stroke="#ff6c93" d="M933 1582h0m3-14h0m19 11h0m24-14h0m8 28h0m17 7h0m44-34h0"/>
<path stroke="#ff6cff" d="M914 1446h0m23 74h0m9-46h0m0 83h0m3-6h0m5 0h0m7-15h0m2 2h0m1 4h0m5-32h0m1 35h0m11-160h0m2-15h0m0 64h0m2 110h0m1 19h0m5-22h0m6 21h0m4-6h0m1-29h0m7 18h0m14-14h0m26-11h0m2 43h0m1-30h0m0 0h0m1 20h0m11-44h0m4 51h0m1-44h0m2 19h0m9 12h0m1-11h0"/>
<path stroke="#4848ff" d="M816 1557h0m35-41h0m11 20h0"/>
<path stroke="#004800" d="M785 1605h0m3 5h0m1 0h0m4 0h0m3 9h0m1-7h0m1 7h0"/>
<path stroke="#244824" d="M784 1609h0m1 9h0m4 6h0m3-19h0m1 9h0m0 9h0m0 8h0m1-24h0m0 25h0"/>
<path stroke="#4848b7" d="M784 1591h0m11-4h0m5 1h0m7-4h0m62-75h0"/>
<path stroke="#6c6c00" d="M839 1625h0m17 7h0m12-8h0"/>
<path stroke="#24b700" d="M816 1622h0"/>
<path stroke="#4893db" d="M830 1516h0m0 52h0"/>
<path stroke="#9324ff" d="M815 1603h0m29-59h0m7 28h0m16-20h0m11 22h0"/>
<path stroke="#24b7ff" d="M808 1522h0"/>
<path stroke="#ff9348" d="M875 1607h0m9 11h0m10 3h0"/>
<path stroke="#b748db" d="M959 1575h0"/>
<path stroke="#00246c" d="M781 1594h0m7 25h0m1-29h0m2 11h0m1-15h0"/>
<path stroke="#6c6cdb" d="M802 1598h0m4-41h0m44-66h0m11 7h0m2-1h0m4 13h0m11-15h0"/>
<path stroke="#dbdb48" d="M944 1611h0m11 21h0m69-26h0"/>
<path stroke="#b7486c" d="M885 1616h0"/>
<path stroke="#48b748" d="M787 1614h0m6 10h0m6-16h0m11-2h0m19 16h0m13-19h0"/>
<path stroke="#48b724" d="M789 1597h0m0 14h0m10-3h0m1-1h0m5 16h0m8-6h0m3-4h0m3 5h0m0 3h0m9-14h0m0 2h0m5-8h0"/>
<path stroke="#b70048" d="M883 1614h0"/>
<path stroke="#000048" d="M793 1597h0"/>
<path stroke="#009324" d="M819 1584h0m2 25h0m1-9h0m8 12h0"/>
<path stroke="#48dbdb" d="M822 1553h0m5-7h0m16 0h0"/>
<path stroke="#6cdbdb" d="M840 1543h0"/>
<path stroke="#ffffb7" d="M1095 1534h0"/>
<path stroke="#b79324" d="M901 1622h0"/>
<path stroke="#489300" d="M819 1609h0"/>
<path stroke="#db93b7" d="M939 1563h0m5-8h0m8 38h0m62-31h0m4 1h0m4-12h0m18 18h0m3 14h0m11 22h0"/>
<path stroke="#ffdb48" d="M892 1615h0m19-9h0m6 8h0m20 14h0m1-6h0m8 2h0m11-25h0m18 10h0m12-16h0m0 5h0m7 5h0m10 3h0m11-8h0m3 24h0m7-48h0m4 26h0m17 7h0m3-3h0m19-44h0"/>
<path stroke="#246c00" d="M839 1602h0"/>
<path stroke="#244800" d="M795 1603h0m3 15h0"/>
<line x1="761" y1="1556.9" x2="1036.9" y2="1291.7" stroke="#000" stroke-width="3.2" stroke-linecap="butt"/>
</g></g>
<g id="scd">
<rect x="1361.0" y="1291.7" width="408.6" height="359.0" fill="#8c8c8c"/>
<path d="M1428,1291.7V1650.7M1527.2,1291.7V1650.7M1626,1291.7V1650.7M1725,1291.7V1650.7M1361.0,1597H1769.6M1361.0,1521.7H1769.6M1361.0,1446.5H1769.6M1361.0,1371.2H1769.6M1361.0,1296H1769.6" stroke="#b4b4b4" stroke-width="2" fill="none"/>
<path d="M1378.5,1291.7V1650.7M1477.8,1291.7V1650.7M1576.6,1291.7V1650.7M1675.5,1291.7V1650.7M1361.0,1634.7H1769.6M1361.0,1559.2H1769.6M1361.0,1484.1H1769.6M1361.0,1408.9H1769.6M1361.0,1333.4H1769.6" stroke="#b8b8b8" stroke-width="4" fill="none"/>
<path d="M1378.5,1650.7v9.5M1477.8,1650.7v9.5M1576.6,1650.7v9.5M1675.5,1650.7v9.5M1361.0,1634.7h-9.5M1361.0,1559.2h-9.5M1361.0,1484.1h-9.5M1361.0,1408.9h-9.5M1361.0,1333.4h-9.5" stroke="#333" stroke-width="3.8" fill="none"/>
<text x="1378.5" y="1698.3" font-size="33" fill="#4d4d4d" text-anchor="middle" textLength="70" lengthAdjust="spacingAndGlyphs">0.00</text>
<text x="1477.8" y="1698.3" font-size="33" fill="#4d4d4d" text-anchor="middle" textLength="70" lengthAdjust="spacingAndGlyphs">0.01</text>
<text x="1576.6" y="1698.3" font-size="33" fill="#4d4d4d" text-anchor="middle" textLength="70" lengthAdjust="spacingAndGlyphs">0.02</text>
<text x="1675.5" y="1698.3" font-size="33" fill="#4d4d4d" text-anchor="middle" textLength="70" lengthAdjust="spacingAndGlyphs">0.03</text>
<text x="1338.5" y="1646.7" font-size="33" fill="#4d4d4d" text-anchor="end" textLength="70" lengthAdjust="spacingAndGlyphs">0.00</text>
<text x="1338.5" y="1571.2" font-size="33" fill="#4d4d4d" text-anchor="end" textLength="70" lengthAdjust="spacingAndGlyphs">0.01</text>
<text x="1338.5" y="1496.1" font-size="33" fill="#4d4d4d" text-anchor="end" textLength="70" lengthAdjust="spacingAndGlyphs">0.02</text>
<text x="1338.5" y="1420.9" font-size="33" fill="#4d4d4d" text-anchor="end" textLength="70" lengthAdjust="spacingAndGlyphs">0.03</text>
<text x="1338.5" y="1345.4" font-size="33" fill="#4d4d4d" text-anchor="end" textLength="70" lengthAdjust="spacingAndGlyphs">0.04</text>
<text x="1565.3" y="1752" font-size="42.6" text-anchor="middle" textLength="295.4" lengthAdjust="spacingAndGlyphs">Forward offset</text>
<text transform="translate(1250.0,1471.2) rotate(-90)" font-size="42.6" text-anchor="middle" textLength="298" lengthAdjust="spacingAndGlyphs">Reverse offset</text>
<clipPath id="cpd"><rect x="1361.0" y="1291.7" width="408.6" height="359.0"/></clipPath>
<g clip-path="url(#cpd)" fill="none" stroke-linecap="round" stroke-width="6.8">
<path stroke="#24006c" d="M1413 1552h0"/>
<path stroke="#db4800" d="M1406 1631h0m10-15h0"/>
<path stroke="#009324" d="M1421 1614h0m3-6h0m2 6h0m2-3h0m1-4h0"/>
<path stroke="#48b748" d="M1457 1598h0"/>
<path stroke="#b7b7ff" d="M1436 1532h0"/>
<path stroke="#484893" d="M1394 1551h0m10-3h0m5 40h0m2 13h0"/>
<path stroke="#b7ffdb" d="M1502 1596h0m88-48h0"/>
<path stroke="#93dbb7" d="M1476 1610h0m1-17h0m5-26h0m6-12h0"/>
<path stroke="#6c00b7" d="M1382 1538h0"/>
<path stroke="#936cdb" d="M1398 1506h0m3 14h0m15 7h0m0 21h0m4 4h0m2-34h0m0 9h0m20 5h0"/>
<path stroke="#93ff48" d="M1417 1584h0m3 17h0m8-20h0m3 10h0m4 1h0m10-4h0m3 8h0m1 8h0m1-7h0m3-4h0m2 16h0m2-9h0m2-26h0m7 36h0m5-19h0m60 14h0m10-24h0"/>
<path stroke="#482493" d="M1395 1556h0m12 31h0"/>
<path stroke="#b72424" d="M1390 1620h0m8 3h0"/>
<path stroke="#4893b7" d="M1418 1584h0m16-14h0"/>
<path stroke="#b7486c" d="M1393 1599h0"/>
<path stroke="#6cdb48" d="M1428 1586h0m3 4h0m7 0h0m3-25h0m0 42h0m4-31h0m1 23h0m9-6h0m8 0h0m0 16h0m5-8h0m7-26h0m11-5h0m24 25h0"/>
<path stroke="#93dbff" d="M1465 1527h0m2-12h0m4 30h0m8-27h0m3-11h0m2 32h0m8-8h0m2-25h0m0 20h0m0 3h0m1 18h0m6-38h0m51-36h0m19-10h0"/>
<path stroke="#6cdb93" d="M1453 1551h0m2 49h0m10-34h0m9 20h0m1 2h0m2-28h0m0 13h0m1 17h0m0 19h0m2-14h0m7-23h0m2 25h0m1-25h0m7 13h0m4 25h0m4-37h0m12 25h0"/>
<path stroke="#b79348" d="M1407 1626h0"/>
<path stroke="#b72400" d="M1389 1610h0m14 18h0m0 5h0m7-1h0"/>
<path stroke="#002448" d="M1408 1594h0"/>
<path stroke="#48db93" d="M1486 1601h0"/>
<path stroke="#6c00db" d="M1380 1521h0m2 23h0m1-1h0m2-17h0m0 6h0m0 26h0m2-22h0m1 14h0m0 4h0m1-13h0m8 13h0"/>
<path stroke="#48b793" d="M1495 1566h0"/>
<path stroke="#006c93" d="M1417 1581h0"/>
<path stroke="#9324db" d="M1390 1538h0m1-1h0m0 1h0m1 42h0"/>
<path stroke="#6cb7ff" d="M1412 1485h0m69 31h0"/>
<path stroke="#b7dbdb" d="M1515 1581h0m23-32h0m50-7h0"/>
<path stroke="#ffff6c" d="M1519 1620h0m111-36h0m9 11h0m11-15h0m8 22h0m3-7h0m1-21h0m0 15h0m1-18h0m1 28h0m11-31h0m2 18h0m4-17h0m3 23h0m4-12h0m0 10h0m4-24h0m9 5h0m0 8h0m10 2h0m8 19h0"/>
<path stroke="#4800db" d="M1385 1515h0m0 9h0m0 13h0m1-24h0m0 40h0m1 13h0m0 21h0m11-35h0"/>
<path stroke="#93b724" d="M1428 1586h0"/>
<path stroke="#4800b7" d="M1382 1566h0m1 14h0m2 1h0m2-20h0m1 56h0"/>
<path stroke="#ff4824" d="M1390 1630h0m2 3h0m7-19h0m1-1h0"/>
<path stroke="#b7db24" d="M1439 1594h0m13-1h0m43-17h0"/>
<path stroke="#b724ff" d="M1397 1486h0"/>
<path stroke="#486cb7" d="M1403 1560h0m10 34h0m11-7h0m10 8h0m10-10h0"/>
<path stroke="#6cdbb7" d="M1456 1579h0m13 2h0m6-23h0m4 14h0m1-15h0m12 31h0m5-16h0m1-29h0m4 38h0m1 8h0m11-29h0m9 9h0"/>
<path stroke="#00486c" d="M1401 1604h0m1-28h0m3 24h0m4 0h0m2-13h0m1 15h0m9-34h0m3 37h0"/>
<path stroke="#6cffb7" d="M1479 1573h0m8 11h0m1 2h0m2-8h0m2 7h0m0 11h0m2-9h0m1-3h0m0 6h0m0 2h0m5-1h0m4-1h0m6-1h0m6-41h0"/>
<path stroke="#6cff6c" d="M1525 1570h0"/>
<path stroke="#4824ff" d="M1381 1600h0m10-40h0m1 9h0"/>
<path stroke="#dbff24" d="M1430 1629h0m12-9h0m2-7h0m0 9h0m4 6h0m3-9h0m7 9h0m6-39h0m1 16h0m2 21h0m0 2h0m6-17h0m3 19h0m2-25h0m2 6h0m1 5h0m1-6h0m2 1h0m3-8h0m2 11h0m2-9h0m2 10h0m1-2h0m3-11h0m3 10h0m3 0h0m0 19h0m5-21h0m2 8h0m1-14h0m5 17h0"/>
<path stroke="#00246c" d="M1397 1597h0m6-14h0m7 14h0m1 2h0"/>
<path stroke="#246cb7" d="M1405 1580h0m10-22h0m19 9h0m2 14h0"/>
<path stroke="#ffdb93" d="M1680 1554h0m1 11h0m7-14h0m7 13h0m1-3h0"/>
<path stroke="#6cdb24" d="M1446 1605h0m8-2h0m1 23h0m1-28h0m3 12h0m4-32h0m0 28h0m5-7h0m2 6h0m0 7h0m11-25h0"/>
<path stroke="#ffdb6c" d="M1672 1563h0"/>
<path stroke="#ffff48" d="M1420 1617h0m2 2h0m0 8h0m1 1h0m9-10h0m3-1h0m0 11h0m6 2h0m1-11h0m3 4h0m3 10h0m8-18h0m2 5h0m5-9h0m2 10h0m2-1h0m1-43h0m1 47h0m2-6h0m4-20h0m6 16h0m1-8h0m3-3h0m1-1h0m0 3h0m3-7h0m1 14h0m2-12h0m1 3h0m0 14h0m2-24h0m1 28h0m0 6h0m5 0h0m2-26h0m1-8h0m0 14h0m7-2h0m5 12h0m1-8h0m10 5h0m2 19h0m1-31h0m111-18h0m15-27h0m5 9h0m5 48h0m6-22h0m7-22h0m2 35h0m4-14h0m5 16h0m1-18h0m3 2h0m1-10h0m1 11h0m5-10h0m2 1h0m1 12h0m9-7h0m1-24h0m0 12h0"/>
<path stroke="#936c00" d="M1408 1629h0m4-2h0m4 1h0m6-3h0"/>
<path stroke="#48db6c" d="M1489 1587h0"/>
<path stroke="#4848ff" d="M1390 1565h0"/>
<path stroke="#b76cff" d="M1411 1539h0m3-20h0m9-2h0m12-3h0m0 16h0m6-9h0m1-7h0m5 35h0"/>
<path stroke="#249393" d="M1426 1560h0"/>
<path stroke="#48db24" d="M1443 1591h0m6 2h0"/>
<path stroke="#004893" d="M1395 1590h0m15-9h0m15-7h0"/>
<path stroke="#db24ff" d="M1389 1513h0m1-23h0m16 11h0"/>
<path stroke="#2424b7" d="M1380 1512h0m4 87h0m8-39h0m2 3h0m5-15h0m7-7h0"/>
<path stroke="#2424db" d="M1389 1530h0m4 31h0"/>
<path stroke="#6c48b7" d="M1406 1520h0m1 44h0m2-6h0m11 4h0m1 44h0m6-67h0"/>
<path stroke="#dbff48" d="M1422 1614h0m30 4h0m13-30h0m21 28h0m4 1h0m8-24h0m2 15h0m5 3h0m16 20h0m7-18h0m169-22h0"/>
<path stroke="#24246c" d="M1404 1609h0m1-40h0m7 18h0m3-5h0"/>
<path stroke="#dbff6c" d="M1666 1600h0m44-13h0"/>
<path stroke="#6c6cdb" d="M1413 1491h0m4 25h0m6 17h0m1-30h0m4 23h0m2-27h0m1 63h0m9-86h0"/>
<path stroke="#ffffb7" d="M1675 1547h0m19 2h0m20 2h0"/>
<path stroke="#b70024" d="M1387 1627h0m10 1h0"/>
<path stroke="#0000b7" d="M1383 1582h0"/>
<path stroke="#6cffdb" d="M1490 1561h0m3-3h0m2-10h0m0 17h0m5-15h0m1 9h0m2-15h0m7 21h0m3-2h0m8 8h0m2-1h0m3-6h0m5-11h0m5 7h0"/>
<path stroke="#9393db" d="M1429 1494h0"/>
<path stroke="#936c24" d="M1411 1629h0m1 2h0"/>
<path stroke="#ffdb00" d="M1451 1621h0m8-5h0"/>
<path stroke="#93db48" d="M1426 1586h0m15 8h0m14 4h0m8 15h0m13-14h0m47-24h0m15 39h0m12-25h0"/>
<path stroke="#93ff6c" d="M1446 1575h0m11 11h0m13 18h0m71 0h0"/>
<path stroke="#dbdb00" d="M1447 1613h0m2-5h0m3 6h0m22 8h0m5 10h0m30-26h0m31 16h0"/>
<path stroke="#930024" d="M1384 1602h0m6 8h0m2-5h0"/>
<path stroke="#db2424" d="M1385 1626h0m5-5h0m2-9h0m0 6h0m2 11h0m1-15h0m0 7h0m1-2h0m4 13h0"/>
<path stroke="#b748db" d="M1411 1489h0"/>
<path stroke="#b7ff24" d="M1503 1614h0"/>
<path stroke="#934800" d="M1402 1628h0m17-3h0"/>
<path stroke="#b793ff" d="M1403 1535h0m6-46h0m2 47h0m3-11h0m6 0h0m0 24h0m9-56h0m10 18h0"/>
<path stroke="#dbffff" d="M1434 1543h0m15 11h0m4-4h0m4 13h0m2-21h0m1-13h0m0 40h0m3-37h0m4 15h0m2-14h0m0 12h0m6 35h0m6-37h0m68 78h0m35-123h0m7 72h0m20-154h0m12 141h0"/>
<path stroke="#242493" d="M1389 1547h0m8 8h0m9 2h0m7-18h0"/>
<path stroke="#244848" d="M1398 1598h0"/>
<path stroke="#4824b7" d="M1381 1587h0m4-31h0m0 16h0m2-10h0m5 33h0m1-49h0m8 7h0m2-7h0m0 20h0m3-11h0m2 2h0m3-27h0m6 24h0"/>
<path stroke="#4824db" d="M1385 1609h0m2-40h0m16-20h0m4 15h0m0 7h0m12-5h0"/>
<path stroke="#ff93ff" d="M1402 1459h0m16-4h0m2-7h0"/>
<path stroke="#93dbdb" d="M1482 1487h0"/>
<path stroke="#b7db00" d="M1452 1620h0"/>
<path stroke="#2493b7" d="M1421 1587h0"/>
<path stroke="#6c0000" d="M1381 1596h0"/>
<path stroke="#939348" d="M1411 1628h0"/>
<path stroke="#6c93ff" d="M1414 1470h0m8 13h0m4-5h0m4 31h0m4-14h0m4 10h0m13-13h0m3 10h0"/>
<path stroke="#b7dbff" d="M1407 1530h0m22 22h0m38-30h0m4 5h0m105-115h0m4 153h0"/>
<path stroke="#930000" d="M1385 1607h0m2-5h0m0 6h0"/>
<path stroke="#486cdb" d="M1439 1496h0"/>
<path stroke="#93ff24" d="M1556 1608h0"/>
<path stroke="#93db24" d="M1416 1613h0m15-3h0m15-12h0m3 5h0m2 0h0m5-12h0m18 22h0m6-7h0m51-62h0"/>
<path stroke="#48486c" d="M1400 1593h0"/>
<path stroke="#b7ffff" d="M1447 1531h0m21 23h0m43 1h0m45-99h0m24 85h0m2-82h0m5 136h0m4-119h0m3-21h0m54-3h0m35-4h0"/>
<path stroke="#9348db" d="M1393 1513h0m1 55h0m5-56h0m9 20h0m2-7h0m4-1h0m15 3h0m14-32h0"/>
<path stroke="#ff6c24" d="M1397 1629h0m1-1h0m5-4h0"/>
<path stroke="#db0024" d="M1386 1620h0m7 12h0"/>
<path stroke="#000093" d="M1410 1539h0m6 10h0"/>
<path stroke="#db48db" d="M1399 1465h0m0 45h0m8-35h0m1-8h0m1-32h0m4-38h0m0 87h0m0 11h0m2-35h0"/>
<path stroke="#b724b7" d="M1416 1462h0"/>
<path stroke="#dbdbff" d="M1401 1567h0m1-8h0m14-31h0m8-47h0m1 39h0m2-2h0m5-1h0m0 14h0m1 40h0m1-43h0m1 22h0m3-64h0m0 53h0m1-6h0m1 24h0m1-62h0m1 16h0m0 8h0m2 60h0m2-116h0m3 78h0m0 23h0m1-65h0m2 42h0m0 4h0m1 39h0m1-100h0m0 21h0m0 16h0m1 2h0m0 6h0m0 12h0m1-51h0m1 79h0m1-43h0m0 4h0m0 12h0m0 1h0m1 41h0m1-24h0m1-87h0m0 45h0m1 18h0m0 9h0m2 8h0m1-73h0m1 63h0m2 11h0m2-12h0m0 9h0m0 7h0m1-21h0m0 3h0m0 34h0m2-53h0m1-11h0m1 29h0m4-12h0m2-24h0m11 11h0m3-13h0m1 19h0m5 14h0"/>
<path stroke="#6c48db" d="M1390 1589h0m10-19h0m1 31h0m4-2h0m1-28h0m2-35h0m3 38h0m12-55h0m5 8h0"/>
<path stroke="#dbb7db" d="M1458 1494h0m2 14h0m6-41h0m1 78h0"/>
<path stroke="#249324" d="M1413 1618h0m2-1h0m7 14h0m2-21h0m0 10h0m6-7h0"/>
<path stroke="#ff24ff" d="M1396 1511h0m4 22h0m1-49h0m0 44h0m2-10h0m4-11h0m0 8h0m5-58h0"/>
<path stroke="#2448b7" d="M1402 1602h0m7-43h0"/>
<path stroke="#6c0024" d="M1383 1607h0"/>
<path stroke="#6cff48" d="M1450 1595h0"/>
<path stroke="#ff9348" d="M1399 1628h0"/>
<path stroke="#6c6cff" d="M1408 1555h0m2-45h0m3 7h0m7-11h0m4-7h0m1-4h0m6-2h0m4 11h0m1-21h0m11 5h0"/>
<path stroke="#939324" d="M1409 1626h0"/>
<path stroke="#b7ff6c" d="M1431 1582h0m10 38h0m5-23h0m71-18h0m1 13h0m17-3h0m9-11h0m1 33h0"/>
<path stroke="#24b748" d="M1420 1618h0m1 3h0m3-14h0m9 4h0"/>
<path stroke="#ffffff" d="M1427 1548h0m5-19h0m14-4h0m1 6h0m5 13h0m21-12h0m16 26h0m8-4h0m69-138h0m59 92h0m33-32h0m2-13h0m2 8h0m2 17h0m9-8h0m1-171h0m4 193h0m3-15h0m2-26h0m4 30h0m0 29h0m3-36h0m1 10h0m2 4h0m1-10h0m2 45h0m5-32h0m0 3h0m1-24h0m0 21h0m2 13h0m2-17h0m3-25h0m0 12h0m3 17h0m1-14h0m0 3h0m1-11h0m19 27h0m44-6h0"/>
<path stroke="#ffdbff" d="M1416 1546h0m11 4h0m11 9h0m5-88h0m0 3h0m12-3h0m3 14h0m0 110h0m2-103h0m0 47h0m3-17h0m3-45h0m0 9h0m7 60h0m1-11h0m8 11h0"/>
<path stroke="#dbb748" d="M1679 1580h0"/>
<path stroke="#6c6c00" d="M1411 1626h0m5 3h0"/>
<path stroke="#ffb7ff" d="M1481 1477h0"/>
<path stroke="#ffdbb7" d="M1695 1554h0"/>
<path stroke="#b70000" d="M1388 1610h0m2 12h0m1-6h0m2 8h0"/>
<path stroke="#9300db" d="M1383 1517h0m0 13h0m0 32h0m4-29h0"/>
<path stroke="#9324ff" d="M1381 1503h0m2 44h0m1-28h0m2-9h0m0 39h0m1-4h0m1 2h0m0 9h0m1-29h0m0 35h0m8-17h0"/>
<path stroke="#b76c00" d="M1415 1628h0"/>
<path stroke="#b74824" d="M1397 1623h0m2 8h0m3-11h0m6 6h0"/>
<path stroke="#489393" d="M1432 1604h0"/>
<path stroke="#6c48ff" d="M1384 1584h0m3 20h0m12-51h0"/>
<path stroke="#486c93" d="M1409 1580h0"/>
<path stroke="#9300ff" d="M1382 1552h0m7-38h0m8 9h0m3 15h0"/>
<path stroke="#ff2424" d="M1392 1610h0"/>
<path stroke="#24b724" d="M1423 1621h0"/>
<path stroke="#93ffdb" d="M1456 1576h0m34 36h0m19-35h0m1-18h0m4 22h0m17-32h0m2-8h0m14-8h0m49 60h0m4-144h0"/>
<path stroke="#480093" d="M1387 1591h0m25-28h0"/>
<path stroke="#b724db" d="M1397 1473h0m8-21h0"/>
<path stroke="#6c24db" d="M1381 1522h0m2 0h0m2 7h0m0 21h0m1-37h0m0 63h0m3-16h0m3-25h0m14 38h0"/>
<path stroke="#ff6cff" d="M1402 1448h0m10 41h0m1-5h0m1-7h0m0 5h0m3 9h0m6-71h0m1-3h0m3 71h0"/>
<path stroke="#b79324" d="M1416 1625h0"/>
<path stroke="#dbb700" d="M1441 1614h0"/>
<path stroke="#ff2448" d="M1395 1619h0"/>
<path stroke="#932424" d="M1384 1599h0m0 8h0m3 5h0m3 2h0"/>
<path stroke="#b76c24" d="M1398 1619h0"/>
<path stroke="#db24db" d="M1383 1528h0m0 12h0m4-4h0m2-50h0m2 14h0m1 13h0m7-37h0m3 10h0m3 1h0m1-21h0m17 5h0"/>
<path stroke="#b700db" d="M1391 1493h0m8 10h0m2-4h0"/>
<path stroke="#4848b7" d="M1393 1550h0m3-16h0m0 33h0m4-6h0m2-20h0m1-42h0m0 39h0m1 47h0m2-14h0m5-64h0m3 17h0"/>
<path stroke="#6c24ff" d="M1386 1597h0m3-80h0m0 55h0m4-71h0"/>
<path stroke="#db6c24" d="M1392 1626h0m6-8h0m3 8h0m10 2h0"/>
<path stroke="#6c24b7" d="M1384 1555h0m16 3h0m1 41h0"/>
<path stroke="#6cffff" d="M1521 1571h0"/>
<path stroke="#b7ff48" d="M1538 1612h0m5-47h0"/>
<path stroke="#930048" d="M1384 1605h0m1-4h0"/>
<path stroke="#ffff93" d="M1661 1561h0m3-3h0m19 4h0m28 6h0m3 9h0"/>
<path stroke="#db6cdb" d="M1385 1448h0m15 45h0m12-52h0m9-24h0m0 50h0"/>
<path stroke="#ffdb24" d="M1433 1616h0m4-3h0m3 3h0m4-1h0m0 1h0m9 7h0m0 5h0m1-1h0m2 4h0m8-5h0m4-2h0m2-4h0m13-7h0m18 0h0"/>
<path stroke="#ffdb48" d="M1450 1619h0m3 3h0m3 0h0m47 5h0m152-44h0m16-30h0m36 36h0"/>
<path stroke="#b74848" d="M1392 1610h0"/>
<path stroke="#93db93" d="M1507 1590h0"/>
<path stroke="#936cff" d="M1394 1534h0m10-4h0m1 12h0m2-17h0m4 32h0m2-44h0m1 18h0m5 5h0m0 4h0m1-17h0m1-2h0m0 4h0m0 14h0m0 19h0m1-31h0m3 2h0m0 18h0m0 26h0m4-36h0m4-21h0m1 9h0m5-26h0m3 74h0m13-17h0"/>
<path stroke="#4848db" d="M1384 1590h0m18-26h0m5 17h0"/>
<path stroke="#ff2400" d="M1394 1628h0"/>
<path stroke="#6cb700" d="M1444 1608h0"/>
<path stroke="#6c93db" d="M1435 1505h0m15 13h0"/>
<path stroke="#486cff" d="M1397 1565h0m24-48h0m26-25h0m1-3h0"/>
<path stroke="#93ffb7" d="M1465 1583h0m1-3h0m5-12h0m6 3h0m0 30h0m1-11h0m10-31h0m5 34h0m1-44h0m0 37h0m3-17h0m0 13h0m4 1h0m0 20h0m7-46h0m1 17h0m1-26h0m7 13h0"/>
<path stroke="#244893" d="M1407 1612h0m2-18h0m20 4h0m13-26h0"/>
<path stroke="#dbdb48" d="M1490 1615h0m155-47h0m3 16h0m6 6h0m4 1h0m16-1h0m46-17h0"/>
<path stroke="#6c00ff" d="M1382 1538h0m1 24h0m7-12h0m1-28h0m4 26h0"/>
<path stroke="#93ff93" d="M1498 1568h0"/>
<path stroke="#ff48db" d="M1408 1502h0"/>
<path stroke="#db00ff" d="M1391 1494h0m6 11h0m3 0h0"/>
<path stroke="#db00b7" d="M1386 1485h0m5 52h0"/>
<path stroke="#dbff00" d="M1487 1631h0"/>
<path stroke="#246c6c" d="M1423 1585h0"/>
<path stroke="#6cb7db" d="M1505 1520h0"/>
<path stroke="#db4824" d="M1400 1631h0m1-9h0m4 9h0"/>
<path stroke="#93b7ff" d="M1427 1491h0m25 8h0"/>
<path stroke="#db00db" d="M1388 1515h0m3 18h0m2-50h0m0 33h0m2-16h0m0 14h0m2-14h0m2 11h0m2 9h0m1 8h0m6-9h0m1-24h0"/>
<path stroke="#48b724" d="M1443 1593h0m3 14h0m29-14h0"/>
<path stroke="#6cdbdb" d="M1467 1533h0m27 14h0m1 15h0m4 2h0m15-18h0"/>
<path stroke="#24486c" d="M1396 1584h0m5 15h0m0 1h0m6-16h0m0 8h0m1-4h0m2 3h0m0 21h0m1-8h0"/>
<path stroke="#db6cff" d="M1397 1496h0m7-31h0m4-11h0m16-21h0"/>
<path stroke="#240093" d="M1394 1573h0m2-42h0"/>
<path stroke="#b76cdb" d="M1410 1492h0m2-6h0"/>
<path stroke="#93ffff" d="M1459 1540h0m7 4h0m1-6h0m2-28h0m1 38h0m2-27h0m1 20h0m2-13h0m7-11h0m1 28h0m6-31h0m6 3h0m5 5h0m0 28h0m1-16h0m1 6h0m1-16h0m1 1h0m8 3h0m0 8h0m0 10h0m15-4h0m13-119h0m51 135h0"/>
<path stroke="#2400b7" d="M1381 1566h0m1-11h0m0 28h0m5-7h0m1 11h0"/>
<path stroke="#6cdbff" d="M1438 1530h0m48-1h0m22-9h0m16 44h0"/>
<path stroke="#249348" d="M1425 1615h0m0 2h0m3-6h0m6 7h0"/>
<path stroke="#ff24db" d="M1391 1491h0m0 19h0m2 14h0m1-37h0m0 17h0m4 29h0m15-3h0"/>
<path stroke="#db0000" d="M1388 1614h0m1 9h0m3-5h0m1 9h0m3 2h0"/>
<path stroke="#b7db48" d="M1440 1600h0m19-5h0m52 0h0m11 25h0m129-29h0"/>
<path stroke="#db48ff" d="M1398 1474h0m16 1h0m1-6h0m3-3h0m5-4h0"/>
<path stroke="#246c93" d="M1415 1581h0m4-13h0m2 15h0m1-11h0m7-1h0m4 11h0m3-3h0m7-5h0"/>
<path stroke="#246c24" d="M1418 1614h0"/>
<path stroke="#dbb76c" d="M1721 1577h0"/>
<path stroke="#dbdb24" d="M1413 1626h0m12-10h0m1-9h0m2 20h0m7-18h0m4-1h0m2 15h0m2 6h0m2-15h0m1 4h0m1-4h0m2 1h0m1-8h0m2 11h0m1-3h0m2 12h0m5-9h0m2 7h0m4-7h0m2 3h0m5-16h0m0 15h0m2-6h0m3 0h0m5-21h0m0 17h0m1 7h0m10-28h0m2 22h0m1 4h0m1-2h0m1-16h0m1 3h0m5 14h0m1 9h0m1 4h0m12-27h0m3 30h0m9-15h0m1 2h0m170-46h0m23 18h0"/>
<path stroke="#db4848" d="M1414 1631h0"/>
<path stroke="#ffff24" d="M1420 1612h0m5 15h0m1 0h0m2-1h0m2-10h0m1 7h0m4 1h0m3 1h0m2-14h0m0 15h0m1-10h0m0 15h0m1-4h0m1-6h0m2 3h0m8-13h0m0 16h0m1 1h0m1-5h0m0 2h0m1 4h0m1-9h0m1-5h0m1 6h0m1-5h0m13 6h0m1-3h0m7 7h0m11-34h0m6 36h0m5-29h0m4 14h0m13-1h0m3 19h0m9-7h0"/>
<path stroke="#6cb793" d="M1464 1593h0"/>
<path stroke="#b7dbb7" d="M1610 1502h0"/>
<path stroke="#2400ff" d="M1383 1592h0"/>
<path stroke="#936cb7" d="M1393 1527h0m46-36h0"/>
<path stroke="#9348ff" d="M1384 1582h0m3-66h0m15 34h0m12-37h0m8-20h0m4 37h0"/>
<path stroke="#ff48ff" d="M1387 1506h0m7-13h0m4-15h0m1 9h0m4 16h0m1 29h0m4-64h0"/>
<path stroke="#ff6c48" d="M1408 1631h0m1-2h0m1-9h0"/>
<path stroke="#ff6cdb" d="M1420 1428h0m4-60h0m1 101h0"/>
<path stroke="#db48b7" d="M1411 1433h0"/>
<path stroke="#db2400" d="M1389 1619h0"/>
<path stroke="#b72448" d="M1387 1612h0m0 5h0m2-9h0"/>
<path stroke="#b700b7" d="M1398 1511h0"/>
<path stroke="#b7b7db" d="M1422 1584h0m39-76h0m26 18h0"/>
<path stroke="#dbb7ff" d="M1426 1470h0m14 0h0m0 26h0m0 4h0m4-28h0m0 6h0m6 4h0m0 3h0m1-1h0m1 11h0m2-3h0m19 35h0m1-38h0"/>
<path stroke="#dbdbdb" d="M1428 1511h0m5 20h0m0 25h0m11-39h0m3 11h0m4-30h0m0 56h0m3-35h0m1-4h0m0 26h0m9-26h0m8 14h0m11 48h0"/>
<path stroke="#9393ff" d="M1396 1550h0m0 1h0m14-39h0m13 16h0m1-29h0m5 21h0m3-51h0m12 94h0m9-51h0"/>
<path stroke="#6cff93" d="M1453 1583h0m4 6h0m11-25h0m7 17h0m5 11h0m1-24h0m2 44h0m2-34h0m2-5h0m2 15h0m2-3h0m7-15h0m2 32h0m0 6h0m8-54h0m8 32h0"/>
<path stroke="#2448db" d="M1425 1500h0"/>
<path stroke="#b748ff" d="M1448 1508h0"/>
<path stroke="#db4800" d="M1396 1624h0"/>
<path stroke="#930048" d="M1382 1599h0m4 0h0m0 19h0m1-1h0"/>
<path stroke="#b79324" d="M1409 1629h0"/>
<path stroke="#489348" d="M1419 1605h0"/>
<path stroke="#6c24b7" d="M1383 1585h0m18-7h0"/>
<path stroke="#ffff6c" d="M1438 1622h0m207-44h0m1 2h0m9-3h0m3-3h0m9 18h0m4 10h0m1-25h0m9 12h0m0 5h0m1 20h0m4-23h0m2-6h0m0 11h0m4-31h0m6 21h0m0 11h0m6-27h0m1 3h0m1 25h0m7 8h0m5-24h0m4 9h0m12 17h0"/>
<path stroke="#ffff93" d="M1673 1551h0m8-1h0m3-5h0m4 9h0m7 6h0m25 30h0"/>
<path stroke="#ffb7ff" d="M1449 1486h0"/>
<path stroke="#ffdb24" d="M1436 1626h0m1 7h0m6-14h0m0 1h0m5-1h0m5 8h0m2 2h0m5-14h0m2 6h0m17 2h0m47 7h0m152-54h0"/>
<path stroke="#93db93" d="M1477 1599h0"/>
<path stroke="#6cdb24" d="M1421 1594h0m1-4h0m26 3h0m7 0h0m7 3h0m0 3h0m3 3h0m2-14h0m5-9h0"/>
<path stroke="#6cb700" d="M1433 1584h0"/>
<path stroke="#48b748" d="M1422 1621h0"/>
<path stroke="#93ffdb" d="M1436 1579h0m30-38h0m35-8h0m6 11h0m4 2h0m15 17h0m5-12h0"/>
<path stroke="#b7dbdb" d="M1471 1548h0m71-23h0m17-57h0m58 45h0"/>
<path stroke="#6cdbdb" d="M1498 1526h0m3 44h0m5-41h0m1 7h0m10 14h0m2 11h0m11-2h0m6 1h0"/>
<path stroke="#9393db" d="M1424 1510h0"/>
<path stroke="#93ffb7" d="M1448 1579h0m10 8h0m8-31h0m3 17h0m0 27h0m1-23h0m10 34h0m1-9h0m2-12h0m1-21h0m1 26h0m3-33h0m2 21h0m2-21h0m0 13h0m0 10h0m6 21h0m1-12h0m3-42h0m11 31h0m2-18h0m2 11h0"/>
<path stroke="#6c93ff" d="M1411 1521h0m5-39h0m1 19h0m1-28h0m5 40h0m4-30h0m0 21h0m1-32h0m1 8h0m1 11h0m3-20h0m3 9h0m2-2h0m3 25h0m2-4h0m2 14h0m2-15h0m5-4h0"/>
<path stroke="#6cdb00" d="M1441 1597h0m34 8h0m1-20h0"/>
<path stroke="#9324ff" d="M1385 1596h0m3-42h0m1-14h0m3-15h0m1 14h0m4-5h0"/>
<path stroke="#936c00" d="M1412 1627h0m0 6h0"/>
<path stroke="#db93ff" d="M1416 1534h0m5 13h0"/>
<path stroke="#6cb793" d="M1472 1580h0m19 5h0"/>
<path stroke="#4800ff" d="M1381 1538h0m1-35h0m4 45h0m7-3h0"/>
<path stroke="#93b748" d="M1438 1594h0m11-5h0"/>
<path stroke="#6cff24" d="M1429 1574h0m12 29h0m4-19h0m6 41h0m16-23h0"/>
<path stroke="#93ff6c" d="M1470 1598h0m67-10h0"/>
<path stroke="#b724db" d="M1412 1487h0"/>
<path stroke="#93db24" d="M1427 1594h0m64-10h0"/>
<path stroke="#ffffff" d="M1433 1525h0m3 24h0m10 7h0m13-12h0m4 24h0m1-24h0m4-4h0m7 7h0m21-135h0m117 142h0m43-31h0m1-63h0m4 38h0m0 29h0m1-21h0m5-15h0m7 27h0m2-21h0m4-3h0m2 33h0m2-39h0m8 29h0m1 13h0m3-38h0m2 1h0m2-8h0m0 9h0m4-23h0m3 12h0m6 20h0m2-13h0m0 8h0m5 19h0m23-38h0m3-10h0m3 47h0m13-8h0"/>
<path stroke="#936c48" d="M1414 1630h0"/>
<path stroke="#db00ff" d="M1402 1508h0"/>
<path stroke="#db6cff" d="M1401 1476h0m13 0h0m6-66h0m2 11h0m0 56h0m2 10h0"/>
<path stroke="#4824db" d="M1382 1549h0m1-13h0m2 50h0m1 26h0m1-5h0m1-67h0m0 24h0m15-17h0m2 12h0m0 3h0"/>
<path stroke="#b7db00" d="M1442 1623h0m14-5h0"/>
<path stroke="#24b724" d="M1422 1617h0"/>
<path stroke="#ff2448" d="M1385 1610h0m4 4h0"/>
<path stroke="#246cb7" d="M1416 1572h0m2-12h0m8 8h0m1 12h0"/>
<path stroke="#6cb724" d="M1427 1579h0m21 3h0"/>
<path stroke="#db48db" d="M1383 1475h0m12 19h0m8 5h0m3-38h0m0 7h0m2 14h0m5-19h0m0 8h0m1-28h0m0 33h0m2 7h0m1-11h0m6-5h0"/>
<path stroke="#24b7b7" d="M1416 1595h0"/>
<path stroke="#6c6c00" d="M1412 1623h0"/>
<path stroke="#0048b7" d="M1443 1582h0"/>
<path stroke="#93db48" d="M1433 1601h0m5-11h0m21 10h0m1-9h0m4 1h0m0 5h0m54-5h0m2 25h0m24-31h0m11 41h0"/>
<path stroke="#dbff6c" d="M1672 1592h0m22-12h0m8 3h0m5 1h0m11-3h0"/>
<path stroke="#dbdb00" d="M1434 1631h0m11-13h0m4-11h0m12 11h0m32-6h0m32-9h0"/>
<path stroke="#ff9324" d="M1400 1628h0"/>
<path stroke="#6c00ff" d="M1386 1530h0m0 29h0m7-53h0m0 54h0m1-9h0"/>
<path stroke="#db2400" d="M1388 1632h0m2-1h0"/>
<path stroke="#6cdbb7" d="M1488 1562h0m2 29h0m2-56h0m6 44h0m21 5h0"/>
<path stroke="#9324b7" d="M1416 1498h0"/>
<path stroke="#b7ffff" d="M1458 1518h0m18 18h0m46-34h0m22 50h0m14-119h0m16 94h0m2-22h0m1 60h0m10-113h0m4-7h0m4 18h0"/>
<path stroke="#006c93" d="M1415 1588h0"/>
<path stroke="#24b748" d="M1418 1612h0m1-1h0m5 0h0"/>
<path stroke="#4800db" d="M1381 1594h0m1-81h0m1 72h0m1 4h0m1 12h0m3-51h0"/>
<path stroke="#48db93" d="M1467 1587h0m7-22h0m8 20h0m1 7h0m16-14h0"/>
<path stroke="#db00db" d="M1382 1498h0m3 46h0m5-68h0m1 13h0m5 28h0m2 6h0m1-6h0m8-22h0"/>
<path stroke="#ff93ff" d="M1414 1434h0m7-55h0m1 89h0m1-13h0m4-78h0"/>
<path stroke="#242493" d="M1386 1569h0m15 29h0"/>
<path stroke="#ff6cff" d="M1404 1454h0m1 33h0m9 0h0m5-109h0m0 43h0m3 12h0m0 34h0m1-66h0"/>
<path stroke="#24486c" d="M1390 1597h0m7-19h0m39-2h0"/>
<path stroke="#9300ff" d="M1386 1507h0m6 3h0"/>
<path stroke="#9393ff" d="M1406 1531h0m7 29h0m30-72h0m0 16h0m0 15h0m1-22h0m2-16h0m2-3h0"/>
<path stroke="#dbdb24" d="M1426 1612h0m2 6h0m1-2h0m14 3h0m5-2h0m3 2h0m0 0h0m4 4h0m2 10h0m2-14h0m8-3h0m10 3h0m2-8h0m1-7h0m6 8h0m2-13h0m1 5h0m0 10h0m3 1h0m3 14h0m1-25h0m4 6h0m4 5h0m23-17h0m17 19h0m138-37h0"/>
<path stroke="#db24db" d="M1385 1537h0m4-66h0m4 16h0m0 4h0m3 8h0m3 8h0m1-13h0m2-3h0m5 33h0"/>
<path stroke="#93b793" d="M1490 1571h0"/>
<path stroke="#b7ff00" d="M1506 1614h0"/>
<path stroke="#dbdb6c" d="M1678 1610h0"/>
<path stroke="#930024" d="M1380 1607h0m11 10h0"/>
<path stroke="#db24ff" d="M1390 1515h0m2-8h0m0 4h0m17 16h0"/>
<path stroke="#ff4848" d="M1397 1629h0m7-13h0"/>
<path stroke="#b748b7" d="M1406 1468h0m2 13h0"/>
<path stroke="#6c6cff" d="M1416 1505h0m4-10h0m7-6h0m0 6h0m4 36h0m11-53h0m2 0h0m5 70h0m7-1h0"/>
<path stroke="#b700db" d="M1402 1506h0m10-7h0"/>
<path stroke="#dbdbdb" d="M1424 1539h0m2-29h0m6-17h0m8 54h0m6 0h0m0 7h0m6-13h0m1-18h0m1 9h0m2 34h0m5-19h0m2-11h0m2 1h0m24-4h0m3-48h0"/>
<path stroke="#ff2424" d="M1386 1618h0m1-4h0m1 11h0"/>
<path stroke="#244893" d="M1400 1583h0m2 4h0m3 3h0m12-36h0m18 22h0"/>
<path stroke="#dbb724" d="M1493 1618h0"/>
<path stroke="#db6c48" d="M1407 1633h0m6-11h0"/>
<path stroke="#db4824" d="M1393 1627h0m13 6h0"/>
<path stroke="#004848" d="M1401 1590h0m2-8h0m2 29h0"/>
<path stroke="#9300db" d="M1386 1536h0m2 12h0"/>
<path stroke="#48db00" d="M1446 1613h0m33-20h0"/>
<path stroke="#4848db" d="M1385 1554h0m12-24h0m5 7h0m1 22h0m2 0h0m2 5h0m1 8h0"/>
<path stroke="#93dbb7" d="M1495 1585h0m2-10h0m9-34h0"/>
<path stroke="#4893b7" d="M1410 1580h0m3-4h0"/>
<path stroke="#ff6c48" d="M1404 1623h0"/>
<path stroke="#db2424" d="M1393 1625h0m4 2h0m1 0h0"/>
<path stroke="#b72424" d="M1385 1600h0m0 16h0m0 11h0m3-23h0m1 8h0"/>
<path stroke="#6cff48" d="M1405 1619h0m24-38h0m16 17h0"/>
<path stroke="#dbb748" d="M1697 1601h0"/>
<path stroke="#6c00db" d="M1383 1523h0m1 84h0m1-93h0m0 56h0m3-52h0m9 8h0"/>
<path stroke="#6cdb48" d="M1429 1603h0m24-3h0m4-3h0m11 14h0m2-28h0m4 19h0m16-1h0"/>
<path stroke="#6c48db" d="M1385 1583h0m11-26h0m4 29h0m2-68h0m0 62h0m1-7h0m1-21h0m0 5h0m0 14h0m7-30h0m2 41h0m14-47h0m1-4h0m31 0h0"/>
<path stroke="#4848ff" d="M1388 1579h0m9-48h0"/>
<path stroke="#93ff24" d="M1444 1609h0m11-7h0m2-10h0m28-2h0m76 19h0"/>
<path stroke="#db6cdb" d="M1394 1463h0m13 29h0m15-32h0m7-42h0"/>
<path stroke="#ffff48" d="M1426 1630h0m5-18h0m3 5h0m5 7h0m4-4h0m1-11h0m0 6h0m3-13h0m0 14h0m1 6h0m2 7h0m5-13h0m2 5h0m8-19h0m0 14h0m3 3h0m7-19h0m9 22h0m2 0h0m2-11h0m3 19h0m10-31h0m0 20h0m0 2h0m2-5h0m4 1h0m1-13h0m5 5h0m4 4h0m0 8h0m3-22h0m2 12h0m13 14h0m4-20h0m102-4h0m7 7h0m15-16h0m1-10h0m0 1h0m1 2h0m13-13h0m7 7h0m3 9h0m12 3h0m3 4h0m11-6h0"/>
<path stroke="#484893" d="M1448 1580h0"/>
<path stroke="#dbdbff" d="M1406 1555h0m0 39h0m3-45h0m7-14h0m0 11h0m1 4h0m1-5h0m0 14h0m0 2h0m2-40h0m3 48h0m1-31h0m0 36h0m1 4h0m1-42h0m1 33h0m3-5h0m4-14h0m2 23h0m1-68h0m0 72h0m1-45h0m1-15h0m0 15h0m0 5h0m1-80h0m0 92h0m1-46h0m0 33h0m0 25h0m1-60h0m1 25h0m0 21h0m0 3h0m1-86h0m1 30h0m0 12h0m0 12h0m0 26h0m0 17h0m1-57h0m1 42h0m1 2h0m0 17h0m1-18h0m0 2h0m1-56h0m0 38h0m0 12h0m1-6h0m0 2h0m2 4h0m0 13h0m1-6h0m1-13h0m0 6h0m0 0h0m1-70h0m0 69h0m1 1h0m1 6h0m1-81h0m1 67h0m0 8h0m2 18h0m0 0h0m1-17h0m0 8h0m2-34h0m0 19h0m2-10h0m0 53h0m1-54h0m0 17h0m0 8h0m0 34h0m1-40h0m2-14h0m1 5h0m2 51h0m1-86h0m0 34h0m1 20h0m0 5h0m1-72h0m1 19h0m1 81h0m3-10h0m2-65h0m0 16h0m1 24h0m7-68h0m2 64h0m4-6h0m10-17h0"/>
<path stroke="#ff00db" d="M1387 1527h0m14-48h0"/>
<path stroke="#48db24" d="M1457 1582h0"/>
<path stroke="#2400b7" d="M1382 1585h0m1 4h0m1-82h0m0 70h0m1 41h0m1-57h0m2 9h0m4 14h0"/>
<path stroke="#939324" d="M1408 1621h0m9 11h0m0 1h0"/>
<path stroke="#00246c" d="M1396 1579h0m4 17h0m4 4h0m11-7h0"/>
<path stroke="#486c93" d="M1399 1581h0m1 16h0m12-3h0m14-4h0"/>
<path stroke="#ffffb7" d="M1671 1552h0m16-1h0m2-6h0m11 1h0"/>
<path stroke="#486cb7" d="M1401 1572h0m22-9h0"/>
<path stroke="#6c0048" d="M1385 1597h0"/>
<path stroke="#932448" d="M1385 1606h0m2 7h0"/>
<path stroke="#246c93" d="M1416 1582h0m5-5h0m2 11h0m2-21h0m0 12h0m2-15h0m4 10h0m5 13h0"/>
<path stroke="#009324" d="M1422 1612h0m5-4h0m2 5h0"/>
<path stroke="#dbff00" d="M1428 1617h0m9 3h0m38 1h0m10 8h0"/>
<path stroke="#dbb700" d="M1433 1632h0m40-17h0"/>
<path stroke="#004893" d="M1416 1582h0m1-21h0m9 18h0"/>
<path stroke="#6c48ff" d="M1384 1577h0m0 2h0m29-36h0"/>
<path stroke="#ffdb93" d="M1684 1553h0m7 20h0"/>
<path stroke="#6c24ff" d="M1381 1550h0m4-18h0m0 9h0m1 27h0m3 14h0m2-21h0m0 2h0"/>
<path stroke="#db0000" d="M1386 1613h0m12 12h0"/>
<path stroke="#b700b7" d="M1401 1508h0"/>
<path stroke="#4848b7" d="M1387 1573h0m1 14h0m2-41h0m2 17h0m2-7h0m1-2h0m1 3h0m10 19h0m5-11h0m2 39h0"/>
<path stroke="#249324" d="M1419 1608h0m1 6h0m3 5h0m4-13h0m0 10h0"/>
<path stroke="#932424" d="M1390 1619h0m1 0h0m2-21h0"/>
<path stroke="#ffff24" d="M1395 1626h0m17-2h0m15 6h0m1-2h0m7-11h0m2 2h0m1-1h0m0 5h0m3-5h0m2 3h0m2 0h0m0 12h0m5-12h0m0 1h0m2 3h0m2 0h0m2-18h0m0 12h0m2-6h0m2 15h0m11-27h0m0 12h0m11 1h0m1-5h0m7-5h0m5 24h0m4-34h0m0 23h0m0 4h0m4-14h0m27 16h0m1-14h0m2 13h0"/>
<path stroke="#93dbff" d="M1469 1522h0m12-30h0m7-4h0m11-4h0m5 19h0m4 3h0m83-78h0"/>
<path stroke="#ff24db" d="M1383 1492h0m1 2h0m7 16h0m1-33h0m0 29h0m7-19h0m3-2h0"/>
<path stroke="#ff00ff" d="M1381 1501h0m2 21h0m8-6h0m9-17h0"/>
<path stroke="#48b7b7" d="M1492 1555h0"/>
<path stroke="#6cffb7" d="M1478 1593h0m8-17h0m4 16h0m2-18h0m0 8h0m1-7h0m18 19h0m4-6h0"/>
<path stroke="#ffdb6c" d="M1642 1578h0m67 17h0"/>
<path stroke="#48486c" d="M1417 1592h0"/>
<path stroke="#ffdb48" d="M1433 1618h0m7 1h0m216-13h0m13-12h0m0 20h0m7-8h0m8-21h0m3 0h0m18-12h0m2 9h0m26 20h0"/>
<path stroke="#486cdb" d="M1406 1557h0m21-76h0m9 19h0"/>
<path stroke="#240093" d="M1382 1550h0m5 14h0m1-1h0m1 18h0m2-20h0m13-1h0"/>
<path stroke="#93ffff" d="M1472 1540h0m4-6h0m7-15h0m1-4h0m6 2h0m0 21h0m2-48h0m1 37h0m11-22h0m0 10h0m4 18h0m2 14h0m0 21h0"/>
<path stroke="#2493b7" d="M1412 1557h0m0 32h0"/>
<path stroke="#48b793" d="M1512 1593h0"/>
<path stroke="#ff24ff" d="M1388 1492h0m2-22h0m3 29h0m5 41h0m1-47h0m3 19h0m3 16h0m3-22h0"/>
<path stroke="#b748db" d="M1405 1456h0"/>
<path stroke="#6c24db" d="M1381 1511h0m3 27h0m1 34h0m3-55h0m12 36h0"/>
<path stroke="#009348" d="M1417 1614h0m4-14h0"/>
<path stroke="#4824ff" d="M1386 1565h0"/>
<path stroke="#6cffff" d="M1494 1527h0m6 19h0m19 28h0"/>
<path stroke="#6c0024" d="M1387 1603h0"/>
<path stroke="#9348ff" d="M1389 1536h0m33-58h0m6 37h0"/>
<path stroke="#6cdb93" d="M1462 1594h0m9-29h0m2 17h0m8-12h0m4 36h0m9-26h0m1-3h0m4 8h0m2-34h0m6 6h0m1 56h0m5-45h0"/>
<path stroke="#6cdb6c" d="M1483 1569h0"/>
<path stroke="#b74800" d="M1400 1621h0m6 10h0"/>
<path stroke="#2424b7" d="M1385 1566h0m4 8h0m1-16h0m5-24h0m2 18h0m4 15h0m4-15h0"/>
<path stroke="#6cffdb" d="M1479 1580h0m12 4h0m3-12h0m1-25h0m2-5h0m4 30h0m6-25h0m1 5h0m8 10h0m10-45h0m1 40h0m8-15h0m4 31h0m2-11h0"/>
<path stroke="#b7ff6c" d="M1447 1610h0m17-9h0m50-13h0m5-8h0m7 10h0m5 26h0m1 8h0m1-35h0m14 7h0"/>
<path stroke="#ff48db" d="M1395 1487h0"/>
<path stroke="#6c6cdb" d="M1403 1529h0m6-15h0m1 54h0m2-76h0m3 45h0m10-14h0m6-22h0m13-6h0"/>
<path stroke="#936c24" d="M1412 1622h0m1 6h0m4 0h0m0 4h0"/>
<path stroke="#ffff00" d="M1475 1614h0"/>
<path stroke="#ffdb00" d="M1464 1620h0"/>
<path stroke="#6cff93" d="M1465 1585h0m15-16h0m7 8h0m0 11h0m1-14h0m1-5h0m2-14h0m1 26h0m8-2h0m3 2h0m21 4h0"/>
<path stroke="#934800" d="M1393 1630h0"/>
<path stroke="#b79348" d="M1419 1626h0"/>
<path stroke="#4893ff" d="M1429 1494h0"/>
<path stroke="#936cff" d="M1386 1573h0m4-28h0m5-1h0m10 14h0m3-29h0m4 0h0m1 14h0m2 8h0m1-69h0m3 60h0m0 15h0m1-27h0m3 39h0m3-35h0m4 8h0m5-9h0m3-4h0m1 40h0m5-48h0m7-8h0"/>
<path stroke="#6c93db" d="M1429 1508h0m5-38h0"/>
<path stroke="#0093b7" d="M1429 1566h0"/>
<path stroke="#b793db" d="M1435 1465h0"/>
<path stroke="#936cdb" d="M1404 1542h0m15-35h0m0 59h0m4-38h0m3 12h0m0 17h0m6-37h0m9 12h0m10-15h0"/>
<path stroke="#b76cff" d="M1396 1532h0m11-27h0m1 42h0m16-25h0m4-18h0m1 9h0m13 3h0"/>
<path stroke="#b72400" d="M1387 1628h0m1-2h0m20 2h0"/>
<path stroke="#db48ff" d="M1381 1513h0m15-7h0m7 8h0m6-46h0m9 42h0"/>
<path stroke="#dbb7db" d="M1425 1480h0m3 3h0m11-19h0m0 23h0m6-6h0m14 23h0"/>
<path stroke="#006c24" d="M1423 1608h0m2 8h0"/>
<path stroke="#6cb748" d="M1419 1607h0m29-27h0m2 20h0m20-7h0"/>
<path stroke="#9348db" d="M1412 1503h0m3 20h0m1-13h0m7-6h0m0 20h0m3-30h0m0 5h0m3 40h0"/>
<path stroke="#00486c" d="M1400 1589h0m10-23h0m1 40h0m4-8h0m1-35h0m3 46h0"/>
<path stroke="#dbffff" d="M1410 1532h0m16-1h0m1-4h0m4 32h0m12 1h0m2-11h0m5-27h0m11-2h0m10 8h0m2-20h0m3 29h0m8 11h0m18 13h0m1-37h0m34 11h0m1-39h0m14 25h0m68 37h0m1-3h0m10-31h0"/>
<path stroke="#93ff48" d="M1419 1588h0m15 4h0m10 4h0m1 9h0m2-17h0m1 6h0m4-1h0m4 18h0m1 3h0m1-31h0m1 26h0m8-17h0m14 21h0m35 13h0m8-62h0"/>
<path stroke="#24246c" d="M1399 1604h0m1-7h0m1-8h0"/>
<path stroke="#002448" d="M1403 1588h0m4 12h0"/>
<path stroke="#b793b7" d="M1470 1479h0"/>
<path stroke="#b70000" d="M1387 1618h0m1 2h0m2 2h0m2 11h0m1-4h0"/>
<path stroke="#2424db" d="M1396 1516h0"/>
<path stroke="#4800b7" d="M1382 1550h0m0 42h0m2-15h0m2-3h0m7 7h0m2 20h0"/>
<path stroke="#93dbdb" d="M1479 1492h0m4 22h0m4 21h0m63-99h0m19 104h0m9 0h0"/>
<path stroke="#db2448" d="M1386 1602h0m2 20h0m3-1h0"/>
<path stroke="#dbb7ff" d="M1433 1518h0m4-45h0m1-12h0m3 48h0m1-14h0m0 37h0m7-37h0m2 4h0m1-30h0m1 28h0m4-5h0m1-36h0m1 8h0m0 24h0m34-4h0"/>
<path stroke="#6c48b7" d="M1402 1558h0"/>
<path stroke="#4893db" d="M1420 1564h0"/>
<path stroke="#dbffdb" d="M1551 1535h0"/>
<path stroke="#480093" d="M1398 1568h0"/>
<path stroke="#b7ffdb" d="M1490 1511h0m8 74h0m37-72h0m14 86h0m19-71h0m3 14h0m10-39h0"/>
<path stroke="#b7ff48" d="M1454 1592h0m8-7h0m50-3h0m6 9h0m0 19h0m3-9h0m12-11h0"/>
<path stroke="#ff48ff" d="M1396 1482h0m1 8h0m5 12h0m6-34h0m2 5h0m2-19h0m4-50h0"/>
<path stroke="#93ff93" d="M1492 1578h0m7-1h0m5 5h0"/>
<path stroke="#000093" d="M1381 1565h0m12 1h0"/>
<path stroke="#48ff93" d="M1473 1574h0m5-2h0"/>
<path stroke="#ff6cdb" d="M1392 1484h0m11-2h0m6-51h0m9-9h0m4 19h0"/>
<path stroke="#b7ff24" d="M1514 1588h0m57 30h0"/>
<path stroke="#00b724" d="M1432 1611h0"/>
<path stroke="#936cb7" d="M1422 1546h0"/>
<path stroke="#b7ffb7" d="M1503 1596h0"/>
<path stroke="#6cdbff" d="M1471 1522h0m28 18h0"/>
<path stroke="#6c00b7" d="M1381 1536h0m1-26h0m4 20h0"/>
<path stroke="#9324db" d="M1389 1548h0m6-19h0"/>
<path stroke="#b793ff" d="M1409 1504h0m4 7h0m3 41h0m2-14h0m2 5h0m21-27h0m5 20h0"/>
<path stroke="#ffdbff" d="M1417 1552h0m8-34h0m9 39h0m1-14h0m2-46h0m5 1h0m1 7h0m1 33h0m1-37h0m0 75h0m3-47h0m1-56h0m4 64h0m4-12h0m2-56h0m2 85h0m2-74h0m1 4h0m4 32h0m3 42h0m6-54h0"/>
<path stroke="#b7db48" d="M1505 1613h0m22-18h0m17 27h0m153-61h0"/>
<path stroke="#dbff48" d="M1438 1623h0m20-4h0m11 6h0m8-16h0m5 20h0m15-28h0m8 3h0m4 7h0m0 7h0m1-27h0m0 7h0m1 13h0m10 5h0m1-37h0m168 11h0"/>
<path stroke="#b7b7ff" d="M1424 1562h0"/>
<path stroke="#b74824" d="M1406 1631h0m4-3h0"/>
<path stroke="#b72448" d="M1389 1616h0"/>
<path stroke="#b7dbff" d="M1442 1569h0m36-18h0m67-53h0"/>
<path stroke="#db6c24" d="M1393 1633h0m6-4h0m0 2h0m14-4h0"/>
<path stroke="#244848" d="M1399 1585h0"/>
<path stroke="#dbff24" d="M1426 1615h0m3 14h0m1-24h0m2 18h0m2-2h0m3 1h0m5 5h0m15-8h0m3-26h0m0 18h0m1 2h0m0 9h0m11-37h0m2 40h0m3-13h0m14 8h0m1-27h0m4 40h0m1-18h0m1-1h0m1-14h0m0 14h0m0 7h0m1-22h0m1 19h0m7-3h0m12-2h0m1 10h0m9 0h0m0 0h0m0 3h0m1 4h0m3-17h0m0 18h0m210-54h0"/>
<path stroke="#b7db24" d="M1479 1620h0m8-26h0m7 18h0m26-2h0"/>
<path stroke="#4824b7" d="M1381 1589h0m2-3h0m0 4h0m1-10h0m1-12h0m3 8h0m0 2h0m2-23h0m0 24h0m1-54h0m0 19h0m4 25h0m8-10h0m2-21h0m6 45h0"/>
<path stroke="#482493" d="M1403 1530h0m3 41h0m6-23h0"/>
<path stroke="#b7b7db" d="M1465 1483h0"/>
<path stroke="#249348" d="M1419 1606h0m0 9h0m1 1h0m5-2h0m0 7h0"/>
<path stroke="#dbdb48" d="M1439 1620h0m3 11h0m3-10h0m15 3h0m15-2h0m179-29h0m17-27h0m11 24h0m4-14h0m0 10h0m2 3h0m5-4h0m3-14h0m2 8h0m4 16h0m4-7h0m21-7h0"/>
<path stroke="#db0024" d="M1386 1631h0m4-9h0m4-2h0"/>
<path stroke="#93ffb7" d="M1444 1566h0m4 28h0m20-31h0m2 6h0m1 16h0m3-11h0m3-1h0m0 5h0m1 6h0m2-4h0m6-8h0m4-9h0m0 33h0m4-3h0m1-4h0m3-8h0m9 33h0m4-11h0m1-41h0m2 10h0m10 22h0m3-20h0"/>
<path stroke="#b7ffb7" d="M1477 1589h0m15-19h0m11 27h0m104-153h0"/>
<path stroke="#dbdbdb" d="M1426 1549h0m3-77h0m3 6h0m2 80h0m11-77h0m4 46h0m4-34h0m6 49h0m2-8h0m8 3h0m4 32h0m2-15h0m4 8h0m1 13h0m82-37h0"/>
<path stroke="#000093" d="M1386 1614h0m1-57h0m11-5h0"/>
<path stroke="#b74824" d="M1390 1629h0m10-13h0"/>
<path stroke="#6cdbdb" d="M1459 1516h0m2 27h0m18-10h0m5-10h0m13 40h0m1-24h0m7 27h0m7-8h0m0 2h0m6 13h0"/>
<path stroke="#002448" d="M1401 1594h0m5-11h0m3 8h0m2-12h0m0 7h0"/>
<path stroke="#246cdb" d="M1425 1573h0"/>
<path stroke="#ffff93" d="M1653 1579h0m23 14h0m4-28h0m7 21h0m3-31h0m6 12h0"/>
<path stroke="#db48b7" d="M1410 1486h0m2-26h0m0 18h0m3-15h0"/>
<path stroke="#246c93" d="M1418 1592h0m9-24h0m10 19h0m3-30h0"/>
<path stroke="#486cb7" d="M1421 1587h0m12-11h0"/>
<path stroke="#006c93" d="M1403 1591h0m33-26h0"/>
<path stroke="#6cb7ff" d="M1457 1490h0"/>
<path stroke="#6c93ff" d="M1406 1562h0m9-48h0m2-13h0m0 16h0m1-16h0m1-22h0m7 40h0m4-44h0m1 19h0m1 0h0m1-24h0m1 31h0m6 20h0m1-36h0m7 24h0m5-6h0"/>
<path stroke="#db24db" d="M1385 1484h0m5-11h0m10 4h0m3-6h0m6 44h0m1-24h0m1 6h0m1-15h0m11-33h0"/>
<path stroke="#ffdbff" d="M1420 1534h0m2-37h0m10-21h0m6 89h0m7-78h0m0 43h0m14-65h0m3 44h0m4-31h0m0 37h0m3-63h0m6 88h0m4-34h0m3 24h0m1 22h0m11-25h0"/>
<path stroke="#ff4824" d="M1389 1627h0m5-7h0"/>
<path stroke="#dbdb24" d="M1419 1615h0m2-1h0m4 3h0m9 8h0m2-15h0m0 7h0m1-4h0m2-1h0m13-3h0m8 10h0m1 3h0m1 1h0m2-10h0m3 5h0m0 10h0m4-9h0m3-10h0m0 18h0m5-11h0m5-7h0m3 15h0m2 5h0m5-22h0m9-13h0m5 7h0m0 9h0m17 15h0m11 0h0m132-41h0m26 25h0m4-27h0"/>
<path stroke="#6c6cff" d="M1411 1535h0m4-8h0m13-39h0m8 34h0m3-43h0m1 22h0m1-2h0m2-32h0m1 20h0m3-5h0m7 23h0"/>
<path stroke="#db24ff" d="M1380 1523h0m8-17h0m1-23h0m0 27h0m3-23h0m1 3h0m1 32h0m2-10h0m1-1h0m2-16h0m3 14h0m1 21h0m3-21h0"/>
<path stroke="#9300db" d="M1382 1549h0m6 17h0"/>
<path stroke="#dbffff" d="M1417 1591h0m18-72h0m7 9h0m2 3h0m0 2h0m5-13h0m7-15h0m5 21h0m3-19h0m14 62h0m17-55h0m27-29h0m18 143h0m1-91h0"/>
<path stroke="#dbffdb" d="M1537 1498h0m3 55h0"/>
<path stroke="#6c48b7" d="M1397 1540h0"/>
<path stroke="#6c2493" d="M1399 1550h0"/>
<path stroke="#93ffff" d="M1463 1463h0m4 38h0m0 8h0m11-9h0m7 15h0m5 8h0m1-4h0m2 37h0m7-36h0m8-6h0m18 34h0"/>
<path stroke="#dbdb48" d="M1467 1612h0m18 10h0m11-3h0m21-19h0m139 8h0m10-23h0m23-10h0m7 3h0m3-12h0m13 16h0"/>
<path stroke="#2493b7" d="M1421 1577h0"/>
<path stroke="#6cffff" d="M1514 1563h0"/>
<path stroke="#93b7ff" d="M1429 1477h0m8 6h0"/>
<path stroke="#489393" d="M1425 1568h0"/>
<path stroke="#6c00db" d="M1383 1522h0m0 18h0m1-20h0m1-3h0m0 23h0m1-20h0m0 1h0m1 22h0m0 70h0m1-73h0m1 1h0"/>
<path stroke="#db2424" d="M1382 1609h0m4 12h0m1-2h0m2 6h0m0 8h0m2-2h0m4-9h0m1-1h0m1-4h0"/>
<path stroke="#9393db" d="M1420 1506h0"/>
<path stroke="#6c00ff" d="M1384 1537h0m0 8h0m1 27h0m1-50h0m1 16h0m3 17h0"/>
<path stroke="#93dbdb" d="M1501 1493h0m80-34h0m1 38h0"/>
<path stroke="#484893" d="M1397 1538h0m7 32h0"/>
<path stroke="#6c0000" d="M1389 1594h0"/>
<path stroke="#48db93" d="M1477 1599h0m6-28h0m19 1h0"/>
<path stroke="#b7db6c" d="M1527 1599h0m10-18h0m7 22h0m3-38h0"/>
<path stroke="#009324" d="M1410 1613h0m6-8h0m5 9h0m7-2h0m4-11h0m1 0h0m0 29h0"/>
<path stroke="#48db6c" d="M1458 1568h0"/>
<path stroke="#93ffdb" d="M1466 1596h0m13-23h0m13-23h0m7 7h0m3 9h0m5 1h0m2 13h0m5-31h0m3 34h0"/>
<path stroke="#ff2448" d="M1388 1616h0"/>
<path stroke="#ff2424" d="M1396 1618h0"/>
<path stroke="#6c24db" d="M1381 1587h0m6-49h0m2-6h0m6 9h0m3 3h0m3 0h0"/>
<path stroke="#dbdb00" d="M1426 1627h0m7 1h0m16-4h0m0 1h0m13-4h0m11-2h0m5 8h0m23-5h0m13-10h0"/>
<path stroke="#93ff24" d="M1427 1595h0m23 9h0"/>
<path stroke="#242493" d="M1384 1566h0m12-26h0m0 10h0m3-6h0m8 10h0"/>
<path stroke="#936c24" d="M1415 1627h0"/>
<path stroke="#ff6cdb" d="M1403 1496h0m8-29h0m8-89h0"/>
<path stroke="#b700b7" d="M1395 1471h0"/>
<path stroke="#b7db24" d="M1473 1620h0"/>
<path stroke="#4800db" d="M1382 1571h0m2-43h0m2 15h0m7-2h0m2-4h0"/>
<path stroke="#ff6cff" d="M1403 1443h0m7 28h0m3 36h0m1-18h0m2-33h0m3-7h0m0 10h0m0 32h0m3-8h0"/>
<path stroke="#4893db" d="M1426 1600h0"/>
<path stroke="#db6c24" d="M1392 1625h0m5-4h0m8 3h0"/>
<path stroke="#b76cff" d="M1410 1520h0m1 54h0m9-59h0m13 0h0"/>
<path stroke="#48db24" d="M1456 1596h0"/>
<path stroke="#ff9324" d="M1407 1627h0m1 4h0"/>
<path stroke="#6c48db" d="M1384 1570h0m16-33h0m2 32h0m2-46h0m2-20h0m1 83h0m3-56h0m7-1h0m3 28h0m3-12h0m1-16h0m13 30h0"/>
<path stroke="#dbb7db" d="M1449 1465h0m8 4h0m6-5h0"/>
<path stroke="#b7ff24" d="M1488 1600h0m121 10h0m56-25h0"/>
<path stroke="#db48db" d="M1381 1507h0m4-21h0m13-36h0m1 24h0m0 25h0m4-50h0m2 32h0m3-8h0m2-11h0m1 18h0m3-10h0m1 5h0m6-73h0"/>
<path stroke="#936cdb" d="M1389 1574h0m20-27h0m2-35h0m5-5h0m10 42h0m2 30h0m7-21h0m4-30h0m2 0h0"/>
<path stroke="#dbff6c" d="M1657 1574h0m14 12h0m32-5h0m5 15h0"/>
<path stroke="#006c24" d="M1423 1603h0m4 25h0"/>
<path stroke="#db0000" d="M1385 1621h0m4 10h0m1-3h0m1-18h0m1 13h0m2-9h0"/>
<path stroke="#6cdb48" d="M1418 1573h0m10 43h0m16-33h0m11 25h0m7-10h0m3 4h0m3 14h0"/>
<path stroke="#db48ff" d="M1385 1509h0m13-31h0m1 22h0m8-41h0m0 65h0m8-69h0"/>
<path stroke="#930000" d="M1386 1605h0m4 19h0"/>
<path stroke="#b7dbff" d="M1452 1497h0m2 34h0m104-75h0m42-44h0m22 167h0"/>
<path stroke="#db00db" d="M1385 1517h0m10-45h0m1 29h0m3 26h0m3-7h0m1-21h0m1-12h0m2 9h0m3 2h0"/>
<path stroke="#9348db" d="M1412 1519h0m17 20h0m4 21h0m2-45h0m8 16h0"/>
<path stroke="#48dbb7" d="M1477 1595h0m8-34h0m23 11h0"/>
<path stroke="#93dbb7" d="M1466 1607h0m9-10h0m2 6h0m24-33h0"/>
<path stroke="#ff48db" d="M1396 1492h0m5-24h0m6 2h0m14-49h0m5 87h0"/>
<path stroke="#939300" d="M1409 1629h0"/>
<path stroke="#ff0048" d="M1386 1618h0"/>
<path stroke="#6cff24" d="M1426 1609h0"/>
<path stroke="#486cdb" d="M1400 1569h0m18-61h0m12-25h0m5 12h0m8 2h0"/>
<path stroke="#b76c24" d="M1417 1623h0"/>
<path stroke="#93db6c" d="M1438 1586h0m23-5h0m55 23h0m19 23h0"/>
<path stroke="#6cff6c" d="M1482 1568h0"/>
<path stroke="#dbff24" d="M1408 1617h0m0 2h0m11-1h0m5-7h0m9 4h0m4 18h0m3-5h0m1-18h0m2 4h0m1-5h0m5 12h0m2-11h0m3 4h0m6 7h0m5 1h0m2 3h0m1 6h0m9-15h0m2 10h0m5-29h0m11 20h0m2-3h0m1-7h0m0 7h0m7-11h0m2 23h0m3-6h0m1-11h0m0 23h0m20-9h0m5-4h0m0 5h0"/>
<path stroke="#b70024" d="M1385 1619h0m1-9h0m0 9h0"/>
<path stroke="#db2400" d="M1385 1607h0m3 12h0m1 5h0m3 1h0m4 6h0"/>
<path stroke="#93b724" d="M1439 1625h0"/>
<path stroke="#6cffb7" d="M1454 1602h0m9-27h0m5 14h0m5-23h0m1 23h0m0 0h0m5 14h0m8-22h0m1 7h0m2-24h0m1 11h0m5 16h0m2-33h0m5 41h0m4-46h0m4 44h0m10-52h0"/>
<path stroke="#6cffdb" d="M1451 1578h0m44-25h0m0 8h0m13-6h0m3 3h0m6 14h0m7-20h0m2-16h0"/>
<path stroke="#db6cff" d="M1406 1490h0m1-48h0m4 43h0m2-13h0m9 22h0m4-35h0m2 2h0"/>
<path stroke="#482493" d="M1404 1577h0m11 1h0"/>
<path stroke="#2448b7" d="M1389 1562h0m10 11h0"/>
<path stroke="#9324ff" d="M1384 1536h0m2 7h0m4-3h0m3-21h0m0 16h0m3 16h0"/>
<path stroke="#b7ffdb" d="M1476 1575h0m55-36h0m32-72h0m5 34h0m12 25h0m9-2h0"/>
<path stroke="#b7b7ff" d="M1429 1558h0"/>
<path stroke="#932448" d="M1386 1624h0"/>
<path stroke="#249324" d="M1415 1614h0m4 0h0m3 5h0m5-5h0m3-11h0m2 2h0"/>
<path stroke="#6c24b7" d="M1383 1555h0m10 5h0m13-23h0m26-11h0"/>
<path stroke="#6cdb24" d="M1431 1584h0m8 0h0m7 9h0m3 12h0m3-4h0m4-4h0m0 11h0m7-24h0m11 9h0"/>
<path stroke="#db93ff" d="M1425 1472h0"/>
<path stroke="#48b793" d="M1503 1591h0m0 5h0"/>
<path stroke="#6cb7db" d="M1479 1542h0"/>
<path stroke="#b793ff" d="M1397 1534h0m30-20h0m1-6h0m4-11h0m3 19h0m14 24h0m3-14h0"/>
<path stroke="#6cb724" d="M1442 1582h0m5 8h0m3 3h0m2 1h0m19-12h0"/>
<path stroke="#246cb7" d="M1406 1484h0m12 103h0m10-3h0m3 5h0m2 6h0m3-4h0m11-12h0"/>
<path stroke="#b7dbdb" d="M1434 1582h0m14-28h0m13-1h0m14 10h0m118-34h0"/>
<path stroke="#6cff48" d="M1448 1606h0m21-6h0m9 4h0"/>
<path stroke="#4848b7" d="M1391 1540h0m6 10h0m1 0h0m6 5h0m5-4h0m28-65h0"/>
<path stroke="#4893b7" d="M1413 1573h0m6 2h0"/>
<path stroke="#b70000" d="M1385 1626h0m3-4h0m3 5h0m3-5h0"/>
<path stroke="#db6c48" d="M1394 1629h0m13-7h0"/>
<path stroke="#dbb700" d="M1452 1630h0"/>
<path stroke="#240093" d="M1386 1583h0m13-13h0m1 38h0"/>
<path stroke="#2424b7" d="M1382 1574h0m6 12h0m2-23h0m9 18h0m4-3h0m1-30h0m20 7h0"/>
<path stroke="#ffdb6c" d="M1668 1577h0m9 29h0m22-40h0"/>
<path stroke="#2400db" d="M1385 1573h0m7 4h0"/>
<path stroke="#ffffb7" d="M1694 1570h0"/>
<path stroke="#939324" d="M1419 1631h0"/>
<path stroke="#4824b7" d="M1385 1557h0m1-2h0m1 23h0m7-13h0m1-25h0m0 9h0m0 20h0m3-4h0m1-5h0m0 3h0m4 7h0m3 9h0m3-14h0m3 15h0"/>
<path stroke="#2424db" d="M1383 1565h0m2 31h0"/>
<path stroke="#24246c" d="M1391 1575h0m12 21h0m8 0h0"/>
<path stroke="#4848ff" d="M1411 1550h0"/>
<path stroke="#ff24db" d="M1394 1479h0m5 41h0m1-14h0m5-8h0"/>
<path stroke="#486cff" d="M1425 1526h0"/>
<path stroke="#6c0024" d="M1389 1597h0m0 10h0m3-11h0m0 8h0"/>
<path stroke="#b7246c" d="M1393 1614h0"/>
<path stroke="#6c00b7" d="M1388 1517h0"/>
<path stroke="#ffdb48" d="M1436 1613h0m240-35h0m4-23h0m22 35h0"/>
<path stroke="#24486c" d="M1408 1575h0m1 16h0m0 9h0m0 1h0m5-34h0m1 2h0m4 35h0"/>
<path stroke="#db4800" d="M1400 1619h0m2 3h0m2 0h0"/>
<path stroke="#00486c" d="M1402 1587h0m19 0h0m4-8h0m0 3h0"/>
<path stroke="#b7ffff" d="M1454 1518h0m28-1h0m24-25h0m26 46h0m16 57h0m14-124h0m10-7h0m22 46h0m49 93h0"/>
<path stroke="#930024" d="M1383 1601h0m2-3h0m1 2h0m1 16h0m1 3h0"/>
<path stroke="#00b748" d="M1413 1627h0"/>
<path stroke="#6cdb6c" d="M1436 1592h0m52-39h0"/>
<path stroke="#b748db" d="M1393 1456h0m16-10h0m2 17h0m1-2h0m1 26h0m10-4h0"/>
<path stroke="#dbff93" d="M1701 1592h0"/>
<path stroke="#dbb724" d="M1494 1594h0"/>
<path stroke="#6cff93" d="M1446 1596h0m18-10h0m22-11h0m8 36h0m1-36h0m6 16h0m3-23h0m10-14h0"/>
<path stroke="#93db24" d="M1450 1585h0m4-2h0"/>
<path stroke="#6c24ff" d="M1384 1551h0m0 18h0m1-33h0m3-2h0m4 36h0m1-4h0m1-16h0m9-8h0"/>
<path stroke="#6cdb93" d="M1466 1592h0m3-32h0m2-6h0m14 35h0m1-12h0m1 1h0m2-3h0m1-12h0m6 47h0m18-26h0m7-4h0"/>
<path stroke="#48246c" d="M1417 1583h0"/>
<path stroke="#48b748" d="M1426 1606h0m3 9h0"/>
<path stroke="#00006c" d="M1405 1599h0"/>
<path stroke="#6cb793" d="M1473 1575h0m13-2h0"/>
<path stroke="#ff0024" d="M1396 1619h0"/>
<path stroke="#ff00db" d="M1407 1484h0"/>
<path stroke="#93ff48" d="M1433 1599h0m6-7h0m14 11h0m2 12h0m3-27h0m6 19h0m1-21h0m9 5h0m2 1h0m2 26h0m42-12h0m9-50h0m21 69h0m1-37h0m0 37h0"/>
<path stroke="#ff24ff" d="M1388 1489h0m2 6h0m1-15h0m0 27h0m1-16h0m2-18h0m4 59h0m1-37h0m0 9h0m1-22h0m0 20h0m0 13h0m2-42h0m3 30h0m5 35h0"/>
<path stroke="#249348" d="M1416 1605h0m8 12h0m7-11h0m6 10h0"/>
<path stroke="#dbb7ff" d="M1409 1519h0m28-62h0m1 28h0m13-7h0m0 5h0m19 4h0m18 6h0"/>
<path stroke="#4800b7" d="M1382 1553h0m4 18h0m2-52h0m0 43h0m1-16h0m1 59h0m4-28h0m14 16h0"/>
<path stroke="#9348ff" d="M1385 1572h0m3-26h0m2-16h0"/>
<path stroke="#ffff6c" d="M1465 1614h0m26-5h0m163-16h0m9-11h0m5-17h0m2 8h0m2 4h0m5-2h0m0 18h0m3 1h0m2 5h0m5-16h0m2-5h0m8-4h0m1-6h0m3 36h0m2-5h0m5-23h0m0 22h0m3-10h0m20-8h0m19-9h0"/>
<path stroke="#6cdbb7" d="M1477 1582h0m3 17h0m1-40h0m6 32h0m1-12h0m2-4h0m2-28h0m0 20h0m14-14h0m5-14h0m12-5h0"/>
<path stroke="#24b748" d="M1426 1622h0m1-8h0m1-6h0"/>
<path stroke="#b70048" d="M1383 1603h0"/>
<path stroke="#ffff24" d="M1405 1605h0m15 13h0m3-2h0m1 13h0m2-8h0m2-5h0m2-5h0m1 7h0m1-6h0m0 5h0m16 12h0m1-9h0m0 4h0m0 5h0m5-14h0m1 1h0m3-4h0m1 13h0m0 4h0m3-8h0m1-1h0m10 1h0m3-9h0m0 5h0m0 7h0m2 5h0m1-13h0m1 5h0m5-4h0m4-10h0m48 17h0"/>
<path stroke="#6c6cdb" d="M1390 1552h0m20 40h0m5-60h0m3-43h0m2 4h0m3-31h0m11 24h0m2 20h0m20-15h0m6-14h0"/>
<path stroke="#dbdb6c" d="M1636 1601h0m43-16h0m48 6h0"/>
<path stroke="#b76cdb" d="M1400 1470h0"/>
<path stroke="#93ff6c" d="M1461 1616h0m45-33h0m9 43h0m11-33h0"/>
<path stroke="#486c93" d="M1411 1571h0m9-1h0m20 11h0"/>
<path stroke="#ffff48" d="M1419 1617h0m6-5h0m0 3h0m1 0h0m4 3h0m8 4h0m1-4h0m0 3h0m1 5h0m3-5h0m2 2h0m0 5h0m1-1h0m3 4h0m1-9h0m2 0h0m1 6h0m7-3h0m3-7h0m1 8h0m1 4h0m5 0h0m1 2h0m2-2h0m4-18h0m2-3h0m1 12h0m3 10h0m9-38h0m3 21h0m18-8h0m8-19h0m6 33h0m7 5h0m3 6h0m53-27h0m21 16h0m34-20h0m2 0h0m3-7h0m12-9h0m0 21h0m5-26h0m10 19h0m1-18h0m14-14h0m6 36h0m1-6h0m1-8h0m9 4h0m8-19h0m17 0h0m22 19h0"/>
<path stroke="#00246c" d="M1400 1600h0m3-13h0m1-5h0m2 16h0m1-22h0m2 26h0"/>
<path stroke="#2400b7" d="M1381 1570h0m1 12h0m2-15h0m0 5h0m2-5h0m1-2h0m1 22h0m6-22h0m12-25h0"/>
<path stroke="#db0024" d="M1382 1604h0m5 11h0m5 5h0m3 11h0"/>
<path stroke="#ffb7ff" d="M1444 1484h0m2-6h0m15 7h0"/>
<path stroke="#db4824" d="M1395 1628h0m6 4h0m1-11h0m6 6h0"/>
<path stroke="#b7db48" d="M1523 1583h0m7 22h0m3-9h0m4-8h0m1 4h0"/>
<path stroke="#4824ff" d="M1391 1530h0"/>
<path stroke="#6c93db" d="M1442 1484h0"/>
<path stroke="#dbff48" d="M1425 1606h0m11 24h0m8-7h0m6 9h0m29-38h0m12-1h0m7 12h0m10 3h0m0 10h0m3-22h0m11 25h0m148-27h0m2-25h0m2 8h0m14 14h0m10-9h0m4 8h0m11-2h0m12-6h0"/>
<path stroke="#b7db00" d="M1423 1621h0m66-15h0"/>
<path stroke="#93dbff" d="M1477 1517h0m5 21h0m5 3h0m5 5h0m2-8h0"/>
<path stroke="#4893ff" d="M1422 1458h0m4 18h0m0 33h0m11-7h0m4-14h0"/>
<path stroke="#0024b7" d="M1401 1585h0"/>
<path stroke="#9393ff" d="M1407 1541h0m5-78h0m3 51h0m2 27h0m7-47h0m8-3h0m4-5h0"/>
<path stroke="#930048" d="M1380 1610h0m5-4h0m2 15h0m5-6h0"/>
<path stroke="#b793db" d="M1392 1553h0m35-97h0m37 16h0"/>
<path stroke="#93db48" d="M1427 1596h0m8-6h0m4 16h0m15-34h0m2 27h0m0 0h0m1 11h0m2-11h0m1 13h0m9-26h0m33 3h0m31-10h0m1 30h0m29-11h0"/>
<path stroke="#ffdb00" d="M1438 1631h0"/>
<path stroke="#6cdbff" d="M1477 1485h0m8 28h0"/>
<path stroke="#b7ff48" d="M1466 1611h0m9-6h0m42-8h0m20 16h0m2-31h0"/>
<path stroke="#dbdbff" d="M1406 1554h0m6-5h0m0 20h0m5-34h0m1-16h0m0 49h0m6 18h0m1-30h0m1 3h0m1-46h0m2-20h0m0 21h0m0 19h0m0 15h0m1-1h0m1-28h0m0 20h0m1-13h0m0 15h0m0 23h0m2-38h0m0 8h0m1-42h0m0 53h0m2 52h0m2-82h0m2-7h0m0 48h0m1-33h0m0 24h0m1-15h0m0 6h0m1-55h0m0 21h0m0 51h0m1-31h0m0 28h0m1-34h0m0 5h0m0 21h0m0 30h0m1-33h0m0 11h0m1-32h0m0 10h0m0 25h0m1 11h0m0 2h0m2-11h0m1-60h0m0 66h0m1-63h0m0 36h0m0 3h0m0 30h0m1 22h0m2-106h0m0 47h0m1-7h0m1 11h0m1-42h0m1 46h0m1-15h0m0 13h0m0 10h0m0 22h0m1-43h0m0 24h0m0 8h0m1-30h0m1-48h0m0 28h0m0 50h0m2-38h0m0 13h0m1-11h0m1-77h0m0 108h0m1-11h0m2 11h0m4-38h0m2-14h0m0 51h0m1-33h0m0 44h0m1-67h0m2 41h0m2-31h0m1 33h0m2-4h0m1 1h0m0 30h0m1-30h0"/>
<path stroke="#249393" d="M1419 1582h0"/>
<path stroke="#9300ff" d="M1388 1518h0m1 42h0"/>
<path stroke="#b7ff6c" d="M1442 1590h0m15 17h0m49-6h0m8 17h0m16-11h0m2-28h0m1 28h0m19-10h0"/>
<path stroke="#db2448" d="M1385 1612h0m1 13h0"/>
<path stroke="#db00ff" d="M1397 1511h0"/>
<path stroke="#db6c00" d="M1399 1625h0"/>
<path stroke="#ff48ff" d="M1384 1497h0m1 14h0m16-6h0m1-21h0m2 7h0m4 18h0m5-53h0m10 16h0"/>
<path stroke="#b700db" d="M1393 1472h0"/>
<path stroke="#ffdb93" d="M1683 1564h0m30-11h0"/>
<path stroke="#b72424" d="M1388 1626h0"/>
<path stroke="#244893" d="M1401 1600h0m1 13h0m2 7h0m7 4h0"/>
<path stroke="#934800" d="M1396 1627h0"/>
<path stroke="#4848db" d="M1386 1595h0m24-27h0"/>
<path stroke="#dbff00" d="M1474 1604h0"/>
<path stroke="#ffffff" d="M1416 1526h0m13 28h0m1-22h0m1 23h0m6 27h0m13-49h0m1 8h0m37 17h0m9-169h0m151 104h0m12-4h0m4 20h0m0 7h0m6-20h0m1 16h0m2 0h0m6-27h0m2 9h0m4 16h0m3-19h0m2 17h0m0 18h0m0 6h0m1-48h0m0 8h0m0 2h0m1 18h0m4-39h0m0 38h0m8-3h0m2-16h0m0 14h0m4-9h0m6 7h0m1 17h0m2-25h0m1-8h0m4-14h0m2 23h0m5 2h0m6 32h0m20-52h0"/>
<path stroke="#936cff" d="M1403 1500h0m4 52h0m1-26h0m0 16h0m7 31h0m3-12h0m3-56h0m1-1h0m2 9h0m3 27h0m1 6h0m3-9h0m1-10h0m2-14h0m1-5h0m0 14h0m4-14h0m2 64h0m1-57h0m10 26h0m4-13h0"/>
<path stroke="#9324db" d="M1385 1576h0m7-28h0m7-23h0"/>
<path stroke="#24006c" d="M1411 1595h0"/>
<path stroke="#006cb7" d="M1421 1578h0"/>
<path stroke="#4824db" d="M1385 1571h0m2 4h0m7-50h0m5 19h0m0 12h0m12-7h0"/>
<path stroke="#0000b7" d="M1389 1572h0"/>
<path stroke="#ffdb24" d="M1403 1620h0m25 1h0m9 0h0m4 0h0m0 2h0m4 0h0m5-9h0m13 9h0m18-22h0m15 4h0"/>
<path stroke="#480093" d="M1398 1557h0m3-10h0"/>
<path stroke="#6c48ff" d="M1389 1552h0m9-26h0m3 7h0m23 2h0m12 13h0"/>
<path stroke="#004893" d="M1413 1591h0m7-38h0"/>
<path stroke="#ff93ff" d="M1422 1482h0m3-83h0"/>
<path stroke="#db6cdb" d="M1421 1443h0m2-36h0"/>
<path stroke="#93ff93" d="M1476 1592h0"/>
<path stroke="#932424" d="M1389 1600h0"/>
<line x1="1361" y1="1649" x2="1769.6" y2="1337.5" stroke="#000" stroke-width="3.2" stroke-linecap="butt"/>
</g></g>
</svg>
</body></html>
